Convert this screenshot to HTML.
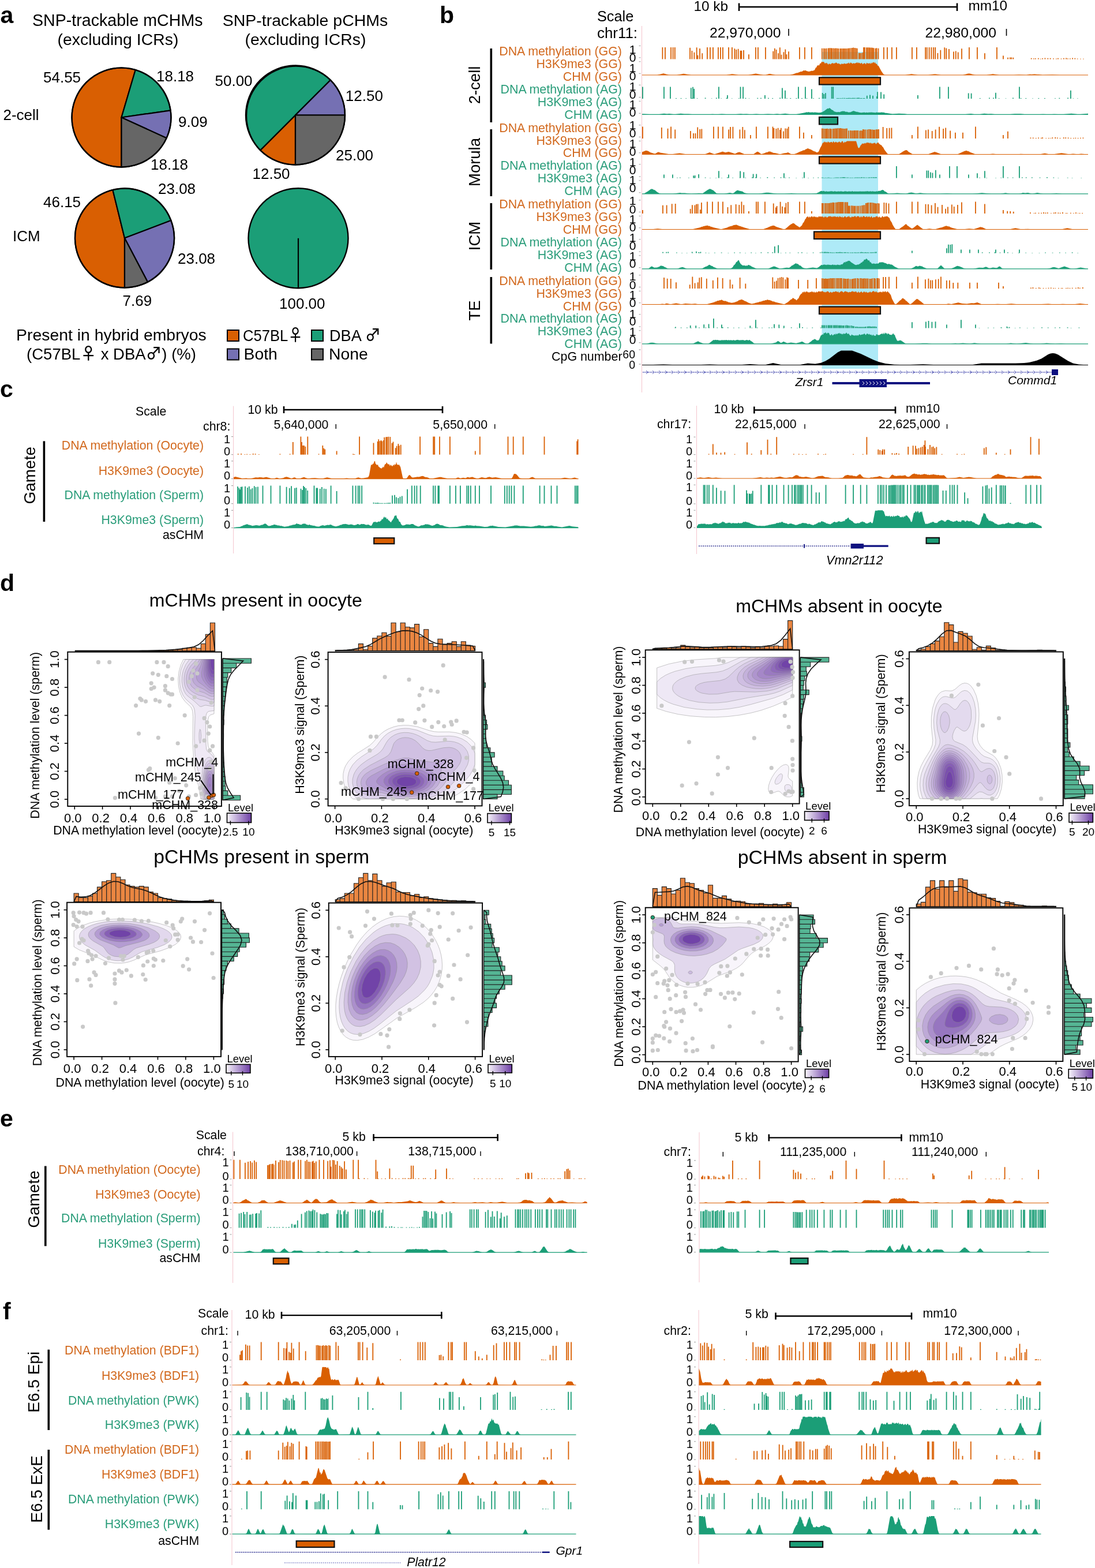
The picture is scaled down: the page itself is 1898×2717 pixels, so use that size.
<!DOCTYPE html>
<html><head><meta charset="utf-8"><title>Figure</title>
<style>html,body{margin:0;padding:0;background:#fff;}svg{display:block;}
text{font-family:"Liberation Sans", "DejaVu Sans", sans-serif;}</style></head>
<body><svg width="1898" height="2717" viewBox="0 0 1898 2717">
<rect width="1898" height="2717" fill="#fff"/>
<text x="0.5" y="39.5" font-size="41" font-weight="bold">a</text>
<text x="762" y="39.5" font-size="41" font-weight="bold">b</text>
<text x="0" y="688" font-size="41" font-weight="bold">c</text>
<text x="0" y="1023.5" font-size="41" font-weight="bold">d</text>
<text x="0" y="1952.4" font-size="41" font-weight="bold">e</text>
<text x="5" y="2285.8" font-size="41" font-weight="bold">f</text>
<path d="M210.5 203.5L210.5 289.5A86 86 0 1 1 234.8 121Z" fill="#D95F02" stroke="#000" stroke-width="2.2" stroke-linejoin="round"/>
<path d="M210.5 203.5L234.8 121A86 86 0 0 1 295.6 191.3Z" fill="#1B9E77" stroke="#000" stroke-width="2.2" stroke-linejoin="round"/>
<path d="M210.5 203.5L295.6 191.3A86 86 0 0 1 288.7 239.2Z" fill="#7570B3" stroke="#000" stroke-width="2.2" stroke-linejoin="round"/>
<path d="M210.5 203.5L288.7 239.2A86 86 0 0 1 210.5 289.5Z" fill="#666666" stroke="#000" stroke-width="2.2" stroke-linejoin="round"/>
<circle cx="210.5" cy="203.5" r="86" fill="none" stroke="#000" stroke-width="2.4"/>
<path d="M512 199.5L512 285.5A86 86 0 0 1 451.2 260.3Z" fill="#D95F02" stroke="#000" stroke-width="2.2" stroke-linejoin="round"/>
<path d="M512 199.5L451.2 260.3A86 86 0 0 1 572.8 138.7Z" fill="#1B9E77" stroke="#000" stroke-width="2.2" stroke-linejoin="round"/>
<path d="M512 199.5L572.8 138.7A86 86 0 0 1 598 199.5Z" fill="#7570B3" stroke="#000" stroke-width="2.2" stroke-linejoin="round"/>
<path d="M512 199.5L598 199.5A86 86 0 0 1 512 285.5Z" fill="#666666" stroke="#000" stroke-width="2.2" stroke-linejoin="round"/>
<circle cx="512" cy="199.5" r="86" fill="none" stroke="#000" stroke-width="2.4"/>
<path d="M216 412.5L216 498.5A86 86 0 0 1 195.4 329Z" fill="#D95F02" stroke="#000" stroke-width="2.2" stroke-linejoin="round"/>
<path d="M216 412.5L195.4 329A86 86 0 0 1 296.4 382Z" fill="#1B9E77" stroke="#000" stroke-width="2.2" stroke-linejoin="round"/>
<path d="M216 412.5L296.4 382A86 86 0 0 1 256 488.7Z" fill="#7570B3" stroke="#000" stroke-width="2.2" stroke-linejoin="round"/>
<path d="M216 412.5L256 488.7A86 86 0 0 1 216 498.5Z" fill="#666666" stroke="#000" stroke-width="2.2" stroke-linejoin="round"/>
<circle cx="216" cy="412.5" r="86" fill="none" stroke="#000" stroke-width="2.4"/>
<circle cx="517" cy="412.8" r="86.5" fill="#1B9E77"/>
<circle cx="517" cy="412.8" r="86.5" fill="none" stroke="#000" stroke-width="2.4"/>
<line x1="517" y1="412.8" x2="517" y2="499" stroke="#000" stroke-width="2.2"/>
<text x="56" y="44.5" font-size="28.6">SNP-trackable mCHMs</text>
<text x="99.5" y="77.5" font-size="28.4">(excluding ICRs)</text>
<text x="385.7" y="44.5" font-size="28.5">SNP-trackable pCHMs</text>
<text x="424.5" y="77.5" font-size="28.4">(excluding ICRs)</text>
<text x="75" y="143" font-size="26">54.55</text>
<text x="271" y="140.5" font-size="26">18.18</text>
<text x="309" y="220" font-size="26">9.09</text>
<text x="261" y="293.8" font-size="26">18.18</text>
<text x="5.5" y="208" font-size="26">2-cell</text>
<text x="372.5" y="148.8" font-size="26">50.00</text>
<text x="598.8" y="175" font-size="26">12.50</text>
<text x="582" y="278" font-size="26">25.00</text>
<text x="437.5" y="310" font-size="26">12.50</text>
<text x="75" y="358.8" font-size="26">46.15</text>
<text x="274" y="335.8" font-size="26">23.08</text>
<text x="308" y="457" font-size="26">23.08</text>
<text x="212.5" y="529.5" font-size="26">7.69</text>
<text x="22" y="417.5" font-size="26">ICM</text>
<text x="484" y="535" font-size="26">100.00</text>
<text x="28" y="590" font-size="28.4">Present in hybrid embryos</text>
<text x="46" y="622.5" font-size="28.4" textLength="294" lengthAdjust="spacingAndGlyphs">(C57BL<tspan font-family="&quot;Noto Sans CJK JP&quot;, &quot;DejaVu Sans&quot;, sans-serif" font-weight="500">♀</tspan> x DBA<tspan font-family="&quot;Noto Sans CJK JP&quot;, &quot;DejaVu Sans&quot;, sans-serif" font-weight="500">♂</tspan>) (%)</text>
<rect x="394" y="572" width="20" height="19" fill="#D95F02" stroke="#000" stroke-width="2"/>
<rect x="540" y="572" width="20" height="19" fill="#1B9E77" stroke="#000" stroke-width="2"/>
<rect x="394" y="604.5" width="20" height="19" fill="#7570B3" stroke="#000" stroke-width="2"/>
<rect x="540" y="604.5" width="20" height="19" fill="#666666" stroke="#000" stroke-width="2"/>
<text x="421" y="590.8" font-size="28.4" textLength="104" lengthAdjust="spacingAndGlyphs">C57BL<tspan font-family="&quot;Noto Sans CJK JP&quot;, &quot;DejaVu Sans&quot;, sans-serif" font-weight="500">♀</tspan></text>
<text x="571" y="590.8" font-size="28.4" textLength="89" lengthAdjust="spacingAndGlyphs">DBA <tspan font-family="&quot;Noto Sans CJK JP&quot;, &quot;DejaVu Sans&quot;, sans-serif" font-weight="500">♂</tspan></text>
<text x="422.5" y="622.5" font-size="28.4">Both</text>
<text x="570" y="622.5" font-size="28.4">None</text>
<rect x="1424.5" y="90" width="97.5" height="549" fill="#AEEAF7"/>
<line x1="1112.5" y1="45" x2="1112.5" y2="680" stroke="#F4C4CD" stroke-width="1"/>
<text x="1035" y="37" font-size="25.3">Scale</text>
<text x="1035" y="65.5" font-size="25.3" textLength="70" lengthAdjust="spacingAndGlyphs">chr11:</text>
<text x="1202.5" y="19" font-size="24.3">10 kb</text>
<text x="1678.5" y="17.5" font-size="24.3">mm10</text>
<line x1="1280" y1="12" x2="1660" y2="12" stroke="#000" stroke-width="2.6"/>
<line x1="1281" y1="5.5" x2="1281" y2="19" stroke="#000" stroke-width="2.6"/>
<line x1="1659" y1="5.5" x2="1659" y2="19" stroke="#000" stroke-width="2.6"/>
<text x="1230" y="65" font-size="24.7">22,970,000</text>
<line x1="1367" y1="50" x2="1367" y2="62" stroke="#000" stroke-width="1.6"/>
<text x="1603.5" y="65" font-size="24.7">22,980,000</text>
<line x1="1744.5" y1="50" x2="1744.5" y2="62" stroke="#000" stroke-width="1.6"/>
<text x="1078" y="96.2" font-size="21.4" text-anchor="end" fill="#D2691E">DNA methylation (GG)</text>
<text x="1078" y="118.1" font-size="21.4" text-anchor="end" fill="#D2691E">H3K9me3 (GG)</text>
<text x="1078" y="139.9" font-size="21.4" text-anchor="end" fill="#D2691E">CHM (GG)</text>
<text x="1078" y="161.8" font-size="21.4" text-anchor="end" fill="#2A9D7A">DNA methylation (AG)</text>
<text x="1078" y="183.7" font-size="21.4" text-anchor="end" fill="#2A9D7A">H3K9me3 (AG)</text>
<text x="1078" y="205.5" font-size="21.4" text-anchor="end" fill="#2A9D7A">CHM (AG)</text>
<text x="1078" y="228.8" font-size="21.4" text-anchor="end" fill="#D2691E">DNA methylation (GG)</text>
<text x="1078" y="250.6" font-size="21.4" text-anchor="end" fill="#D2691E">H3K9me3 (GG)</text>
<text x="1078" y="272.4" font-size="21.4" text-anchor="end" fill="#D2691E">CHM (GG)</text>
<text x="1078" y="294.3" font-size="21.4" text-anchor="end" fill="#2A9D7A">DNA methylation (AG)</text>
<text x="1078" y="316.1" font-size="21.4" text-anchor="end" fill="#2A9D7A">H3K9me3 (AG)</text>
<text x="1078" y="338" font-size="21.4" text-anchor="end" fill="#2A9D7A">CHM (AG)</text>
<text x="1078" y="361.2" font-size="21.4" text-anchor="end" fill="#D2691E">DNA methylation (GG)</text>
<text x="1078" y="383.1" font-size="21.4" text-anchor="end" fill="#D2691E">H3K9me3 (GG)</text>
<text x="1078" y="404.9" font-size="21.4" text-anchor="end" fill="#D2691E">CHM (GG)</text>
<text x="1078" y="426.8" font-size="21.4" text-anchor="end" fill="#2A9D7A">DNA methylation (AG)</text>
<text x="1078" y="448.6" font-size="21.4" text-anchor="end" fill="#2A9D7A">H3K9me3 (AG)</text>
<text x="1078" y="470.5" font-size="21.4" text-anchor="end" fill="#2A9D7A">CHM (AG)</text>
<text x="1078" y="493.8" font-size="21.4" text-anchor="end" fill="#D2691E">DNA methylation (GG)</text>
<text x="1078" y="515.6" font-size="21.4" text-anchor="end" fill="#D2691E">H3K9me3 (GG)</text>
<text x="1078" y="537.5" font-size="21.4" text-anchor="end" fill="#D2691E">CHM (GG)</text>
<text x="1078" y="559.3" font-size="21.4" text-anchor="end" fill="#2A9D7A">DNA methylation (AG)</text>
<text x="1078" y="581.1" font-size="21.4" text-anchor="end" fill="#2A9D7A">H3K9me3 (AG)</text>
<text x="1078" y="603" font-size="21.4" text-anchor="end" fill="#2A9D7A">CHM (AG)</text>
<text x="832" y="147.5" font-size="27.5" text-anchor="middle" transform="rotate(-90 832 147.5)">2-cell</text>
<rect x="849.5" y="84" width="3.6" height="128" fill="#000"/>
<text x="832" y="281" font-size="27.5" text-anchor="middle" transform="rotate(-90 832 281)">Morula</text>
<rect x="849.5" y="224" width="3.6" height="116" fill="#000"/>
<text x="832" y="409" font-size="27.5" text-anchor="middle" transform="rotate(-90 832 409)">ICM</text>
<rect x="849.5" y="352" width="3.6" height="115" fill="#000"/>
<text x="832" y="538" font-size="27.5" text-anchor="middle" transform="rotate(-90 832 538)">TE</text>
<rect x="849.5" y="480" width="3.6" height="115.5" fill="#000"/>
<text x="1078.5" y="625" font-size="21.4" text-anchor="end">CpG number</text>
<text x="1101" y="620.5" font-size="19.5" text-anchor="end">60</text>
<text x="1101" y="639" font-size="19.5" text-anchor="end">0</text>
<line x1="1107.5" y1="606" x2="1110.5" y2="606" stroke="#9a9a9a" stroke-width="1"/>
<line x1="1107.5" y1="631" x2="1110.5" y2="631" stroke="#9a9a9a" stroke-width="1"/>
<line x1="1107.5" y1="79.3" x2="1110.5" y2="79.3" stroke="#9a9a9a" stroke-width="1"/>
<line x1="1107.5" y1="99.9" x2="1110.5" y2="99.9" stroke="#9a9a9a" stroke-width="1"/>
<line x1="1107.5" y1="106.8" x2="1110.5" y2="106.8" stroke="#9a9a9a" stroke-width="1"/>
<line x1="1107.5" y1="127.3" x2="1110.5" y2="127.3" stroke="#9a9a9a" stroke-width="1"/>
<line x1="1107.5" y1="147.3" x2="1110.5" y2="147.3" stroke="#9a9a9a" stroke-width="1"/>
<line x1="1107.5" y1="168.5" x2="1110.5" y2="168.5" stroke="#9a9a9a" stroke-width="1"/>
<line x1="1107.5" y1="175.3" x2="1110.5" y2="175.3" stroke="#9a9a9a" stroke-width="1"/>
<line x1="1107.5" y1="196.3" x2="1110.5" y2="196.3" stroke="#9a9a9a" stroke-width="1"/>
<text x="1102.5" y="92.7" font-size="21" text-anchor="end">1</text>
<text x="1102.5" y="107.2" font-size="21" text-anchor="end">0</text>
<text x="1102.5" y="124.8" font-size="21" text-anchor="end">1</text>
<text x="1102.5" y="138.5" font-size="21" text-anchor="end">0</text>
<text x="1102.5" y="156.9" font-size="21" text-anchor="end">1</text>
<text x="1102.5" y="170.6" font-size="21" text-anchor="end">0</text>
<text x="1102.5" y="188.2" font-size="21" text-anchor="end">1</text>
<text x="1102.5" y="202" font-size="21" text-anchor="end">0</text>
<line x1="1107.5" y1="216.8" x2="1110.5" y2="216.8" stroke="#9a9a9a" stroke-width="1"/>
<line x1="1107.5" y1="237.4" x2="1110.5" y2="237.4" stroke="#9a9a9a" stroke-width="1"/>
<line x1="1107.5" y1="244.3" x2="1110.5" y2="244.3" stroke="#9a9a9a" stroke-width="1"/>
<line x1="1107.5" y1="264.8" x2="1110.5" y2="264.8" stroke="#9a9a9a" stroke-width="1"/>
<line x1="1107.5" y1="284.8" x2="1110.5" y2="284.8" stroke="#9a9a9a" stroke-width="1"/>
<line x1="1107.5" y1="306" x2="1110.5" y2="306" stroke="#9a9a9a" stroke-width="1"/>
<line x1="1107.5" y1="312.8" x2="1110.5" y2="312.8" stroke="#9a9a9a" stroke-width="1"/>
<line x1="1107.5" y1="333.8" x2="1110.5" y2="333.8" stroke="#9a9a9a" stroke-width="1"/>
<text x="1102.5" y="223.9" font-size="21" text-anchor="end">1</text>
<text x="1102.5" y="238.4" font-size="21" text-anchor="end">0</text>
<text x="1102.5" y="256" font-size="21" text-anchor="end">1</text>
<text x="1102.5" y="269.7" font-size="21" text-anchor="end">0</text>
<text x="1102.5" y="288.1" font-size="21" text-anchor="end">1</text>
<text x="1102.5" y="301.8" font-size="21" text-anchor="end">0</text>
<text x="1102.5" y="319.4" font-size="21" text-anchor="end">1</text>
<text x="1102.5" y="333.2" font-size="21" text-anchor="end">0</text>
<line x1="1107.5" y1="346.8" x2="1110.5" y2="346.8" stroke="#9a9a9a" stroke-width="1"/>
<line x1="1107.5" y1="367.4" x2="1110.5" y2="367.4" stroke="#9a9a9a" stroke-width="1"/>
<line x1="1107.5" y1="374.3" x2="1110.5" y2="374.3" stroke="#9a9a9a" stroke-width="1"/>
<line x1="1107.5" y1="394.8" x2="1110.5" y2="394.8" stroke="#9a9a9a" stroke-width="1"/>
<line x1="1107.5" y1="414.8" x2="1110.5" y2="414.8" stroke="#9a9a9a" stroke-width="1"/>
<line x1="1107.5" y1="436" x2="1110.5" y2="436" stroke="#9a9a9a" stroke-width="1"/>
<line x1="1107.5" y1="442.8" x2="1110.5" y2="442.8" stroke="#9a9a9a" stroke-width="1"/>
<line x1="1107.5" y1="463.8" x2="1110.5" y2="463.8" stroke="#9a9a9a" stroke-width="1"/>
<text x="1102.5" y="355.1" font-size="21" text-anchor="end">1</text>
<text x="1102.5" y="369.6" font-size="21" text-anchor="end">0</text>
<text x="1102.5" y="387.2" font-size="21" text-anchor="end">1</text>
<text x="1102.5" y="400.9" font-size="21" text-anchor="end">0</text>
<text x="1102.5" y="419.3" font-size="21" text-anchor="end">1</text>
<text x="1102.5" y="433" font-size="21" text-anchor="end">0</text>
<text x="1102.5" y="450.6" font-size="21" text-anchor="end">1</text>
<text x="1102.5" y="464.4" font-size="21" text-anchor="end">0</text>
<line x1="1107.5" y1="476.8" x2="1110.5" y2="476.8" stroke="#9a9a9a" stroke-width="1"/>
<line x1="1107.5" y1="497.4" x2="1110.5" y2="497.4" stroke="#9a9a9a" stroke-width="1"/>
<line x1="1107.5" y1="504.3" x2="1110.5" y2="504.3" stroke="#9a9a9a" stroke-width="1"/>
<line x1="1107.5" y1="524.8" x2="1110.5" y2="524.8" stroke="#9a9a9a" stroke-width="1"/>
<line x1="1107.5" y1="544.8" x2="1110.5" y2="544.8" stroke="#9a9a9a" stroke-width="1"/>
<line x1="1107.5" y1="566" x2="1110.5" y2="566" stroke="#9a9a9a" stroke-width="1"/>
<line x1="1107.5" y1="572.8" x2="1110.5" y2="572.8" stroke="#9a9a9a" stroke-width="1"/>
<line x1="1107.5" y1="593.8" x2="1110.5" y2="593.8" stroke="#9a9a9a" stroke-width="1"/>
<text x="1102.5" y="486.3" font-size="21" text-anchor="end">1</text>
<text x="1102.5" y="500.8" font-size="21" text-anchor="end">0</text>
<text x="1102.5" y="518.4" font-size="21" text-anchor="end">1</text>
<text x="1102.5" y="532.1" font-size="21" text-anchor="end">0</text>
<text x="1102.5" y="550.5" font-size="21" text-anchor="end">1</text>
<text x="1102.5" y="564.2" font-size="21" text-anchor="end">0</text>
<text x="1102.5" y="581.8" font-size="21" text-anchor="end">1</text>
<text x="1102.5" y="595.6" font-size="21" text-anchor="end">0</text>
<path d="M1147.5 102.5v-20.5h1.8v20.5zM1152 102.5v-20.5h1.8v20.5zM1162.1 102.5v-20.5h1.8v20.5zM1165.7 102.5v-20.5h1.8v20.5zM1168.9 102.5v-20.5h1.8v20.5zM1195.1 102.5v-19.7h1.8v19.7zM1198.5 102.5v-14.4h1.8v14.4zM1202.5 102.5v-11.8h1.8v11.8zM1206.7 102.5v-20.2h1.8v20.2zM1208.6 102.5v-6.8h1.8v6.8zM1212.1 102.5v-18.5h1.8v18.5zM1216.3 102.5v-10.3h1.8v10.3zM1225 102.5v-20.5h1.8v20.5zM1230 102.5v-20.5h1.8v20.5zM1235 102.5v-20.5h1.8v20.5zM1244 102.5v-20.5h1.8v20.5zM1248 102.5v-20.5h1.8v20.5zM1252 102.5v-20.5h1.8v20.5zM1262 102.5v-20.5h1.8v20.5zM1268 102.5v-20.5h1.8v20.5zM1272.4 102.5v-18.3h1.8v18.3zM1275.3 102.5v-16.6h1.8v16.6zM1278.7 102.5v-17.7h1.8v17.7zM1282.6 102.5v-14.7h1.8v14.7zM1284.4 102.5v-14.7h1.8v14.7zM1288.1 102.5v-15.6h1.8v15.6zM1297 102.5v-8.2h1.8v8.2zM1309 102.5v-20.5h1.8v20.5zM1313 102.5v-20.5h1.8v20.5zM1326 102.5v-20.5h1.8v20.5zM1339.3 102.5v-13.7h1.8v13.7zM1341.9 102.5v-18.7h1.8v18.7zM1344.7 102.5v-16.6h1.8v16.6zM1348.2 102.5v-10.3h1.8v10.3zM1350.9 102.5v-20.2h1.8v20.2zM1353.6 102.5v-7.8h1.8v7.8zM1357.5 102.5v-12.2h1.8v12.2zM1360.4 102.5v-17h1.8v17zM1362.5 102.5v-8.3h1.8v8.3zM1366.1 102.5v-13.2h1.8v13.2zM1385 102.5v-20.5h1.8v20.5zM1394 102.5v-20.5h1.8v20.5zM1406 102.5v-20.5h1.8v20.5zM1424 102.5v-18.7h1.8v18.7zM1427 102.5v-18.8h1.8v18.8zM1429.4 102.5v-18.6h1.8v18.6zM1431.8 102.5v-18.7h1.8v18.7zM1434.8 102.5v-19h1.8v19zM1436.8 102.5v-19.3h1.8v19.3zM1439.2 102.5v-19.3h1.8v19.3zM1441.2 102.5v-18.9h1.8v18.9zM1443.6 102.5v-19h1.8v19zM1445.8 102.5v-18.8h1.8v18.8zM1448 102.5v-19.1h1.8v19.1zM1450.4 102.5v-18.7h1.8v18.7zM1452.6 102.5v-18.6h1.8v18.6zM1455.6 102.5v-18.4h1.8v18.4zM1457.6 102.5v-18.4h1.8v18.4zM1460 102.5v-18.4h1.8v18.4zM1462.2 102.5v-18.4h1.8v18.4zM1464.4 102.5v-18.4h1.8v18.4zM1466.6 102.5v-18.4h1.8v18.4zM1469 102.5v-18.8h1.8v18.8zM1471.2 102.5v-19.1h1.8v19.1zM1473.6 102.5v-19.3h1.8v19.3zM1476 102.5v-19.5h1.8v19.5zM1478.2 102.5v-19.9h1.8v19.9zM1480.4 102.5v-19.5h1.8v19.5zM1482.6 102.5v-19.3h1.8v19.3zM1484.8 102.5v-18.8h1.8v18.8zM1488 102.5v-10.7h1.8v10.7zM1490.2 102.5v-10.5h1.8v10.5zM1492.6 102.5v-10.7h1.8v10.7zM1495 102.5v-11.4h1v11.4zM1496 102.5v-20.5h1.8v20.5zM1498 102.5v-20.4h1.8v20.4zM1501 102.5v-20.3h1.8v20.3zM1503.2 102.5v-20.2h1.8v20.2zM1505.4 102.5v-20.3h1.8v20.3zM1507.4 102.5v-20h1.8v20zM1509.6 102.5v-19.9h1.8v19.9zM1511.6 102.5v-19.7h1.8v19.7zM1513.6 102.5v-19.2h1.8v19.2zM1516.6 102.5v-18.8h1.8v18.8zM1518.6 102.5v-19.3h1.8v19.3zM1521.6 102.5v-18.7h1.8v18.7zM1531 102.5v-20.5h1.8v20.5zM1537 102.5v-20.5h1.8v20.5zM1545 102.5v-20.5h1.8v20.5zM1553 102.5v-20.5h1.8v20.5zM1580 102.5v-20.5h1.8v20.5zM1588 102.5v-20.5h1.8v20.5zM1603.2 102.5v-20.5h1.8v20.5zM1605.8 102.5v-20.5h1.8v20.5zM1609.7 102.5v-20.5h1.8v20.5zM1613.5 102.5v-20.5h1.8v20.5zM1617.1 102.5v-20.5h1.8v20.5zM1620.2 102.5v-20.5h1.8v20.5zM1624.5 102.5v-10.5h1.8v10.5zM1629.4 102.5v-15.7h1.8v15.7zM1636.3 102.5v-20.3h1.8v20.3zM1639.3 102.5v-19.1h1.8v19.1zM1644 102.5v-17.4h1.8v17.4zM1652 102.5v-12.9h1.8v12.9zM1655.8 102.5v-14h1.8v14zM1659.8 102.5v-12h1.8v12zM1666.1 102.5v-18.2h1.8v18.2zM1679 102.5v-20.5h1.8v20.5zM1693 102.5v-20.5h1.8v20.5zM1706 102.5v-10.2h1.8v10.2zM1727 102.5v-20.5h1.8v20.5zM1738 102.5v-6.1h1.8v6.1zM1746.1 102.5v-2.8h1.8v2.8zM1749.9 102.5v-3.1h1.8v3.1zM1752.3 102.5v-2.9h1.8v2.9zM1755.4 102.5v-2.8h1.8v2.8zM1786.8 102.5v-1.8h1.8v1.8zM1790.9 102.5v-1.3h1.8v1.3zM1793.9 102.5v-1.6h1.8v1.6zM1798.9 102.5v-1.8h1.8v1.8zM1802.8 102.5v-0.7h1.8v0.7zM1806.2 102.5v-1.6h1.8v1.6zM1810.5 102.5v-1.9h1.8v1.9zM1815.4 102.5v-1.7h1.8v1.7zM1819.7 102.5v-1.7h1.8v1.7zM1825.1 102.5v-1.3h1.8v1.3zM1830 102.5v-0.9h1.8v0.9zM1833 102.5v-1.7h1.8v1.7zM1838.6 102.5v-1.1h1.8v1.1zM1843 102.5v-1.8h1.8v1.8zM1847.2 102.5v-2h1.8v2zM1849.9 102.5v-1.2h1.8v1.2zM1853.9 102.5v-1.2h1.8v1.2zM1858.2 102.5v-2h1.8v2zM1862.4 102.5v-1.7h1.8v1.7zM1866.7 102.5v-0.9h1.8v0.9zM1872 102.5v-0.8h1.8v0.8zM1877 102.5v-0.8h1.8v0.8z" fill="#D95F02"/>
<path d="M1113 171v-20.5h1.8v20.5zM1150 171v-20.5h1.8v20.5zM1161 171v-20.5h1.8v20.5zM1196.9 171v-18.7h1.8v18.7zM1200.1 171v-20.3h1.8v20.3zM1202.3 171v-17h1.8v17zM1245 171v-20.5h1.8v20.5zM1260 171v-6.1h1.8v6.1zM1282.6 171v-20.5h1.8v20.5zM1287.1 171v-20.5h1.8v20.5zM1325 171v-6.1h1.8v6.1zM1355 171v-18.4h1.8v18.4zM1360 171v-14.3h1.8v14.3zM1383 171v-20.5h1.8v20.5zM1395 171v-20.5h1.8v20.5zM1406 171v-16.4h1.8v16.4zM1424.8 171v-10h1.8v10zM1427.3 171v-7.9h1.8v7.9zM1430 171v-9.7h1.8v9.7zM1440.8 171v-20.5h1.8v20.5zM1443.3 171v-20.5h1.8v20.5zM1450 171v-1.1h1.8v1.1zM1452.4 171v-1.1h1.8v1.1zM1454.6 171v-0.8h1.8v0.8zM1457 171v-1.1h1.8v1.1zM1460 171v-1.2h1.8v1.2zM1463 171v-1.2h1.8v1.2zM1466 171v-1h1.8v1zM1468.2 171v-1h1.8v1zM1470.2 171v-1.2h1.8v1.2zM1472.4 171v-1.3h1.8v1.3zM1474.6 171v-1.1h1.8v1.1zM1476.8 171v-1.2h1.8v1.2zM1478.8 171v-1.2h1.8v1.2zM1481.2 171v-1.3h1.8v1.3zM1484.2 171v-1.3h1.8v1.3zM1486.2 171v-1.5h1.8v1.5zM1488.2 171v-1.4h1.8v1.4zM1490.6 171v-1.1h1.8v1.1zM1492.6 171v-1.1h1.8v1.1zM1495.6 171v-0.9h1.8v0.9zM1497.6 171v-0.9h1.8v0.9zM1501.9 171v-5.2h1.8v5.2zM1507.1 171v-6.4h1.8v6.4zM1512.1 171v-5.2h1.8v5.2zM1519.1 171v-4.1h1.8v4.1zM1520.1 171v-11.8h1.8v11.8zM1526.1 171v-11.6h1.8v11.6zM1531.3 171v-7.4h1.8v7.4zM1590 171v-6.1h1.8v6.1zM1628 171v-20.5h1.8v20.5zM1643 171v-20.5h1.8v20.5zM1677.8 171v-9.4h1.8v9.4zM1682.7 171v-9.2h1.8v9.2zM1725 171v-10.2h1.8v10.2zM1766 171v-20.5h1.8v20.5zM1855 171v-14.3h1.8v14.3zM1171 171v-0.9h1.8v0.9zM1179.6 171v-1.1h1.8v1.1zM1188.3 171v-0.8h1.8v0.8zM1198.8 171v-0.9h1.8v0.9zM1207.7 171v-0.7h1.8v0.7zM1221.7 171v-1.4h1.8v1.4zM1232.6 171v-0.6h1.8v0.6zM1240.9 171v-1.4h1.8v1.4zM1249.2 171v-0.6h1.8v0.6zM1258.5 171v-1.3h1.8v1.3zM1267.8 171v-0.6h1.8v0.6zM1279.8 171v-0.7h1.8v0.7zM1291.5 171v-1.3h1.8v1.3zM1297.6 171v-0.6h1.8v0.6zM1312.3 171v-1.2h1.8v1.2zM1318 171v-1.3h1.8v1.3zM1331 171v-1.3h1.8v1.3zM1338.3 171v-1.1h1.8v1.1zM1351.2 171v-1.4h1.8v1.4zM1363 171v-0.8h1.8v0.8zM1369.4 171v-1h1.8v1zM1379.5 171v-0.9h1.8v0.9zM1389.1 171v-0.9h1.8v0.9zM1397.6 171v-0.7h1.8v0.7zM1409.2 171v-0.7h1.8v0.7zM1419 171v-1.2h1.8v1.2zM1697.8 171v-1.1h1.8v1.1zM1714 171v-1.4h1.8v1.4zM1721.1 171v-1.4h1.8v1.4zM1730.7 171v-0.7h1.8v0.7zM1742.5 171v-0.6h1.8v0.6zM1755 171v-1.4h1.8v1.4zM1768.7 171v-1.1h1.8v1.1zM1777.4 171v-1h1.8v1zM1789.1 171v-0.6h1.8v0.6zM1799.4 171v-0.9h1.8v0.9zM1810 171v-1.1h1.8v1.1zM1828 171v-0.7h1.8v0.7zM1835.4 171v-1.2h1.8v1.2zM1850.2 171v-1.4h1.8v1.4zM1859.5 171v-0.6h1.8v0.6zM1866.9 171v-0.6h1.8v0.6z" fill="#1B9E77"/>
<line x1="1113" y1="130" x2="1886" y2="130" stroke="#D95F02" stroke-width="1.2"/>
<path d="M1113 130L1139 130L1150 127.3L1159 129.7L1162 130L1173 129.9L1185 127.8L1198 130L1259 130L1269 128.2L1280 129.9L1297 130L1310 127.4L1323 130L1327 129.9L1333 128.1L1335 128L1344 130L1369 130L1375 128.5L1381 126.2L1382 126.4L1388 124.1L1390 124L1393 122.1L1395 122.6L1396 121.8L1398 123L1402 124.1L1406 123.1L1407 122.4L1409 123.1L1410 122L1411 122L1412 121.2L1414 116.9L1415 117.3L1416 114.4L1418 112.8L1419 113.5L1420 113.2L1421 110.4L1422 109.4L1423 109.9L1424 107L1426 107.5L1428 107L1430 110.6L1431 108.4L1432 109.9L1433 108.6L1435 111.3L1436 112L1437 109.6L1438 111.3L1439 110.6L1440 111.9L1441 109.4L1442 110.3L1443 108.7L1445 110.5L1446 109.4L1448 109.6L1449 108L1452 110.4L1454 109.5L1455 111.6L1456 110.2L1457 112.2L1459 110L1460 110.7L1462 111.1L1463 109.6L1464 110.5L1465 109.9L1466 110.8L1467 110.8L1468 109.5L1469 110.1L1470 109.8L1471 108.1L1472 110L1473 110.6L1474 107.8L1475 109.6L1476 108.5L1477 110.4L1478 110.4L1479 109L1480 109.9L1481 109.6L1482 110.2L1483 108.9L1484 109.3L1486 107.8L1487 110.3L1488 107.7L1489 109.6L1490 109L1492 110.5L1493 109.1L1494 108.8L1495 111.6L1497 109.9L1499 109.2L1501 111.7L1502 108.9L1503 108.8L1504 109.9L1505 110L1506 109.9L1507 108.7L1508 110.4L1509 110.6L1510 107.9L1511 110.8L1512 108.4L1513 108.6L1515 107.6L1516 110.1L1517 107.6L1518 110.5L1520 110.8L1521 113.8L1522 113.5L1523 114.6L1528 123.8L1531 128.1L1533 129.7L1535 130L1569 130L1580 128.3L1591 130L1609 130L1619 128.4L1622 128.4L1631 130L1669 130L1678 127.6L1681 127.4L1689 129.7L1692 130L1710 129.9L1721 128.3L1732 130L1757 130L1766 129.5L1779 130L1785 128.7L1788 128.9L1793 128.5L1798 129.1L1800 128.9L1807 130L1824 129.5L1837 130L1886 130z" fill="#D95F02"/>
<line x1="1113" y1="198.3" x2="1886" y2="198.3" stroke="#1B9E77" stroke-width="1.2"/>
<path d="M1113 198.3L1113 197.5L1116 197.4L1130 198.3L1141 198.3L1151 196.7L1156 197.4L1160 197L1169 198.3L1180 196.8L1186 197.6L1193 197.5L1203 198.3L1228 198.3L1235 197.8L1242 198.2L1251 197.6L1262 198.3L1273 198.3L1284 197.3L1288 197.7L1294 197.4L1301 198.3L1311 197.6L1319 198.2L1331 197.4L1341 198L1347 197.2L1352 198L1361 196.8L1370 198.3L1379 198.3L1396 195.1L1398 194.2L1400 194.7L1401 194.1L1404 194.8L1409 194.4L1410 195.1L1412 194.6L1419 195.2L1423 195.1L1424 194.3L1425 194.6L1427 192.9L1428 192.8L1434 188.2L1435 187.8L1436 188.5L1437 187.4L1438 187L1442 190.5L1444 191.1L1445 192.8L1446 192.7L1447 193.8L1448 193.4L1449 194.2L1450 193.9L1451 194.4L1452 193.9L1456 194.2L1457 193.5L1461 192.5L1462 193.1L1463 192.5L1464 192.7L1465 193.8L1466 193.5L1467 194.1L1468 193.6L1470 194.6L1471 194.8L1472 194.3L1473 194.7L1479 192.2L1480 192.2L1485 194.1L1486 193.6L1487 194.5L1488 194.2L1490 194.9L1494 195.2L1496 194.8L1497 195.1L1498 194.5L1500 195.2L1502 194.8L1505 195.2L1506 194.6L1508 195.1L1509 194.5L1518 195.2L1519 194.5L1522 195.1L1523 194.7L1526 195.1L1527 194.6L1533 195.1L1534 195.8L1536 195.7L1547 197.6L1558 196.8L1568 197.3L1574 198.3L1671 198.3L1683 197.1L1690 198.2L1697 198.3L1706 196.8L1713 197.6L1718 197.2L1726 198.3L1748 198.3L1759 197.3L1769 197.2L1778 198.3L1796 198.3L1808 197.7L1819 198.2L1827 197.7L1841 198.3L1857 196.8L1870 198.3L1886 196.8L1886 198.3z" fill="#1B9E77"/>
<path d="M1113 240v-20.5h1.8v20.5zM1145.9 240v-18.9h1.8v18.9zM1156.6 240v-17.2h1.8v17.2zM1162.1 240v-20.4h1.8v20.4zM1169.3 240v-15.5h1.8v15.5zM1196 240v-12.9h1.8v12.9zM1201 240v-9h1.8v9zM1204.5 240v-9.1h1.8v9.1zM1208.3 240v-19.5h1.8v19.5zM1212.3 240v-15.9h1.8v15.9zM1215.4 240v-16.5h1.8v16.5zM1236 240v-20.5h1.8v20.5zM1244 240v-20.5h1.8v20.5zM1252 240v-20.5h1.8v20.5zM1262.2 240v-15.6h1.8v15.6zM1265.1 240v-20.1h1.8v20.1zM1269.5 240v-20.3h1.8v20.3zM1281.5 240v-15.4h1.8v15.4zM1286.4 240v-20.1h1.8v20.1zM1289.9 240v-14.8h1.8v14.8zM1300 240v-6.1h1.8v6.1zM1310 240v-20.5h1.8v20.5zM1330 240v-20.5h1.8v20.5zM1338.6 240v-20.5h1.8v20.5zM1340.5 240v-18h1.8v18zM1344.5 240v-16.9h1.8v16.9zM1347.7 240v-18.2h1.8v18.2zM1351 240v-15.1h1.8v15.1zM1352.9 240v-18.3h1.8v18.3zM1357 240v-12.6h1.8v12.6zM1360.4 240v-17.5h1.8v17.5zM1363.4 240v-17.3h1.8v17.3zM1365.8 240v-20.3h1.8v20.3zM1385 240v-20.5h1.8v20.5zM1392 240v-10.2h1.8v10.2zM1406 240v-6.1h1.8v6.1zM1424 240v-17.4h1.8v17.4zM1426.4 240v-17.3h1.8v17.3zM1428.8 240v-17h1.8v17zM1431 240v-17h1.8v17zM1433 240v-17.2h1.8v17.2zM1435.4 240v-16.7h1.8v16.7zM1437.8 240v-17.2h1.8v17.2zM1439.8 240v-16.7h1.8v16.7zM1442.8 240v-17.1h1.8v17.1zM1445 240v-17.2h1.8v17.2zM1447.4 240v-17.4h1.8v17.4zM1449.4 240v-17.5h1.8v17.5zM1451.6 240v-18.1h1.8v18.1zM1454 240v-17.8h1.8v17.8zM1456 240v-17.9h1.8v17.9zM1458.2 240v-17.5h1.8v17.5zM1460.4 240v-17.3h1.8v17.3zM1462.6 240v-17h1.8v17zM1464.8 240v-17.3h1.8v17.3zM1467 240v-17.4h1.8v17.4zM1470 240v-13.8h1.8v13.8zM1473 240v-14.1h1.8v14.1zM1475.4 240v-13.8h1.8v13.8zM1477.6 240v-13.8h1.8v13.8zM1479.8 240v-14h1.8v14zM1481.8 240v-14.1h1.8v14.1zM1484.2 240v-14h1.8v14zM1486.4 240v-13.9h1.8v13.9zM1489.4 240v-13.4h1.8v13.4zM1491.6 240v-13.9h1.8v13.9zM1493.8 240v-13.6h1.2v13.6zM1495 240v-16.1h1.8v16.1zM1497 240v-15.6h1.8v15.6zM1499.4 240v-15.5h1.8v15.5zM1502.4 240v-15.5h1.8v15.5zM1504.8 240v-16h1.8v16zM1507.2 240v-15.9h1.8v15.9zM1509.2 240v-15.4h1.8v15.4zM1511.6 240v-15.6h1.8v15.6zM1513.6 240v-14.9h1.8v14.9zM1515.6 240v-15.2h1.8v15.2zM1518 240v-15.7h1.8v15.7zM1520 240v-15.7h1.8v15.7zM1522.2 240v-16.1h1.8v16.1zM1529.7 240v-19.9h1.8v19.9zM1536.3 240v-17.9h1.8v17.9zM1540.7 240v-18.3h1.8v18.3zM1544.5 240v-18.6h1.8v18.6zM1580 240v-6.1h1.8v6.1zM1590 240v-20.5h1.8v20.5zM1604 240v-14.4h1.8v14.4zM1608 240v-15.4h1.8v15.4zM1614.8 240v-13h1.8v13zM1620.7 240v-15.4h1.8v15.4zM1627.2 240v-20.2h1.8v20.2zM1634.2 240v-17h1.8v17zM1638.3 240v-18.4h1.8v18.4zM1646.2 240v-13.6h1.8v13.6zM1655 240v-10.2h1.8v10.2zM1668 240v-10.2h1.8v10.2zM1690 240v-20.5h1.8v20.5zM1738 240v-6.1h1.8v6.1zM1746 240v-12.3h1.8v12.3zM1785.5 240v-1.5h1.8v1.5zM1789.8 240v-1.6h1.8v1.6zM1794.8 240v-0.9h1.8v0.9zM1799.2 240v-1.6h1.8v1.6zM1803.9 240v-1.3h1.8v1.3zM1806.2 240v-1.7h1.8v1.7zM1812.3 240v-0.8h1.8v0.8zM1817 240v-0.9h1.8v0.9zM1820.4 240v-0.7h1.8v0.7zM1823.4 240v-1.7h1.8v1.7zM1828.3 240v-1.9h1.8v1.9zM1831.9 240v-1.6h1.8v1.6zM1836.6 240v-1.1h1.8v1.1zM1842.8 240v-1.8h1.8v1.8zM1846.3 240v-1.7h1.8v1.7zM1850.7 240v-1.4h1.8v1.4zM1855.3 240v-1h1.8v1zM1859.9 240v-1h1.8v1zM1863.4 240v-1.2h1.8v1.2zM1867.7 240v-1.1h1.8v1.1zM1872 240v-1.2h1.8v1.2zM1876.5 240v-1.5h1.8v1.5z" fill="#D95F02"/>
<path d="M1150 308.5v-6.1h1.8v6.1zM1165 308.5v-6.1h1.8v6.1zM1201.3 308.5v-4.2h1.8v4.2zM1203.7 308.5v-4.5h1.8v4.5zM1210.2 308.5v-6.6h1.8v6.6zM1245 308.5v-12.3h1.8v12.3zM1262 308.5v-6.1h1.8v6.1zM1282.2 308.5v-12.1h1.8v12.1zM1288.3 308.5v-10.3h1.8v10.3zM1304.7 308.5v-7h1.8v7zM1310.3 308.5v-7.1h1.8v7.1zM1358 308.5v-8.2h1.8v8.2zM1393 308.5v-10.2h1.8v10.2zM1424 308.5v-1h1.8v1zM1426 308.5v-0.7h1.8v0.7zM1428.2 308.5v-0.6h1.8v0.6zM1430.4 308.5v-0.7h1.8v0.7zM1432.6 308.5v-0.6h1.8v0.6zM1434.6 308.5v-0.9h1.8v0.9zM1436.6 308.5v-0.7h1.8v0.7zM1438.6 308.5v-0.6h1.8v0.6zM1440.6 308.5v-0.6h1.8v0.6zM1443.6 308.5v-0.6h1.8v0.6zM1445.8 308.5v-0.8h1.8v0.8zM1448.2 308.5v-1h1.8v1zM1450.4 308.5v-1.1h1.8v1.1zM1452.4 308.5v-1h1.8v1zM1455.4 308.5v-1.1h1.8v1.1zM1457.6 308.5v-1.2h1.8v1.2zM1460 308.5v-1.4h1.8v1.4zM1462 308.5v-1.4h1.8v1.4zM1464 308.5v-1.2h1.8v1.2zM1467 308.5v-1h1.8v1zM1469.4 308.5v-0.9h1.8v0.9zM1472.4 308.5v-0.7h1.8v0.7zM1474.6 308.5v-0.7h1.8v0.7zM1477 308.5v-0.7h1.8v0.7zM1480 308.5v-0.8h1.8v0.8zM1482.2 308.5v-0.9h1.8v0.9zM1484.4 308.5v-1.1h1.8v1.1zM1486.4 308.5v-1.1h1.8v1.1zM1488.6 308.5v-1.1h1.8v1.1zM1490.8 308.5v-1.1h1.8v1.1zM1493 308.5v-1.4h1.8v1.4zM1496 308.5v-1.3h1.8v1.3zM1498.4 308.5v-1h1.8v1zM1501.4 308.5v-0.9h1.8v0.9zM1504.4 308.5v-1.1h1.8v1.1zM1506.4 308.5v-1.2h1.8v1.2zM1509.4 308.5v-1.4h1.8v1.4zM1512.4 308.5v-1.4h1.8v1.4zM1514.6 308.5v-1.3h1.8v1.3zM1516.8 308.5v-1.4h1.8v1.4zM1519 308.5v-1.4h1v1.4zM1553 308.5v-20.5h1.8v20.5zM1580 308.5v-6.1h1.8v6.1zM1605.4 308.5v-12.9h1.8v12.9zM1608.3 308.5v-13h1.8v13zM1612 308.5v-10h1.8v10zM1615.5 308.5v-9.1h1.8v9.1zM1620.9 308.5v-13.7h1.8v13.7zM1628 308.5v-6.1h1.8v6.1zM1645 308.5v-20.5h1.8v20.5zM1658 308.5v-20.5h1.8v20.5zM1678 308.5v-6.1h1.8v6.1zM1693 308.5v-8.2h1.8v8.2zM1706 308.5v-12.3h1.8v12.3zM1738 308.5v-20.5h1.8v20.5zM1766 308.5v-20.5h1.8v20.5zM1173 308.5v-0.8h1.8v0.8zM1177.9 308.5v-0.9h1.8v0.9zM1192.9 308.5v-0.7h1.8v0.7zM1201.8 308.5v-1.3h1.8v1.3zM1210.3 308.5v-0.7h1.8v0.7zM1221.7 308.5v-0.9h1.8v0.9zM1230 308.5v-0.6h1.8v0.6zM1240.2 308.5v-0.6h1.8v0.6zM1250.2 308.5v-0.6h1.8v0.6zM1259.9 308.5v-1.2h1.8v1.2zM1269.3 308.5v-0.7h1.8v0.7zM1281.7 308.5v-1h1.8v1zM1291.3 308.5v-0.8h1.8v0.8zM1302.9 308.5v-1.2h1.8v1.2zM1308.9 308.5v-1.3h1.8v1.3zM1317.3 308.5v-0.7h1.8v0.7zM1329.4 308.5v-1.4h1.8v1.4zM1341.3 308.5v-0.9h1.8v0.9zM1352.6 308.5v-1.3h1.8v1.3zM1360.5 308.5v-0.8h1.8v0.8zM1367.1 308.5v-0.9h1.8v0.9zM1379.3 308.5v-0.6h1.8v0.6zM1390.2 308.5v-0.7h1.8v0.7zM1400.2 308.5v-0.6h1.8v0.6zM1409.1 308.5v-0.7h1.8v0.7zM1417.4 308.5v-1h1.8v1zM1697.2 308.5v-0.8h1.8v0.8zM1709.3 308.5v-0.6h1.8v0.6zM1725.2 308.5v-0.6h1.8v0.6zM1734.4 308.5v-0.8h1.8v0.8zM1745.9 308.5v-1.1h1.8v1.1zM1754.7 308.5v-0.9h1.8v0.9zM1770.9 308.5v-1.3h1.8v1.3zM1777.8 308.5v-1.3h1.8v1.3zM1787.9 308.5v-1.3h1.8v1.3zM1801.6 308.5v-1.1h1.8v1.1zM1814 308.5v-1.4h1.8v1.4zM1825.4 308.5v-1.1h1.8v1.1zM1833.5 308.5v-0.6h1.8v0.6zM1849.7 308.5v-0.7h1.8v0.7zM1857.6 308.5v-0.6h1.8v0.6zM1873.4 308.5v-0.6h1.8v0.6z" fill="#1B9E77"/>
<line x1="1113" y1="267.5" x2="1886" y2="267.5" stroke="#D95F02" stroke-width="1.2"/>
<path d="M1113 267.5L1113 263.6L1119 261.1L1121 261.1L1124 262L1127 263.9L1134 266.3L1136 266.3L1140 263.7L1142 263.4L1144 264.5L1162 267.5L1178 265.5L1191 267.4L1220 267.5L1224 266.5L1230 264.1L1237 266.7L1239 267L1253 262.6L1254 263.5L1255 263.2L1257 264.3L1263 263.1L1274 266.4L1279 264.1L1282 263.5L1290 267L1293 267.5L1306 267.2L1312 262.9L1313 262.7L1315 263.5L1319 266.8L1320 267.1L1325 265.6L1328 264.1L1330 263.9L1332 262.5L1333 262.9L1334 262.2L1341 265L1344 265.2L1351 266.9L1353 267L1359 265.4L1363 265.1L1366 264L1371 267L1375 267.5L1380 265.9L1386 262.9L1387 263L1388 262L1389 262.1L1391 261.3L1392 260.2L1393 260.5L1395 259.9L1396 258.8L1398 258.2L1399 257.4L1401 257.1L1402 258.2L1403 258.1L1404 258.8L1405 258.7L1410 261.8L1414 263L1415 263.9L1417 264.1L1419 262.7L1422 255.7L1424 252.5L1426 247.2L1427 247.8L1429 244.7L1430 247.5L1431 245.2L1432 247.1L1433 245.9L1434 247.7L1435 245.1L1436 245.7L1437 247.1L1442 245.8L1443 248L1444 245.5L1445 244.7L1446 246.7L1447 247L1449 245.3L1450 246.6L1452 247.2L1453 245.3L1454 246.9L1455 244.8L1457 247.2L1458 246.9L1459 244.7L1461 244.8L1462 247.9L1463 247.2L1464 245L1465 246.9L1466 245.7L1467 245.5L1468 244.5L1484 244.5L1487 254.7L1488 256.6L1489 256.5L1490 255.5L1492 251.2L1493 251.1L1494 249.1L1495 248.5L1496 249.3L1497 248.5L1498 249L1499 247.5L1500 248.6L1501 248.4L1502 246.6L1503 247.9L1504 246.5L1506 247.9L1507 247L1508 248.9L1509 246.7L1511 249.3L1512 247.7L1513 249.2L1514 247.7L1517 247.4L1518 249.5L1519 249.5L1520 247.3L1521 247.8L1522 246.6L1524 249.3L1527 251.6L1528 251.5L1529 253.4L1531 255.6L1533 259.6L1538 266L1539 267L1541 267.5L1558 267.3L1566 262.1L1569 260.5L1571 260.1L1573 261L1574 262.5L1581 266.8L1584 267.5L1608 267.4L1620 262.9L1621 263.6L1622 263.6L1632 267.4L1658 267.5L1661 266.7L1669 262.9L1670 262.8L1671 262L1675 261.1L1676 261.2L1678 262.3L1679 262.1L1681 263.4L1690 267.1L1692 267.5L1711 267.5L1721 266.4L1731 267.5L1763 267.5L1769 266.8L1784 267.5L1801 267.5L1811 265.7L1820 267.4L1824 267.5L1840 265.3L1853 267.2L1860 266.6L1868 267.3L1874 266.6L1886 267.5z" fill="#D95F02"/>
<line x1="1113" y1="335.8" x2="1886" y2="335.8" stroke="#1B9E77" stroke-width="1.2"/>
<path d="M1113 335.8L1115 335.8L1117 335.1L1123 331.6L1128 327.7L1129 328.1L1130 326.7L1131 328.1L1132 328.1L1133 329.1L1135 329.3L1139 332.8L1143 335.1L1146 335.8L1166 335.8L1179 334L1181 334.5L1187 334.6L1198 335.7L1211 334.7L1218 334.9L1227 328.7L1228 328.6L1230 327L1231 328.1L1232 327.3L1234 329L1236 329.5L1242 335.1L1245 335.8L1255 335.8L1265 334.1L1270 335.1L1272 334.2L1276 330.7L1279 329.6L1280 330.3L1287 331.8L1290 333.9L1297 335.8L1315 335.7L1328 333.7L1332 333.7L1347 335.8L1360 335.8L1372 334.7L1382 335.8L1406 335.8L1415 335L1420 332.8L1421 331.8L1424 330.8L1426 331.4L1427 330.8L1431 332L1432 331.2L1435 332L1436 331.4L1437 332L1438 331.6L1442 331.3L1445 331.9L1446 331.3L1451 332L1452 331.6L1456 331.8L1458 331.3L1459 331.8L1463 331.9L1464 331.3L1470 332L1471 331.3L1472 331.8L1474 331.6L1475 332L1477 331.3L1478 331.3L1479 332L1482 331.6L1483 332L1484 331.4L1486 331.9L1487 331.4L1489 332L1490 331.3L1491 331.8L1493 331.4L1494 331.9L1495 331.4L1497 331.8L1505 331.2L1506 331.9L1508 331.3L1511 331.7L1513 331.3L1515 332L1516 331.5L1517 331.9L1520 331.2L1521 331.8L1523 330.7L1526 330.8L1528 329.5L1530 329.1L1531 329.2L1534 331.9L1535 332.1L1539 335.1L1541 335.7L1555 334.6L1570 335.7L1576 334.1L1580 333.5L1588 335.2L1595 334.3L1607 335.8L1629 335.8L1641 335.1L1652 335.8L1686 335.8L1702 334.3L1718 335.7L1734 335.8L1743 334.2L1751 335.7L1766 335.8L1769 335.3L1773 333.9L1777 334.4L1782 334.1L1789 335.8L1798 334L1808 335.8L1821 335.8L1831 334.8L1841 335.8L1886 335.8z" fill="#1B9E77"/>
<path d="M1113 370v-6.1h1.8v6.1zM1148 370v-14.3h1.8v14.3zM1154.7 370v-14.5h1.8v14.5zM1163.8 370v-16.8h1.8v16.8zM1169.8 370v-17.1h1.8v17.1zM1195.8 370v-8.1h1.8v8.1zM1199 370v-14.7h1.8v14.7zM1203.5 370v-14.4h1.8v14.4zM1206.2 370v-16.2h1.8v16.2zM1208.7 370v-16.6h1.8v16.6zM1212.9 370v-6.8h1.8v6.8zM1215 370v-19h1.8v19zM1225 370v-20.5h1.8v20.5zM1234 370v-20.5h1.8v20.5zM1244 370v-20.5h1.8v20.5zM1252 370v-20.5h1.8v20.5zM1260.5 370v-11h1.8v11zM1266.3 370v-14.8h1.8v14.8zM1274.7 370v-16h1.8v16zM1280.4 370v-14.9h1.8v14.9zM1284.5 370v-20.4h1.8v20.4zM1288.3 370v-14.7h1.8v14.7zM1297 370v-4.1h1.8v4.1zM1310 370v-20.5h1.8v20.5zM1313 370v-20.5h1.8v20.5zM1325 370v-20.5h1.8v20.5zM1339.8 370v-17.5h1.8v17.5zM1343.9 370v-10.4h1.8v10.4zM1345.7 370v-13h1.8v13zM1351.7 370v-20.2h1.8v20.2zM1355.2 370v-12.3h1.8v12.3zM1359.4 370v-10.7h1.8v10.7zM1361.5 370v-18.3h1.8v18.3zM1365 370v-20h1.8v20zM1385 370v-20.5h1.8v20.5zM1394 370v-20.5h1.8v20.5zM1406 370v-4.1h1.8v4.1zM1424 370v-17.9h1.8v17.9zM1426 370v-18.1h1.8v18.1zM1429 370v-17.9h1.8v17.9zM1431.4 370v-18.1h1.8v18.1zM1433.8 370v-18h1.8v18zM1436.2 370v-18h1.8v18zM1438.4 370v-18.5h1.8v18.5zM1440.6 370v-18.8h1.8v18.8zM1442.8 370v-19.2h1.8v19.2zM1444.8 370v-18.9h1.8v18.9zM1447.8 370v-19.3h1.8v19.3zM1450.2 370v-19.6h1.8v19.6zM1452.4 370v-20.1h1.8v20.1zM1454.6 370v-20.1h1.8v20.1zM1456.6 370v-20.1h1.8v20.1zM1458.6 370v-20.1h1.8v20.1zM1460.6 370v-20h1.8v20zM1463.6 370v-19.8h1.8v19.8zM1465.8 370v-19.8h1.8v19.8zM1468.2 370v-19.8h1.8v19.8zM1470 370v-13.6h1.8v13.6zM1472.2 370v-13.6h1.8v13.6zM1475.2 370v-13.7h1.8v13.7zM1477.4 370v-13.4h1.8v13.4zM1479.6 370v-13.3h1.8v13.3zM1481.6 370v-13.3h1.8v13.3zM1484.6 370v-13.3h1.8v13.3zM1487 370v-13.3h1.8v13.3zM1490 370v-13.5h1.8v13.5zM1493 370v-13.9h1.8v13.9zM1495.4 370v-14.4h1.8v14.4zM1497.6 370v-14.8h1.8v14.8zM1500 370v-18h1.8v18zM1502.2 370v-18.6h1.8v18.6zM1504.2 370v-19.1h1.8v19.1zM1507.2 370v-18.9h1.8v18.9zM1509.4 370v-19h1.8v19zM1511.8 370v-18.7h1.8v18.7zM1514 370v-18.2h1.8v18.2zM1516.2 370v-17.8h1.8v17.8zM1518.2 370v-17.6h1.8v17.6zM1520.6 370v-18h1.8v18zM1522.8 370v-17.6h1.8v17.6zM1531.5 370v-19.1h1.8v19.1zM1535.2 370v-18.5h1.8v18.5zM1539.6 370v-17.6h1.8v17.6zM1553 370v-20.5h1.8v20.5zM1580 370v-20.5h1.8v20.5zM1590 370v-20.5h1.8v20.5zM1603.6 370v-16.3h1.8v16.3zM1608 370v-15.9h1.8v15.9zM1613.7 370v-14.6h1.8v14.6zM1620 370v-18.1h1.8v18.1zM1624.6 370v-11.3h1.8v11.3zM1632.1 370v-15h1.8v15zM1638.2 370v-8.2h1.8v8.2zM1642 370v-11.4h1.8v11.4zM1648.9 370v-15.5h1.8v15.5zM1652.8 370v-12h1.8v12zM1659 370v-14.9h1.8v14.9zM1666 370v-19.5h1.8v19.5zM1690 370v-20.5h1.8v20.5zM1706 370v-16.4h1.8v16.4zM1738 370v-6.1h1.8v6.1zM1745.3 370v-4.2h1.8v4.2zM1750.3 370v-4.1h1.8v4.1zM1755.8 370v-3.3h1.8v3.3zM1785 370v-1.8h1.8v1.8zM1791.5 370v-0.7h1.8v0.7zM1794 370v-1.3h1.8v1.3zM1799.6 370v-1.2h1.8v1.2zM1804.2 370v-1.2h1.8v1.2zM1808 370v-2h1.8v2zM1811.4 370v-1.5h1.8v1.5zM1814.8 370v-1.8h1.8v1.8zM1820.9 370v-0.8h1.8v0.8zM1825.8 370v-1.4h1.8v1.4zM1828.7 370v-2h1.8v2zM1833.4 370v-1.6h1.8v1.6zM1836.8 370v-1.2h1.8v1.2zM1841 370v-2h1.8v2zM1846.9 370v-0.9h1.8v0.9zM1849.3 370v-0.7h1.8v0.7zM1854.9 370v-1.2h1.8v1.2zM1860.1 370v-0.8h1.8v0.8zM1864 370v-1.7h1.8v1.7zM1867.6 370v-0.6h1.8v0.6zM1870.6 370v-0.9h1.8v0.9zM1875.2 370v-0.9h1.8v0.9z" fill="#D95F02"/>
<path d="M1148.1 438.5v-1.7h1.8v1.7zM1154.3 438.5v-1.8h1.8v1.8zM1157.4 438.5v-2h1.8v2zM1198.8 438.5v-2h1.8v2zM1206 438.5v-2.8h1.8v2.8zM1210.2 438.5v-1.5h1.8v1.5zM1213.5 438.5v-2h1.8v2zM1341.9 438.5v-11.6h1.8v11.6zM1348.2 438.5v-13.8h1.8v13.8zM1424 438.5v-2h1.8v2zM1427 438.5v-1.7h1.8v1.7zM1429.2 438.5v-2h1.8v2zM1431.4 438.5v-1.8h1.8v1.8zM1433.6 438.5v-1.8h1.8v1.8zM1435.6 438.5v-1.6h1.8v1.6zM1438.6 438.5v-1.4h1.8v1.4zM1441 438.5v-1.1h1.8v1.1zM1443.2 438.5v-1h1.8v1zM1445.6 438.5v-1.1h1.8v1.1zM1448.6 438.5v-1.4h1.8v1.4zM1450.6 438.5v-1.2h1.8v1.2zM1452.8 438.5v-1.5h1.8v1.5zM1455 438.5v-1.7h1.8v1.7zM1457.4 438.5v-1.6h1.8v1.6zM1459.6 438.5v-1.3h1.8v1.3zM1462.6 438.5v-1.4h1.8v1.4zM1464.8 438.5v-1.5h1.8v1.5zM1467.8 438.5v-1.2h1.8v1.2zM1470.2 438.5v-1h1.8v1zM1473.2 438.5v-1.1h1.8v1.1zM1475.6 438.5v-1h1.8v1zM1477.6 438.5v-1h1.8v1zM1480.6 438.5v-1.3h1.8v1.3zM1482.6 438.5v-1.1h1.8v1.1zM1484.8 438.5v-1h1.8v1zM1487 438.5v-1.2h1.8v1.2zM1490 438.5v-1.3h1.8v1.3zM1492.2 438.5v-1.7h1.8v1.7zM1494.4 438.5v-1.4h1.8v1.4zM1496.6 438.5v-1.1h1.8v1.1zM1498.8 438.5v-1.4h1.8v1.4zM1500.8 438.5v-1h1.8v1zM1502.8 438.5v-1.3h1.8v1.3zM1505 438.5v-1h1.8v1zM1508 438.5v-1.2h1.8v1.2zM1510.2 438.5v-1.2h1.8v1.2zM1512.6 438.5v-1.4h1.8v1.4zM1515.6 438.5v-1.7h1.8v1.7zM1517.8 438.5v-1.9h1.8v1.9zM1580 438.5v-4.1h1.8v4.1zM1640 438.5v-8.2h1.8v8.2zM1643 438.5v-14.7h1.8v14.7zM1646.4 438.5v-14.6h1.8v14.6zM1649.4 438.5v-15.3h1.8v15.3zM1665 438.5v-6.1h1.8v6.1zM1680 438.5v-6.1h1.8v6.1zM1695 438.5v-6.1h1.8v6.1zM1725 438.5v-6.1h1.8v6.1zM1740 438.5v-6.1h1.8v6.1zM1766 438.5v-6.1h1.8v6.1zM1172 438.5v-1.1h1.8v1.1zM1181.2 438.5v-0.6h1.8v0.6zM1189.7 438.5v-0.6h1.8v0.6zM1199.5 438.5v-0.6h1.8v0.6zM1212.2 438.5v-0.8h1.8v0.8zM1222.5 438.5v-0.8h1.8v0.8zM1227.8 438.5v-0.6h1.8v0.6zM1238 438.5v-0.8h1.8v0.8zM1249.7 438.5v-1.1h1.8v1.1zM1261.5 438.5v-0.6h1.8v0.6zM1272.2 438.5v-1.1h1.8v1.1zM1281.8 438.5v-0.9h1.8v0.9zM1291.2 438.5v-0.6h1.8v0.6zM1301.3 438.5v-0.9h1.8v0.9zM1308.9 438.5v-0.6h1.8v0.6zM1318.5 438.5v-1.2h1.8v1.2zM1330.3 438.5v-1.3h1.8v1.3zM1338.3 438.5v-1.3h1.8v1.3zM1352.7 438.5v-0.6h1.8v0.6zM1361 438.5v-0.7h1.8v0.7zM1368.4 438.5v-0.7h1.8v0.7zM1382.8 438.5v-1h1.8v1zM1389 438.5v-1.2h1.8v1.2zM1397.9 438.5v-0.6h1.8v0.6zM1408.7 438.5v-0.9h1.8v0.9zM1420.9 438.5v-1.2h1.8v1.2zM1701.8 438.5v-1.3h1.8v1.3zM1714.1 438.5v-1.2h1.8v1.2zM1723.2 438.5v-1.2h1.8v1.2zM1732.6 438.5v-0.9h1.8v0.9zM1745.9 438.5v-1.2h1.8v1.2zM1754 438.5v-0.6h1.8v0.6zM1764.6 438.5v-0.6h1.8v0.6zM1777.3 438.5v-0.8h1.8v0.8zM1788.3 438.5v-0.6h1.8v0.6zM1800.6 438.5v-0.6h1.8v0.6zM1811.1 438.5v-1h1.8v1zM1823.6 438.5v-0.8h1.8v0.8zM1835.9 438.5v-1.1h1.8v1.1zM1846.2 438.5v-0.8h1.8v0.8zM1857.7 438.5v-1.3h1.8v1.3zM1867.3 438.5v-0.6h1.8v0.6z" fill="#1B9E77"/>
<line x1="1113" y1="397.5" x2="1886" y2="397.5" stroke="#D95F02" stroke-width="1.2"/>
<path d="M1113 397.5L1127 397.5L1140 396.3L1153 397.5L1199 397.5L1214 393.9L1215 393.2L1218 392.7L1219 391.9L1221 392.1L1222 391.1L1223 391.5L1226 390.6L1228 391.7L1229 391.3L1233 393.2L1234 392.8L1235 393.7L1250 397.3L1260 394.5L1263 393L1268 391.6L1269 391.8L1270 390.8L1273 389.7L1274 390.1L1275 389.6L1277 389.6L1278 390.3L1280 390.7L1281 391.8L1282 391.6L1286 393.1L1288 393.4L1289 394.1L1301 397.5L1322 397.4L1331 394.3L1333 393L1334 393.1L1335 392.2L1340 390.8L1342 391L1345 392.8L1359 397.4L1361 396.7L1363 395.3L1369 390.1L1372 388.1L1373 388.1L1374 386.4L1377 387.5L1379 389.4L1386 394L1390 390.5L1392 385.9L1393 385.5L1396 379.3L1397 378.7L1398 376L1399 375.9L1400 374.5L1402 377.4L1403 374.5L1404 376.4L1405 376.7L1406 374.5L1407 375.6L1408 374.5L1409 376.8L1411 374.5L1413 376.6L1414 374.7L1415 377.3L1416 375.5L1418 377.1L1419 374.5L1421 375.7L1422 374.5L1423 376.1L1424 374.5L1425 376.3L1426 374.5L1428 377.2L1430 374.5L1431 376.7L1432 374.6L1433 377.2L1437 374.5L1438 375.3L1439 374.5L1440 374.7L1441 376.1L1442 375L1443 376.4L1444 374.5L1445 375.7L1447 374.5L1448 376L1449 375L1450 376.1L1451 376.3L1452 374.6L1454 377L1455 374.5L1459 376.8L1460 374.5L1461 377.2L1465 374.5L1467 377.1L1469 374.9L1470 376L1471 374.6L1472 374.5L1473 377L1474 375.8L1475 377.4L1476 375.5L1477 375L1478 376.3L1479 375.3L1480 376.1L1481 374.5L1483 374.5L1484 377.1L1485 375.3L1486 374.5L1488 374.9L1489 374.5L1490 376.8L1491 376.8L1492 374.9L1493 374.8L1494 377L1496 374.5L1498 374.5L1499 376L1500 375.7L1501 376.2L1502 374.5L1503 374.9L1504 376.9L1505 374.8L1506 376L1507 374.5L1508 376.4L1509 376.7L1510 375L1511 374.5L1512 377.2L1513 377.4L1514 375.4L1515 376.6L1516 375.9L1517 376.7L1518 374.9L1519 374.7L1520 375L1521 374.5L1522 376.9L1523 376.6L1524 374.5L1525 376.6L1526 377L1527 376.4L1528 377.3L1529 374.5L1530 374.5L1531 376.1L1532 376.4L1534 374.5L1535 376.1L1536 374.5L1537 374.9L1538 374.7L1542 378.1L1543 381.6L1546 385.9L1547 389L1550 394.1L1552 396.8L1554 397.5L1557 397.5L1559 396.7L1562 394.2L1565 392.5L1570 388.3L1571 388.5L1573 390.9L1575 391.9L1576 393.1L1580 395.7L1581 395.9L1583 395.1L1590 389.5L1599 396.6L1602 397.5L1611 396.3L1620 397.4L1630 394.5L1632 394.3L1640 391.3L1644 392.5L1645 392.3L1648 394L1651 394.9L1661 397.5L1667 397.5L1680 396.2L1688 396.9L1696 394.6L1699 393.2L1703 394.1L1709 397L1712 397.5L1749 397.5L1760 395.3L1770 397.3L1781 396.8L1795 397.5L1839 397.5L1850 395.2L1861 397.5L1886 397.5z" fill="#D95F02"/>
<line x1="1113" y1="465.8" x2="1886" y2="465.8" stroke="#1B9E77" stroke-width="1.2"/>
<path d="M1113 465.8L1124 465.5L1129 461.4L1131 461.9L1134 463.7L1139 463.6L1143 462L1145 460.5L1146 460.3L1148 461.1L1149 460.7L1152 462.8L1153 462.9L1158 465.5L1160 465.8L1174 465.7L1179 463.7L1183 462.8L1191 465.8L1215 465.8L1217 465.3L1223 462.1L1224 462.1L1226 460.7L1227 460.7L1228 459.3L1230 458.8L1233 460.7L1235 461.1L1236 462.2L1244 465.6L1265 465.8L1268 464.5L1270 462.9L1272 459.5L1273 459.1L1275 456.5L1276 454L1277 454L1280 450.4L1281 451.4L1282 454.3L1284 457.4L1287 459.7L1288 460.2L1289 459.8L1291 459.9L1292 460.8L1294 460.1L1295 460.8L1297 459L1299 459.2L1300 460.4L1301 460.2L1303 462L1312 465.7L1331 465.7L1341 461.5L1343 461.8L1352 465.6L1363 463.8L1368 464L1371 461.8L1372 460.4L1374 459.8L1378 456.9L1380 456.1L1381 457.5L1382 456.9L1384 458.1L1385 459.4L1388 460.4L1390 462.7L1392 463.9L1395 464.8L1398 465L1409 463.4L1416 464.5L1420 462.2L1421 461.1L1422 460.8L1423 459.2L1424 458.9L1425 459.6L1428 458.6L1430 458.5L1431 459.3L1432 458.4L1433 459.4L1434 458.5L1441 459.2L1444 458.2L1445 459.4L1447 458.6L1448 459.4L1449 459L1450 459.5L1451 458.5L1452 458.5L1453 459.2L1454 458.8L1456 459.4L1458 458L1460 458.2L1463 454.6L1464 454L1465 455.2L1466 452.9L1467 453.7L1469 452.8L1470 451.7L1471 452.2L1472 451.7L1473 452.3L1475 454.3L1482 458.7L1484 459.2L1486 458.4L1489 458.3L1490 456.8L1491 457.3L1492 455.4L1493 454.8L1494 455.3L1495 453L1496 453.3L1497 452.1L1498 449.4L1499 450.1L1500 449.9L1501 448.6L1502 448.3L1503 449L1505 451.8L1506 450.8L1507 451.7L1508 454.8L1509 453.7L1510 455.5L1512 457.4L1513 456.3L1514 456.9L1515 456.2L1516 456.9L1518 457.3L1519 456.4L1520 456.9L1521 456.2L1522 457.2L1524 454.8L1530 454.2L1531 455.1L1532 454.6L1533 456L1534 455.4L1539 457.9L1540 456.9L1541 457.5L1542 457.4L1543 458.3L1546 458.5L1551 462.3L1558 465.5L1560 465.8L1578 465.7L1583 463.7L1586 462.1L1587 461L1588 460.7L1591 461.8L1594 460.6L1599 461.8L1600 462.7L1607 465.6L1623 465.8L1625 465.2L1631 459.5L1637 465.2L1639 465.8L1648 465.6L1653 463.8L1659 460.8L1661 461L1662 461.6L1663 461.2L1664 462.3L1665 462.2L1671 465.1L1674 465.8L1687 465.7L1697 463.7L1704 464L1709 462.3L1714 464.5L1717 464.5L1721 463.6L1727 464.3L1729 463.8L1731 462L1733 461.4L1737 464.9L1740 465.8L1815 465.8L1821 464.6L1825 463.1L1828 462.9L1835 464.9L1845 461.5L1857 465.7L1862 465.7L1873 463.4L1886 465.8z" fill="#1B9E77"/>
<path d="M1150.1 500v-18.9h1.8v18.9zM1155.8 500v-17.2h1.8v17.2zM1161.8 500v-17h1.8v17zM1171 500v-10.8h1.8v10.8zM1194.8 500v-6.7h1.8v6.7zM1199.4 500v-20.5h1.8v20.5zM1203.6 500v-9.4h1.8v9.4zM1208.7 500v-10.7h1.8v10.7zM1211.4 500v-18.8h1.8v18.8zM1214.9 500v-19.8h1.8v19.8zM1223.9 500v-17.2h1.8v17.2zM1234.9 500v-14.3h1.8v14.3zM1243 500v-19.2h1.8v19.2zM1251.7 500v-17.9h1.8v17.9zM1264.6 500v-15.4h1.8v15.4zM1268.7 500v-6.9h1.8v6.9zM1281.7 500v-18.9h1.8v18.9zM1291.4 500v-8.6h1.8v8.6zM1338.4 500v-19.4h1.8v19.4zM1341.7 500v-12h1.8v12zM1345 500v-13.5h1.8v13.5zM1347.7 500v-18.2h1.8v18.2zM1350.9 500v-19h1.8v19zM1353.7 500v-20h1.8v20zM1356.5 500v-19.2h1.8v19.2zM1360.4 500v-15.8h1.8v15.8zM1363.3 500v-19.6h1.8v19.6zM1365.2 500v-18.4h1.8v18.4zM1383.1 500v-15.1h1.8v15.1zM1399.3 500v-15h1.8v15zM1414 500v-17.9h1.8v17.9zM1424 500v-17.8h1.8v17.8zM1426.4 500v-17.4h1.8v17.4zM1428.4 500v-16.9h1.8v16.9zM1430.4 500v-17.4h1.8v17.4zM1432.4 500v-17.1h1.8v17.1zM1434.4 500v-17.2h1.8v17.2zM1436.6 500v-17.6h1.8v17.6zM1438.8 500v-18h1.8v18zM1441 500v-17.8h1.8v17.8zM1443.2 500v-18h1.8v18zM1445.6 500v-18h1.8v18zM1448.6 500v-18h1.8v18zM1451 500v-18h1.8v18zM1453.4 500v-18h1.8v18zM1455.8 500v-18h1.8v18zM1457.8 500v-18h1.8v18zM1460.8 500v-17.4h1.8v17.4zM1463 500v-17.3h1.8v17.3zM1465.2 500v-16.9h1.8v16.9zM1467.6 500v-17h1.8v17zM1469.6 500v-17.2h1.8v17.2zM1472.6 500v-16.5h1.8v16.5zM1475.6 500v-16.6h1.8v16.6zM1477.6 500v-16.9h1.8v16.9zM1479.8 500v-17.6h1.8v17.6zM1482 500v-17.7h1.8v17.7zM1485 500v-18h1.8v18zM1487.4 500v-17.5h1.8v17.5zM1490.4 500v-17.9h1.8v17.9zM1492.6 500v-17.7h1.8v17.7zM1494.8 500v-17.2h1.8v17.2zM1496.8 500v-17.8h1.8v17.8zM1499 500v-17.6h1.8v17.6zM1501.4 500v-17.6h1.8v17.6zM1503.6 500v-17.6h1.8v17.6zM1506.6 500v-16.9h1.8v16.9zM1508.8 500v-17.1h1.8v17.1zM1511 500v-17.8h1.8v17.8zM1514 500v-18h1.8v18zM1516.2 500v-17.6h1.8v17.6zM1519.2 500v-18h1.8v18zM1521.2 500v-18h1.8v18zM1523.6 500v-17.4h1.4v17.4zM1530.2 500v-20.1h1.8v20.1zM1534.2 500v-20.1h1.8v20.1zM1540 500v-20.3h1.8v20.3zM1553 500v-20.5h1.8v20.5zM1580 500v-10.2h1.8v10.2zM1590 500v-20.5h1.8v20.5zM1603 500v-15.8h1.8v15.8zM1608.5 500v-17.2h1.8v17.2zM1612 500v-14.4h1.8v14.4zM1615.3 500v-14.6h1.8v14.6zM1620.9 500v-15.7h1.8v15.7zM1625.8 500v-16.5h1.8v16.5zM1630 500v-20.5h1.8v20.5zM1639.9 500v-14.1h1.8v14.1zM1645 500v-14.3h1.8v14.3zM1651.4 500v-10.1h1.8v10.1zM1659.4 500v-10.3h1.8v10.3zM1680 500v-10.2h1.8v10.2zM1693 500v-10.2h1.8v10.2zM1730 500v-10.2h1.8v10.2zM1738 500v-4.1h1.8v4.1zM1786 500v-1.5h1.8v1.5zM1789.5 500v-2h1.8v2zM1794.8 500v-1.1h1.8v1.1zM1799.9 500v-1.7h1.8v1.7zM1802.4 500v-1h1.8v1zM1807.6 500v-0.9h1.8v0.9zM1812.3 500v-0.8h1.8v0.8zM1816.6 500v-1.2h1.8v1.2zM1820.8 500v-1.5h1.8v1.5zM1825.1 500v-1.1h1.8v1.1zM1828.3 500v-0.8h1.8v0.8zM1834 500v-0.9h1.8v0.9zM1838.5 500v-0.7h1.8v0.7zM1840.6 500v-0.9h1.8v0.9zM1847.1 500v-1.1h1.8v1.1zM1850.1 500v-1.3h1.8v1.3zM1853.5 500v-0.9h1.8v0.9zM1857.8 500v-1.3h1.8v1.3zM1863.9 500v-1.2h1.8v1.2zM1867.9 500v-2h1.8v2zM1870.8 500v-1.3h1.8v1.3zM1875.9 500v-2h1.8v2z" fill="#D95F02"/>
<path d="M1170 568.5v-2.1h1.8v2.1zM1195.8 568.5v-4.6h1.8v4.6zM1205.3 568.5v-4.3h1.8v4.3zM1219.3 568.5v-6.3h1.8v6.3zM1227.6 568.5v-7.1h1.8v7.1zM1236 568.5v-16.4h1.8v16.4zM1250 568.5v-6.1h1.8v6.1zM1299.4 568.5v-3.9h1.8v3.9zM1309.1 568.5v-3.8h1.8v3.8zM1309 568.5v-14.3h1.8v14.3zM1341.1 568.5v-6.8h1.8v6.8zM1349.4 568.5v-5.9h1.8v5.9zM1357.9 568.5v-4.1h1.8v4.1zM1385 568.5v-8.2h1.8v8.2zM1424 568.5v-4.9h1.8v4.9zM1426.4 568.5v-5h1.8v5zM1428.6 568.5v-5.1h1.8v5.1zM1431.6 568.5v-4.9h1.8v4.9zM1434.6 568.5v-5.1h1.8v5.1zM1436.6 568.5v-5.1h1.8v5.1zM1438.8 568.5v-5.1h1.8v5.1zM1441 568.5v-5.1h1.8v5.1zM1444 568.5v-5.1h1.8v5.1zM1446.2 568.5v-4.9h1.8v4.9zM1448.4 568.5v-5h1.8v5zM1450.6 568.5v-5.1h1.8v5.1zM1453 568.5v-4.7h1.8v4.7zM1455 568.5v-4.8h1.8v4.8zM1457.2 568.5v-4.7h1.8v4.7zM1459.6 568.5v-4.6h1.8v4.6zM1461.6 568.5v-4.4h1.8v4.4zM1464.6 568.5v-4.7h1.8v4.7zM1467 568.5v-4.9h1.8v4.9zM1469.2 568.5v-4.4h1.8v4.4zM1471.6 568.5v-4.3h1.8v4.3zM1474.6 568.5v-4.4h1.8v4.4zM1477 568.5v-3.8h1.8v3.8zM1479.2 568.5v-3.2h1.8v3.2zM1482.2 568.5v-2.6h1.8v2.6zM1484.6 568.5v-2.4h1.8v2.4zM1486.8 568.5v-2.1h1.8v2.1zM1489 568.5v-2.1h1.8v2.1zM1491.2 568.5v-2.1h1.8v2.1zM1493.4 568.5v-2.1h1.8v2.1zM1495.6 568.5v-2.1h1.8v2.1zM1497.8 568.5v-2.1h1.8v2.1zM1499.8 568.5v-2.6h1.8v2.6zM1502.8 568.5v-2.7h1.8v2.7zM1504.8 568.5v-3h1.8v3zM1507 568.5v-2.9h1.8v2.9zM1509.2 568.5v-2.4h1.8v2.4zM1511.4 568.5v-2.8h1.8v2.8zM1513.6 568.5v-2.7h1.8v2.7zM1515.8 568.5v-2.8h1.8v2.8zM1518.2 568.5v-2.2h1.8v2.2zM1580 568.5v-10.2h1.8v10.2zM1604 568.5v-11.1h1.8v11.1zM1608.6 568.5v-12.6h1.8v12.6zM1614.5 568.5v-10.8h1.8v10.8zM1620.6 568.5v-11.3h1.8v11.3zM1640 568.5v-6.1h1.8v6.1zM1665 568.5v-14.3h1.8v14.3zM1690 568.5v-6.1h1.8v6.1zM1734.4 568.5v-1.3h1.8v1.3zM1744.5 568.5v-2.8h1.8v2.8zM1748.6 568.5v-1.7h1.8v1.7zM1169.5 568.5v-0.9h1.8v0.9zM1179.7 568.5v-0.9h1.8v0.9zM1189.9 568.5v-1.1h1.8v1.1zM1197.1 568.5v-0.6h1.8v0.6zM1211 568.5v-1.1h1.8v1.1zM1222.4 568.5v-0.9h1.8v0.9zM1228 568.5v-1.4h1.8v1.4zM1242.4 568.5v-1.1h1.8v1.1zM1251.8 568.5v-1.4h1.8v1.4zM1260.8 568.5v-1.3h1.8v1.3zM1270.9 568.5v-0.8h1.8v0.8zM1279.7 568.5v-1.1h1.8v1.1zM1290.7 568.5v-0.6h1.8v0.6zM1302.4 568.5v-0.8h1.8v0.8zM1311.7 568.5v-1.1h1.8v1.1zM1320.3 568.5v-0.8h1.8v0.8zM1332.3 568.5v-0.9h1.8v0.9zM1337.1 568.5v-1h1.8v1zM1349.6 568.5v-1.4h1.8v1.4zM1357.1 568.5v-0.6h1.8v0.6zM1370.8 568.5v-1.3h1.8v1.3zM1381 568.5v-0.6h1.8v0.6zM1390.1 568.5v-1.4h1.8v1.4zM1397.9 568.5v-0.6h1.8v0.6zM1407.3 568.5v-1.1h1.8v1.1zM1421.7 568.5v-1h1.8v1zM1696.6 568.5v-0.6h1.8v0.6zM1711.9 568.5v-0.8h1.8v0.8zM1721.5 568.5v-0.7h1.8v0.7zM1735 568.5v-0.9h1.8v0.9zM1745.7 568.5v-1.1h1.8v1.1zM1758.7 568.5v-0.6h1.8v0.6zM1766.9 568.5v-1h1.8v1zM1779.8 568.5v-0.6h1.8v0.6zM1791 568.5v-0.8h1.8v0.8zM1805.1 568.5v-1.3h1.8v1.3zM1815.8 568.5v-1h1.8v1zM1828 568.5v-0.9h1.8v0.9zM1835.9 568.5v-1.3h1.8v1.3zM1849.6 568.5v-1.2h1.8v1.2zM1855.6 568.5v-0.6h1.8v0.6zM1869.5 568.5v-0.9h1.8v0.9z" fill="#1B9E77"/>
<line x1="1113" y1="527.5" x2="1886" y2="527.5" stroke="#D95F02" stroke-width="1.2"/>
<path d="M1113 527.5L1141 527.5L1148 526.6L1152 526.9L1155 525.8L1157 525.9L1162 527.3L1172 525.6L1181 527.2L1188 525.9L1199 526.8L1205 526.3L1212 527.4L1224 527.5L1235 524.5L1239 523.2L1240 522.3L1241 522.7L1243 521.3L1246 520.9L1247 520.2L1249 520.2L1251 519.2L1253 520.7L1255 521.4L1258 521.6L1260 522.8L1261 522.6L1262 523.6L1268 524.7L1273 524.1L1279 521.7L1280 520.4L1281 520.5L1282 519.8L1285 519.2L1286 518.5L1287 519.8L1289 520.3L1290 521.3L1293 522.2L1298 525.1L1303 526.5L1309 525.3L1310 524.6L1312 524.5L1313 523.8L1314 523.9L1317 522.8L1319 522.7L1320 521.9L1321 522.2L1322 521.3L1324 520.9L1325 521.1L1327 519.8L1328 520.5L1330 519.1L1332 520L1333 519.7L1337 521L1339 522.3L1342 522.5L1343 523.2L1358 527L1360 527.1L1366 523.2L1371 518.8L1373 518.2L1374 516.1L1376 517L1377 518.2L1379 518.5L1380 520.2L1381 520.3L1383 517.5L1384 517.2L1386 512.4L1389 508.4L1390 509L1391 505.4L1392 506.7L1393 506.6L1394 504.5L1395 506.5L1396 506.8L1397 504.5L1398 506L1399 504.5L1400 506.8L1401 505.9L1402 506.8L1403 506.9L1404 505.5L1406 506.6L1407 504.5L1410 507L1411 504.6L1412 507.1L1413 506.6L1414 506.9L1415 504.5L1416 507.1L1419 504.5L1421 505.4L1422 504.5L1423 505.9L1424 504.5L1426 504.5L1429 506.7L1430 504.9L1431 507L1434 504.5L1435 505.2L1436 505.1L1437 506.9L1438 507.3L1440 505.3L1441 507.2L1442 506.4L1443 507L1444 505.2L1446 506.1L1449 504.5L1450 505.5L1451 505.5L1452 506.4L1453 504.5L1454 507.3L1456 506.3L1457 505L1459 504.5L1460 504.9L1462 507.1L1464 505.1L1466 504.5L1467 505.9L1468 504.8L1469 506.5L1470 506.1L1471 507.3L1472 505.5L1473 506.2L1475 505.9L1477 504.5L1478 504.5L1479 506.3L1480 504.6L1481 506.2L1483 504.9L1484 504.8L1485 506.7L1486 507L1487 506.7L1488 504.5L1489 507.2L1492 505.9L1493 504.5L1494 506.4L1495 506.9L1496 506.9L1497 505.2L1498 504.9L1500 507.2L1501 505L1503 507.3L1504 506.8L1505 507.2L1506 505.9L1507 506.9L1508 504.7L1510 507L1513 504.5L1515 504.5L1517 506.7L1518 504.7L1519 504.8L1520 507L1521 506.3L1523 507.3L1524 504.9L1525 506.7L1526 505.4L1527 505.4L1529 507.1L1530 504.9L1531 504.5L1532 506.6L1534 504.7L1535 504.5L1536 507L1537 505.4L1538 505.6L1539 504.5L1540 507.2L1541 506.6L1542 508.8L1544 511L1546 517.4L1550 525.1L1551 526.7L1552 527.3L1554 526.5L1560 520.6L1562 519.5L1563 517.7L1565 516.5L1566 517.6L1567 517.8L1568 518.9L1569 519.3L1570 521.2L1571 521.3L1577 527.1L1578 527.1L1580 525.9L1589 517.8L1590 518.4L1591 518.1L1592 519.4L1597 522.9L1600 525.8L1602 527.2L1604 527.5L1638 527.5L1644 526.3L1649 526.9L1661 524.2L1668 526.1L1676 526.6L1684 525.3L1688 525.6L1694 524L1701 527L1704 527.5L1716 527.5L1729 526.7L1741 527.3L1753 526.2L1767 527.5L1794 527.5L1817 526.6L1829 527.4L1842 526.7L1859 527.5L1872 526L1886 527.5z" fill="#D95F02"/>
<line x1="1113" y1="595.8" x2="1886" y2="595.8" stroke="#1B9E77" stroke-width="1.2"/>
<path d="M1113 595.8L1120 595.7L1128 593.8L1132 593.8L1141 595.8L1199 595.8L1201 595.4L1210 591.2L1213 592.9L1220 595.6L1227 595.7L1230 594.3L1237 588.8L1238 589.6L1240 588.8L1242 589.2L1245 588.9L1246 589.9L1248 589.4L1250 589.9L1251 588.8L1253 589.7L1255 589.1L1256 589.5L1259 588.9L1262 589.7L1263 588.8L1264 589.8L1266 589.2L1270 589.8L1272 588.9L1273 589.8L1274 590L1276 589.2L1279 588.8L1280 589.4L1281 589L1282 589.9L1283 589L1284 589.5L1287 589L1288 589.5L1289 589L1290 589.9L1291 590L1294 589L1296 589.2L1297 589.9L1299 588.8L1302 591.2L1303 591.4L1307 594.9L1310 595.8L1335 595.8L1345 593.4L1348 591.1L1350 591.5L1353 594.1L1355 593.8L1358 591.8L1363 594.1L1365 594.6L1371 593.5L1380 594.7L1387 593.1L1389 592L1391 591.9L1395 594.4L1399 595.7L1401 595L1406 591.5L1409 588.8L1410 588.8L1411 588.2L1412 586.9L1413 588.2L1414 588L1415 589.4L1416 589.8L1418 589.8L1419 589.4L1420 588L1423 580.7L1424 581.2L1425 579.1L1426 579.9L1427 579.8L1428 576.6L1429 577.5L1430 577.3L1431 575.6L1433 578.5L1435 576.2L1436 577.3L1437 577.1L1438 579.9L1439 580.9L1440 580.9L1441 579L1442 579.2L1443 581.5L1447 578.6L1448 580.6L1449 577.4L1450 579L1451 579.2L1452 577.7L1454 577.7L1455 576.6L1456 578.7L1457 577.5L1459 579.4L1460 577.9L1461 580.1L1462 577.6L1464 578.7L1466 577.7L1467 576.1L1469 579.1L1471 577.7L1472 579.8L1474 581.7L1475 582L1476 579.4L1479 581.3L1480 581L1481 581.8L1482 581.5L1483 580.3L1484 582.2L1485 580.8L1486 580.6L1487 581.9L1490 578.7L1491 580.7L1494 579.5L1496 579.4L1497 579L1498 577.7L1499 578.4L1500 580.2L1501 580.5L1502 578.4L1504 578L1505 579.5L1506 579.5L1507 578.3L1508 580.3L1509 580.3L1510 579.4L1512 582L1513 579.8L1514 579.9L1515 582.2L1516 580.9L1517 582L1518 581.9L1519 579L1521 579.7L1522 580.9L1523 580.2L1525 580.4L1526 578.9L1527 578.9L1528 577.7L1530 579.3L1531 576.1L1532 579.1L1533 578.8L1534 575.9L1536 578.6L1537 576.3L1538 580.1L1539 577.8L1541 578.5L1542 579.9L1544 580.1L1545 580.7L1546 579.5L1547 579.5L1548 577.2L1550 580.3L1551 580.3L1552 583.7L1555 590.2L1557 590.8L1559 589.7L1560 590L1561 589.4L1569 595L1571 595.8L1586 595.8L1599 594.8L1607 594.7L1615 595.8L1648 595.8L1656 594.8L1660 595.2L1669 594.5L1681 595.5L1689 594.2L1700 595.8L1744 595.8L1752 594.5L1762 595.8L1778 594L1791 595.8L1803 595.7L1814 594.5L1829 595.8L1839 594.9L1847 595.8L1886 595.8z" fill="#1B9E77"/>
<rect x="1420" y="134.3" width="106" height="12.2" fill="#D95F02" stroke="#111" stroke-width="2.2"/>
<rect x="1420" y="203" width="32" height="12.4" fill="#1B9E77" stroke="#111" stroke-width="2.2"/>
<rect x="1420" y="271.5" width="106" height="12" fill="#D95F02" stroke="#111" stroke-width="2.2"/>
<rect x="1411" y="401.5" width="115" height="12.5" fill="#D95F02" stroke="#111" stroke-width="2.2"/>
<rect x="1420" y="531.5" width="106" height="12.5" fill="#D95F02" stroke="#111" stroke-width="2.2"/>
<line x1="1113" y1="632.5" x2="1886" y2="632.5" stroke="#000" stroke-width="1.2"/>
<path d="M1113 632.5L1150 631.5L1181 632.5L1200 632.5L1230 631.5L1260 632.5L1279 632.5L1300 631.1L1323 632.5L1326 632.2L1340 628.9L1356 632.4L1387 632L1400 629.6L1413 630.5L1423 628.7L1431 625.6L1438 621.2L1452 610.5L1458 607.5L1477 607.6L1492 613.1L1514 623.6L1523 627.1L1535 630.1L1550 631.7L1570 632.3L1600 631.3L1630 632.5L1683 632.5L1701 629.5L1760 629.5L1775 629.1L1784 628L1797 624.8L1805 621.4L1817 614L1821 612.5L1825 612L1829 612.5L1834 614.4L1851 625.3L1860 629.4L1870 631.6L1886 632.5z" fill="#000"/>
<line x1="1114" y1="645" x2="1823" y2="645" stroke="#5B5FB8" stroke-width="1.3" stroke-dasharray="2 1"/>
<path d="M1120 642l3 3l-3 3M1131 642l3 3l-3 3M1142 642l3 3l-3 3M1153 642l3 3l-3 3M1164 642l3 3l-3 3M1175 642l3 3l-3 3M1186 642l3 3l-3 3M1197 642l3 3l-3 3M1208 642l3 3l-3 3M1219 642l3 3l-3 3M1230 642l3 3l-3 3M1241 642l3 3l-3 3M1252 642l3 3l-3 3M1263 642l3 3l-3 3M1274 642l3 3l-3 3M1285 642l3 3l-3 3M1296 642l3 3l-3 3M1307 642l3 3l-3 3M1318 642l3 3l-3 3M1329 642l3 3l-3 3M1340 642l3 3l-3 3M1351 642l3 3l-3 3M1362 642l3 3l-3 3M1373 642l3 3l-3 3M1384 642l3 3l-3 3M1395 642l3 3l-3 3M1406 642l3 3l-3 3M1417 642l3 3l-3 3M1428 642l3 3l-3 3M1439 642l3 3l-3 3M1450 642l3 3l-3 3M1461 642l3 3l-3 3M1472 642l3 3l-3 3M1483 642l3 3l-3 3M1494 642l3 3l-3 3M1505 642l3 3l-3 3M1516 642l3 3l-3 3M1527 642l3 3l-3 3M1538 642l3 3l-3 3M1549 642l3 3l-3 3M1560 642l3 3l-3 3M1571 642l3 3l-3 3M1582 642l3 3l-3 3M1593 642l3 3l-3 3M1604 642l3 3l-3 3M1615 642l3 3l-3 3M1626 642l3 3l-3 3M1637 642l3 3l-3 3M1648 642l3 3l-3 3M1659 642l3 3l-3 3M1670 642l3 3l-3 3M1681 642l3 3l-3 3M1692 642l3 3l-3 3M1703 642l3 3l-3 3M1714 642l3 3l-3 3M1725 642l3 3l-3 3M1736 642l3 3l-3 3M1747 642l3 3l-3 3M1758 642l3 3l-3 3M1769 642l3 3l-3 3M1780 642l3 3l-3 3M1791 642l3 3l-3 3M1802 642l3 3l-3 3M1813 642l3 3l-3 3" fill="none" stroke="#5B5FB8" stroke-width="1"/>
<rect x="1823" y="640" width="11" height="10" fill="#0E1180"/>
<line x1="1442.5" y1="664" x2="1612" y2="664" stroke="#0E1180" stroke-width="4"/>
<rect x="1489.5" y="657" width="47.5" height="14" fill="#0E1180"/>
<path d="M1495 661l3 3l-3 3M1501 661l3 3l-3 3M1507 661l3 3l-3 3M1513 661l3 3l-3 3M1519 661l3 3l-3 3M1525 661l3 3l-3 3M1531 661l3 3l-3 3" fill="none" stroke="#fff" stroke-width="1"/>
<text x="1378.5" y="669" font-size="21" font-style="italic">Zrsr1</text>
<text x="1747" y="666" font-size="21" font-style="italic">Commd1</text>
<text x="235" y="719.8" font-size="21.3">Scale</text>
<text x="352" y="745.7" font-size="21.3">chr8:</text>
<text x="429.5" y="716.7" font-size="21.3">10 kb</text>
<text x="474.6" y="742.6" font-size="21.3">5,640,000</text>
<text x="750.3" y="742.6" font-size="21.3">5,650,000</text>
<line x1="491" y1="710" x2="768" y2="710" stroke="#000" stroke-width="2.4"/>
<line x1="492" y1="704" x2="492" y2="716" stroke="#000" stroke-width="2.6"/>
<line x1="767" y1="704" x2="767" y2="716" stroke="#000" stroke-width="2.6"/>
<line x1="582.3" y1="735" x2="582.3" y2="743" stroke="#000" stroke-width="1.4"/>
<line x1="857.7" y1="735" x2="857.7" y2="743" stroke="#000" stroke-width="1.4"/>
<text x="353" y="779.4" font-size="21.3" text-anchor="end" fill="#D2691E">DNA methylation (Oocyte)</text>
<text x="353" y="823" font-size="21.3" text-anchor="end" fill="#D2691E">H3K9me3 (Oocyte)</text>
<text x="353" y="865" font-size="21.3" text-anchor="end" fill="#2A9D7A">DNA methylation (Sperm)</text>
<text x="353" y="908.4" font-size="21.3" text-anchor="end" fill="#2A9D7A">H3K9me3 (Sperm)</text>
<text x="353" y="933.7" font-size="21.3" text-anchor="end">asCHM</text>
<text x="61" y="823.7" font-size="28" text-anchor="middle" transform="rotate(-90 61 823.7)">Gamete</text>
<rect x="74.6" y="764.4" width="3.6" height="139.6" fill="#000"/>
<line x1="404.6" y1="703.6" x2="404.6" y2="959" stroke="#F4C4CD" stroke-width="1"/>
<text x="399" y="767.6" font-size="20" text-anchor="end">1</text>
<text x="399" y="789.4" font-size="20" text-anchor="end">0</text>
<line x1="401" y1="756.6" x2="404" y2="756.6" stroke="#9a9a9a" stroke-width="1"/>
<line x1="401" y1="787.7" x2="404" y2="787.7" stroke="#9a9a9a" stroke-width="1"/>
<text x="399" y="809.9" font-size="20" text-anchor="end">1</text>
<text x="399" y="831.3" font-size="20" text-anchor="end">0</text>
<line x1="401" y1="798.9" x2="404" y2="798.9" stroke="#9a9a9a" stroke-width="1"/>
<line x1="401" y1="829.6" x2="404" y2="829.6" stroke="#9a9a9a" stroke-width="1"/>
<text x="399" y="852.6" font-size="20" text-anchor="end">1</text>
<text x="399" y="874.4" font-size="20" text-anchor="end">0</text>
<line x1="401" y1="841.6" x2="404" y2="841.6" stroke="#9a9a9a" stroke-width="1"/>
<line x1="401" y1="872.7" x2="404" y2="872.7" stroke="#9a9a9a" stroke-width="1"/>
<text x="399" y="895.3" font-size="20" text-anchor="end">1</text>
<text x="399" y="916.3" font-size="20" text-anchor="end">0</text>
<line x1="401" y1="884.3" x2="404" y2="884.3" stroke="#9a9a9a" stroke-width="1"/>
<line x1="401" y1="914.6" x2="404" y2="914.6" stroke="#9a9a9a" stroke-width="1"/>
<path d="M411.8 787.7v-1.4h1.8v1.4zM417.2 787.7v-1.6h1.8v1.6zM423.5 787.7v-0.7h1.8v0.7zM427.2 787.7v-1h1.8v1zM432.5 787.7v-0.7h1.8v0.7zM437.8 787.7v-1.6h1.8v1.6zM441.7 787.7v-1.5h1.8v1.5zM447.9 787.7v-0.7h1.8v0.7zM484.5 787.7v-1.2h1.8v1.2zM501.7 787.7v-1.2h1.8v1.2zM506.9 787.7v-21.8h1.8v21.8zM520.5 787.7v-31.1h1.8v31.1zM522.1 787.7v-21.8h1.8v21.8zM524.1 787.7v-15.6h1.8v15.6zM526 787.7v-15.6h1.8v15.6zM528.4 787.7v-14h1.8v14zM532.4 787.7v-31.1h1.8v31.1zM551.6 787.7v-1.2h1.8v1.2zM558.4 787.7v-15.6h1.8v15.6zM560.4 787.7v-10.9h1.8v10.9zM562.4 787.7v-9.3h1.8v9.3zM582.7 787.7v-6.2h1.8v6.2zM611.1 787.7v-1.2h1.8v1.2zM612.4 787.7v-0.8h1.8v0.8zM613.6 787.7v-0.6h1.8v0.6zM622.2 787.7v-31.1h1.8v31.1zM646.6 787.7v-20.2h1.8v20.2zM653.8 787.7v-22.8h1.8v22.8zM655.3 787.7v-26.5h1.8v26.5zM657.5 787.7v-23.5h1.8v23.5zM659.6 787.7v-24.6h1.8v24.6zM661.5 787.7v-23.3h1.8v23.3zM664.1 787.7v-24.8h1.8v24.8zM665.3 787.7v-30h1.8v30zM668.3 787.7v-30.5h1.8v30.5zM670.3 787.7v-30.7h1.8v30.7zM672.7 787.7v-30.9h1.8v30.9zM675.7 787.7v-30.7h1.6v30.7zM678.6 787.7v-20h1.8v20zM680.6 787.7v-22.3h1.8v22.3zM684.7 787.7v-11.5h1.8v11.5zM686.7 787.7v-15h1.8v15zM689.5 787.7v-18.6h1.8v18.6zM690.9 787.7v-15.5h1.8v15.5zM693.8 787.7v-17h1.8v17zM727.2 787.7v-31.1h1.8v31.1zM750.3 787.7v-31.1h1.8v31.1zM752.3 787.7v-31.1h1.8v31.1zM761.1 787.7v-31.1h1.8v31.1zM779 787.7v-31.1h1.8v31.1zM822.9 787.7v-6.2h1.8v6.2zM830.9 787.7v-31.1h1.8v31.1zM879.6 787.7v-31.1h1.8v31.1zM888.8 787.7v-31.1h1.8v31.1zM905.9 787.7v-31.1h1.8v31.1zM942.6 787.7v-31.1h1.8v31.1zM999.3 787.7v-23.3h1.8v23.3zM1000.7 787.7v-26.4h1.8v26.4z" fill="#D95F02"/>
<line x1="405" y1="829.6" x2="1002.5" y2="829.6" stroke="#D95F02" stroke-width="1.2"/>
<path d="M405 829.6L405 827.1L408 826.1L420 829.1L427 828.4L432 829.5L438 828.6L443 827.3L447 827.6L450 827.1L454 827.2L456 827.8L460 827.1L461 826.6L472 829.5L475 829.4L479 827.8L481 827.9L484 829L486 829.1L491 828.3L494 826.8L497 826.3L505 828.9L507 828.6L509 827.5L511 827.3L514 829L517 829.6L519 829.4L526 827L528 827L529 827.8L534 829.2L540 828.4L546 828.3L558 829.4L567 827.2L577 829.6L591 829.6L601 828.4L609 829.5L614 829.6L621 827.2L626 828.7L630 828.5L637 827.3L638 826.9L639 825.5L640 822.9L643 805.8L644 805.1L645 805.9L646 803.2L647 804.3L649 798.9L650 798.9L651 803.7L652 804.2L653 806.1L655 805.1L656 808.6L657 808.7L659 810.9L660 810.9L661 811.9L663 810.2L664 808.3L665 810.6L667 804.8L669 803.8L670 801L672 804L673 804.8L674 804.3L675 805.1L676 808.1L677 804.9L680 808.3L682 804.8L683 807.5L684 803.7L685 805.5L686 805.1L687 800.2L688 804.5L689 805.6L690 805.1L691 806L692 804.8L693 807.8L694 808.6L698 827.3L699 829.1L700 829.6L704 829.3L706 827.4L708 824.2L710 822.8L714 827.2L716 827.6L724 826.3L726 826.6L732 824.7L735 825.5L736 826.4L741 827.2L745 829.1L748 829.6L763 826.6L764 826.9L765 826.6L766 827.3L778 829.5L786 829.6L789 829.2L794 827.2L798 828.8L803 827.7L807 828.4L811 826.5L813 827.5L814 827.5L818 826.5L820 826.7L821 827.5L827 829.3L829 829.1L835 826.9L841 828.2L843 827.9L846 826.7L847 826.8L848 826.2L853 827.8L859 827.1L872 829.5L885 829.6L886 829.4L888 827.6L891 821.1L894 821.3L896 822.7L900 827.8L901 828.4L908 829.5L916 829.5L921 826.9L923 826.4L928 829L931 829.6L969 829.6L979 827.8L989 829.3L996 827.4L1002.5 829.6z" fill="#D95F02"/>
<path d="M411.1 872.7v-29.6h1.8v29.6zM413.4 872.7v-27.3h1.8v27.3zM415 872.7v-24.5h1.8v24.5zM416.7 872.7v-28.9h1.8v28.9zM418.7 872.7v-29.5h1.8v29.5zM424.1 872.7v-30h1.8v30zM428 872.7v-27.8h1.8v27.8zM430.9 872.7v-30h1.8v30zM433.7 872.7v-24.9h1.8v24.9zM436.5 872.7v-26.8h1.8v26.8zM439.9 872.7v-30.5h1.8v30.5zM442.7 872.7v-28.6h1.8v28.6zM446 872.7v-29.2h1.8v29.2zM454.6 872.7v-31.1h1.8v31.1zM468.6 872.7v-31.1h1.8v31.1zM484.5 872.7v-31.1h1.8v31.1zM495.7 872.7v-29h1.8v29zM500.9 872.7v-26.9h1.8v26.9zM504.2 872.7v-30.5h1.8v30.5zM510.2 872.7v-26.9h1.8v26.9zM512.9 872.7v-27.6h1.8v27.6zM520.6 872.7v-26h1.8v26zM523.2 872.7v-23.8h1.8v23.8zM525.2 872.7v-30.8h1.8v30.8zM526.9 872.7v-28.6h1.8v28.6zM529.4 872.7v-26.6h1.8v26.6zM532.3 872.7v-22.6h1.8v22.6zM543.6 872.7v-31.1h1.8v31.1zM547.5 872.7v-27.2h1.8v27.2zM549.2 872.7v-27.3h1.8v27.3zM553.9 872.7v-25.8h1.8v25.8zM557 872.7v-28.6h1.8v28.6zM560.8 872.7v-26h1.8v26zM564 872.7v-25.4h1.8v25.4zM572.7 872.7v-31.1h1.8v31.1zM582.7 872.7v-21.8h1.8v21.8zM610.5 872.7v-31.1h1.8v31.1zM615.7 872.7v-31.1h1.8v31.1zM619.8 872.7v-31.1h1.8v31.1zM622.5 872.7v-31.1h1.8v31.1zM626.3 872.7v-31.1h1.8v31.1zM646.6 872.7v-2h1.8v2zM649.6 872.7v-1.5h1.8v1.5zM651.6 872.7v-1.3h1.8v1.3zM653.6 872.7v-1.7h1.8v1.7zM655.6 872.7v-1.2h1.8v1.2zM657.8 872.7v-0.9h1.8v0.9zM660 872.7v-0.9h1.8v0.9zM662.2 872.7v-0.9h1.8v0.9zM665.2 872.7v-0.9h1.8v0.9zM667.4 872.7v-0.9h1.8v0.9zM669.8 872.7v-1.3h1.8v1.3zM672.2 872.7v-1.5h1.8v1.5zM674.4 872.7v-1.5h1.8v1.5zM676.4 872.7v-1.7h0.9v1.7zM679.1 872.7v-14.2h1.8v14.2zM683.1 872.7v-15h1.8v15zM686 872.7v-11.1h1.8v11.1zM689.5 872.7v-9.6h1.8v9.6zM692.6 872.7v-11.9h1.8v11.9zM695.9 872.7v-13.1h1.8v13.1zM705.2 872.7v-24.9h1.8v24.9zM713 872.7v-31.1h1.8v31.1zM717.6 872.7v-31.1h1.8v31.1zM721.5 872.7v-31.1h1.8v31.1zM727.8 872.7v-31.1h1.8v31.1zM750.1 872.7v-31.1h1.8v31.1zM753.5 872.7v-31.1h1.8v31.1zM758.5 872.7v-31.1h1.8v31.1zM760.1 872.7v-31.1h1.8v31.1zM779 872.7v-31.1h1.8v31.1zM789 872.7v-31.1h1.8v31.1zM797 872.7v-31.1h1.8v31.1zM808.4 872.7v-31.1h1.8v31.1zM811.2 872.7v-31.1h1.8v31.1zM814.9 872.7v-31.1h1.8v31.1zM822.9 872.7v-31.1h1.8v31.1zM830.1 872.7v-31.1h1.8v31.1zM850.1 872.7v-31.1h1.8v31.1zM873.9 872.7v-31.1h1.8v31.1zM877.9 872.7v-31.1h1.8v31.1zM881.8 872.7v-31.1h1.8v31.1zM885.6 872.7v-31.1h1.8v31.1zM890.5 872.7v-31.1h1.8v31.1zM905.9 872.7v-31.1h1.8v31.1zM934.7 872.7v-31.1h1.8v31.1zM942.6 872.7v-31.1h1.8v31.1zM954.6 872.7v-31.1h1.8v31.1zM964.6 872.7v-31.1h1.8v31.1zM995.9 872.7v-31.1h1.8v31.1zM998.5 872.7v-31.1h1.8v31.1zM1000.7 872.7v-31.1h1.8v31.1z" fill="#1B9E77"/>
<line x1="405" y1="914.6" x2="1002.5" y2="914.6" stroke="#1B9E77" stroke-width="1.2"/>
<path d="M405 914.6L409 913.4L416 913.1L419 911.4L420 911.4L422 910L423 910.2L424 909.4L427 908.8L428 908L431 909.6L432 909.5L436 910.5L437 911.3L444 910.1L448 910.4L449 911L450 910.5L451 910.7L452 909.7L455 909.4L459 907.2L461 907.8L464 910.6L466 911.5L470 910.7L471 909.9L473 910L475 908.7L479 909.8L480 909.7L481 910.4L484 910.6L486 911.4L487 911.1L493 912.7L500 911.7L503 910.4L504 910.8L505 909.9L506 910.3L508 908.9L509 909.6L513 908.2L514 906.8L516 907.9L518 908L520 909.3L521 908.7L522 909.4L525 907.4L528 907.6L529 907.2L531 909.1L532 908.8L533 909.5L535 909.7L536 909L537 909.1L538 910.1L539 909.9L540 910.5L541 910.1L542 911L544 910.8L549 912.2L553 912.5L556 911L560 909.9L562 910.9L563 910.8L568 909.5L570 909.9L571 909.2L572 909.6L573 908.7L577 911L582 912.2L588 910.8L590 909.3L591 909.9L593 908.4L594 908.7L595 907.9L597 908.3L598 907.7L602 908.4L604 909.3L607 909.1L608 908.3L609 909.1L610 908.4L611 909.4L612 909.2L613 909.9L614 909.9L618 909.2L619 908.3L621 908.1L623 909.6L627 907.7L628 908.3L631 908.1L634 909.4L635 909.1L636 909.9L637 908.8L640 909.5L641 910.4L643 910.9L644 910.7L647 905.1L649 903.9L650 905.1L651 903.6L652 905L654 905L655 903.9L657 903.4L658 904.5L659 903L661 901.7L662 898.7L663 900.6L666 894.7L667 897.3L669 895.9L670 899.2L671 899.4L672 898.3L673 901.4L674 901.6L677 904.7L678 905L679 902.5L680 901.7L681 899.7L682 899L684 893.5L685 893.7L687 892.7L688 897L689 899.1L690 899.1L692 903.9L693 903.9L694 904.9L695 908L697 910.3L699 910.5L702 909.8L703 909L704 909.1L705 908.3L706 908.8L709 908.7L710 909.2L713 908L716 908L719 910.2L725 912.6L727 912.1L730 910.3L733 910.2L734 909.4L735 909.7L738 908L739 908.8L741 908.3L742 909L743 908.4L744 909.4L745 909.3L747 910.6L750 911.1L752 909.9L753 909.9L756 907.8L757 908L758 907.2L759 908.1L760 908L763 910L765 909.9L768 910.5L769 911.2L773 912.4L779 913.4L792 913.1L801 911.2L806 911.1L810 909.8L811 910.4L815 910.3L822 911.2L824 910.6L826 911.3L831 911.5L840 913.1L845 912.7L850 911L851 911.3L854 910.8L856 911.6L857 911.5L864 913.1L876 913.5L891 911.1L893 910.3L894 910.7L896 910.3L898 911.1L900 910.9L901 911.5L908 911.4L920 912.8L925 912.2L928 911.2L929 911.5L935 910L936 910.8L937 910.4L939 911.2L942 911L943 911.7L945 912L956 910.5L961 911.8L964 911.8L967 912.6L974 913.4L987 911L992 912.3L1002 913.3L1002.5 914.6z" fill="#1B9E77"/>
<rect x="648.2" y="932.2" width="35.1" height="10" fill="#D95F02" stroke="#111" stroke-width="2.2"/>
<text x="1237.6" y="715.9" font-size="21.3">10 kb</text>
<text x="1570" y="715" font-size="21.3">mm10</text>
<text x="1138.9" y="741.5" font-size="21.3">chr17:</text>
<text x="1274" y="741.5" font-size="21.3">22,615,000</text>
<text x="1523" y="741.5" font-size="21.3">22,625,000</text>
<line x1="1306.3" y1="710.5" x2="1553" y2="710.5" stroke="#000" stroke-width="2.4"/>
<line x1="1307.3" y1="704.5" x2="1307.3" y2="716.5" stroke="#000" stroke-width="2.6"/>
<line x1="1552" y1="704.5" x2="1552" y2="716.5" stroke="#000" stroke-width="2.6"/>
<line x1="1395" y1="735" x2="1395" y2="743" stroke="#000" stroke-width="1.4"/>
<line x1="1641.5" y1="735" x2="1641.5" y2="743" stroke="#000" stroke-width="1.4"/>
<line x1="1207.5" y1="703" x2="1207.5" y2="960" stroke="#F4C4CD" stroke-width="1"/>
<text x="1200" y="768.2" font-size="20" text-anchor="end">1</text>
<text x="1200" y="789.4" font-size="20" text-anchor="end">0</text>
<line x1="1202.5" y1="757.2" x2="1205.5" y2="757.2" stroke="#9a9a9a" stroke-width="1"/>
<line x1="1202.5" y1="787.7" x2="1205.5" y2="787.7" stroke="#9a9a9a" stroke-width="1"/>
<text x="1200" y="810" font-size="20" text-anchor="end">1</text>
<text x="1200" y="830.7" font-size="20" text-anchor="end">0</text>
<line x1="1202.5" y1="799" x2="1205.5" y2="799" stroke="#9a9a9a" stroke-width="1"/>
<line x1="1202.5" y1="829" x2="1205.5" y2="829" stroke="#9a9a9a" stroke-width="1"/>
<text x="1200" y="851.2" font-size="20" text-anchor="end">1</text>
<text x="1200" y="874.7" font-size="20" text-anchor="end">0</text>
<line x1="1202.5" y1="840.2" x2="1205.5" y2="840.2" stroke="#9a9a9a" stroke-width="1"/>
<line x1="1202.5" y1="873" x2="1205.5" y2="873" stroke="#9a9a9a" stroke-width="1"/>
<text x="1200" y="895.2" font-size="20" text-anchor="end">1</text>
<text x="1200" y="916" font-size="20" text-anchor="end">0</text>
<line x1="1202.5" y1="884.2" x2="1205.5" y2="884.2" stroke="#9a9a9a" stroke-width="1"/>
<line x1="1202.5" y1="914.3" x2="1205.5" y2="914.3" stroke="#9a9a9a" stroke-width="1"/>
<path d="M1227.7 787.7v-1.2h1.8v1.2zM1234.9 787.7v-18.3h1.8v18.3zM1241.1 787.7v-3.5h1.8v3.5zM1248.6 787.7v-3.1h1.8v3.1zM1255.3 787.7v-4.2h1.8v4.2zM1272.6 787.7v-0.9h1.8v0.9zM1294.1 787.7v-21.3h1.8v21.3zM1301.8 787.7v-1.5h1.8v1.5zM1318.4 787.7v-7.6h1.8v7.6zM1329.6 787.7v-25.9h1.8v25.9zM1335.4 787.7v-1.5h1.8v1.5zM1345.3 787.7v-30.5h1.8v30.5zM1374.9 787.7v-1.1h1.8v1.1zM1383.8 787.7v-1.2h1.8v1.2zM1390.1 787.7v-0.7h1.8v0.7zM1396.4 787.7v-1h1.8v1zM1417.1 787.7v-1.4h1.8v1.4zM1426.8 787.7v-0.7h1.8v0.7zM1430.2 787.7v-1.2h1.8v1.2zM1478.2 787.7v-0.9h1.8v0.9zM1494.8 787.7v-0.9h1.8v0.9zM1501.5 787.7v-30.5h1.8v30.5zM1521.4 787.7v-8.9h1.8v8.9zM1524.4 787.7v-7.7h1.8v7.7zM1527.9 787.7v-6.4h1.8v6.4zM1529.3 787.7v-9.1h1.8v9.1zM1532.2 787.7v-9h1.8v9zM1545.5 787.7v-2.5h1.8v2.5zM1550 787.7v-1.8h1.8v1.8zM1553.1 787.7v-2.6h1.8v2.6zM1557.2 787.7v-1.6h1.8v1.6zM1573.3 787.7v-13.7h1.8v13.7zM1581.7 787.7v-15.5h1.8v15.5zM1586 787.7v-15.3h1.8v15.3zM1588.3 787.7v-10.2h1.8v10.2zM1591.5 787.7v-11.3h1.8v11.3zM1594.9 787.7v-12.5h1.8v12.5zM1597.8 787.7v-13.8h1.8v13.8zM1600.7 787.7v-16.6h1.8v16.6zM1603.2 787.7v-13.7h1.8v13.7zM1607.6 787.7v-9.4h1.8v9.4zM1611.1 787.7v-16.7h1.8v16.7zM1614.3 787.7v-13.1h1.8v13.1zM1616.8 787.7v-13.9h1.8v13.9zM1619.3 787.7v-11.2h1.8v11.2zM1622.4 787.7v-13.1h1.8v13.1zM1602.5 787.7v-24.4h1.8v24.4zM1631.7 787.7v-0.9h1.8v0.9zM1658.1 787.7v-1.1h1.8v1.1zM1666.4 787.7v-0.8h1.8v0.8zM1670.5 787.7v-1.2h1.8v1.2zM1704.9 787.7v-11.2h1.8v11.2zM1708.4 787.7v-13h1.8v13zM1725.9 787.7v-3.1h1.8v3.1zM1740.7 787.7v-0.9h1.8v0.9zM1750.6 787.7v-9.2h1.8v9.2zM1785.6 787.7v-30.5h1.8v30.5zM1800 787.7v-27.4h1.8v27.4z" fill="#D95F02"/>
<line x1="1208" y1="829" x2="1805.8" y2="829" stroke="#D95F02" stroke-width="1.2"/>
<path d="M1208 829L1208 828.6L1214 827.3L1220 828.2L1228 827L1235 828.3L1241 827.4L1252 829L1304 829L1318 827.1L1324 828.2L1329 827.5L1334 828L1337 827.4L1341 827.9L1352 825.8L1359 827.7L1363 828L1369 827.1L1373 827.2L1379 823.6L1381 823.2L1384 824.3L1385 825.7L1387 825.8L1389 826.6L1393 826.8L1397 826L1408 828.5L1412 827.8L1418 825.2L1426 824.5L1430 826.7L1436 827.2L1442 828.9L1453 829L1461 827.7L1465 823.8L1466 823.9L1468 822.9L1471 823L1472 823.9L1473 823.4L1474 824.1L1477 823.8L1479 824.8L1482 824.8L1484 825.4L1488 823.3L1489 822L1490 822.2L1491 821.6L1494 824.9L1497 827.4L1498 827.6L1506 828.4L1510 827.2L1512 827.4L1517 826.4L1519 826.5L1523 825.4L1524 824.7L1528 826.1L1530 827.2L1540 828.4L1542 827.6L1545 823.5L1547 822.2L1551 824.8L1552 824.5L1555 824.9L1556 824.1L1557 824.5L1560 824.1L1564 824.5L1565 823.8L1566 824.5L1567 823.5L1570 823.8L1571 825.2L1572 825.7L1575 826.3L1577 825.3L1581 821.9L1583 821.1L1584 821.3L1585 820L1586 821.6L1587 821.1L1588 822.1L1589 821.1L1591 822.7L1592 822.1L1594 822.1L1595 823L1597 822.2L1598 822.6L1602 821.3L1603 821.3L1604 822.1L1605 821.5L1608 823L1609 822.3L1611 823.2L1612 822.7L1617 822.2L1618 821.7L1619 821.9L1620 822.8L1621 822.2L1622 823L1623 822.4L1624 823.5L1626 822.8L1630 824L1631 823.1L1632 824.1L1635 823.3L1637 824.1L1641 828.3L1643 828.9L1658 827.8L1663 826.4L1670 828.1L1679 826.5L1682 826.7L1693 829L1716 828.9L1718 827.9L1721 824.9L1723 824.6L1724 823.3L1727 822.4L1728 822.5L1729 820.9L1730 821.4L1731 820.9L1732 822.4L1734 822.6L1735 823.3L1736 822.7L1737 823.3L1741 824.2L1743 826L1745 826.7L1746 826.1L1750 825.8L1752 826.4L1753 826L1754 826.6L1760 826.7L1764 828.1L1770 828.8L1777 824.2L1778 824.7L1779 824.3L1780 824.8L1781 824.4L1782 824.8L1785 824.2L1786 824.6L1787 824.1L1788 824.6L1789 824.1L1791 824.1L1792 824.9L1795 824.2L1796 824.7L1797 824.3L1799 824.9L1803 825.1L1805 827.2L1805.8 829z" fill="#D95F02"/>
<path d="M1218.7 873v-32.8h1.8v32.8zM1220.9 873v-32.8h1.8v32.8zM1224.8 873v-32.8h1.8v32.8zM1228 873v-32.8h1.8v32.8zM1234.9 873v-32.8h1.8v32.8zM1241 873v-27.8h1.8v27.8zM1248.7 873v-22.8h1.8v22.8zM1255.6 873v-22.6h1.8v22.6zM1271.7 873v-32.8h1.8v32.8zM1293.1 873v-23.4h1.8v23.4zM1294.4 873v-18.1h1.8v18.1zM1297.8 873v-17.7h1.8v17.7zM1299.3 873v-17.1h1.8v17.1zM1301.6 873v-17.7h1.8v17.7zM1303.8 873v-22.5h1.8v22.5zM1318.4 873v-32.8h1.8v32.8zM1331.2 873v-32.8h1.8v32.8zM1332.7 873v-32.8h1.8v32.8zM1337.6 873v-32.8h1.8v32.8zM1345.3 873v-32.8h1.8v32.8zM1357.6 873v-32.8h1.8v32.8zM1365.7 873v-32.8h1.8v32.8zM1372.1 873v-32.8h1.8v32.8zM1376.1 873v-32.8h1.8v32.8zM1378.4 873v-32.8h1.8v32.8zM1381.6 873v-32.8h1.8v32.8zM1384 873v-32.8h1.8v32.8zM1386.5 873v-32.8h1.8v32.8zM1388.4 873v-32.8h1.8v32.8zM1390.9 873v-32.8h1.8v32.8zM1398.6 873v-32.8h1.8v32.8zM1405.7 873v-32.8h1.8v32.8zM1413.7 873v-19.7h1.8v19.7zM1419.2 873v-19.7h1.8v19.7zM1430.6 873v-32.8h1.8v32.8zM1464.7 873v-32.8h1.8v32.8zM1478.2 873v-32.8h1.8v32.8zM1490.8 873v-32.8h1.8v32.8zM1501.5 873v-32.8h1.8v32.8zM1521 873v-32.8h1.8v32.8zM1525 873v-32.8h1.8v32.8zM1527.7 873v-32.8h1.8v32.8zM1530.9 873v-32.8h1.8v32.8zM1535.1 873v-32.8h1.8v32.8zM1539.7 873v-31.9h1.8v31.9zM1541.9 873v-32.2h1.8v32.2zM1544.3 873v-32.5h1.8v32.5zM1546.3 873v-32.5h1.8v32.5zM1548.3 873v-32.8h1.8v32.8zM1550.3 873v-32.8h1.8v32.8zM1552.5 873v-32.8h1.8v32.8zM1555.5 873v-32.7h1.8v32.7zM1558.5 873v-32.6h1.8v32.6zM1560.7 873v-32.7h1.8v32.7zM1563.7 873v-32.7h1.8v32.7zM1565.9 873v-32.8h1.8v32.8zM1572 873v-32.8h1.8v32.8zM1577.7 873v-32.8h1.8v32.8zM1583.6 873v-32.8h1.8v32.8zM1585.9 873v-32.8h1.8v32.8zM1589 873v-32.4h1.8v32.4zM1591.2 873v-32.6h1.8v32.6zM1593.2 873v-32.4h1.8v32.4zM1596.2 873v-32.6h1.8v32.6zM1598.4 873v-32.8h1.8v32.8zM1601.4 873v-32.8h1.8v32.8zM1603.6 873v-32.5h1.1v32.5zM1607 873v-32.7h1.8v32.7zM1609.4 873v-32.8h1.8v32.8zM1611.6 873v-32.8h1.8v32.8zM1613.6 873v-32.8h1.8v32.8zM1616.6 873v-32.4h1.8v32.4zM1618.8 873v-32.7h1.8v32.7zM1621.2 873v-32.8h1.8v32.8zM1623.4 873v-32.8h1.8v32.8zM1625.6 873v-32.6h1.6v32.6zM1633.6 873v-23h1.8v23zM1638.9 873v-23h1.8v23zM1645.6 873v-32.8h1.8v32.8zM1649.7 873v-32.8h1.8v32.8zM1653.1 873v-32.8h1.8v32.8zM1658.6 873v-32.8h1.8v32.8zM1671.2 873v-19.7h1.8v19.7zM1676.6 873v-9.8h1.8v9.8zM1702.5 873v-30.3h1.8v30.3zM1707.5 873v-31.8h1.8v31.8zM1710.1 873v-32.4h1.8v32.4zM1713.5 873v-26.5h1.8v26.5zM1717.8 873v-28.5h1.8v28.5zM1725.9 873v-32.8h1.8v32.8zM1732.7 873v-31.9h1.8v31.9zM1735.1 873v-32.1h1.8v32.1zM1738.1 873v-31.9h1.8v31.9zM1741.1 873v-31.8h1.8v31.8zM1743.3 873v-31.8h0.6v31.8zM1750.6 873v-1.6h1.8v1.6zM1777.5 873v-32.8h1.8v32.8zM1785.6 873v-32.8h1.8v32.8zM1796.2 873v-32.8h1.8v32.8zM1803.1 873v-32.8h1.8v32.8z" fill="#1B9E77"/>
<line x1="1208" y1="914.3" x2="1805.8" y2="914.3" stroke="#1B9E77" stroke-width="1.2"/>
<path d="M1208 914.3L1208 912L1211 908.1L1212 908L1213 908.5L1214 907.7L1217 907.4L1218 907.9L1219 907.2L1220 907.7L1222 907.3L1224 908.8L1225 908.2L1228 908.3L1229 908.9L1230 908L1233 908.5L1235 907.8L1236 906.3L1237 906.7L1238 906.4L1239 905.5L1240 906.7L1241 905.6L1242 907.1L1243 906.8L1245 907.7L1246 907.5L1248 906.2L1249 906.5L1250 905.9L1251 904.4L1252 904.7L1253 903.2L1254 905L1255 904.6L1256 905L1257 906.7L1259 906.2L1260 907.1L1262 905.4L1263 906L1265 905.4L1268 907.4L1269 906.1L1270 906.8L1271 906L1273 906.8L1276 906.6L1278 907L1280 905.4L1281 906.6L1283 906.8L1284 906L1285 906.9L1286 906L1287 906L1288 904.5L1289 904.1L1290 905.1L1292 903.5L1293 904.7L1294 904.2L1295 905.2L1296 904.7L1297 905.8L1298 905.2L1301 907.2L1305 908.5L1306 909.3L1308 909.2L1309 910.3L1310 910L1311 910.8L1314 911.3L1318 911.1L1319 911.4L1320 911.1L1321 911.5L1323 911L1324 911.4L1329 910.4L1330 910.6L1332 910.1L1333 909.3L1335 909.6L1337 908.6L1338 908.7L1340 908.1L1341 908.5L1342 907.4L1344 908.1L1345 906.6L1346 906.8L1347 905.8L1348 906.6L1349 905.9L1350 906.2L1351 904.9L1352 905.6L1353 905.5L1354 905.1L1355 903.7L1356 904.5L1357 904.5L1358 905.9L1361 906.3L1362 907.3L1363 906.5L1366 908.6L1368 907.5L1371 907L1375 908.6L1376 908.4L1379 910L1380 909.3L1381 910L1382 908.9L1383 909.2L1384 908.2L1385 908.3L1386 907.4L1387 907.8L1389 907.2L1390 906.1L1392 906.2L1393 905.9L1394 906.4L1397 906.5L1401 908.4L1402 907.2L1406 909L1410 909.9L1412 908.4L1413 908.7L1414 908.3L1415 907.2L1416 907.6L1418 905.4L1421 905.1L1422 905.8L1423 903.7L1425 903L1426 904.1L1427 904.3L1428 903.9L1429 905.2L1431 905.4L1432 907L1434 907L1436 908L1437 907.6L1438 908.5L1440 908.2L1442 906.4L1443 906.8L1444 904.8L1445 905.2L1446 904.1L1447 903.9L1449 905.6L1450 904.4L1451 905.2L1453 902.9L1454 904.1L1455 902.4L1456 904.6L1457 903.9L1459 904.3L1460 903.4L1462 903.2L1463 902.1L1464 903.4L1465 900.2L1466 899.7L1467 899.8L1470 897.1L1471 896.8L1472 900.2L1474 900.7L1476 902.8L1477 902.6L1480 906L1481 906.2L1482 907.1L1485 906.9L1487 906.1L1488 907L1489 905.9L1490 906.5L1492 904.2L1493 904.7L1495 903.3L1496 904.4L1498 904.5L1501 907L1504 907L1506 905.4L1507 906L1508 904.1L1509 904.4L1511 906.5L1512 906.7L1513 905.1L1517 884.5L1518 885.2L1519 884.2L1520 885.6L1521 884.2L1530 884.2L1531 886.2L1532 885.6L1533 889.8L1535 895.1L1536 893.8L1539 894.5L1541 894.3L1542 893.3L1543 896.1L1545 894.1L1546 894.4L1547 895.7L1548 895.1L1549 892.9L1550 895.7L1551 894.4L1553 894L1554 894.4L1555 893L1556 893L1557 893.8L1559 894L1560 896.8L1561 895.8L1563 896.4L1564 894.7L1566 897.1L1567 893.7L1568 895.5L1569 894.7L1570 892.8L1571 893.4L1572 893.1L1576 898.3L1577 899L1579 904.2L1580 904.6L1581 902.9L1584 888.8L1586 888.2L1587 885.8L1588 885.9L1589 888.4L1591 884.7L1593 889.6L1594 887.8L1596 886.4L1597 888.3L1598 885.1L1599 891L1602 902.4L1604 908.1L1606 907.6L1608 907.8L1610 906.7L1611 906.8L1613 905.3L1614 906.1L1615 904.6L1616 905L1617 903.8L1621 906.4L1622 905.8L1624 906.6L1627 903.6L1631 901.7L1632 900.6L1633 902.1L1634 901.3L1635 902.4L1636 902.4L1637 904.3L1638 903.4L1639 903.9L1641 901.2L1642 900.8L1643 901.1L1644 900.4L1645 901.5L1646 901.1L1647 902.8L1649 902.7L1650 903.5L1653 904.3L1655 903L1656 903.7L1657 902.2L1658 902.1L1660 902.7L1661 904.2L1663 903.5L1665 904.4L1666 903.9L1667 901.5L1668 901L1669 902.2L1670 901.4L1671 901.3L1672 903.2L1674 904.3L1675 902.5L1677 901.8L1678 903.4L1680 902.7L1681 903.9L1682 902.2L1683 903L1684 902.8L1686 905L1687 904.5L1688 905.5L1689 905.5L1691 907.8L1692 907.5L1696 909.8L1698 908.8L1699 906.6L1701 900.7L1702 896L1703 895.2L1705 888.7L1706 889.2L1707 890.7L1708 890.1L1710 896.6L1711 898.2L1712 898.5L1714 902.1L1715 902.7L1716 902.1L1717 902.2L1718 904.1L1719 902.8L1721 904.4L1723 905.2L1724 906.8L1728 908L1729 909.2L1730 908.8L1731 909.7L1732 908.8L1734 909.1L1736 908.1L1737 908.6L1738 907.6L1739 907.5L1740 908.4L1744 906.8L1746 906.5L1748 904.9L1750 906.7L1752 906.7L1754 908L1756 907.5L1757 908.5L1760 906L1764 904.9L1765 904.2L1768 906.2L1769 905.3L1770 906.7L1771 906.5L1772 907.1L1773 906.8L1774 907.9L1776 907.6L1778 908.5L1779 907.7L1780 908L1781 907.1L1782 907.4L1783 906.8L1784 905.4L1786 905.2L1787 906.1L1788 904.7L1790 904.6L1791 906.1L1792 906.1L1793 905.4L1797 908.3L1798 907.9L1800 909.8L1801 909.6L1802 910.5L1805 911.4L1805.8 914.3z" fill="#1B9E77"/>
<rect x="1605.6" y="931.8" width="22.4" height="9.9" fill="#1B9E77" stroke="#111" stroke-width="2.2"/>
<line x1="1211" y1="946.2" x2="1474" y2="946.2" stroke="#0E1180" stroke-width="1.2" stroke-dasharray="2 1.5"/>
<line x1="1497" y1="946.2" x2="1539.7" y2="946.2" stroke="#0E1180" stroke-width="3.2"/>
<rect x="1474.6" y="942" width="22.4" height="8.5" fill="#0E1180"/>
<rect x="1393" y="943" width="2" height="6.5" fill="#0E1180"/>
<text x="1432" y="977.6" font-size="21.7" font-style="italic">Vmn2r112</text>
<text x="339.7" y="1973.5" font-size="21.3">Scale</text>
<text x="342" y="2001.7" font-size="21.3">chr4:</text>
<text x="593.5" y="1976.7" font-size="21.3">5 kb</text>
<text x="494.5" y="2001.9" font-size="21.3">138,710,000</text>
<text x="707.2" y="2001.9" font-size="21.3">138,715,000</text>
<line x1="646.6" y1="1971.1" x2="863.6" y2="1971.1" stroke="#000" stroke-width="2.4"/>
<line x1="647.6" y1="1965.1" x2="647.6" y2="1977.1" stroke="#000" stroke-width="2.6"/>
<line x1="862.6" y1="1965.1" x2="862.6" y2="1977.1" stroke="#000" stroke-width="2.6"/>
<line x1="618.6" y1="1995" x2="618.6" y2="2003" stroke="#000" stroke-width="1.4"/>
<line x1="833" y1="1995" x2="833" y2="2003" stroke="#000" stroke-width="1.4"/>
<line x1="406" y1="1995" x2="406" y2="2003" stroke="#000" stroke-width="1.4"/>
<text x="347.5" y="2033.5" font-size="21.3" text-anchor="end" fill="#D2691E">DNA methylation (Oocyte)</text>
<text x="347.5" y="2076.6" font-size="21.3" text-anchor="end" fill="#D2691E">H3K9me3 (Oocyte)</text>
<text x="347.5" y="2118.4" font-size="21.3" text-anchor="end" fill="#2A9D7A">DNA methylation (Sperm)</text>
<text x="347.5" y="2161.5" font-size="21.3" text-anchor="end" fill="#2A9D7A">H3K9me3 (Sperm)</text>
<text x="347.5" y="2187.4" font-size="21.3" text-anchor="end">asCHM</text>
<text x="67.5" y="2078" font-size="28" text-anchor="middle" transform="rotate(-90 67.5 2078)">Gamete</text>
<rect x="77" y="2020.5" width="3.6" height="138.7" fill="#000"/>
<line x1="403.6" y1="1961.5" x2="403.6" y2="2223" stroke="#F4C4CD" stroke-width="1"/>
<text x="396.5" y="2020.8" font-size="20" text-anchor="end">1</text>
<text x="396.5" y="2044.7" font-size="20" text-anchor="end">0</text>
<line x1="398.5" y1="2009.8" x2="401.5" y2="2009.8" stroke="#9a9a9a" stroke-width="1"/>
<line x1="398.5" y1="2043" x2="401.5" y2="2043" stroke="#9a9a9a" stroke-width="1"/>
<text x="396.5" y="2064.5" font-size="20" text-anchor="end">1</text>
<text x="396.5" y="2086.2" font-size="20" text-anchor="end">0</text>
<line x1="398.5" y1="2053.5" x2="401.5" y2="2053.5" stroke="#9a9a9a" stroke-width="1"/>
<line x1="398.5" y1="2084.5" x2="401.5" y2="2084.5" stroke="#9a9a9a" stroke-width="1"/>
<text x="396.5" y="2106.6" font-size="20" text-anchor="end">1</text>
<text x="396.5" y="2129.2" font-size="20" text-anchor="end">0</text>
<line x1="398.5" y1="2095.6" x2="401.5" y2="2095.6" stroke="#9a9a9a" stroke-width="1"/>
<line x1="398.5" y1="2127.5" x2="401.5" y2="2127.5" stroke="#9a9a9a" stroke-width="1"/>
<text x="396.5" y="2150" font-size="20" text-anchor="end">1</text>
<text x="396.5" y="2171.9" font-size="20" text-anchor="end">0</text>
<line x1="398.5" y1="2139" x2="401.5" y2="2139" stroke="#9a9a9a" stroke-width="1"/>
<line x1="398.5" y1="2170.2" x2="401.5" y2="2170.2" stroke="#9a9a9a" stroke-width="1"/>
<path d="M404.5 2043v-33.2h1.8v33.2zM415 2043v-33.2h1.8v33.2zM424 2043v-28.2h1.8v28.2zM429.2 2043v-30.1h1.8v30.1zM433.1 2043v-31.1h1.8v31.1zM436.2 2043v-28.6h1.8v28.6zM440 2043v-32.2h1.8v32.2zM443.2 2043v-29.4h1.8v29.4zM463 2043v-24h1.8v24zM465.2 2043v-24.4h1.8v24.4zM467.2 2043v-26h1.8v26zM470.2 2043v-25.9h1.8v25.9zM472.2 2043v-26.5h1.8v26.5zM474.6 2043v-24.8h1.2v24.8zM477 2043v-32.1h1.8v32.1zM482.2 2043v-29.3h1.8v29.3zM484.8 2043v-33h1.8v33zM488.5 2043v-32.7h1.8v32.7zM491.6 2043v-32h1.8v32zM495.5 2043v-32h1.8v32zM498.4 2043v-31.1h1.8v31.1zM501.6 2043v-31.9h1.8v31.9zM506.9 2043v-28.8h1.8v28.8zM509.1 2043v-30.6h1.8v30.6zM516.2 2043v-33.2h1.8v33.2zM520.4 2043v-33.2h1.8v33.2zM528.3 2043v-31.3h1.8v31.3zM531 2043v-33.2h1.8v33.2zM533.8 2043v-29.9h1.8v29.9zM536.5 2043v-29.8h1.8v29.8zM540.2 2043v-30.2h1.8v30.2zM541.9 2043v-31.5h1.8v31.5zM544.1 2043v-28h1.8v28zM546.9 2043v-30.6h1.8v30.6zM552.6 2043v-33.2h1.8v33.2zM560.1 2043v-33.2h1.8v33.2zM567.3 2043v-31.2h1.8v31.2zM571.1 2043v-32.4h1.8v32.4zM572.9 2043v-21.4h1.8v21.4zM576.2 2043v-33h1.8v33zM578.5 2043v-32.4h1.8v32.4zM581 2043v-25h1.8v25zM583.8 2043v-30.9h1.8v30.9zM587.9 2043v-23.1h1.8v23.1zM590.7 2043v-20.8h1.8v20.8zM592.8 2043v-18.2h1.8v18.2zM596.2 2043v-30.7h1.8v30.7zM599 2043v-16.5h1.8v16.5zM611.4 2043v-33.2h1.8v33.2zM620.2 2043v-33.2h1.8v33.2zM621.9 2043v-1.1h1.8v1.1zM630.5 2043v-1.5h1.8v1.5zM636.4 2043v-0.7h1.8v0.7zM650.6 2043v-33.2h1.8v33.2zM653.3 2043v-13.3h1.8v13.3zM654.5 2043v-0.8h1.8v0.8zM660.6 2043v-0.7h1.8v0.7zM667 2043v-1h1.8v1zM674.5 2043v-18.3h1.8v18.3zM678.7 2043v-1.4h1.8v1.4zM685 2043v-1.1h1.8v1.1zM690.5 2043v-0.9h1.8v0.9zM697.6 2043v-1.5h1.8v1.5zM701.3 2043v-1.5h1.8v1.5zM706.9 2043v-1.5h1.8v1.5zM709.8 2043v-1.3h1.8v1.3zM711.9 2043v-23.2h1.8v23.2zM715.4 2043v-23.2h1.8v23.2zM719.3 2043v-0.7h1.8v0.7zM724.7 2043v-1.3h1.8v1.3zM733 2043v-1.3h1.8v1.3zM736.5 2043v-1.5h1.8v1.5zM745.4 2043v-1.2h1.8v1.2zM752.8 2043v-0.9h1.8v0.9zM754.3 2043v-16.6h1.8v16.6zM773.1 2043v-18.3h1.8v18.3zM778.8 2043v-1.3h1.8v1.3zM784.1 2043v-0.8h1.8v0.8zM821.3 2043v-1h1.8v1zM828.1 2043v-0.9h1.8v0.9zM834.7 2043v-1h1.8v1zM843.2 2043v-0.8h1.8v0.8zM848.8 2043v-0.8h1.8v0.8zM858.6 2043v-0.8h1.8v0.8zM864.6 2043v-0.9h1.8v0.9zM869.3 2043v-1.1h1.8v1.1zM894.9 2043v-1.1h1.8v1.1zM897.7 2043v-1.2h1.8v1.2zM910.1 2043v-10.1h1.8v10.1zM913.9 2043v-11.2h1.8v11.2zM915.9 2043v-10.3h1.8v10.3zM920.6 2043v-11.1h1.8v11.1zM931.9 2043v-1h1.8v1zM938.7 2043v-1h1.8v1zM942.9 2043v-1.3h1.8v1.3zM947.4 2043v-0.7h1.8v0.7zM954 2043v-1.1h1.8v1.1zM959.1 2043v-1h1.8v1zM966.5 2043v-1.2h1.8v1.2zM969.9 2043v-1.3h1.8v1.3zM978.3 2043v-13.6h1.8v13.6zM981.5 2043v-17.3h1.8v17.3zM983.9 2043v-18.1h1.8v18.1zM986.6 2043v-15h1.8v15zM993.8 2043v-0.7h1.8v0.7zM1003.1 2043v-1.2h1.8v1.2zM1006.3 2043v-1.2h1.8v1.2zM1012.8 2043v-1h1.8v1z" fill="#D95F02"/>
<line x1="404.5" y1="2084.5" x2="1017.7" y2="2084.5" stroke="#D95F02" stroke-width="1.2"/>
<path d="M404.5 2084.5L404.5 2083.8L407.5 2083.3L413.5 2084.1L415.5 2083.8L417.5 2082.8L421.5 2079.8L422.5 2080L423.5 2078.8L424.5 2078.9L425.5 2077.6L427.5 2078.3L429.5 2080.2L430.5 2080.2L435.5 2083.6L439.5 2084.5L446.5 2084L450.5 2082.5L453.5 2080.1L458.5 2079.7L462.5 2082.7L465.5 2084.2L467.5 2084.5L474.5 2084.1L485.5 2080L487.5 2080.8L488.5 2080.7L492.5 2082.6L498.5 2084.4L522.5 2084.5L525.5 2083.1L528.5 2080.5L529.5 2080.4L531.5 2078.8L533.5 2079.5L535.5 2081.5L539.5 2083.9L541.5 2082.6L544.5 2079.2L547.5 2077.2L550.5 2078.3L553.5 2081.9L556.5 2083.8L565.5 2083.2L567.5 2082.3L570.5 2080L574.5 2078.2L576.5 2078.5L578.5 2080.4L579.5 2080.5L584.5 2083.9L587.5 2084.5L598.5 2084.4L610.5 2082.6L621.5 2084.4L630.5 2084.5L636.5 2082.6L639.5 2080.6L640.5 2080.5L642.5 2078.6L643.5 2079.2L645.5 2079.2L646.5 2080.3L647.5 2080.3L648.5 2081.3L655.5 2084.1L658.5 2084.5L663.5 2084.3L671.5 2082.8L673.5 2083.3L677.5 2083.2L682.5 2084L690.5 2082.9L695.5 2083.1L706.5 2081.5L710.5 2079.9L717.5 2082.4L720.5 2083L723.5 2082.6L726.5 2081L728.5 2081.3L733.5 2083.7L736.5 2084.5L756.5 2084.4L762.5 2081.6L763.5 2080.5L764.5 2080.8L765.5 2080L769.5 2082.6L772.5 2084L774.5 2084.5L780.5 2084.3L786.5 2083.1L789.5 2083.7L814.5 2084.5L823.5 2082.9L827.5 2083.8L836.5 2083.2L844.5 2084.3L850.5 2083.1L855.5 2083.7L861.5 2083.7L870.5 2082.3L881.5 2084.4L892.5 2084.5L901.5 2083.6L904.5 2082L905.5 2080.7L907.5 2079.6L910.5 2078.9L913.5 2079.2L914.5 2079.9L918.5 2079.8L919.5 2080.6L922.5 2081L925.5 2083.5L927.5 2084.4L937.5 2084.5L944.5 2083.3L946.5 2081.5L949.5 2077.5L951.5 2075.8L952.5 2073.9L953.5 2075.6L954.5 2075.9L956.5 2078.2L959.5 2082.6L961.5 2083.8L964.5 2083.2L968.5 2080.9L975.5 2079.9L977.5 2081.5L978.5 2081.4L984.5 2083.8L991.5 2083.4L1007.5 2084.5L1011.5 2083.1L1013.5 2081.7L1015.5 2082L1017.5 2082.9L1017.7 2084.5z" fill="#D95F02"/>
<path d="M413.7 2127.5v-24.8h1.8v24.8zM417.2 2127.5v-25.7h1.8v25.7zM421.3 2127.5v-27.5h1.8v27.5zM423.6 2127.5v-23.4h1.8v23.4zM427.3 2127.5v-27.4h1.8v27.4zM431.7 2127.5v-22.8h1.8v22.8zM434 2127.5v-23.1h1.8v23.1zM437.2 2127.5v-24.3h1.8v24.3zM442.3 2127.5v-24.6h1.8v24.6zM444.2 2127.5v-25.6h1.8v25.6zM448.2 2127.5v-25.1h1.8v25.1zM451.4 2127.5v-30.3h1.8v30.3zM463.5 2127.5v-1.4h1.8v1.4zM468.2 2127.5v-1.2h1.8v1.2zM474.3 2127.5v-1.5h1.8v1.5zM479.3 2127.5v-0.9h1.8v0.9zM483.4 2127.5v-1.3h1.8v1.3zM489.6 2127.5v-1.6h1.8v1.6zM495.2 2127.5v-1.1h1.8v1.1zM499.8 2127.5v-1.5h1.8v1.5zM505 2127.5v-6.8h1.8v6.8zM509.1 2127.5v-5.2h1.8v5.2zM511.3 2127.5v-5.8h1.8v5.8zM514.9 2127.5v-12.8h1.8v12.8zM521.7 2127.5v-23.9h1.8v23.9zM528 2127.5v-26.8h1.8v26.8zM530.8 2127.5v-29h1.8v29zM534.5 2127.5v-30h1.8v30zM536.9 2127.5v-28.8h1.8v28.8zM539.6 2127.5v-29.1h1.8v29.1zM541.5 2127.5v-31.7h1.8v31.7zM544.5 2127.5v-30.5h1.8v30.5zM548.4 2127.5v-27h1.8v27zM554.4 2127.5v-24.3h1.8v24.3zM556.6 2127.5v-23.3h1.8v23.3zM558.8 2127.5v-23h1.8v23zM560.8 2127.5v-23.9h1.8v23.9zM563 2127.5v-23.5h1.8v23.5zM565.4 2127.5v-25.4h1.8v25.4zM567.6 2127.5v-25.3h1.8v25.3zM583.1 2127.5v-23.9h1.8v23.9zM585.1 2127.5v-30.9h1.8v30.9zM588.7 2127.5v-30.6h1.8v30.6zM590.8 2127.5v-23.3h1.8v23.3zM594.9 2127.5v-28.6h1.8v28.6zM597 2127.5v-31h1.8v31zM599.8 2127.5v-24h1.8v24zM602.3 2127.5v-27.9h1.8v27.9zM615.1 2127.5v-31.9h1.8v31.9zM618.8 2127.5v-31.9h1.8v31.9zM623 2127.5v-31.9h1.8v31.9zM625.7 2127.5v-31.9h1.8v31.9zM627.9 2127.5v-31.9h1.8v31.9zM631.3 2127.5v-31.9h1.8v31.9zM641 2127.5v-30.6h1.8v30.6zM645 2127.5v-28h1.8v28zM648.5 2127.5v-26.3h1.8v26.3zM650.1 2127.5v-29.8h1.8v29.8zM654.7 2127.5v-29.6h1.8v29.6zM656.8 2127.5v-30.8h1.8v30.8zM660.4 2127.5v-26.2h1.8v26.2zM662.7 2127.5v-31.8h1.8v31.8zM668.2 2127.5v-2.1h1.8v2.1zM674.4 2127.5v-2.2h1.8v2.2zM678 2127.5v-2.8h1.8v2.8zM682.6 2127.5v-1.4h1.8v1.4zM689.1 2127.5v-1.1h1.8v1.1zM694.2 2127.5v-1h1.8v1zM696.6 2127.5v-1.1h1.8v1.1zM703.6 2127.5v-1.1h1.8v1.1zM708.9 2127.5v-0.9h1.8v0.9zM712.8 2127.5v-1.2h1.8v1.2zM716.4 2127.5v-0.7h1.8v0.7zM722.3 2127.5v-0.9h1.8v0.9zM726 2127.5v-1.5h1.8v1.5zM731.6 2127.5v-19.3h1.8v19.3zM734.2 2127.5v-29.5h1.8v29.5zM736.6 2127.5v-29.5h1.8v29.5zM738.7 2127.5v-29.2h1.8v29.2zM741.4 2127.5v-27.6h1.8v27.6zM744.6 2127.5v-16.6h1.8v16.6zM747.2 2127.5v-28.4h1.8v28.4zM749.4 2127.5v-15.9h1.8v15.9zM753.1 2127.5v-28h1.8v28zM755.5 2127.5v-24.9h1.8v24.9zM765.6 2127.5v-23.5h1.8v23.5zM772.8 2127.5v-27.1h1.8v27.1zM779.2 2127.5v-28.6h1.8v28.6zM781.7 2127.5v-25.4h1.8v25.4zM813.8 2127.5v-31.9h1.8v31.9zM816.8 2127.5v-31.9h1.8v31.9zM820.7 2127.5v-31.9h1.8v31.9zM825 2127.5v-31.9h1.8v31.9zM827.9 2127.5v-31.9h1.8v31.9zM840.7 2127.5v-27.4h1.8v27.4zM845 2127.5v-30.9h1.8v30.9zM849.9 2127.5v-19h1.8v19zM852.6 2127.5v-28.7h1.8v28.7zM855.9 2127.5v-19.6h1.8v19.6zM860.9 2127.5v-29h1.8v29zM865.8 2127.5v-16.2h1.8v16.2zM867.8 2127.5v-26.3h1.8v26.3zM873.1 2127.5v-19.2h1.8v19.2zM877.9 2127.5v-21.3h1.8v21.3zM892.6 2127.5v-31.9h1.8v31.9zM896.3 2127.5v-31.9h1.8v31.9zM898.5 2127.5v-31.9h1.8v31.9zM901.4 2127.5v-31.9h1.8v31.9zM905.1 2127.5v-31.9h1.8v31.9zM909.1 2127.5v-31.9h1.8v31.9zM912.2 2127.5v-31.9h1.8v31.9zM915.5 2127.5v-31.9h1.8v31.9zM919.4 2127.5v-31.9h1.8v31.9zM927 2127.5v-31.9h1.8v31.9zM931.1 2127.5v-31.9h1.8v31.9zM934.6 2127.5v-31.9h1.8v31.9zM938.7 2127.5v-31.9h1.8v31.9zM946.1 2127.5v-31.9h1.8v31.9zM948.4 2127.5v-31.9h1.8v31.9zM954.6 2127.5v-31.9h1.8v31.9zM961.1 2127.5v-31.9h1.8v31.9zM964 2127.5v-31.9h1.8v31.9zM968.2 2127.5v-31.9h1.8v31.9zM971.8 2127.5v-31.9h1.8v31.9zM975.5 2127.5v-31.9h1.8v31.9zM981.7 2127.5v-31.9h1.8v31.9zM985.5 2127.5v-31.9h1.8v31.9zM988.7 2127.5v-31.9h1.8v31.9zM993.3 2127.5v-31.9h1.8v31.9zM996.5 2127.5v-31.9h1.8v31.9z" fill="#1B9E77"/>
<line x1="404.5" y1="2170.2" x2="1017.7" y2="2170.2" stroke="#1B9E77" stroke-width="1.2"/>
<path d="M404.5 2170.2L421.5 2170.1L432.5 2167.2L441.5 2170L450.5 2170.1L452.5 2169.1L455.5 2165L456.5 2164.7L459.5 2164.2L460.5 2164.9L462.5 2164.6L463.5 2165.1L465.5 2164.4L466.5 2164.8L467.5 2164.4L468.5 2164.8L470.5 2164.7L471.5 2164.2L473.5 2164.6L476.5 2168.5L478.5 2170L483.5 2170.2L485.5 2169.5L490.5 2164.7L493.5 2163L494.5 2164.5L500.5 2169.6L502.5 2170.2L504.5 2170L507.5 2167.7L510.5 2166.8L513.5 2167.3L522.5 2167L526.5 2169.9L528.5 2170.2L545.5 2170.2L547.5 2169.7L550.5 2168.2L552.5 2168.1L556.5 2170L561.5 2170.2L566.5 2168.1L571.5 2170.1L585.5 2170.2L591.5 2167.9L597.5 2170.2L608.5 2170.2L611.5 2169.4L617.5 2165.9L619.5 2166.7L624.5 2169.9L626.5 2170.2L634.5 2170L639.5 2168L643.5 2169.8L645.5 2170.2L699.5 2170.2L701.5 2169.5L705.5 2164.8L707.5 2165.1L710.5 2164.5L711.5 2165L712.5 2164.4L713.5 2165.1L716.5 2164.3L717.5 2165L720.5 2164.1L724.5 2164.8L726.5 2164.3L727.5 2165.1L729.5 2164.3L731.5 2164.7L732.5 2164.1L733.5 2165.1L739.5 2164.2L741.5 2165.2L743.5 2167.3L744.5 2167.5L748.5 2166.1L751.5 2166.2L752.5 2165.5L753.5 2166.3L754.5 2165.4L755.5 2166L756.5 2165.4L757.5 2166.3L758.5 2165.5L760.5 2166.1L765.5 2166.2L770.5 2165.6L773.5 2166.5L775.5 2168.6L777.5 2169.9L779.5 2170.2L817.5 2170.2L820.5 2169.6L825.5 2167.5L829.5 2167.9L835.5 2170.1L840.5 2170.2L843.5 2169.3L847.5 2166.5L850.5 2165.3L851.5 2165.3L854.5 2166.7L856.5 2168.4L859.5 2169.9L861.5 2170.2L889.5 2170.2L892.5 2169.6L896.5 2167.9L899.5 2167.4L906.5 2170L909.5 2170.2L921.5 2170L925.5 2167.9L927.5 2167.5L929.5 2169L932.5 2170.2L933.5 2170.1L935.5 2169L939.5 2163.6L941.5 2160.1L942.5 2160.5L943.5 2159.8L948.5 2167.5L950.5 2169.6L951.5 2170.1L976.5 2170.1L979.5 2169.1L983.5 2166.6L984.5 2166.5L987.5 2164.2L988.5 2164.1L989.5 2165L991.5 2165.6L992.5 2166.5L1000.5 2170.1L1006.5 2170.1L1010.5 2169.1L1014.5 2170.1L1017.7 2170.2z" fill="#1B9E77"/>
<rect x="473.8" y="2180.2" width="26.7" height="10" fill="#D95F02" stroke="#111" stroke-width="2.2"/>
<text x="1273.5" y="1978.2" font-size="21.3">5 kb</text>
<text x="1575.6" y="1978" font-size="21.3">mm10</text>
<text x="1150.5" y="2002.8" font-size="21.3">chr7:</text>
<text x="1352" y="2002.8" font-size="21.3">111,235,000</text>
<text x="1580" y="2002.8" font-size="21.3">111,240,000</text>
<line x1="1331.8" y1="1971.4" x2="1563.4" y2="1971.4" stroke="#000" stroke-width="2.4"/>
<line x1="1332.8" y1="1965.4" x2="1332.8" y2="1977.4" stroke="#000" stroke-width="2.6"/>
<line x1="1562.4" y1="1965.4" x2="1562.4" y2="1977.4" stroke="#000" stroke-width="2.6"/>
<line x1="1253.3" y1="1996" x2="1253.3" y2="2004" stroke="#000" stroke-width="1.4"/>
<line x1="1481.3" y1="1996" x2="1481.3" y2="2004" stroke="#000" stroke-width="1.4"/>
<line x1="1709.3" y1="1996" x2="1709.3" y2="2004" stroke="#000" stroke-width="1.4"/>
<line x1="1212" y1="1962" x2="1212" y2="2222" stroke="#F4C4CD" stroke-width="1"/>
<text x="1200.8" y="2021.9" font-size="20" text-anchor="end">1</text>
<text x="1200.8" y="2044.9" font-size="20" text-anchor="end">0</text>
<line x1="1203" y1="2010.9" x2="1206" y2="2010.9" stroke="#9a9a9a" stroke-width="1"/>
<line x1="1203" y1="2043.2" x2="1206" y2="2043.2" stroke="#9a9a9a" stroke-width="1"/>
<text x="1200.8" y="2064.5" font-size="20" text-anchor="end">1</text>
<text x="1200.8" y="2086.2" font-size="20" text-anchor="end">0</text>
<line x1="1203" y1="2053.5" x2="1206" y2="2053.5" stroke="#9a9a9a" stroke-width="1"/>
<line x1="1203" y1="2084.5" x2="1206" y2="2084.5" stroke="#9a9a9a" stroke-width="1"/>
<text x="1200.8" y="2107.2" font-size="20" text-anchor="end">1</text>
<text x="1200.8" y="2129.3" font-size="20" text-anchor="end">0</text>
<line x1="1203" y1="2096.2" x2="1206" y2="2096.2" stroke="#9a9a9a" stroke-width="1"/>
<line x1="1203" y1="2127.6" x2="1206" y2="2127.6" stroke="#9a9a9a" stroke-width="1"/>
<text x="1200.8" y="2150" font-size="20" text-anchor="end">1</text>
<text x="1200.8" y="2171.5" font-size="20" text-anchor="end">0</text>
<line x1="1203" y1="2139" x2="1206" y2="2139" stroke="#9a9a9a" stroke-width="1"/>
<line x1="1203" y1="2169.8" x2="1206" y2="2169.8" stroke="#9a9a9a" stroke-width="1"/>
<path d="M1215.3 2043.2v-4.3h1.8v4.3zM1217.1 2043.2v-6.1h1.8v6.1zM1220.5 2043.2v-4.7h1.8v4.7zM1226.4 2043.2v-6h1.8v6zM1228.2 2043.2v-4.9h1.8v4.9zM1231.8 2043.2v-1.2h1.8v1.2zM1236.6 2043.2v-5.8h1.8v5.8zM1239.6 2043.2v-4.2h1.8v4.2zM1244.5 2043.2v-2.7h1.8v2.7zM1246.7 2043.2v-2h1.8v2zM1252 2043.2v-5.6h1.8v5.6zM1254.3 2043.2v-4.2h1.8v4.2zM1262.7 2043.2v-8.1h1.8v8.1zM1269 2043.2v-32.3h1.8v32.3zM1278.9 2043.2v-1.2h1.8v1.2zM1284.9 2043.2v-1.3h1.8v1.3zM1292.4 2043.2v-1.2h1.8v1.2zM1315.7 2043.2v-32.3h1.8v32.3zM1374.5 2043.2v-16.1h1.8v16.1zM1378.1 2043.2v-11.3h1.8v11.3zM1382.6 2043.2v-12.9h1.8v12.9zM1387.1 2043.2v-9.7h1.8v9.7zM1397.3 2043.2v-1.2h1.8v1.2zM1406.9 2043.2v-1.3h1.8v1.3zM1411 2043.2v-1.1h1.8v1.1zM1438.7 2043.2v-6.5h1.8v6.5zM1442.3 2043.2v-14.5h1.8v14.5zM1465.6 2043.2v-32.3h1.8v32.3zM1483.6 2043.2v-17.8h1.8v17.8zM1531.6 2043.2v-32.3h1.8v32.3zM1540.2 2043.2v-1h1.8v1zM1551.3 2043.2v-0.7h1.8v0.7zM1558.4 2043.2v-1.2h1.8v1.2zM1564 2043.2v-1h1.8v1zM1571.2 2043.2v-1h1.8v1zM1616 2043.2v-9.7h1.8v9.7zM1618.2 2043.2v-6.5h1.8v6.5zM1678.8 2043.2v-6.5h1.8v6.5zM1683.3 2043.2v-14.5h1.8v14.5zM1707.5 2043.2v-0.8h1.8v0.8zM1716.8 2043.2v-1h1.8v1zM1726.1 2043.2v-1h1.8v1zM1731.3 2043.2v-0.9h1.8v0.9zM1739.7 2043.2v-1.1h1.8v1.1zM1748.8 2043.2v-1h1.8v1zM1740.7 2043.2v-21h1.8v21zM1770.8 2043.2v-1h1.8v1zM1799.1 2043.2v-16.1h1.8v16.1z" fill="#D95F02"/>
<line x1="1212.5" y1="2084.5" x2="1818" y2="2084.5" stroke="#D95F02" stroke-width="1.2"/>
<path d="M1212.5 2084.5L1217.5 2084.4L1223.5 2083.3L1229.5 2084.5L1254.5 2084.4L1255.5 2084.2L1259.5 2081.4L1266.5 2081.1L1272.5 2081.5L1276.5 2084.3L1280.5 2084.5L1282.5 2084.1L1285.5 2081.7L1287.5 2080.7L1290.5 2081.1L1291.5 2080.4L1293.5 2081.1L1296.5 2080.5L1298.5 2081L1300.5 2081.9L1302.5 2083.7L1304.5 2084.5L1325.5 2084.5L1327.5 2084.2L1332.5 2081.9L1333.5 2082.3L1337.5 2081.9L1343.5 2082.2L1346.5 2081.8L1348.5 2082.2L1357.5 2082L1362.5 2084.5L1370.5 2084.5L1372.5 2083.8L1375.5 2080.4L1376.5 2080.5L1378.5 2079.7L1379.5 2080.2L1381.5 2079.5L1383.5 2080L1384.5 2079.5L1386.5 2080.1L1388.5 2080.2L1389.5 2079.5L1393.5 2079.8L1397.5 2084L1399.5 2084.5L1418.5 2084.5L1425.5 2082.5L1430.5 2084.3L1432.5 2084.5L1476.5 2084.5L1483.5 2083.1L1490.5 2084.5L1493.5 2083.5L1497.5 2079.7L1501.5 2079.6L1502.5 2080L1503.5 2079.4L1512.5 2080.3L1513.5 2079.5L1515.5 2080.3L1522.5 2080L1524.5 2080.4L1527.5 2083.4L1529.5 2084.4L1537.5 2084.5L1539.5 2084L1540.5 2083L1542.5 2079.6L1544.5 2077.7L1546.5 2077L1548.5 2077.4L1549.5 2076L1550.5 2076.3L1551.5 2077.3L1553.5 2076.3L1555.5 2077.4L1557.5 2076.9L1558.5 2076.1L1560.5 2076.8L1561.5 2076.5L1562.5 2077.4L1563.5 2076.5L1564.5 2076.3L1567.5 2077.2L1573.5 2081.4L1576.5 2081.3L1577.5 2081.7L1578.5 2081.1L1581.5 2081.6L1583.5 2081.1L1587.5 2081.6L1589.5 2081.2L1591.5 2081.8L1594.5 2084.2L1595.5 2084.3L1608.5 2083.6L1616.5 2084L1622.5 2083.1L1631.5 2084.5L1643.5 2083.7L1653.5 2084.5L1662.5 2084.5L1664.5 2083.6L1667.5 2080.3L1669.5 2080.2L1670.5 2079.5L1671.5 2080.3L1673.5 2080.2L1674.5 2079.5L1675.5 2079.8L1676.5 2079.5L1678.5 2080L1680.5 2079.6L1681.5 2080.1L1682.5 2079.6L1684.5 2080.3L1686.5 2079.8L1687.5 2080.2L1688.5 2079.5L1689.5 2079.8L1693.5 2083.9L1694.5 2084.4L1705.5 2084.4L1706.5 2084.1L1711.5 2079.4L1713.5 2076.1L1716.5 2077.1L1718.5 2078.6L1720.5 2077.2L1721.5 2078L1722.5 2077.3L1723.5 2078.4L1724.5 2077.9L1727.5 2078.9L1731.5 2077.9L1733.5 2078.5L1735.5 2078L1737.5 2078.8L1738.5 2078.5L1742.5 2083.4L1744.5 2084.4L1753.5 2084.4L1754.5 2084.1L1758.5 2080.6L1761.5 2080.5L1763.5 2081.1L1766.5 2080.5L1769.5 2080.9L1773.5 2084L1775.5 2084.5L1810.5 2084.5L1816.5 2083.3L1818 2084.5z" fill="#D95F02"/>
<path d="M1214.1 2127.6v-28.9h1.8v28.9zM1217.4 2127.6v-28.7h1.8v28.7zM1219.4 2127.6v-29.1h1.8v29.1zM1221.9 2127.6v-31.3h1.8v31.3zM1224.4 2127.6v-31.2h1.8v31.2zM1227.4 2127.6v-29h1.8v29zM1230 2127.6v-28.4h1.8v28.4zM1233.5 2127.6v-29.8h1.8v29.8zM1235.6 2127.6v-30.1h1.8v30.1zM1238.8 2127.6v-28.6h1.8v28.6zM1240.8 2127.6v-29.6h1.8v29.6zM1243.2 2127.6v-30.7h1.8v30.7zM1246.3 2127.6v-28.3h1.8v28.3zM1249.1 2127.6v-30.5h1.8v30.5zM1252.6 2127.6v-30.4h1.8v30.4zM1254.2 2127.6v-30.7h1.8v30.7zM1262.7 2127.6v-26.9h1.8v26.9zM1266.5 2127.6v-27.5h1.8v27.5zM1270.4 2127.6v-27.1h1.8v27.1zM1276.8 2127.6v-28.3h1.8v28.3zM1279.4 2127.6v-28.3h1.8v28.3zM1290.6 2127.6v-31.4h1.8v31.4zM1315.7 2127.6v-31.4h1.8v31.4zM1324.2 2127.6v-31.4h1.8v31.4zM1374.5 2127.6v-27.6h1.8v27.6zM1377.5 2127.6v-27.6h1.8v27.6zM1379.9 2127.6v-27.3h1.8v27.3zM1382.1 2127.6v-27h1.8v27zM1384.5 2127.6v-27.2h1.8v27.2zM1386.5 2127.6v-27.2h1.8v27.2zM1389.5 2127.6v-27.4h1.8v27.4zM1396.8 2127.6v-31.4h1.8v31.4zM1402.9 2127.6v-31.4h1.8v31.4zM1406.5 2127.6v-31.4h1.8v31.4zM1410.4 2127.6v-31.4h1.8v31.4zM1416 2127.6v-31.4h1.8v31.4zM1427.5 2127.6v-31.4h1.8v31.4zM1438.4 2127.6v-31.4h1.8v31.4zM1441.7 2127.6v-31.4h1.8v31.4zM1455.7 2127.6v-31.4h1.8v31.4zM1465.6 2127.6v-31.4h1.8v31.4zM1483.6 2127.6v-31.4h1.8v31.4zM1530.3 2127.6v-31.4h1.8v31.4zM1533.9 2127.6v-31.4h1.8v31.4zM1537.3 2127.6v-31.4h1.8v31.4zM1540.3 2127.6v-31.4h1.8v31.4zM1545.6 2127.6v-31.4h1.8v31.4zM1553.3 2127.6v-31.4h1.8v31.4zM1560.1 2127.6v-31.4h1.8v31.4zM1563.5 2127.6v-31.4h1.8v31.4zM1613.6 2127.6v-31.4h1.8v31.4zM1617.1 2127.6v-31.4h1.8v31.4zM1620.2 2127.6v-31.4h1.8v31.4zM1623.1 2127.6v-31.4h1.8v31.4zM1649.6 2127.6v-31.4h1.8v31.4zM1676.5 2127.6v-31.4h1.8v31.4zM1678.2 2127.6v-31.4h1.8v31.4zM1680.9 2127.6v-31.4h1.8v31.4zM1683.7 2127.6v-31.4h1.8v31.4zM1699 2127.6v-31.4h1.8v31.4zM1707.7 2127.6v-31.4h1.8v31.4zM1710.6 2127.6v-31.4h1.8v31.4zM1713.3 2127.6v-31.4h1.8v31.4zM1716.3 2127.6v-31.4h1.8v31.4zM1719.4 2127.6v-31.4h1.8v31.4zM1721.9 2127.6v-31.4h1.8v31.4zM1728 2127.6v-31.4h1.8v31.4zM1730.3 2127.6v-31.4h1.8v31.4zM1733 2127.6v-31.4h1.8v31.4zM1734.7 2127.6v-31.4h1.8v31.4zM1739.5 2127.6v-31.4h1.8v31.4zM1742.8 2127.6v-31.4h1.8v31.4zM1745.7 2127.6v-31.4h1.8v31.4zM1750.9 2127.6v-31.4h1.8v31.4zM1754.8 2127.6v-31.4h1.8v31.4zM1769.3 2127.6v-31.4h1.8v31.4zM1773 2127.6v-31.4h1.8v31.4zM1775.1 2127.6v-31.4h1.8v31.4zM1783.9 2127.6v-31.4h1.8v31.4zM1786.2 2127.6v-31.4h1.8v31.4zM1789 2127.6v-31.4h1.8v31.4zM1790.7 2127.6v-31.4h1.8v31.4zM1793.2 2127.6v-31.4h1.8v31.4zM1795.5 2127.6v-31.4h1.8v31.4zM1798.8 2127.6v-31.4h1.8v31.4zM1801.5 2127.6v-31.4h1.8v31.4zM1803.6 2127.6v-31.4h1.8v31.4zM1805.6 2127.6v-31.4h1.8v31.4zM1807.4 2127.6v-31.4h1.8v31.4zM1810.7 2127.6v-31.4h1.8v31.4z" fill="#1B9E77"/>
<line x1="1212.5" y1="2169.8" x2="1818" y2="2169.8" stroke="#1B9E77" stroke-width="1.2"/>
<path d="M1212.5 2169.8L1212.5 2164.6L1213.5 2164.2L1215.5 2164L1216.5 2164.6L1217.5 2164.2L1219.5 2164.6L1221.5 2163.9L1224.5 2164.6L1229.5 2164.6L1234.5 2163.8L1236.5 2164.7L1239.5 2164L1241.5 2164.7L1244.5 2162.7L1247.5 2162.1L1249.5 2159.7L1250.5 2160.5L1251.5 2159.4L1253.5 2160.1L1256.5 2162.7L1258.5 2162.6L1259.5 2163.7L1260.5 2163.5L1263.5 2164.3L1265.5 2163.9L1267.5 2164.6L1268.5 2163.8L1272.5 2164.7L1274.5 2163.9L1276.5 2164.3L1277.5 2164.8L1281.5 2169.2L1283.5 2169.8L1307.5 2169.8L1309.5 2169.2L1312.5 2167.4L1314.5 2167.1L1319.5 2169.6L1326.5 2169.8L1328.5 2169.1L1331.5 2166.9L1344.5 2166.4L1345.5 2166.9L1348.5 2166.9L1351.5 2169.3L1353.5 2169.8L1362.5 2169.7L1366.5 2168L1368.5 2167.8L1370.5 2168.9L1373.5 2169.8L1409.5 2169.8L1411.5 2169.2L1414.5 2166.7L1425.5 2166.5L1427.5 2167L1429.5 2166.5L1430.5 2167L1433.5 2166.9L1436.5 2169.1L1438.5 2169.8L1440.5 2169.3L1443.5 2167L1447.5 2166.5L1449.5 2166.9L1459.5 2166.4L1460.5 2167L1461.5 2166.6L1464.5 2167L1465.5 2166.5L1468.5 2166.8L1470.5 2167.3L1472.5 2169.2L1474.5 2169.8L1496.5 2169.8L1498.5 2169.4L1501.5 2166.7L1505.5 2166L1506.5 2166.3L1511.5 2165.8L1512.5 2166.4L1514.5 2165.9L1516.5 2166.5L1519.5 2165.8L1520.5 2166.4L1523.5 2166.4L1525.5 2165.8L1527.5 2166.3L1528.5 2165.8L1530.5 2166.4L1531.5 2165.9L1534.5 2167.6L1535.5 2167.5L1537.5 2165.5L1539.5 2161.6L1542.5 2158.3L1543.5 2159.5L1545.5 2164.2L1549.5 2169.1L1551.5 2168.2L1554.5 2164.9L1555.5 2164.6L1557.5 2165.8L1559.5 2165.2L1561.5 2161.8L1562.5 2158.2L1563.5 2157.5L1564.5 2155.1L1565.5 2156.5L1566.5 2160.4L1569.5 2165.8L1570.5 2165.9L1571.5 2164.5L1573.5 2160.9L1574.5 2158L1576.5 2158.6L1580.5 2167L1581.5 2168.5L1583.5 2169.8L1587.5 2169.3L1589.5 2167.8L1592.5 2164.5L1593.5 2164.1L1595.5 2165.2L1596.5 2166.7L1599.5 2169.2L1602.5 2169.7L1604.5 2168.6L1607.5 2164.3L1609.5 2163.1L1610.5 2163.7L1612.5 2166.9L1614.5 2169L1615.5 2169.1L1618.5 2165.6L1624.5 2164.9L1626.5 2165.6L1627.5 2165.1L1628.5 2165.5L1631.5 2165L1632.5 2165.7L1633.5 2165.6L1636.5 2169L1638.5 2169.8L1660.5 2169.8L1662.5 2169.3L1664.5 2167.7L1668.5 2163.7L1669.5 2163.4L1670.5 2161.6L1672.5 2162.1L1673.5 2161.5L1674.5 2163.5L1676.5 2164.6L1677.5 2166L1681.5 2169.2L1683.5 2169.8L1690.5 2169.8L1692.5 2169.4L1695.5 2166.7L1697.5 2163.6L1698.5 2163.9L1699.5 2163.1L1704.5 2168.8L1705.5 2169.4L1707.5 2169.8L1775.5 2169.8L1782.5 2167.6L1788.5 2169.8L1818 2169.8z" fill="#1B9E77"/>
<rect x="1370.4" y="2180.1" width="30.1" height="9.9" fill="#1B9E77" stroke="#111" stroke-width="2.2"/>
<text x="343" y="2282.5" font-size="21.3">Scale</text>
<text x="424.6" y="2284.5" font-size="21.3">10 kb</text>
<text x="348.5" y="2312.7" font-size="21.3">chr1:</text>
<text x="570.7" y="2312.6" font-size="21.3">63,205,000</text>
<text x="850.9" y="2312.6" font-size="21.3">63,215,000</text>
<line x1="487" y1="2279.1" x2="766.3" y2="2279.1" stroke="#000" stroke-width="2.4"/>
<line x1="488" y1="2273.1" x2="488" y2="2285.1" stroke="#000" stroke-width="2.6"/>
<line x1="765.3" y1="2273.1" x2="765.3" y2="2285.1" stroke="#000" stroke-width="2.6"/>
<line x1="688.5" y1="2306" x2="688.5" y2="2314" stroke="#000" stroke-width="1.4"/>
<line x1="965.4" y1="2306" x2="965.4" y2="2314" stroke="#000" stroke-width="1.4"/>
<line x1="412" y1="2306" x2="412" y2="2314" stroke="#000" stroke-width="1.4"/>
<text x="345.2" y="2347.3" font-size="21.3" text-anchor="end" fill="#D2691E">DNA methylation (BDF1)</text>
<text x="345.2" y="2390.5" font-size="21.3" text-anchor="end" fill="#D2691E">H3K9me3 (BDF1)</text>
<text x="345.2" y="2433.6" font-size="21.3" text-anchor="end" fill="#2A9D7A">DNA methylation (PWK)</text>
<text x="345.2" y="2476.4" font-size="21.3" text-anchor="end" fill="#2A9D7A">H3K9me3 (PWK)</text>
<text x="345.2" y="2519.1" font-size="21.3" text-anchor="end" fill="#D2691E">DNA methylation (BDF1)</text>
<text x="345.2" y="2562.3" font-size="21.3" text-anchor="end" fill="#D2691E">H3K9me3 (BDF1)</text>
<text x="345.2" y="2605.4" font-size="21.3" text-anchor="end" fill="#2A9D7A">DNA methylation (PWK)</text>
<text x="345.2" y="2648.2" font-size="21.3" text-anchor="end" fill="#2A9D7A">H3K9me3 (PWK)</text>
<text x="345.2" y="2677.3" font-size="21.3" text-anchor="end">asCHM</text>
<text x="68" y="2394.8" font-size="28" text-anchor="middle" transform="rotate(-90 68 2394.8)">E6.5 Epi</text>
<text x="73" y="2580.4" font-size="28" text-anchor="middle" transform="rotate(-90 73 2580.4)">E6.5 ExE</text>
<rect x="82.5" y="2338.6" width="3.6" height="139.4" fill="#000"/>
<rect x="82.5" y="2512" width="3.6" height="138.7" fill="#000"/>
<line x1="402" y1="2270" x2="402" y2="2712" stroke="#F4C4CD" stroke-width="1"/>
<text x="396" y="2336.6" font-size="20" text-anchor="end">1</text>
<text x="396" y="2358.6" font-size="20" text-anchor="end">0</text>
<line x1="398" y1="2325.6" x2="401" y2="2325.6" stroke="#9a9a9a" stroke-width="1"/>
<line x1="398" y1="2356.9" x2="401" y2="2356.9" stroke="#9a9a9a" stroke-width="1"/>
<text x="396" y="2379.7" font-size="20" text-anchor="end">1</text>
<text x="396" y="2401.7" font-size="20" text-anchor="end">0</text>
<line x1="398" y1="2368.7" x2="401" y2="2368.7" stroke="#9a9a9a" stroke-width="1"/>
<line x1="398" y1="2400" x2="401" y2="2400" stroke="#9a9a9a" stroke-width="1"/>
<text x="396" y="2422.7" font-size="20" text-anchor="end">1</text>
<text x="396" y="2444.7" font-size="20" text-anchor="end">0</text>
<line x1="398" y1="2411.7" x2="401" y2="2411.7" stroke="#9a9a9a" stroke-width="1"/>
<line x1="398" y1="2443" x2="401" y2="2443" stroke="#9a9a9a" stroke-width="1"/>
<text x="396" y="2465.8" font-size="20" text-anchor="end">1</text>
<text x="396" y="2487.8" font-size="20" text-anchor="end">0</text>
<line x1="398" y1="2454.8" x2="401" y2="2454.8" stroke="#9a9a9a" stroke-width="1"/>
<line x1="398" y1="2486.1" x2="401" y2="2486.1" stroke="#9a9a9a" stroke-width="1"/>
<text x="396" y="2508.8" font-size="20" text-anchor="end">1</text>
<text x="396" y="2530.8" font-size="20" text-anchor="end">0</text>
<line x1="398" y1="2497.8" x2="401" y2="2497.8" stroke="#9a9a9a" stroke-width="1"/>
<line x1="398" y1="2529.1" x2="401" y2="2529.1" stroke="#9a9a9a" stroke-width="1"/>
<text x="396" y="2551.8" font-size="20" text-anchor="end">1</text>
<text x="396" y="2573.8" font-size="20" text-anchor="end">0</text>
<line x1="398" y1="2540.8" x2="401" y2="2540.8" stroke="#9a9a9a" stroke-width="1"/>
<line x1="398" y1="2572.2" x2="401" y2="2572.2" stroke="#9a9a9a" stroke-width="1"/>
<text x="396" y="2594.9" font-size="20" text-anchor="end">1</text>
<text x="396" y="2616.9" font-size="20" text-anchor="end">0</text>
<line x1="398" y1="2583.9" x2="401" y2="2583.9" stroke="#9a9a9a" stroke-width="1"/>
<line x1="398" y1="2615.2" x2="401" y2="2615.2" stroke="#9a9a9a" stroke-width="1"/>
<text x="396" y="2637.9" font-size="20" text-anchor="end">1</text>
<text x="396" y="2659.9" font-size="20" text-anchor="end">0</text>
<line x1="398" y1="2626.9" x2="401" y2="2626.9" stroke="#9a9a9a" stroke-width="1"/>
<line x1="398" y1="2658.2" x2="401" y2="2658.2" stroke="#9a9a9a" stroke-width="1"/>
<path d="M415.1 2356.9v-9.4h1.8v9.4zM417.1 2356.9v-15.7h1.8v15.7zM419.1 2356.9v-17.2h1.8v17.2zM425 2356.9v-27.2h1.8v27.2zM428.2 2356.9v-25.5h1.8v25.5zM431.7 2356.9v-25.4h1.8v25.4zM451.8 2356.9v-31.3h1.8v31.3zM481.8 2356.9v-31.3h1.8v31.3zM491.3 2356.9v-20.9h1.8v20.9zM494.8 2356.9v-20.3h1.8v20.3zM496.5 2356.9v-31.2h1.8v31.2zM500.1 2356.9v-14.3h1.8v14.3zM502.6 2356.9v-12.9h1.8v12.9zM504.5 2356.9v-30.2h1.8v30.2zM507.8 2356.9v-20.1h1.8v20.1zM517.7 2356.9v-31.3h1.8v31.3zM528.8 2356.9v-15.7h1.8v15.7zM547.6 2356.9v-25.9h1.8v25.9zM550 2356.9v-26.1h1.8v26.1zM552.2 2356.9v-25.4h1.8v25.4zM554.4 2356.9v-25.2h1.8v25.2zM557.4 2356.9v-25h1.8v25zM559.4 2356.9v-25.8h1.8v25.8zM561.8 2356.9v-25h1.8v25zM564 2356.9v-25.8h1.8v25.8zM566.2 2356.9v-25h1.8v25zM569.2 2356.9v-25.9h1.8v25.9zM571.4 2356.9v-25.2h1.8v25.2zM581.5 2356.9v-31.3h1.8v31.3zM585.5 2356.9v-25h1.8v25zM620 2356.9v-31.3h1.8v31.3zM622.7 2356.9v-31.3h1.8v31.3zM627.7 2356.9v-31.3h1.8v31.3zM635.4 2356.9v-21.9h1.8v21.9zM645.4 2356.9v-29.7h1.8v29.7zM693.2 2356.9v-1.3h1.8v1.3zM723.6 2356.9v-31.3h1.8v31.3zM727.5 2356.9v-31.3h1.8v31.3zM731.8 2356.9v-31.3h1.8v31.3zM735.9 2356.9v-31.3h1.8v31.3zM760.7 2356.9v-8.8h1.8v8.8zM763.5 2356.9v-9.4h1.8v9.4zM767.3 2356.9v-6.7h1.8v6.7zM776.5 2356.9v-31.3h1.8v31.3zM780.8 2356.9v-31.3h1.8v31.3zM783.2 2356.9v-31.3h1.8v31.3zM804 2356.9v-31.3h1.8v31.3zM807.3 2356.9v-31.3h1.8v31.3zM822.9 2356.9v-15.7h1.8v15.7zM828.9 2356.9v-6.3h1.8v6.3zM834.9 2356.9v-3.1h1.8v3.1zM842.9 2356.9v-9.4h1.8v9.4zM854.8 2356.9v-26.1h1.8v26.1zM859.6 2356.9v-29.3h1.8v29.3zM873 2356.9v-31.3h1.8v31.3zM877.1 2356.9v-31.3h1.8v31.3zM882.6 2356.9v-31.3h1.8v31.3zM891.2 2356.9v-31.3h1.8v31.3zM893.9 2356.9v-31.3h1.8v31.3zM899.7 2356.9v-31.3h1.8v31.3zM938.3 2356.9v-1.5h1.8v1.5zM941.4 2356.9v-1h1.8v1zM944.8 2356.9v-1h1.8v1zM952.6 2356.9v-9.4h1.8v9.4zM957.7 2356.9v-25h1.8v25zM963.1 2356.9v-25h1.8v25zM981.2 2356.9v-31.3h1.8v31.3zM984 2356.9v-31.3h1.8v31.3zM989.2 2356.9v-31.3h1.8v31.3z" fill="#D95F02"/>
<line x1="402.5" y1="2400" x2="998.5" y2="2400" stroke="#D95F02" stroke-width="1.2"/>
<path d="M402.5 2400L419.5 2399.6L422.5 2396.9L424.5 2393.6L425.5 2393.9L426.5 2393.3L431.5 2399.2L433.5 2399.9L460.5 2399.9L461.5 2399.5L464.5 2395.6L465.5 2395.1L466.5 2395.3L470.5 2399.7L475.5 2399.9L477.5 2398.7L480.5 2393.7L482.5 2393.1L485.5 2394.1L486.5 2393.4L490.5 2399.2L491.5 2399.2L492.5 2397.6L495.5 2387.9L496.5 2381.9L498.5 2374.4L499.5 2378.4L500.5 2378.8L503.5 2393L505.5 2397.8L508.5 2394.2L512.5 2393.4L513.5 2393.9L514.5 2393.4L515.5 2394.2L517.5 2394.6L519.5 2398.5L520.5 2399.6L521.5 2399.7L522.5 2398.6L525.5 2391.8L526.5 2393L528.5 2398.1L529.5 2399.4L531.5 2400L540.5 2399.9L541.5 2399.5L543.5 2397.6L547.5 2391.8L548.5 2391.4L550.5 2387.5L552.5 2386.4L553.5 2386.5L554.5 2385.4L555.5 2386.8L556.5 2384.2L558.5 2369L559.5 2368.7L565.5 2368.9L566.5 2371L568.5 2368.7L569.5 2371.7L570.5 2371.8L571.5 2380.3L573.5 2389.3L574.5 2391.5L575.5 2390.1L576.5 2390.1L577.5 2391.4L579.5 2390.6L580.5 2389.6L581.5 2391.2L582.5 2391.4L583.5 2390.9L584.5 2391.4L585.5 2390.7L586.5 2390.8L587.5 2392.4L589.5 2398.4L590.5 2399.7L591.5 2400L613.5 2399.7L614.5 2398.4L615.5 2395.8L618.5 2385.7L619.5 2386.4L622.5 2398L623.5 2399.3L624.5 2398.9L627.5 2395.2L628.5 2395.7L629.5 2397.8L631.5 2399.8L649.5 2399.9L650.5 2399.4L651.5 2397.5L653.5 2389.2L655.5 2384.3L659.5 2398L660.5 2398.3L662.5 2395.4L663.5 2395.4L666.5 2399.2L668.5 2399.9L749.5 2399.9L751.5 2399L754.5 2394.9L756.5 2396.1L758.5 2398.8L760.5 2399.9L768.5 2399.6L772.5 2395.3L773.5 2395L776.5 2398.8L778.5 2399.9L796.5 2399.9L798.5 2398.3L800.5 2393.7L801.5 2389.9L803.5 2388L806.5 2396.4L808.5 2399.5L809.5 2399.9L811.5 2399.5L814.5 2396.6L816.5 2397.5L817.5 2398.8L819.5 2399.9L841.5 2399.9L843.5 2398.6L845.5 2395.8L846.5 2395L847.5 2394.9L850.5 2398.9L852.5 2399.9L853.5 2399.8L854.5 2398.6L855.5 2396.3L857.5 2387.2L858.5 2385L859.5 2385.7L860.5 2388.4L862.5 2397.2L863.5 2399.2L864.5 2399.8L886.5 2399.9L888.5 2398.1L891.5 2391.5L892.5 2391.1L895.5 2398.1L896.5 2399.4L897.5 2399.9L978.5 2400L980.5 2399L982.5 2394.8L985.5 2393.2L987.5 2393.9L989.5 2393.5L992.5 2394.7L993.5 2397.3L995.5 2399.8L998.5 2400z" fill="#D95F02"/>
<path d="M416.7 2443v-21.9h1.8v21.9zM426.3 2443v-30h1.8v30zM429 2443v-29.3h1.8v29.3zM431.6 2443v-22.6h1.8v22.6zM451.8 2443v-31.3h1.8v31.3zM461.8 2443v-31.3h1.8v31.3zM490.4 2443v-17.9h1.8v17.9zM492.8 2443v-16.6h1.8v16.6zM495.1 2443v-20.8h1.8v20.8zM497.7 2443v-19.4h1.8v19.4zM500.5 2443v-16.3h1.8v16.3zM504.5 2443v-19.4h1.8v19.4zM507.4 2443v-25.9h1.8v25.9zM509.4 2443v-16.5h1.8v16.5zM528.4 2443v-31.3h1.8v31.3zM555.6 2443v-19.8h1.8v19.8zM557.8 2443v-20.5h1.8v20.5zM560.2 2443v-18.5h1.8v18.5zM562.4 2443v-18.1h1.8v18.1zM564.8 2443v-19.8h1.8v19.8zM566.8 2443v-18.9h1.8v18.9zM569 2443v-20.6h0.6v20.6zM575.5 2443v-25h1.8v25zM620.6 2443v-21.9h1.8v21.9zM636.6 2443v-31.3h1.8v31.3zM645.4 2443v-3.1h1.8v3.1zM694 2443v-31.3h1.8v31.3zM761 2443v-20.5h1.8v20.5zM768.1 2443v-19.7h1.8v19.7zM777.9 2443v-31.3h1.8v31.3zM780.3 2443v-31.3h1.8v31.3zM783.9 2443v-31.3h1.8v31.3zM795 2443v-21.9h1.8v21.9zM803 2443v-6.3h1.8v6.3zM832.1 2443v-21.9h1.8v21.9zM854.3 2443v-26.3h1.8v26.3zM857 2443v-27.2h1.8v27.2zM861.3 2443v-30h1.8v30zM883.6 2443v-31.3h1.8v31.3zM888.3 2443v-22.6h1.8v22.6zM892 2443v-23.3h1.8v23.3zM937.7 2443v-1h1.8v1zM946.8 2443v-1.5h1.8v1.5zM955.2 2443v-0.9h1.8v0.9zM959.6 2443v-1.5h1.8v1.5zM984.2 2443v-31.3h1.8v31.3zM988.9 2443v-31.3h1.8v31.3z" fill="#1B9E77"/>
<line x1="402.5" y1="2486.1" x2="998.5" y2="2486.1" stroke="#1B9E77" stroke-width="1.2"/>
<path d="M402.5 2486.1L407.5 2485.9L408.5 2485.3L412.5 2478.6L413.5 2479L416.5 2484.8L417.5 2485.7L423.5 2485.9L424.5 2485.1L427.5 2477.4L429.5 2474.1L430.5 2475.2L433.5 2483.6L435.5 2485.9L449.5 2486L451.5 2484.3L454.5 2479.2L455.5 2478.9L458.5 2484.3L459.5 2485.6L460.5 2486L474.5 2485.9L475.5 2485.4L479.5 2479L481.5 2480.3L483.5 2484.9L484.5 2485.7L489.5 2486.1L490.5 2485.9L491.5 2485L493.5 2479.6L495.5 2471.7L496.5 2469.8L500.5 2481.4L501.5 2480.8L503.5 2475.3L504.5 2473.9L506.5 2478L508.5 2479.5L509.5 2477.4L511.5 2475.3L514.5 2484L516.5 2486L548.5 2486L549.5 2485.8L550.5 2484.7L553.5 2478.4L554.5 2477.4L555.5 2476.8L556.5 2477.4L557.5 2477.5L558.5 2476L559.5 2477L561.5 2475.5L562.5 2475.9L564.5 2470.2L566.5 2460.1L567.5 2456.9L568.5 2455.8L570.5 2461.4L572.5 2470.9L574.5 2475.3L576.5 2476.5L577.5 2476.4L578.5 2477.6L579.5 2477.5L580.5 2476.5L581.5 2476.9L582.5 2476.1L586.5 2484.5L587.5 2485.7L588.5 2486L605.5 2485.8L606.5 2484.6L610.5 2472L612.5 2476.4L614.5 2484L615.5 2485.5L616.5 2485.1L617.5 2482.8L620.5 2472.8L621.5 2473.8L625.5 2485.2L627.5 2486.1L650.5 2485.8L651.5 2485.2L654.5 2479.9L655.5 2479.4L659.5 2485.4L661.5 2486.1L744.5 2486L746.5 2485.1L749.5 2480.3L750.5 2480L751.5 2480.3L753.5 2484.2L755.5 2486L762.5 2486.1L763.5 2485.9L764.5 2484.9L765.5 2482.6L768.5 2471.8L770.5 2466.4L772.5 2469.4L773.5 2473.7L774.5 2475.5L776.5 2482.3L777.5 2484.8L778.5 2485.8L790.5 2485.9L792.5 2483.8L796.5 2476.8L797.5 2477.8L798.5 2478L801.5 2483.6L803.5 2485.9L827.5 2486L828.5 2485.5L829.5 2484.2L831.5 2479.7L832.5 2479L833.5 2479.1L836.5 2484.7L837.5 2485.6L839.5 2486.1L840.5 2485.9L841.5 2485.1L842.5 2482.9L846.5 2466.7L847.5 2466.8L848.5 2465.9L849.5 2462.5L850.5 2463.4L852.5 2457.6L853.5 2461.9L854.5 2460.1L855.5 2460.4L856.5 2464.5L857.5 2465.8L858.5 2466.6L859.5 2466.4L861.5 2467.1L862.5 2466.6L863.5 2469L864.5 2468L868.5 2483.5L869.5 2485.3L870.5 2486L874.5 2486.1L876.5 2485.5L879.5 2480.6L880.5 2479.8L885.5 2485.8L891.5 2486L892.5 2485.5L893.5 2484.3L895.5 2480.6L896.5 2479.7L897.5 2480.1L900.5 2485L902.5 2486L998.5 2486.1z" fill="#1B9E77"/>
<path d="M417.9 2529.1v-1.3h1.8v1.3zM426.1 2529.1v-14.9h1.8v14.9zM428.3 2529.1v-15.6h1.8v15.6zM432.5 2529.1v-15.6h1.8v15.6zM481.8 2529.1v-15.7h1.8v15.7zM489.4 2529.1v-29.3h1.8v29.3zM492.7 2529.1v-22h1.8v22zM495.7 2529.1v-23.9h1.8v23.9zM497.9 2529.1v-30.5h1.8v30.5zM501.6 2529.1v-22.8h1.8v22.8zM504.4 2529.1v-29h1.8v29zM507.3 2529.1v-27.3h1.8v27.3zM517.7 2529.1v-31.3h1.8v31.3zM529.5 2529.1v-23.1h1.8v23.1zM530.8 2529.1v-22h1.8v22zM546.4 2529.1v-31.3h1.8v31.3zM549.3 2529.1v-31.3h1.8v31.3zM551.8 2529.1v-31.3h1.8v31.3zM554.9 2529.1v-31.3h1.8v31.3zM557.6 2529.1v-31.3h1.8v31.3zM559.8 2529.1v-31.3h1.8v31.3zM562.2 2529.1v-31.1h1.8v31.1zM564.4 2529.1v-31.3h1.8v31.3zM566.6 2529.1v-31.1h1.8v31.1zM569 2529.1v-31.2h1.8v31.2zM571.2 2529.1v-31.3h1.8v31.3zM621.4 2529.1v-1.3h1.8v1.3zM636.6 2529.1v-12.5h1.8v12.5zM646.2 2529.1v-31.3h1.8v31.3zM693.2 2529.1v-31.3h1.8v31.3zM724.7 2529.1v-31.3h1.8v31.3zM728.9 2529.1v-31.3h1.8v31.3zM732.3 2529.1v-31.3h1.8v31.3zM735.3 2529.1v-31.3h1.8v31.3zM760.5 2529.1v-21.1h1.8v21.1zM765.2 2529.1v-23.2h1.8v23.2zM769.5 2529.1v-26h1.8v26zM776.2 2529.1v-28.9h1.8v28.9zM781.5 2529.1v-19.4h1.8v19.4zM805 2529.1v-31.3h1.8v31.3zM828.9 2529.1v-6.3h1.8v6.3zM842.9 2529.1v-31.3h1.8v31.3zM856.9 2529.1v-9.4h1.8v9.4zM860.8 2529.1v-31.3h1.8v31.3zM873.6 2529.1v-28.9h1.8v28.9zM877.1 2529.1v-13.5h1.8v13.5zM884.7 2529.1v-19.8h1.8v19.8zM887.9 2529.1v-29.7h1.8v29.7zM894.7 2529.1v-15.8h1.8v15.8zM902.2 2529.1v-21.1h1.8v21.1zM941.8 2529.1v-4h1.8v4zM947.9 2529.1v-4.2h1.8v4.2zM954.6 2529.1v-18.4h1.8v18.4zM984.5 2529.1v-31.3h1.8v31.3z" fill="#D95F02"/>
<line x1="402.5" y1="2572.2" x2="998.5" y2="2572.2" stroke="#D95F02" stroke-width="1.2"/>
<path d="M402.5 2572.2L407.5 2572.1L408.5 2571.5L412.5 2565.8L413.5 2566.2L416.5 2571.2L417.5 2571.9L425.5 2571.9L427.5 2570L430.5 2565.2L432.5 2564.5L433.5 2565L436.5 2570.3L438.5 2572L456.5 2572.1L457.5 2571.6L458.5 2570.4L461.5 2565.5L462.5 2565.8L465.5 2571L467.5 2572.1L487.5 2572.1L489.5 2570.8L493.5 2563.8L494.5 2564.1L498.5 2571.4L499.5 2571.5L503.5 2565.5L504.5 2566L507.5 2571.1L508.5 2571.9L510.5 2572.2L519.5 2572.1L520.5 2571.8L521.5 2570.7L523.5 2566.8L527.5 2565.9L531.5 2566.4L532.5 2565.6L536.5 2571.5L537.5 2572.1L539.5 2572.1L540.5 2571.7L541.5 2570.5L544.5 2563L545.5 2562.6L546.5 2560.8L547.5 2560.7L551.5 2544.2L552.5 2543.4L554.5 2551.9L555.5 2551.1L556.5 2555.6L557.5 2553.4L558.5 2552.5L560.5 2545.7L562.5 2547L567.5 2561.7L569.5 2563.5L571.5 2562.9L572.5 2563.9L575.5 2571L576.5 2571.9L577.5 2572.1L612.5 2572L613.5 2571.3L615.5 2568.4L616.5 2566.2L617.5 2565.9L618.5 2566.6L621.5 2571.4L622.5 2572L625.5 2572L627.5 2570.4L629.5 2566.2L630.5 2565.4L634.5 2571.3L636.5 2572.1L648.5 2571.9L650.5 2569.9L651.5 2567.6L653.5 2565.7L654.5 2566.3L657.5 2571.5L658.5 2572L659.5 2571.8L660.5 2570.8L663.5 2566.5L664.5 2566.3L665.5 2567.1L668.5 2571.7L670.5 2572.2L791.5 2572.2L793.5 2571.3L796.5 2564.2L798.5 2562.2L799.5 2561.9L800.5 2559.3L801.5 2558.2L802.5 2553.8L803.5 2552.3L804.5 2552.2L805.5 2552.3L806.5 2553.1L808.5 2557.1L810.5 2563.3L813.5 2569.5L814.5 2571.2L815.5 2571.4L818.5 2568L819.5 2568.1L822.5 2571.6L823.5 2572.1L853.5 2572.1L855.5 2570.6L858.5 2565.5L860.5 2567.2L862.5 2570.9L864.5 2572.1L903.5 2572.1L904.5 2571.5L907.5 2567.2L909.5 2566L912.5 2571.2L913.5 2571.9L929.5 2572.1L930.5 2572L931.5 2571.1L933.5 2567.8L934.5 2564.9L935.5 2564.6L937.5 2565.1L938.5 2564L939.5 2563.9L940.5 2564.5L941.5 2563.7L942.5 2565.1L943.5 2563.7L944.5 2564.9L946.5 2565.4L949.5 2570.7L950.5 2571.7L951.5 2571.5L952.5 2570.5L955.5 2565.9L956.5 2565.8L959.5 2571L961.5 2572.1L998.5 2572.2z" fill="#D95F02"/>
<path d="M417.9 2615.2v-1.3h1.8v1.3zM427.1 2615.2v-31.3h1.8v31.3zM451.8 2615.2v-31.3h1.8v31.3zM493.4 2615.2v-14.7h1.8v14.7zM496.7 2615.2v-23.7h1.8v23.7zM501 2615.2v-13.6h1.8v13.6zM505.2 2615.2v-12.5h1.8v12.5zM506.9 2615.2v-28h1.8v28zM512.1 2615.2v-23.7h1.8v23.7zM529.8 2615.2v-15.7h1.8v15.7zM531.6 2615.2v-15.7h1.8v15.7zM545.4 2615.2v-12.8h1.8v12.8zM548.6 2615.2v-12.6h1.8v12.6zM552.1 2615.2v-14h1.8v14zM554.9 2615.2v-27.5h1.8v27.5zM558.8 2615.2v-25.6h1.8v25.6zM561.2 2615.2v-26.6h1.8v26.6zM568.3 2615.2v-15.7h1.8v15.7zM584.3 2615.2v-31.3h1.8v31.3zM620.6 2615.2v-31.3h1.8v31.3zM636.6 2615.2v-31.3h1.8v31.3zM645.4 2615.2v-12.5h1.8v12.5zM693 2615.2v-7.3h1.8v7.3zM696.6 2615.2v-6.9h1.8v6.9zM725.2 2615.2v-31.3h1.8v31.3zM758.6 2615.2v-26h1.8v26zM762.9 2615.2v-29.4h1.8v29.4zM766.8 2615.2v-23.6h1.8v23.6zM777 2615.2v-31.3h1.8v31.3zM794.3 2615.2v-31.3h1.8v31.3zM799 2615.2v-31.3h1.8v31.3zM827.8 2615.2v-23.4h1.8v23.4zM832.4 2615.2v-18.9h1.8v18.9zM837.9 2615.2v-13.2h1.8v13.2zM851.3 2615.2v-31.3h1.8v31.3zM856.9 2615.2v-31.3h1.8v31.3zM881.6 2615.2v-31.3h1.8v31.3zM889.7 2615.2v-31.3h1.8v31.3zM893.4 2615.2v-31.3h1.8v31.3zM899.4 2615.2v-31.3h1.8v31.3zM940.1 2615.2v-1.2h1.8v1.2zM945.3 2615.2v-0.9h1.8v0.9zM948.9 2615.2v-0.8h1.8v0.8zM959.4 2615.2v-31.3h1.8v31.3zM984.5 2615.2v-31.3h1.8v31.3zM988.5 2615.2v-12.5h1.8v12.5z" fill="#1B9E77"/>
<line x1="402.5" y1="2658.2" x2="998.5" y2="2658.2" stroke="#1B9E77" stroke-width="1.2"/>
<path d="M402.5 2658.2L425.5 2658.2L427.5 2656.6L430.5 2649.3L431.5 2649.6L434.5 2656.3L436.5 2658.2L441.5 2658.2L442.5 2657.6L443.5 2656.4L446.5 2649.6L447.5 2649.5L450.5 2656.1L451.5 2657L452.5 2655.9L454.5 2650.9L456.5 2649.7L459.5 2656.7L461.5 2658.2L483.5 2658.1L484.5 2657.3L485.5 2655.4L490.5 2641.3L491.5 2643.6L492.5 2643.7L497.5 2657.4L499.5 2658.2L501.5 2658.1L502.5 2657.5L503.5 2656.2L505.5 2650.9L506.5 2649.8L507.5 2650.1L508.5 2651.3L510.5 2656.6L512.5 2658.2L546.5 2658.1L547.5 2657.2L550.5 2650.5L551.5 2649.3L553.5 2652.3L555.5 2657.1L556.5 2657.7L557.5 2656.8L558.5 2654.3L560.5 2645.1L562.5 2641.4L566.5 2654.4L567.5 2657.1L568.5 2658.1L605.5 2658.1L607.5 2655.7L609.5 2650.4L610.5 2649L614.5 2656.9L615.5 2658L616.5 2658.2L647.5 2658.2L648.5 2658.1L649.5 2657.3L650.5 2655.2L652.5 2644.5L653.5 2640.9L654.5 2640.4L658.5 2656.8L659.5 2658L660.5 2658.2L771.5 2658.2L773.5 2657.5L777.5 2650.4L778.5 2650.3L781.5 2656.5L782.5 2657.8L783.5 2658.2L904.5 2658.2L906.5 2657.4L909.5 2651.3L910.5 2650.2L911.5 2650.4L914.5 2656.7L915.5 2657.9L916.5 2658.2L998.5 2658.2z" fill="#1B9E77"/>
<rect x="513.7" y="2670.2" width="65.8" height="10.8" fill="#D95F02" stroke="#111" stroke-width="2.2"/>
<line x1="408" y1="2689.7" x2="952.6" y2="2689.7" stroke="#0E1180" stroke-width="1.3" stroke-dasharray="2 1.2"/>
<line x1="940" y1="2689.7" x2="952.6" y2="2689.7" stroke="#0E1180" stroke-width="2.5"/>
<text x="963.4" y="2693.7" font-size="21" font-style="italic">Gpr1</text>
<line x1="493" y1="2708" x2="695.2" y2="2708" stroke="#5B5FB8" stroke-width="1.2" stroke-dasharray="2 1.5"/>
<text x="705.2" y="2713.7" font-size="21.3" font-style="italic">Platr12</text>
<text x="1291.5" y="2283.7" font-size="21.3">5 kb</text>
<text x="1599.4" y="2283" font-size="21.3">mm10</text>
<text x="1150.5" y="2312.8" font-size="21.3">chr2:</text>
<text x="1399.2" y="2312.8" font-size="21.3">172,295,000</text>
<text x="1636.2" y="2312.8" font-size="21.3">172,300,000</text>
<line x1="1343.5" y1="2280.5" x2="1581" y2="2280.5" stroke="#000" stroke-width="2.4"/>
<line x1="1344.5" y1="2274.5" x2="1344.5" y2="2286.5" stroke="#000" stroke-width="2.6"/>
<line x1="1580" y1="2274.5" x2="1580" y2="2286.5" stroke="#000" stroke-width="2.6"/>
<line x1="1293.7" y1="2306" x2="1293.7" y2="2314" stroke="#000" stroke-width="1.4"/>
<line x1="1528.4" y1="2306" x2="1528.4" y2="2314" stroke="#000" stroke-width="1.4"/>
<line x1="1765" y1="2306" x2="1765" y2="2314" stroke="#000" stroke-width="1.4"/>
<line x1="1211.1" y1="2270" x2="1211.1" y2="2710" stroke="#F4C4CD" stroke-width="1"/>
<text x="1200.8" y="2336.6" font-size="20" text-anchor="end">1</text>
<text x="1200.8" y="2358.6" font-size="20" text-anchor="end">0</text>
<line x1="1203" y1="2325.6" x2="1206" y2="2325.6" stroke="#9a9a9a" stroke-width="1"/>
<line x1="1203" y1="2356.9" x2="1206" y2="2356.9" stroke="#9a9a9a" stroke-width="1"/>
<text x="1200.8" y="2379.7" font-size="20" text-anchor="end">1</text>
<text x="1200.8" y="2401.7" font-size="20" text-anchor="end">0</text>
<line x1="1203" y1="2368.7" x2="1206" y2="2368.7" stroke="#9a9a9a" stroke-width="1"/>
<line x1="1203" y1="2400" x2="1206" y2="2400" stroke="#9a9a9a" stroke-width="1"/>
<text x="1200.8" y="2422.7" font-size="20" text-anchor="end">1</text>
<text x="1200.8" y="2444.7" font-size="20" text-anchor="end">0</text>
<line x1="1203" y1="2411.7" x2="1206" y2="2411.7" stroke="#9a9a9a" stroke-width="1"/>
<line x1="1203" y1="2443" x2="1206" y2="2443" stroke="#9a9a9a" stroke-width="1"/>
<text x="1200.8" y="2465.8" font-size="20" text-anchor="end">1</text>
<text x="1200.8" y="2487.8" font-size="20" text-anchor="end">0</text>
<line x1="1203" y1="2454.8" x2="1206" y2="2454.8" stroke="#9a9a9a" stroke-width="1"/>
<line x1="1203" y1="2486.1" x2="1206" y2="2486.1" stroke="#9a9a9a" stroke-width="1"/>
<text x="1200.8" y="2508.8" font-size="20" text-anchor="end">1</text>
<text x="1200.8" y="2530.8" font-size="20" text-anchor="end">0</text>
<line x1="1203" y1="2497.8" x2="1206" y2="2497.8" stroke="#9a9a9a" stroke-width="1"/>
<line x1="1203" y1="2529.1" x2="1206" y2="2529.1" stroke="#9a9a9a" stroke-width="1"/>
<text x="1200.8" y="2551.8" font-size="20" text-anchor="end">1</text>
<text x="1200.8" y="2573.8" font-size="20" text-anchor="end">0</text>
<line x1="1203" y1="2540.8" x2="1206" y2="2540.8" stroke="#9a9a9a" stroke-width="1"/>
<line x1="1203" y1="2572.2" x2="1206" y2="2572.2" stroke="#9a9a9a" stroke-width="1"/>
<text x="1200.8" y="2594.9" font-size="20" text-anchor="end">1</text>
<text x="1200.8" y="2616.9" font-size="20" text-anchor="end">0</text>
<line x1="1203" y1="2583.9" x2="1206" y2="2583.9" stroke="#9a9a9a" stroke-width="1"/>
<line x1="1203" y1="2615.2" x2="1206" y2="2615.2" stroke="#9a9a9a" stroke-width="1"/>
<text x="1200.8" y="2637.9" font-size="20" text-anchor="end">1</text>
<text x="1200.8" y="2659.9" font-size="20" text-anchor="end">0</text>
<line x1="1203" y1="2626.9" x2="1206" y2="2626.9" stroke="#9a9a9a" stroke-width="1"/>
<line x1="1203" y1="2658.2" x2="1206" y2="2658.2" stroke="#9a9a9a" stroke-width="1"/>
<path d="M1213.4 2356.9v-29.3h1.8v29.3zM1216.9 2356.9v-25.3h1.8v25.3zM1220.3 2356.9v-30.6h1.8v30.6zM1224.6 2356.9v-29.8h1.8v29.8zM1227.1 2356.9v-23.4h1.8v23.4zM1230.7 2356.9v-18.8h1.8v18.8zM1232.7 2356.9v-28.2h1.8v28.2zM1236.7 2356.9v-20.4h1.8v20.4zM1254.6 2356.9v-1.3h1.8v1.3zM1292.8 2356.9v-1.3h1.8v1.3zM1304.3 2356.9v-31.1h1.8v31.1zM1309.5 2356.9v-23h1.8v23zM1313.4 2356.9v-23.4h1.8v23.4zM1317.1 2356.9v-22.1h1.8v22.1zM1321 2356.9v-22.4h1.8v22.4zM1323 2356.9v-22.3h1.8v22.3zM1326.4 2356.9v-25.2h1.8v25.2zM1330.1 2356.9v-23.4h1.8v23.4zM1349.8 2356.9v-26h1.8v26zM1355.6 2356.9v-28.4h1.8v28.4zM1357.8 2356.9v-26.1h1.8v26.1zM1363.7 2356.9v-21.7h1.8v21.7zM1367.7 2356.9v-22.9h1.8v22.9zM1371.5 2356.9v-21.8h1.8v21.8zM1378.1 2356.9v-31.3h1.8v31.3zM1384.8 2356.9v-15.7h1.8v15.7zM1391.5 2356.9v-31.3h1.8v31.3zM1402.6 2356.9v-31.3h1.8v31.3zM1407.1 2356.9v-31.3h1.8v31.3zM1409.3 2356.9v-31.3h1.8v31.3zM1412 2356.9v-31.3h1.8v31.3zM1416.2 2356.9v-31.3h1.8v31.3zM1427.7 2356.9v-31.3h1.8v31.3zM1429.7 2356.9v-31.3h1.8v31.3zM1433.1 2356.9v-31.3h1.8v31.3zM1436.3 2356.9v-31.3h1.8v31.3zM1439 2356.9v-31.3h1.8v31.3zM1488.9 2356.9v-31.3h1.8v31.3zM1493.3 2356.9v-31.3h1.8v31.3zM1496.6 2356.9v-31.3h1.8v31.3zM1499.5 2356.9v-31.3h1.8v31.3zM1508.2 2356.9v-28.4h1.8v28.4zM1511.2 2356.9v-27.9h1.8v27.9zM1513.6 2356.9v-28.1h1.8v28.1zM1515.8 2356.9v-28.3h1.4v28.3zM1536.5 2356.9v-31.3h1.8v31.3zM1544.2 2356.9v-31.3h1.8v31.3zM1553.7 2356.9v-31.3h1.8v31.3zM1569 2356.9v-31.3h1.8v31.3zM1574.9 2356.9v-31.3h1.8v31.3zM1607.3 2356.9v-31.3h1.8v31.3zM1610.1 2356.9v-31.3h1.8v31.3zM1615.6 2356.9v-31.3h1.8v31.3zM1618.2 2356.9v-31.3h1.8v31.3zM1624 2356.9v-31.3h1.8v31.3zM1627.2 2356.9v-31.3h1.8v31.3zM1639.7 2356.9v-31.3h1.8v31.3zM1650.8 2356.9v-11.9h1.8v11.9zM1657.1 2356.9v-12.3h1.8v12.3zM1662.4 2356.9v-23.8h1.8v23.8zM1665.8 2356.9v-22.5h1.8v22.5zM1681.9 2356.9v-4.7h1.8v4.7zM1698.1 2356.9v-31.3h1.8v31.3zM1726.8 2356.9v-14.1h1.8v14.1zM1741.6 2356.9v-6.3h1.8v6.3zM1750.7 2356.9v-4.7h1.8v4.7zM1753.6 2356.9v-3.1h1.8v3.1zM1756.8 2356.9v-6.7h1.8v6.7zM1760.9 2356.9v-21.2h1.8v21.2zM1766.6 2356.9v-28.4h1.8v28.4zM1769.6 2356.9v-12.8h1.8v12.8zM1775.8 2356.9v-13.8h1.8v13.8zM1778.5 2356.9v-19.1h1.8v19.1zM1793.7 2356.9v-1.5h1.8v1.5zM1795.6 2356.9v-1.9h1.8v1.9zM1798.7 2356.9v-1.4h1.8v1.4zM1802.5 2356.9v-1.2h1.8v1.2z" fill="#D95F02"/>
<line x1="1211.5" y1="2400" x2="1804.5" y2="2400" stroke="#D95F02" stroke-width="1.2"/>
<path d="M1211.5 2400L1211.5 2371.3L1213.5 2377.1L1215.5 2389L1217.5 2395.6L1219.5 2396L1222.5 2394.9L1224.5 2394.9L1225.5 2395.5L1227.5 2394.8L1228.5 2395.7L1230.5 2395L1232.5 2396.1L1234.5 2399.1L1236.5 2400L1250.5 2400L1252.5 2399.4L1253.5 2398.4L1257.5 2391.3L1259.5 2389L1260.5 2391.3L1261.5 2391.6L1264.5 2398L1266.5 2399.8L1291.5 2399.8L1292.5 2399.2L1295.5 2394.3L1298.5 2393.2L1299.5 2394L1301.5 2393.2L1302.5 2394.2L1303.5 2394.5L1306.5 2399.1L1307.5 2399.8L1308.5 2399.7L1309.5 2398.7L1311.5 2394.2L1312.5 2390.3L1313.5 2390.6L1314.5 2389.4L1316.5 2388.2L1318.5 2389.5L1319.5 2389.6L1320.5 2388.2L1323.5 2390.1L1325.5 2389.2L1327.5 2390L1328.5 2388.9L1329.5 2390.1L1330.5 2388L1331.5 2389.7L1332.5 2388.6L1333.5 2389.8L1334.5 2388.5L1335.5 2388.1L1336.5 2388.4L1341.5 2399L1342.5 2399.8L1371.5 2400L1372.5 2399.8L1373.5 2398.9L1375.5 2395.2L1377.5 2393.9L1382.5 2394.1L1384.5 2393.2L1385.5 2394.4L1386.5 2393.9L1389.5 2399.1L1390.5 2399.8L1392.5 2400L1394.5 2399.1L1398.5 2390.6L1400.5 2391.3L1401.5 2389.6L1403.5 2391.1L1405.5 2390.2L1408.5 2391L1409.5 2390L1410.5 2390.9L1412.5 2391.3L1414.5 2390.1L1415.5 2388.3L1417.5 2389.1L1418.5 2387.2L1419.5 2389.1L1420.5 2387.5L1421.5 2389.5L1422.5 2389.1L1423.5 2389.7L1424.5 2389.6L1425.5 2391.1L1427.5 2389.6L1428.5 2391.5L1429.5 2391.6L1431.5 2394.9L1432.5 2397.8L1434.5 2399.8L1507.5 2400L1509.5 2399.8L1513.5 2393.9L1515.5 2393.3L1516.5 2393.8L1519.5 2393.1L1520.5 2393.8L1522.5 2392.9L1525.5 2396.6L1526.5 2395.8L1530.5 2379.1L1532.5 2378.4L1533.5 2374.2L1534.5 2377.9L1535.5 2376.6L1536.5 2378.6L1537.5 2374.2L1538.5 2375.7L1539.5 2376.3L1540.5 2373.2L1541.5 2374.4L1542.5 2374L1543.5 2370.8L1544.5 2372.2L1545.5 2370.7L1549.5 2378.1L1550.5 2377.3L1551.5 2378L1552.5 2375.4L1553.5 2376.9L1554.5 2375.7L1555.5 2376.8L1557.5 2375.5L1558.5 2377.6L1559.5 2376.2L1560.5 2376.1L1561.5 2378.9L1562.5 2378.5L1563.5 2375.6L1564.5 2379.3L1565.5 2375.4L1566.5 2378.5L1567.5 2376.3L1568.5 2377.2L1570.5 2374L1571.5 2375L1572.5 2377.7L1573.5 2377.2L1575.5 2378.1L1576.5 2376.6L1577.5 2377.1L1578.5 2374.7L1579.5 2376.3L1581.5 2373.3L1582.5 2376.9L1585.5 2374.5L1586.5 2374.5L1587.5 2372.6L1588.5 2375.9L1589.5 2374.1L1590.5 2373.9L1591.5 2377.8L1592.5 2377.6L1593.5 2379.1L1594.5 2377L1595.5 2376.8L1596.5 2374.4L1598.5 2374.4L1599.5 2377.7L1600.5 2374.4L1601.5 2377.9L1603.5 2380L1605.5 2386.5L1606.5 2391.8L1608.5 2395.3L1609.5 2394.7L1610.5 2395.3L1615.5 2395L1618.5 2393.3L1619.5 2394L1620.5 2393.5L1621.5 2394.3L1622.5 2393.8L1623.5 2394.3L1625.5 2393.2L1626.5 2394.1L1627.5 2393.4L1628.5 2393.9L1629.5 2393.2L1630.5 2394L1631.5 2393.5L1634.5 2393.4L1635.5 2393.6L1638.5 2399L1639.5 2399.8L1640.5 2400L1646.5 2399.7L1649.5 2395.1L1650.5 2394.3L1654.5 2393.1L1655.5 2393.6L1657.5 2393.3L1661.5 2399.5L1663.5 2400L1666.5 2399.8L1668.5 2397.4L1669.5 2395.3L1672.5 2393.2L1674.5 2394L1676.5 2393.5L1678.5 2393.7L1679.5 2393.4L1680.5 2394.1L1683.5 2399.2L1685.5 2400L1741.5 2400L1743.5 2399.2L1746.5 2393.9L1747.5 2394.1L1748.5 2393.4L1749.5 2394L1750.5 2393.3L1751.5 2394.4L1752.5 2394.4L1755.5 2399L1756.5 2399L1760.5 2392.3L1761.5 2389.4L1762.5 2389.2L1764.5 2391.5L1767.5 2397.2L1769.5 2399.5L1770.5 2399.9L1794.5 2399.8L1795.5 2398.9L1798.5 2393.9L1799.5 2393.3L1801.5 2393.6L1802.5 2393.2L1803.5 2394.3L1804.5 2394.2L1804.5 2400z" fill="#D95F02"/>
<path d="M1214.7 2443v-24.1h1.8v24.1zM1217.9 2443v-25.5h1.8v25.5zM1220.7 2443v-13.5h1.8v13.5zM1225.3 2443v-30.5h1.8v30.5zM1228.8 2443v-9.5h1.8v9.5zM1233.8 2443v-27.4h1.8v27.4zM1237.1 2443v-26.1h1.8v26.1zM1254.6 2443v-1.3h1.8v1.3zM1306.6 2443v-10.8h1.8v10.8zM1314.1 2443v-10.9h1.8v10.9zM1320.4 2443v-31.1h1.8v31.1zM1323.8 2443v-26.4h1.8v26.4zM1326.7 2443v-29.1h1.8v29.1zM1328.2 2443v-24.2h1.8v24.2zM1330.6 2443v-23.1h1.8v23.1zM1350.9 2443v-31.3h1.8v31.3zM1354.9 2443v-31.3h1.8v31.3zM1358.4 2443v-31.3h1.8v31.3zM1364.2 2443v-1h1.8v1zM1372 2443v-1.5h1.8v1.5zM1378.1 2443v-24.9h1.8v24.9zM1380.3 2443v-23h1.8v23zM1382.5 2443v-24.9h1.8v24.9zM1384.7 2443v-26.9h1.8v26.9zM1386.7 2443v-27h1.8v27zM1388.7 2443v-27.4h1.8v27.4zM1395 2443v-16.5h1.8v16.5zM1400.8 2443v-16.7h1.8v16.7zM1405.7 2443v-17.9h1.8v17.9zM1427.8 2443v-31.3h1.8v31.3zM1431.2 2443v-31.3h1.8v31.3zM1432.8 2443v-31.3h1.8v31.3zM1437.3 2443v-31.3h1.8v31.3zM1438.9 2443v-31.3h1.8v31.3zM1488.4 2443v-31.3h1.8v31.3zM1493.4 2443v-31.3h1.8v31.3zM1496.2 2443v-31.3h1.8v31.3zM1500.4 2443v-31.3h1.8v31.3zM1507.6 2443v-18.2h1.8v18.2zM1512.9 2443v-16.3h1.8v16.3zM1517.3 2443v-16.9h1.8v16.9zM1536.5 2443v-31.3h1.8v31.3zM1548.6 2443v-15.7h1.8v15.7zM1558.7 2443v-31.3h1.8v31.3zM1570.5 2443v-31.3h1.8v31.3zM1577.1 2443v-31.3h1.8v31.3zM1606.4 2443v-16.3h1.8v16.3zM1610.7 2443v-19h1.8v19zM1612.9 2443v-27.4h1.8v27.4zM1617.7 2443v-17.3h1.8v17.3zM1621.5 2443v-19.7h1.8v19.7zM1639.7 2443v-31.3h1.8v31.3zM1651.9 2443v-31.3h1.8v31.3zM1656.4 2443v-25h1.8v25zM1667.6 2443v-31.3h1.8v31.3zM1681.9 2443v-31.3h1.8v31.3zM1699 2443v-1.3h1.8v1.3zM1726.8 2443v-1.6h1.8v1.6zM1741.6 2443v-1.3h1.8v1.3zM1752 2443v-1.2h1.8v1.2zM1758.4 2443v-1.1h1.8v1.1zM1762.6 2443v-27.1h1.8v27.1zM1768.8 2443v-19.2h1.8v19.2zM1773 2443v-24h1.8v24zM1778.9 2443v-21.9h1.8v21.9zM1784.3 2443v-20.7h1.8v20.7zM1793.1 2443v-1.8h1.8v1.8zM1795.6 2443v-1.3h1.8v1.3zM1799.7 2443v-1.9h1.8v1.9zM1801.3 2443v-31.3h1.8v31.3z" fill="#1B9E77"/>
<line x1="1211.5" y1="2486.1" x2="1804.5" y2="2486.1" stroke="#1B9E77" stroke-width="1.2"/>
<path d="M1211.5 2486.1L1211.5 2479.6L1213.5 2477.2L1215.5 2475.9L1217.5 2476.7L1220.5 2476.6L1221.5 2477.3L1223.5 2476.2L1225.5 2472.3L1228.5 2468.5L1229.5 2468.6L1232.5 2465.7L1233.5 2469.1L1234.5 2467.5L1235.5 2468.1L1236.5 2467.7L1237.5 2468.6L1238.5 2466.6L1239.5 2469.5L1241.5 2470.7L1242.5 2473.3L1243.5 2473.3L1244.5 2476.3L1245.5 2477.4L1248.5 2483.8L1249.5 2484.9L1251.5 2486L1326.5 2486.1L1328.5 2485.4L1332.5 2478.8L1333.5 2478.4L1337.5 2485L1338.5 2485.8L1366.5 2486.1L1367.5 2485.9L1368.5 2485L1370.5 2479.6L1373.5 2475.9L1374.5 2476L1375.5 2477.6L1376.5 2476.2L1377.5 2475.9L1378.5 2475.9L1379.5 2477.1L1381.5 2476L1382.5 2477.1L1383.5 2475.8L1384.5 2476.5L1385.5 2474.5L1386.5 2469.6L1388.5 2463.7L1389.5 2458.4L1390.5 2459.7L1391.5 2454.8L1395.5 2454.8L1396.5 2455.7L1397.5 2455.9L1398.5 2454.8L1399.5 2456.1L1400.5 2454.8L1405.5 2454.8L1406.5 2455.6L1407.5 2454.8L1408.5 2456.6L1409.5 2456.7L1410.5 2454.8L1411.5 2455.5L1412.5 2454.8L1414.5 2455.1L1415.5 2454.8L1416.5 2457.3L1417.5 2454.8L1419.5 2454.8L1420.5 2456.1L1421.5 2455.1L1422.5 2456.9L1423.5 2455.2L1424.5 2457.7L1425.5 2454.8L1427.5 2454.8L1428.5 2455.9L1429.5 2454.8L1430.5 2456.2L1433.5 2468.1L1434.5 2470.4L1435.5 2475.6L1438.5 2484.3L1439.5 2485.7L1441.5 2486.1L1483.5 2486L1485.5 2484.8L1491.5 2477.5L1492.5 2478.2L1494.5 2478.4L1496.5 2481.6L1497.5 2482.1L1498.5 2483.8L1500.5 2485.5L1502.5 2486L1508.5 2486L1509.5 2485.9L1510.5 2484.9L1513.5 2476.9L1516.5 2472.6L1520.5 2483.3L1521.5 2483.9L1522.5 2482.7L1527.5 2466.3L1528.5 2467.5L1529.5 2466L1531.5 2468.4L1532.5 2467.3L1533.5 2467.2L1534.5 2468.6L1535.5 2468.1L1536.5 2465.1L1537.5 2465.4L1538.5 2464.9L1539.5 2468.2L1540.5 2467.4L1542.5 2467.9L1543.5 2466.9L1544.5 2467.9L1545.5 2467.6L1546.5 2464.8L1547.5 2465L1548.5 2466.8L1549.5 2464.5L1550.5 2467.2L1551.5 2467.1L1553.5 2465.1L1555.5 2467L1557.5 2464.8L1558.5 2468.7L1559.5 2466.2L1560.5 2467.5L1561.5 2467.2L1562.5 2468L1563.5 2467.9L1564.5 2466.4L1566.5 2469.6L1568.5 2467.6L1569.5 2467.2L1570.5 2469.6L1571.5 2469.1L1572.5 2467.2L1573.5 2467.1L1574.5 2468L1575.5 2470.3L1576.5 2468.5L1577.5 2469.6L1579.5 2474.4L1581.5 2482.8L1582.5 2484.8L1583.5 2485.9L1584.5 2486.1L1594.5 2485.7L1596.5 2482.9L1598.5 2478.8L1600.5 2477.6L1601.5 2478.3L1602.5 2477.9L1605.5 2478.7L1606.5 2477.5L1609.5 2477.9L1610.5 2478.6L1612.5 2477.8L1613.5 2478.8L1614.5 2477.7L1615.5 2477.5L1617.5 2478.7L1618.5 2477.5L1620.5 2478.2L1623.5 2478.1L1624.5 2478.5L1626.5 2477.6L1629.5 2479.1L1631.5 2483.9L1633.5 2485.9L1641.5 2485.9L1643.5 2484L1647.5 2476.2L1649.5 2473.6L1650.5 2469.8L1651.5 2469.8L1653.5 2465.9L1654.5 2466.4L1655.5 2468.4L1656.5 2467.2L1657.5 2469.3L1658.5 2473.5L1659.5 2473.9L1661.5 2478.8L1662.5 2479.4L1663.5 2481.9L1665.5 2484.9L1667.5 2486L1726.5 2486L1727.5 2485.6L1728.5 2484.3L1732.5 2474.6L1733.5 2473.5L1734.5 2473.9L1737.5 2481.8L1739.5 2485.5L1741.5 2486.1L1757.5 2485.9L1758.5 2485.4L1760.5 2482.3L1762.5 2477.7L1763.5 2476.4L1766.5 2469.6L1767.5 2465.8L1768.5 2467L1769.5 2464.8L1770.5 2469.4L1772.5 2474.1L1773.5 2474.2L1775.5 2480L1778.5 2485.2L1780.5 2486.1L1795.5 2486L1796.5 2485.5L1798.5 2481.1L1802.5 2464.3L1803.5 2463.9L1804.5 2458.3L1804.5 2486.1z" fill="#1B9E77"/>
<path d="M1213.4 2529.1v-31.3h1.8v31.3zM1218.2 2529.1v-31.3h1.8v31.3zM1221.9 2529.1v-31.3h1.8v31.3zM1225.3 2529.1v-31.3h1.8v31.3zM1228.8 2529.1v-31.3h1.8v31.3zM1233.6 2529.1v-31.3h1.8v31.3zM1235.8 2529.1v-31.3h1.8v31.3zM1274.8 2529.1v-1.3h1.8v1.3zM1306 2529.1v-14.8h1.8v14.8zM1311.4 2529.1v-14.9h1.8v14.9zM1320.2 2529.1v-15.9h1.8v15.9zM1325.8 2529.1v-16.6h1.8v16.6zM1331 2529.1v-10.2h1.8v10.2zM1349.8 2529.1v-26.4h1.8v26.4zM1355.8 2529.1v-25.4h1.8v25.4zM1360 2529.1v-15.7h1.8v15.7zM1366.3 2529.1v-17.2h1.8v17.2zM1370.1 2529.1v-19.5h1.8v19.5zM1379 2529.1v-31.3h1.8v31.3zM1381.3 2529.1v-31.3h1.8v31.3zM1384.4 2529.1v-31.3h1.8v31.3zM1387.3 2529.1v-31.3h1.8v31.3zM1392.4 2529.1v-31.3h1.8v31.3zM1403 2529.1v-17.3h1.8v17.3zM1407.8 2529.1v-15.9h1.8v15.9zM1412.9 2529.1v-18.3h1.8v18.3zM1415.9 2529.1v-18.3h1.8v18.3zM1427.8 2529.1v-18.8h1.8v18.8zM1430.8 2529.1v-23.6h1.8v23.6zM1433.1 2529.1v-25.3h1.8v25.3zM1436.2 2529.1v-24.1h1.8v24.1zM1439.8 2529.1v-19.5h1.8v19.5zM1492.7 2529.1v-24.7h1.8v24.7zM1501.1 2529.1v-28.3h1.8v28.3zM1507.3 2529.1v-23.2h1.8v23.2zM1513.2 2529.1v-27.3h1.8v27.3zM1516.6 2529.1v-23.3h1.8v23.3zM1529.3 2529.1v-31.3h1.8v31.3zM1537.4 2529.1v-21.9h1.8v21.9zM1550 2529.1v-6.3h1.8v6.3zM1607.1 2529.1v-31.3h1.8v31.3zM1609 2529.1v-31.3h1.8v31.3zM1615.2 2529.1v-31.3h1.8v31.3zM1617.3 2529.1v-31.3h1.8v31.3zM1651.9 2529.1v-31.3h1.8v31.3zM1656.4 2529.1v-31.3h1.8v31.3zM1660.8 2529.1v-18.8h1.8v18.8zM1667.6 2529.1v-6.3h1.8v6.3zM1681.9 2529.1v-31.3h1.8v31.3zM1726.8 2529.1v-7.8h1.8v7.8zM1740.7 2529.1v-1h1.8v1zM1749.4 2529.1v-0.7h1.8v0.7zM1758.2 2529.1v-0.9h1.8v0.9zM1764.6 2529.1v-1.2h1.8v1.2zM1772.1 2529.1v-1.1h1.8v1.1zM1756.4 2529.1v-6.3h1.8v6.3zM1792.9 2529.1v-15.5h1.8v15.5zM1798.8 2529.1v-13.4h1.8v13.4zM1801 2529.1v-13.2h1.8v13.2z" fill="#D95F02"/>
<line x1="1211.5" y1="2572.2" x2="1804.5" y2="2572.2" stroke="#D95F02" stroke-width="1.2"/>
<path d="M1211.5 2572.2L1211.5 2543L1212.5 2548.1L1213.5 2548.3L1216.5 2566.6L1217.5 2570L1218.5 2571.8L1219.5 2571.9L1220.5 2570.8L1223.5 2561.5L1224.5 2561.8L1225.5 2560.5L1226.5 2560.1L1228.5 2561.6L1229.5 2560.5L1230.5 2560.5L1231.5 2561.8L1233.5 2560.2L1234.5 2561.7L1235.5 2561.1L1236.5 2562.2L1238.5 2567.7L1239.5 2567.8L1240.5 2567.5L1242.5 2564.8L1245.5 2565.9L1246.5 2564.9L1248.5 2564.6L1250.5 2565.7L1251.5 2565.2L1253.5 2565.8L1254.5 2565.1L1255.5 2565.5L1258.5 2564.6L1261.5 2565L1262.5 2566L1263.5 2565.5L1266.5 2571.4L1268.5 2572.2L1306.5 2572.2L1307.5 2571.9L1308.5 2571L1309.5 2568.3L1312.5 2564.1L1314.5 2564.3L1315.5 2563.7L1317.5 2565L1318.5 2564.5L1322.5 2571.4L1323.5 2572L1343.5 2572.1L1345.5 2571L1346.5 2569.1L1351.5 2556.6L1352.5 2556.7L1354.5 2555.2L1355.5 2559L1356.5 2560.3L1360.5 2569.9L1361.5 2571.4L1363.5 2572.2L1370.5 2572.2L1372.5 2571.7L1373.5 2570.7L1376.5 2565.2L1377.5 2564.8L1379.5 2565.8L1380.5 2564.9L1382.5 2565.9L1383.5 2564.9L1386.5 2565L1387.5 2565.4L1389.5 2565L1390.5 2565.8L1391.5 2565.1L1393.5 2564.9L1394.5 2565.4L1396.5 2565.4L1400.5 2569.2L1402.5 2567.2L1403.5 2565.2L1404.5 2564.7L1407.5 2565L1409.5 2565.7L1410.5 2564.9L1412.5 2564.8L1413.5 2566.5L1414.5 2567.2L1415.5 2569.4L1416.5 2569.6L1418.5 2566.4L1420.5 2565.7L1421.5 2565.9L1423.5 2564.7L1424.5 2565L1426.5 2564.7L1427.5 2565.4L1428.5 2565.3L1432.5 2571.5L1433.5 2572.1L1489.5 2572.2L1491.5 2571.6L1493.5 2567.9L1494.5 2564.9L1496.5 2562.7L1497.5 2562.6L1498.5 2564L1500.5 2562.8L1501.5 2562.8L1502.5 2564L1504.5 2563.8L1505.5 2562.8L1506.5 2563.9L1507.5 2562.2L1508.5 2562.6L1509.5 2558.8L1510.5 2558.3L1511.5 2559.4L1512.5 2562.8L1514.5 2564.6L1515.5 2564.6L1516.5 2565.9L1518.5 2564.7L1519.5 2564.7L1522.5 2565L1524.5 2565.9L1525.5 2564.6L1526.5 2564.8L1529.5 2556.7L1532.5 2554.3L1533.5 2550.2L1534.5 2548.9L1535.5 2548.8L1536.5 2547.3L1537.5 2549.9L1538.5 2549.3L1539.5 2547.7L1541.5 2552.3L1542.5 2551L1543.5 2553.1L1544.5 2552.4L1545.5 2553.4L1547.5 2554.3L1549.5 2550.2L1551.5 2544.1L1553.5 2541.5L1554.5 2546.8L1555.5 2546.8L1556.5 2547.6L1559.5 2553.8L1561.5 2553.3L1562.5 2551.7L1563.5 2551.1L1564.5 2551.5L1565.5 2549.7L1566.5 2551.2L1567.5 2546.9L1568.5 2549.7L1569.5 2546.7L1571.5 2549.9L1572.5 2550L1573.5 2552.7L1574.5 2551.3L1575.5 2554.1L1576.5 2554.8L1578.5 2551.1L1579.5 2550.2L1580.5 2550.1L1582.5 2546L1585.5 2552.3L1586.5 2552.4L1587.5 2551L1589.5 2554.4L1590.5 2554.6L1592.5 2564.7L1593.5 2568.2L1594.5 2569.5L1598.5 2559.9L1599.5 2559.7L1600.5 2560.4L1601.5 2558.6L1602.5 2560.8L1604.5 2558.8L1605.5 2560.5L1606.5 2558.6L1609.5 2560.3L1610.5 2558.7L1611.5 2559.8L1614.5 2560.4L1615.5 2558.5L1616.5 2560.2L1617.5 2559.8L1618.5 2558.5L1619.5 2560.5L1620.5 2560L1621.5 2564.1L1624.5 2571.3L1626.5 2572.2L1643.5 2572.1L1644.5 2571.6L1645.5 2570.2L1647.5 2565.9L1649.5 2564.7L1650.5 2565.2L1651.5 2564.6L1653.5 2565.8L1655.5 2564.7L1656.5 2566L1657.5 2565.9L1658.5 2566.8L1661.5 2571.6L1662.5 2572.1L1718.5 2572.1L1720.5 2570.6L1722.5 2566L1723.5 2565.1L1724.5 2562.9L1726.5 2563.5L1729.5 2562.6L1731.5 2564L1732.5 2562.7L1734.5 2563.3L1735.5 2562.8L1736.5 2563.7L1737.5 2562.9L1738.5 2564.1L1739.5 2562.5L1740.5 2563.8L1741.5 2562.9L1743.5 2564.1L1747.5 2562.9L1748.5 2563.9L1749.5 2562.9L1751.5 2563.8L1753.5 2562.8L1759.5 2563.6L1762.5 2565.1L1765.5 2571.3L1766.5 2572L1804.5 2572.2z" fill="#D95F02"/>
<path d="M1215.2 2615.2v-25h1.8v25zM1224.9 2615.2v-20.9h1.8v20.9zM1228.3 2615.2v-27.8h1.8v27.8zM1233.5 2615.2v-21.5h1.8v21.5zM1236.5 2615.2v-26.8h1.8v26.8zM1254.6 2615.2v-28.2h1.8v28.2zM1303.3 2615.2v-18.2h1.8v18.2zM1313.5 2615.2v-28.3h1.8v28.3zM1319.8 2615.2v-21.1h1.8v21.1zM1325.8 2615.2v-20.7h1.8v20.7zM1332.1 2615.2v-17.1h1.8v17.1zM1355.6 2615.2v-31.3h1.8v31.3zM1362.4 2615.2v-18.8h1.8v18.8zM1371.3 2615.2v-15.7h1.8v15.7zM1376.9 2615.2v-17.1h1.8v17.1zM1382.9 2615.2v-15.8h1.8v15.8zM1390.6 2615.2v-16.7h1.8v16.7zM1396 2615.2v-18.8h1.8v18.8zM1407.3 2615.2v-31.3h1.8v31.3zM1429.5 2615.2v-31.3h1.8v31.3zM1432.1 2615.2v-31.3h1.8v31.3zM1437.1 2615.2v-31.3h1.8v31.3zM1440.4 2615.2v-31.3h1.8v31.3zM1496.7 2615.2v-14.4h1.8v14.4zM1501.3 2615.2v-22h1.8v22zM1510 2615.2v-14h1.8v14zM1516.1 2615.2v-19.6h1.8v19.6zM1536.5 2615.2v-31.3h1.8v31.3zM1558.2 2615.2v-17.5h1.8v17.5zM1564.2 2615.2v-18.5h1.8v18.5zM1576.9 2615.2v-31.3h1.8v31.3zM1614.5 2615.2v-15.7h1.8v15.7zM1617.5 2615.2v-15.7h1.8v15.7zM1654.1 2615.2v-1.5h1.8v1.5zM1658.7 2615.2v-1h1.8v1zM1662.4 2615.2v-1.1h1.8v1.1zM1681.9 2615.2v-12.5h1.8v12.5zM1698.1 2615.2v-21.9h1.8v21.9zM1726.8 2615.2v-7.8h1.8v7.8zM1756.4 2615.2v-7.8h1.8v7.8zM1768.6 2615.2v-15.7h1.8v15.7zM1777.9 2615.2v-6.6h1.8v6.6zM1782.5 2615.2v-7.9h1.8v7.9zM1793.9 2615.2v-18h1.8v18zM1796.5 2615.2v-16.8h1.8v16.8zM1800.5 2615.2v-16.5h1.8v16.5z" fill="#1B9E77"/>
<line x1="1211.5" y1="2658.2" x2="1804.5" y2="2658.2" stroke="#1B9E77" stroke-width="1.2"/>
<path d="M1211.5 2658.2L1211.5 2626.9L1215.5 2626.9L1216.5 2627.8L1217.5 2626.9L1218.5 2626.9L1219.5 2629.2L1220.5 2627.4L1221.5 2626.9L1222.5 2630.2L1224.5 2644.5L1225.5 2648L1229.5 2647.3L1230.5 2648.3L1231.5 2647.7L1232.5 2648.4L1234.5 2646.4L1235.5 2648L1236.5 2646.7L1239.5 2656.3L1240.5 2657.9L1241.5 2658.2L1290.5 2658.2L1292.5 2657.4L1295.5 2652L1298.5 2648.1L1299.5 2650.7L1301.5 2653.1L1303.5 2657L1305.5 2658.2L1308.5 2658.2L1309.5 2657.8L1310.5 2656.7L1315.5 2642.9L1316.5 2641.8L1317.5 2643.1L1320.5 2653.8L1322.5 2657.5L1323.5 2658.2L1372.5 2658.1L1373.5 2657.3L1374.5 2655.4L1376.5 2649.7L1379.5 2644L1380.5 2642.4L1381.5 2642L1382.5 2637.8L1383.5 2636.5L1385.5 2629L1386.5 2627.1L1387.5 2629.7L1388.5 2628.4L1389.5 2633.3L1390.5 2634.1L1391.5 2639.5L1392.5 2639.9L1393.5 2644L1394.5 2645.4L1395.5 2644.5L1396.5 2645.8L1399.5 2637.6L1400.5 2633.1L1401.5 2632L1402.5 2628.4L1403.5 2628.5L1405.5 2634.4L1406.5 2639.4L1408.5 2642.5L1409.5 2646.3L1413.5 2646.6L1414.5 2645.1L1415.5 2644.5L1416.5 2646L1417.5 2645.8L1419.5 2646.4L1421.5 2645.6L1422.5 2644.2L1424.5 2643.9L1425.5 2644.5L1426.5 2643.1L1427.5 2643.2L1428.5 2641.9L1429.5 2644.8L1430.5 2643.6L1431.5 2644.9L1433.5 2645.3L1434.5 2646.3L1435.5 2645.9L1436.5 2646.6L1438.5 2647L1439.5 2648.4L1442.5 2656.1L1444.5 2658.1L1500.5 2658.1L1501.5 2657.5L1503.5 2654.5L1505.5 2649.6L1506.5 2649L1507.5 2649.9L1508.5 2649.9L1510.5 2654.9L1512.5 2657.6L1513.5 2658.2L1535.5 2658.2L1536.5 2657.9L1537.5 2656.5L1538.5 2652.8L1542.5 2630.6L1543.5 2627.3L1544.5 2627.8L1545.5 2626.9L1546.5 2627.2L1548.5 2630L1551.5 2641.8L1552.5 2640.6L1553.5 2640.7L1554.5 2636.7L1555.5 2637.4L1556.5 2630.3L1557.5 2628.7L1558.5 2632.9L1559.5 2633L1561.5 2642.8L1562.5 2643.8L1564.5 2648.2L1567.5 2649.8L1568.5 2649L1572.5 2657.3L1574.5 2658.2L1579.5 2657.9L1581.5 2655.3L1583.5 2651.2L1585.5 2648.9L1586.5 2649.3L1589.5 2655.6L1591.5 2657.9L1597.5 2658.2L1599.5 2657.6L1600.5 2655.9L1603.5 2642L1604.5 2640.4L1606.5 2628.4L1607.5 2627.9L1609.5 2629.6L1610.5 2626.9L1611.5 2626.9L1612.5 2628.4L1613.5 2626.9L1619.5 2626.9L1620.5 2631.6L1621.5 2630.7L1622.5 2634.4L1625.5 2651L1627.5 2656.9L1628.5 2658.1L1629.5 2658.2L1650.5 2658.2L1651.5 2657.7L1653.5 2655.1L1656.5 2648.7L1657.5 2649.9L1658.5 2649.7L1662.5 2657.3L1664.5 2658.2L1668.5 2658.2L1669.5 2657.7L1671.5 2655.1L1674.5 2648.5L1675.5 2649.9L1676.5 2649.6L1678.5 2654.3L1680.5 2657.4L1682.5 2658.2L1753.5 2658.2L1755.5 2657L1758.5 2650.7L1759.5 2650.3L1760.5 2648.3L1762.5 2651L1764.5 2655.5L1766.5 2657.9L1767.5 2658.1L1768.5 2657.6L1772.5 2650.2L1774.5 2649.1L1779.5 2657.5L1781.5 2658.2L1787.5 2658.2L1789.5 2656.5L1792.5 2650.4L1793.5 2649.2L1794.5 2649L1795.5 2649.7L1799.5 2657.5L1800.5 2658.1L1804.5 2658.2z" fill="#1B9E77"/>
<rect x="1369.1" y="2671" width="57" height="10" fill="#1B9E77" stroke="#111" stroke-width="2.2"/>
<defs><linearGradient id="lvg" x1="0" y1="0" x2="1" y2="0"><stop offset="0" stop-color="#F8F5FB"/><stop offset="1" stop-color="#6E3FA6"/></linearGradient></defs>
<text x="258.8" y="1051.3" font-size="32.1">mCHMs present in oocyte</text>
<text x="1275.2" y="1060.5" font-size="32.1">mCHMs absent in oocyte</text>
<text x="266.3" y="1496.4" font-size="33.8">pCHMs present in sperm</text>
<text x="1278.8" y="1496.6" font-size="33.8">pCHMs absent in sperm</text>
<path d="M349.0 1385.0L371.0 1385.0L371.0 1308.9L368.4 1304.6L363.0 1298.1L361.1 1293.5L360.0 1284.4L359.8 1261.5L360.4 1247.8L361.9 1241.7L364.5 1238.9L371.0 1236.8L371.0 1142.6L317.9 1142.6L313.5 1151.7L310.1 1163.9L308.8 1176.1L309.4 1188.3L311.7 1199.0L315.5 1208.2L320.6 1215.3L330.6 1224.9L332.4 1228.0L333.8 1232.5L334.6 1241.7L334.0 1287.4L335.8 1317.9L339.0 1340.8L343.9 1360.7L348.0 1385.0L349.0 1385.0Z" fill="#F8F5FB" stroke="#8a8a8a" stroke-width="0.6" fill-rule="evenodd" stroke-opacity="0.8"/>
<path d="M350.3 1385.0L371.0 1385.0L371.0 1313.7L367.1 1307.7L359.4 1301.9L357.7 1298.1L356.9 1289.0L356.4 1249.3L357.0 1240.2L358.1 1236.3L359.4 1234.2L362.0 1232.5L371.0 1231.4L371.0 1142.6L321.7 1142.6L316.6 1151.7L313.0 1162.4L311.3 1174.6L311.8 1186.8L313.6 1196.0L317.4 1205.1L321.9 1211.3L333.6 1221.9L336.1 1226.4L337.4 1231.0L338.1 1240.2L336.9 1279.8L338.1 1305.7L340.5 1324.0L345.2 1343.8L348.4 1375.9L349.7 1385.0L350.3 1385.0Z" fill="#EFE9F5" stroke="#8a8a8a" stroke-width="0.6" fill-rule="evenodd" stroke-opacity="0.8"/>
<path d="M352.9 1385.0L371.0 1385.0L371.0 1321.2L367.1 1314.5L363.2 1312.1L359.4 1312.9L355.5 1316.9L352.5 1324.0L351.0 1331.6L349.7 1346.9L349.8 1362.1L351.1 1378.9L352.1 1385.0L352.9 1385.0ZM346.4 1288.0L347.7 1286.9L348.7 1275.2L347.7 1264.8L346.4 1263.6L345.2 1269.7L345.0 1275.2L345.2 1282.0L346.4 1288.0ZM346.4 1224.1L349.0 1224.4L354.2 1222.4L356.8 1222.0L367.1 1223.7L371.0 1223.3L371.0 1142.6L328.4 1142.6L321.9 1151.8L317.4 1162.4L315.6 1171.6L315.3 1180.7L316.6 1189.9L319.1 1197.5L321.7 1202.1L324.5 1205.4L336.0 1214.3L346.4 1224.1Z" fill="#E5DCEF" stroke="#8a8a8a" stroke-width="0.6" fill-rule="evenodd" stroke-opacity="0.8"/>
<path d="M354.2 1385.0L371.0 1385.0L371.0 1327.5L367.1 1320.0L365.8 1318.8L363.2 1317.8L360.7 1318.5L359.4 1319.7L356.6 1324.0L354.5 1330.1L352.5 1340.8L351.6 1353.0L351.7 1365.2L352.5 1375.9L354.2 1385.0ZM367.1 1217.4L371.0 1217.0L371.0 1142.6L334.9 1142.6L329.4 1148.7L325.2 1154.8L322.2 1160.9L320.3 1167.0L319.1 1174.6L319.1 1180.7L320.0 1186.8L321.9 1192.7L324.6 1197.5L328.4 1201.5L341.3 1210.0L346.4 1212.2L355.5 1213.5L367.1 1217.4Z" fill="#DBCFE9" stroke="#8a8a8a" stroke-width="0.6" fill-rule="evenodd" stroke-opacity="0.8"/>
<path d="M356.8 1385.0L371.0 1385.0L371.0 1333.4L369.3 1328.6L367.1 1324.7L365.8 1323.4L363.2 1322.4L360.7 1323.5L357.4 1328.6L355.1 1336.2L353.6 1345.4L352.9 1357.6L353.4 1371.3L355.6 1385.0L356.8 1385.0ZM364.5 1211.5L368.4 1212.2L371.0 1211.8L371.0 1142.6L341.1 1142.6L331.2 1153.3L328.2 1157.8L325.2 1163.9L323.5 1170.0L322.8 1176.1L323.1 1182.2L324.2 1186.8L325.8 1190.4L328.4 1194.3L331.8 1197.5L336.1 1200.5L343.9 1204.4L354.2 1206.9L364.5 1211.5Z" fill="#D2C2E3" stroke="#8a8a8a" stroke-width="0.6" fill-rule="evenodd" stroke-opacity="0.8"/>
<path d="M358.1 1385.0L370.0 1385.0L371.0 1381.2L371.0 1340.3L369.5 1334.7L367.4 1330.1L365.8 1328.2L363.2 1327.2L360.7 1328.7L358.1 1333.3L356.0 1340.8L354.7 1349.9L354.3 1360.6L354.8 1371.3L356.6 1382.0L357.4 1385.0L358.1 1385.0ZM367.1 1206.8L371.0 1206.4L371.0 1142.6L346.2 1142.6L343.9 1146.2L334.0 1157.8L329.8 1165.5L328.4 1170.0L327.7 1174.6L327.9 1179.2L329.0 1183.8L332.6 1189.9L338.7 1194.8L343.9 1197.3L354.2 1200.5L363.2 1205.6L367.1 1206.8Z" fill="#C8B6DD" stroke="#8a8a8a" stroke-width="0.6" fill-rule="evenodd" stroke-opacity="0.8"/>
<path d="M359.4 1385.0L368.1 1385.0L369.7 1380.0L371.0 1373.0L371.0 1348.5L370.2 1343.8L368.6 1337.7L367.1 1334.5L365.8 1332.7L363.2 1331.6L360.7 1333.5L358.6 1337.7L357.0 1343.8L355.8 1353.0L355.6 1362.1L356.2 1371.3L357.4 1378.9L359.4 1385.0ZM367.1 1202.2L371.0 1201.7L371.0 1142.6L349.3 1142.6L346.4 1149.4L338.1 1160.9L335.6 1165.5L333.6 1173.1L334.1 1179.2L336.2 1183.8L341.3 1188.8L352.9 1194.1L363.2 1200.8L367.1 1202.2Z" fill="#BEA9D7" stroke="#8a8a8a" stroke-width="0.6" fill-rule="evenodd" stroke-opacity="0.8"/>
<path d="M363.2 1385.0L365.0 1385.0L365.8 1384.3L368.4 1378.8L370.1 1369.8L370.6 1360.6L370.1 1351.5L368.4 1342.6L365.8 1337.1L364.5 1336.0L363.2 1335.8L362.0 1336.5L360.7 1338.2L358.5 1343.8L357.2 1351.5L356.8 1360.6L357.3 1369.8L358.6 1377.4L360.7 1382.9L362.0 1384.7L363.2 1385.0ZM365.8 1197.6L368.4 1198.1L371.0 1197.5L371.0 1142.6L351.5 1142.6L347.7 1154.9L341.1 1168.5L340.4 1173.1L340.8 1176.1L342.1 1179.2L344.6 1182.2L352.9 1188.0L362.0 1195.6L365.8 1197.6Z" fill="#B49CD2" stroke="#8a8a8a" stroke-width="0.6" fill-rule="evenodd" stroke-opacity="0.8"/>
<path d="M363.2 1380.5L364.5 1380.3L365.8 1379.0L367.3 1375.9L368.6 1369.8L369.2 1360.6L368.6 1351.5L367.2 1345.4L365.8 1342.4L364.5 1341.1L363.2 1340.9L362.0 1341.8L360.8 1343.8L359.4 1348.2L358.2 1360.6L359.4 1372.9L360.8 1377.4L362.0 1379.5L363.2 1380.5ZM365.8 1193.0L368.4 1193.5L371.0 1192.8L371.0 1142.6L353.6 1142.6L349.4 1165.5L349.7 1173.1L352.4 1179.2L356.9 1185.3L362.0 1190.6L365.8 1193.0Z" fill="#AB8FCC" stroke="#8a8a8a" stroke-width="0.6" fill-rule="evenodd" stroke-opacity="0.8"/>
<path d="M363.2 1374.8L364.5 1374.6L366.3 1371.3L367.3 1366.7L367.6 1360.6L367.2 1354.5L366.2 1349.9L364.5 1346.8L363.2 1346.6L362.0 1347.9L360.7 1351.6L359.8 1360.6L360.7 1369.7L362.0 1373.4L363.2 1374.8ZM365.8 1188.5L368.4 1189.1L371.0 1188.4L371.0 1142.6L355.4 1142.6L353.5 1160.9L353.6 1167.0L354.3 1171.6L356.5 1177.7L359.2 1182.2L362.0 1185.7L365.8 1188.5Z" fill="#A182C6" stroke="#8a8a8a" stroke-width="0.6" fill-rule="evenodd" stroke-opacity="0.8"/>
<path d="M363.2 1363.7L364.5 1362.3L364.6 1360.6L364.5 1359.0L363.2 1357.8L363.2 1363.7ZM367.1 1184.1L369.7 1184.1L371.0 1183.5L371.0 1142.6L357.2 1142.6L356.2 1159.4L357.5 1170.0L359.0 1174.6L361.5 1179.2L364.5 1182.7L367.1 1184.1Z" fill="#9776C0" stroke="#8a8a8a" stroke-width="0.6" fill-rule="evenodd" stroke-opacity="0.8"/>
<path d="M368.4 1179.4L371.0 1178.6L371.0 1142.6L358.9 1142.6L358.4 1156.3L359.7 1167.0L361.1 1171.6L363.2 1175.7L365.8 1178.4L368.4 1179.4Z" fill="#8E69BA" stroke="#8a8a8a" stroke-width="0.6" fill-rule="evenodd" stroke-opacity="0.8"/>
<path d="M367.1 1173.8L369.7 1174.1L371.0 1173.4L371.0 1142.6L360.7 1142.6L360.3 1153.3L361.2 1162.4L363.8 1170.0L365.8 1172.9L367.1 1173.8Z" fill="#845CB4" stroke="#8a8a8a" stroke-width="0.6" fill-rule="evenodd" stroke-opacity="0.8"/>
<path d="M368.4 1168.6L371.0 1167.7L371.0 1142.6L362.6 1142.6L362.3 1151.7L363.2 1159.8L365.8 1166.6L368.4 1168.6Z" fill="#7A4FAE" stroke="#8a8a8a" stroke-width="0.6" fill-rule="evenodd" stroke-opacity="0.8"/>
<path d="M368.4 1161.6L369.7 1161.6L371.0 1160.6L371.0 1142.6L364.8 1142.6L364.6 1148.7L365.2 1154.8L366.6 1159.4L368.4 1161.6Z" fill="#7143A8" stroke="#8a8a8a" stroke-width="0.6" fill-rule="evenodd" stroke-opacity="0.8"/>
<path d="M166.8 1147.4a3.6 3.6 0 1 0 7.2 0a3.6 3.6 0 1 0 -7.2 0M186.1 1147.4a3.6 3.6 0 1 0 7.2 0a3.6 3.6 0 1 0 -7.2 0M268.3 1147.4a3.6 3.6 0 1 0 7.2 0a3.6 3.6 0 1 0 -7.2 0M280.4 1147.4a3.6 3.6 0 1 0 7.2 0a3.6 3.6 0 1 0 -7.2 0M287.6 1154.7a3.6 3.6 0 1 0 7.2 0a3.6 3.6 0 1 0 -7.2 0M261.1 1166.8a3.6 3.6 0 1 0 7.2 0a3.6 3.6 0 1 0 -7.2 0M270.7 1169.3a3.6 3.6 0 1 0 7.2 0a3.6 3.6 0 1 0 -7.2 0M285.2 1171.7a3.6 3.6 0 1 0 7.2 0a3.6 3.6 0 1 0 -7.2 0M294.9 1176.5a3.6 3.6 0 1 0 7.2 0a3.6 3.6 0 1 0 -7.2 0M258.6 1183.8a3.6 3.6 0 1 0 7.2 0a3.6 3.6 0 1 0 -7.2 0M282.8 1188.7a3.6 3.6 0 1 0 7.2 0a3.6 3.6 0 1 0 -7.2 0M258.6 1193.5a3.6 3.6 0 1 0 7.2 0a3.6 3.6 0 1 0 -7.2 0M263.5 1191.1a3.6 3.6 0 1 0 7.2 0a3.6 3.6 0 1 0 -7.2 0M282.8 1195.9a3.6 3.6 0 1 0 7.2 0a3.6 3.6 0 1 0 -7.2 0M287.6 1200.8a3.6 3.6 0 1 0 7.2 0a3.6 3.6 0 1 0 -7.2 0M292.5 1203.2a3.6 3.6 0 1 0 7.2 0a3.6 3.6 0 1 0 -7.2 0M294.9 1203.2a3.6 3.6 0 1 0 7.2 0a3.6 3.6 0 1 0 -7.2 0M239.3 1210.5a3.6 3.6 0 1 0 7.2 0a3.6 3.6 0 1 0 -7.2 0M241.7 1212.9a3.6 3.6 0 1 0 7.2 0a3.6 3.6 0 1 0 -7.2 0M249.0 1215.3a3.6 3.6 0 1 0 7.2 0a3.6 3.6 0 1 0 -7.2 0M265.9 1212.9a3.6 3.6 0 1 0 7.2 0a3.6 3.6 0 1 0 -7.2 0M273.1 1215.3a3.6 3.6 0 1 0 7.2 0a3.6 3.6 0 1 0 -7.2 0M232.0 1222.6a3.6 3.6 0 1 0 7.2 0a3.6 3.6 0 1 0 -7.2 0M290.1 1222.6a3.6 3.6 0 1 0 7.2 0a3.6 3.6 0 1 0 -7.2 0M316.6 1239.6a3.6 3.6 0 1 0 7.2 0a3.6 3.6 0 1 0 -7.2 0M236.9 1271.1a3.6 3.6 0 1 0 7.2 0a3.6 3.6 0 1 0 -7.2 0M270.7 1278.3a3.6 3.6 0 1 0 7.2 0a3.6 3.6 0 1 0 -7.2 0M304.6 1288.0a3.6 3.6 0 1 0 7.2 0a3.6 3.6 0 1 0 -7.2 0M336.0 1292.9a3.6 3.6 0 1 0 7.2 0a3.6 3.6 0 1 0 -7.2 0M350.5 1283.2a3.6 3.6 0 1 0 7.2 0a3.6 3.6 0 1 0 -7.2 0M253.8 1334.1a3.6 3.6 0 1 0 7.2 0a3.6 3.6 0 1 0 -7.2 0M256.2 1331.7a3.6 3.6 0 1 0 7.2 0a3.6 3.6 0 1 0 -7.2 0M299.7 1348.6a3.6 3.6 0 1 0 7.2 0a3.6 3.6 0 1 0 -7.2 0M290.1 1355.9a3.6 3.6 0 1 0 7.2 0a3.6 3.6 0 1 0 -7.2 0M195.8 1382.6a3.6 3.6 0 1 0 7.2 0a3.6 3.6 0 1 0 -7.2 0M265.9 1382.6a3.6 3.6 0 1 0 7.2 0a3.6 3.6 0 1 0 -7.2 0M282.8 1380.2a3.6 3.6 0 1 0 7.2 0a3.6 3.6 0 1 0 -7.2 0M294.9 1380.2a3.6 3.6 0 1 0 7.2 0a3.6 3.6 0 1 0 -7.2 0M336.0 1377.7a3.6 3.6 0 1 0 7.2 0a3.6 3.6 0 1 0 -7.2 0M343.2 1365.6a3.6 3.6 0 1 0 7.2 0a3.6 3.6 0 1 0 -7.2 0M348.1 1360.8a3.6 3.6 0 1 0 7.2 0a3.6 3.6 0 1 0 -7.2 0M331.1 1162.0a3.6 3.6 0 1 0 7.2 0a3.6 3.6 0 1 0 -7.2 0M336.0 1149.9a3.6 3.6 0 1 0 7.2 0a3.6 3.6 0 1 0 -7.2 0M338.4 1166.8a3.6 3.6 0 1 0 7.2 0a3.6 3.6 0 1 0 -7.2 0M328.7 1171.7a3.6 3.6 0 1 0 7.2 0a3.6 3.6 0 1 0 -7.2 0M323.9 1181.4a3.6 3.6 0 1 0 7.2 0a3.6 3.6 0 1 0 -7.2 0M338.4 1195.9a3.6 3.6 0 1 0 7.2 0a3.6 3.6 0 1 0 -7.2 0M333.6 1208.0a3.6 3.6 0 1 0 7.2 0a3.6 3.6 0 1 0 -7.2 0M362.6 1217.7a3.6 3.6 0 1 0 7.2 0a3.6 3.6 0 1 0 -7.2 0M360.1 1259.0a3.6 3.6 0 1 0 7.2 0a3.6 3.6 0 1 0 -7.2 0M355.3 1251.7a3.6 3.6 0 1 0 7.2 0a3.6 3.6 0 1 0 -7.2 0M350.5 1244.4a3.6 3.6 0 1 0 7.2 0a3.6 3.6 0 1 0 -7.2 0M357.7 1271.1a3.6 3.6 0 1 0 7.2 0a3.6 3.6 0 1 0 -7.2 0M365.0 1292.9a3.6 3.6 0 1 0 7.2 0a3.6 3.6 0 1 0 -7.2 0M362.6 1319.6a3.6 3.6 0 1 0 7.2 0a3.6 3.6 0 1 0 -7.2 0M360.1 1331.7a3.6 3.6 0 1 0 7.2 0a3.6 3.6 0 1 0 -7.2 0M360.1 1300.2a3.6 3.6 0 1 0 7.2 0a3.6 3.6 0 1 0 -7.2 0M345.6 1375.3a3.6 3.6 0 1 0 7.2 0a3.6 3.6 0 1 0 -7.2 0M355.3 1380.2a3.6 3.6 0 1 0 7.2 0a3.6 3.6 0 1 0 -7.2 0M323.9 1380.2a3.6 3.6 0 1 0 7.2 0a3.6 3.6 0 1 0 -7.2 0M307.0 1370.5a3.6 3.6 0 1 0 7.2 0a3.6 3.6 0 1 0 -7.2 0M319.1 1360.8a3.6 3.6 0 1 0 7.2 0a3.6 3.6 0 1 0 -7.2 0" fill="#C9C9C9"/>
<circle cx="325.6" cy="1383.5" r="3.3" fill="#D95F02" stroke="#3a2a1a" stroke-width="1"/>
<circle cx="362.0" cy="1382.0" r="3.3" fill="#D95F02" stroke="#3a2a1a" stroke-width="1"/>
<circle cx="367.4" cy="1378.4" r="3.3" fill="#D95F02" stroke="#3a2a1a" stroke-width="1"/>
<circle cx="370.4" cy="1377.5" r="3.3" fill="#D95F02" stroke="#3a2a1a" stroke-width="1"/>
<line x1="348" y1="1352" x2="365.6" y2="1377.5" stroke="#000" stroke-width="2"/>
<line x1="369.5" y1="1341.6" x2="369.5" y2="1376" stroke="#000" stroke-width="2"/>
<text x="287.3" y="1328.1" font-size="21.5">mCHM_4</text>
<text x="234" y="1353.6" font-size="21.5">mCHM_245</text>
<text x="204" y="1383.5" font-size="21.5">mCHM_177</text>
<text x="263.3" y="1402.3" font-size="21.5">mCHM_328</text>
<rect x="117.3" y="1129.7" width="266.6" height="267.3" fill="none" stroke="#000" stroke-width="1.9"/>
<line x1="129.3" y1="1397" x2="129.3" y2="1402.5" stroke="#000" stroke-width="1.6"/>
<text x="126.3" y="1424.9" font-size="22" text-anchor="middle">0.0</text>
<line x1="177.6" y1="1397" x2="177.6" y2="1402.5" stroke="#000" stroke-width="1.6"/>
<text x="174.6" y="1424.9" font-size="22" text-anchor="middle">0.2</text>
<line x1="226" y1="1397" x2="226" y2="1402.5" stroke="#000" stroke-width="1.6"/>
<text x="223" y="1424.9" font-size="22" text-anchor="middle">0.4</text>
<line x1="274.3" y1="1397" x2="274.3" y2="1402.5" stroke="#000" stroke-width="1.6"/>
<text x="271.3" y="1424.9" font-size="22" text-anchor="middle">0.6</text>
<line x1="322.7" y1="1397" x2="322.7" y2="1402.5" stroke="#000" stroke-width="1.6"/>
<text x="319.7" y="1424.9" font-size="22" text-anchor="middle">0.8</text>
<line x1="371" y1="1397" x2="371" y2="1402.5" stroke="#000" stroke-width="1.6"/>
<text x="368" y="1424.9" font-size="22" text-anchor="middle">1.0</text>
<line x1="111.8" y1="1385" x2="117.3" y2="1385" stroke="#000" stroke-width="1.6"/>
<text x="101.7" y="1385" font-size="22" text-anchor="middle" transform="rotate(-90 101.7 1385)">0.0</text>
<line x1="111.8" y1="1336.5" x2="117.3" y2="1336.5" stroke="#000" stroke-width="1.6"/>
<text x="101.7" y="1336.5" font-size="22" text-anchor="middle" transform="rotate(-90 101.7 1336.5)">0.2</text>
<line x1="111.8" y1="1288" x2="117.3" y2="1288" stroke="#000" stroke-width="1.6"/>
<text x="101.7" y="1288" font-size="22" text-anchor="middle" transform="rotate(-90 101.7 1288)">0.4</text>
<line x1="111.8" y1="1239.6" x2="117.3" y2="1239.6" stroke="#000" stroke-width="1.6"/>
<text x="101.7" y="1239.6" font-size="22" text-anchor="middle" transform="rotate(-90 101.7 1239.6)">0.6</text>
<line x1="111.8" y1="1191.1" x2="117.3" y2="1191.1" stroke="#000" stroke-width="1.6"/>
<text x="101.7" y="1191.1" font-size="22" text-anchor="middle" transform="rotate(-90 101.7 1191.1)">0.8</text>
<line x1="111.8" y1="1142.6" x2="117.3" y2="1142.6" stroke="#000" stroke-width="1.6"/>
<text x="101.7" y="1142.6" font-size="22" text-anchor="middle" transform="rotate(-90 101.7 1142.6)">1.0</text>
<text x="238.4" y="1446.3" font-size="21.4" text-anchor="middle">DNA methylation level (oocyte)</text>
<text x="68" y="1274.3" font-size="21.4" text-anchor="middle" transform="rotate(-90 68 1274.3)">DNA methylation level (sperm)</text>
<path d="M130.2 1128.2v-0.8h8.1v0.8zM138.3 1128.2v-0.8h8.1v0.8zM146.4 1128.2v-0.8h8.1v0.8zM154.4 1128.2v-0.8h8.1v0.8zM162.5 1128.2v-0.8h8.1v0.8zM170.6 1128.2v-0.8h8.1v0.8zM178.7 1128.2v-0.8h8.1v0.8zM186.7 1128.2v-0.8h8.1v0.8zM194.8 1128.2v-0.8h8.1v0.8zM202.9 1128.2v-0.8h8.1v0.8zM211.0 1128.2v-0.8h8.1v0.8zM219.0 1128.2v-0.8h8.1v0.8zM227.1 1128.2v-0.8h8.1v0.8zM235.2 1128.2v-0.8h8.1v0.8zM243.3 1128.2v-0.8h8.1v0.8zM251.3 1128.2v-0.8h8.1v0.8zM259.4 1128.2v-1.0h8.1v1.0zM267.5 1128.2v-1.0h8.1v1.0zM275.6 1128.2v-1.5h8.1v1.5zM283.7 1128.2v-1.5h8.1v1.5zM291.7 1128.2v-2.0h8.1v2.0zM299.8 1128.2v-2.5h8.1v2.5zM307.9 1128.2v-2.9h8.1v2.9zM316.0 1128.2v-4.9h8.1v4.9zM324.0 1128.2v-5.9h8.1v5.9zM332.1 1128.2v-6.4h8.1v6.4zM340.2 1128.2v-4.9h8.1v4.9zM348.3 1128.2v-12.7h8.1v12.7zM356.3 1128.2v-28.9h8.1v28.9zM364.4 1128.2v-49.0h8.1v49.0z" fill="#EA8641" stroke="#222" stroke-width="1.1"/>
<path d="M130.2 1128.2L134.2 1127.7L142.3 1127.7L150.4 1127.7L158.5 1127.7L166.5 1127.7L174.6 1127.7L182.7 1127.7L190.8 1127.7L198.9 1127.7L206.9 1127.7L215.0 1127.7L223.1 1127.7L231.2 1127.7L239.2 1127.7L247.3 1127.6L255.4 1127.5L263.5 1127.3L271.5 1127.0L279.6 1126.8L287.7 1126.5L295.8 1126.0L303.8 1125.4L311.9 1124.5L320.0 1123.5L328.1 1122.4L336.2 1120.8L344.2 1117.0L352.3 1110.0L360.4 1101.0L368.5 1092.9L372.5 1128.2" fill="none" stroke="#111" stroke-width="1.6"/>
<line x1="130.2" y1="1128.2" x2="372.5" y2="1128.2" stroke="#000" stroke-width="1.2"/>
<path d="M386.0 1378.3h30.6v8.2h-30.6zM386.0 1370.1h8.9v8.2h-8.9zM386.0 1362.0h4.9v8.2h-4.9zM386.0 1353.8h4.0v8.2h-4.0zM386.0 1345.6h4.0v8.2h-4.0zM386.0 1337.4h3.0v8.2h-3.0zM386.0 1329.2h2.5v8.2h-2.5zM386.0 1321.0h2.0v8.2h-2.0zM386.0 1312.8h1.5v8.2h-1.5zM386.0 1304.7h1.5v8.2h-1.5zM386.0 1296.5h1.0v8.2h-1.0zM386.0 1288.3h1.0v8.2h-1.0zM386.0 1280.1h1.0v8.2h-1.0zM386.0 1271.9h1.5v8.2h-1.5zM386.0 1263.8h1.0v8.2h-1.0zM386.0 1255.6h1.0v8.2h-1.0zM386.0 1247.4h2.0v8.2h-2.0zM386.0 1239.2h1.0v8.2h-1.0zM386.0 1231.0h2.0v8.2h-2.0zM386.0 1222.8h2.5v8.2h-2.5zM386.0 1214.7h3.0v8.2h-3.0zM386.0 1206.5h4.0v8.2h-4.0zM386.0 1198.3h4.9v8.2h-4.9zM386.0 1190.1h5.9v8.2h-5.9zM386.0 1181.9h7.4v8.2h-7.4zM386.0 1173.7h7.4v8.2h-7.4zM386.0 1165.5h8.9v8.2h-8.9zM386.0 1157.4h14.8v8.2h-14.8zM386.0 1149.2h23.7v8.2h-23.7zM386.0 1141.0h49.4v8.2h-49.4z" fill="#55B594" stroke="#222" stroke-width="1.1"/>
<path d="M386.0 1386.5L405.1 1382.4L399.7 1374.2L394.8 1366.0L391.7 1357.9L390.2 1349.7L389.4 1341.5L388.8 1333.3L388.2 1325.1L387.8 1316.9L387.5 1308.8L387.3 1300.6L387.2 1292.4L387.2 1284.2L387.3 1276.0L387.3 1267.8L387.4 1259.7L387.6 1251.5L387.8 1243.3L388.2 1235.1L388.7 1226.9L389.5 1218.7L390.4 1210.6L391.4 1202.4L392.5 1194.2L393.8 1186.0L395.7 1177.8L399.3 1169.6L405.6 1161.5L413.7 1153.3L421.6 1145.1L386.0 1141.0" fill="none" stroke="#111" stroke-width="1.6"/>
<line x1="386" y1="1386.5" x2="386" y2="1141" stroke="#000" stroke-width="1.2"/>
<text x="395" y="1405.5" font-size="18.5">Level</text>
<rect x="393.5" y="1409" width="42" height="16.4" fill="url(#lvg)" stroke="#000" stroke-width="1.6"/>
<line x1="399.4" y1="1422.4" x2="399.4" y2="1429.4" stroke="#000" stroke-width="1.4"/>
<text x="399.4" y="1448" font-size="19" text-anchor="middle">2.5</text>
<line x1="430.9" y1="1422.4" x2="430.9" y2="1429.4" stroke="#000" stroke-width="1.4"/>
<text x="430.9" y="1448" font-size="19" text-anchor="middle">10</text>
<path d="M612.3 1384.5L776.2 1384.5L781.7 1382.2L793.5 1376.1L805.8 1367.8L815.6 1358.6L823.0 1349.2L823.0 1287.6L816.3 1281.1L808.3 1275.7L797.9 1271.4L789.1 1269.3L778.8 1268.2L759.6 1268.3L752.3 1267.7L744.3 1265.9L722.8 1259.0L708.1 1256.8L699.2 1256.7L690.4 1257.6L683.0 1259.3L674.2 1262.6L666.8 1266.6L660.9 1271.0L655.2 1276.5L646.2 1286.8L640.3 1292.1L619.6 1305.2L612.3 1310.7L604.1 1319.1L599.1 1326.7L596.6 1332.8L594.9 1340.4L594.7 1348.0L595.9 1357.1L598.2 1364.7L602.7 1373.9L608.5 1381.5L611.6 1384.5L612.3 1384.5Z" fill="#F8F5FB" stroke="#8a8a8a" stroke-width="0.6" fill-rule="evenodd" stroke-opacity="0.8"/>
<path d="M621.1 1384.5L757.6 1384.5L764.1 1382.1L778.8 1375.0L791.8 1366.3L803.9 1355.6L814.2 1343.5L819.6 1334.3L823.0 1324.8L823.0 1305.4L821.5 1300.9L817.1 1293.2L809.8 1285.7L800.9 1280.2L792.1 1277.1L786.2 1275.9L778.8 1275.3L758.2 1275.8L750.8 1275.2L743.4 1273.2L722.8 1265.1L709.5 1262.4L702.2 1262.1L694.8 1262.6L687.4 1264.0L680.1 1266.5L672.7 1270.4L666.8 1275.0L661.2 1281.1L653.4 1291.7L647.6 1297.5L627.0 1310.9L618.4 1317.6L611.4 1325.2L606.8 1332.8L604.5 1338.9L603.0 1346.5L602.9 1354.1L604.2 1361.7L607.0 1369.3L610.7 1375.4L616.3 1381.5L620.3 1384.5L621.1 1384.5Z" fill="#EBE3F3" stroke="#8a8a8a" stroke-width="0.6" fill-rule="evenodd" stroke-opacity="0.8"/>
<path d="M641.7 1384.5L657.9 1384.0L666.8 1384.5L737.0 1384.5L749.3 1380.9L759.6 1376.5L769.4 1370.8L778.8 1363.2L797.9 1343.4L805.4 1334.3L810.4 1325.2L812.4 1317.6L812.4 1310.0L810.2 1302.4L806.2 1296.3L801.3 1291.7L795.0 1288.0L787.6 1285.5L781.7 1284.6L775.8 1284.3L755.2 1286.1L747.8 1285.7L740.5 1283.2L727.2 1275.6L721.3 1272.9L715.4 1270.9L708.1 1269.5L700.7 1269.3L694.8 1269.9L688.9 1271.4L683.8 1273.5L677.1 1277.8L672.7 1282.3L669.4 1287.2L663.8 1297.3L659.7 1302.4L654.0 1306.9L635.8 1317.7L627.0 1324.1L622.6 1328.1L618.5 1332.8L615.5 1337.4L613.3 1341.9L611.2 1349.5L611.0 1357.1L612.7 1364.7L615.7 1370.8L620.9 1376.9L627.0 1381.0L634.4 1383.6L641.7 1384.5Z" fill="#DDD2EB" stroke="#8a8a8a" stroke-width="0.6" fill-rule="evenodd" stroke-opacity="0.8"/>
<path d="M688.9 1383.2L697.7 1383.9L708.1 1384.0L716.9 1383.5L727.2 1382.0L737.5 1379.5L744.9 1377.0L752.3 1373.6L759.2 1369.3L764.7 1364.7L768.8 1360.2L779.8 1343.4L792.1 1330.2L796.5 1324.0L798.6 1319.1L799.5 1313.0L798.7 1308.5L796.5 1303.9L793.5 1300.6L789.1 1297.7L784.7 1296.0L778.8 1295.0L768.5 1295.7L747.8 1300.4L743.4 1300.6L739.0 1299.8L736.1 1298.6L733.1 1296.5L724.5 1287.2L719.8 1283.2L713.9 1280.0L708.1 1278.4L702.2 1277.9L697.7 1278.4L691.8 1280.2L687.7 1282.6L684.5 1285.7L682.4 1288.7L677.7 1302.4L674.7 1306.9L671.3 1310.0L666.8 1312.9L641.7 1325.9L629.9 1333.7L625.5 1338.0L621.7 1343.4L619.2 1349.5L618.3 1355.6L619.1 1361.7L621.8 1367.8L627.0 1373.4L632.9 1376.6L641.7 1378.4L662.4 1378.7L688.9 1383.2Z" fill="#D0C0E2" stroke="#8a8a8a" stroke-width="0.6" fill-rule="evenodd" stroke-opacity="0.8"/>
<path d="M693.3 1380.1L702.2 1380.7L711.0 1380.5L727.2 1378.3L741.1 1373.9L747.2 1370.8L752.3 1367.5L758.3 1361.7L762.0 1355.6L764.1 1348.0L764.9 1334.3L765.6 1329.8L767.9 1325.2L773.4 1319.1L774.1 1317.6L773.9 1316.1L772.9 1315.3L769.9 1315.2L758.2 1319.7L749.3 1320.5L735.7 1319.1L708.1 1313.5L702.2 1313.3L697.7 1313.9L681.5 1318.5L666.8 1323.9L643.2 1334.9L634.4 1340.4L631.0 1343.4L627.7 1348.0L626.4 1351.0L625.5 1355.6L626.0 1360.2L627.1 1363.2L629.2 1366.3L632.7 1369.3L635.8 1370.9L640.3 1372.1L660.9 1373.5L681.5 1378.3L693.3 1380.1Z" fill="#C2AEDA" stroke="#8a8a8a" stroke-width="0.6" fill-rule="evenodd" stroke-opacity="0.8"/>
<path d="M693.3 1377.0L706.6 1377.7L719.8 1376.5L731.6 1373.6L741.9 1369.0L749.4 1363.2L753.6 1357.1L754.6 1354.1L755.0 1349.5L754.0 1345.0L752.6 1341.9L750.4 1338.9L746.4 1335.2L740.5 1331.8L734.6 1329.5L718.4 1325.5L709.5 1324.5L700.7 1324.2L687.4 1325.6L674.2 1329.1L663.8 1333.6L643.2 1344.4L637.3 1349.1L634.6 1354.1L634.7 1358.6L635.8 1360.9L638.2 1363.2L643.2 1365.4L657.9 1367.7L680.1 1374.5L693.3 1377.0Z" fill="#B49CD2" stroke="#8a8a8a" stroke-width="0.6" fill-rule="evenodd" stroke-opacity="0.8"/>
<path d="M691.8 1373.9L702.2 1374.8L713.9 1374.4L725.7 1372.1L734.6 1368.7L741.9 1363.9L746.2 1358.6L747.5 1355.6L747.9 1352.6L747.5 1349.5L746.4 1346.5L741.9 1341.0L734.6 1336.3L725.7 1333.0L713.9 1330.6L702.2 1329.9L691.8 1330.6L680.1 1333.3L671.2 1336.9L662.9 1341.9L655.8 1348.0L652.8 1352.6L652.8 1355.6L653.8 1357.1L657.5 1360.2L669.7 1366.9L680.1 1371.1L691.8 1373.9Z" fill="#A78AC9" stroke="#8a8a8a" stroke-width="0.6" fill-rule="evenodd" stroke-opacity="0.8"/>
<path d="M691.8 1371.0L700.7 1372.1L711.0 1371.9L719.8 1370.6L728.7 1367.7L734.6 1364.4L739.1 1360.2L741.3 1355.6L741.5 1352.6L740.8 1349.5L737.8 1345.0L731.6 1340.4L724.3 1337.3L715.4 1335.2L705.1 1334.2L696.3 1334.5L687.4 1336.0L679.0 1338.9L672.7 1342.4L668.0 1346.5L665.3 1351.0L665.3 1355.6L668.3 1360.2L674.4 1364.7L683.0 1368.7L691.8 1371.0Z" fill="#9978C1" stroke="#8a8a8a" stroke-width="0.6" fill-rule="evenodd" stroke-opacity="0.8"/>
<path d="M700.7 1369.3L708.1 1369.4L715.4 1368.5L721.3 1367.0L727.2 1364.5L731.6 1361.4L734.8 1357.1L735.4 1352.6L734.3 1349.5L730.2 1345.1L725.7 1342.4L718.4 1339.8L711.0 1338.4L702.2 1338.0L694.8 1338.6L687.3 1340.4L680.4 1343.4L676.3 1346.5L673.2 1351.0L673.0 1355.6L674.6 1358.6L678.6 1362.4L684.5 1365.7L691.8 1368.0L700.7 1369.3Z" fill="#8C66B8" stroke="#8a8a8a" stroke-width="0.6" fill-rule="evenodd" stroke-opacity="0.8"/>
<path d="M700.7 1366.4L706.6 1366.5L712.5 1365.9L717.6 1364.7L722.8 1362.5L726.2 1360.2L728.5 1357.1L729.2 1354.1L728.4 1351.0L725.9 1348.0L721.3 1345.1L715.4 1343.0L709.5 1342.0L702.2 1341.7L696.3 1342.3L690.4 1343.8L685.9 1345.7L681.5 1349.3L679.9 1352.6L680.0 1355.6L681.6 1358.6L685.2 1361.7L688.9 1363.6L694.8 1365.4L700.7 1366.4Z" fill="#7E55B0" stroke="#8a8a8a" stroke-width="0.6" fill-rule="evenodd" stroke-opacity="0.8"/>
<path d="M696.3 1361.9L705.1 1363.1L714.2 1361.7L718.4 1359.7L721.1 1357.1L721.8 1355.6L721.5 1352.6L718.4 1349.2L715.4 1347.7L711.0 1346.3L702.2 1345.7L694.8 1347.1L690.1 1349.5L688.5 1351.0L687.3 1354.1L688.3 1357.1L689.7 1358.6L691.9 1360.2L696.3 1361.9Z" fill="#7143A8" stroke="#8a8a8a" stroke-width="0.6" fill-rule="evenodd" stroke-opacity="0.8"/>
<path d="M663.5 1173.2a3.6 3.6 0 1 0 7.2 0a3.6 3.6 0 1 0 -7.2 0M705.4 1177.7a3.6 3.6 0 1 0 7.2 0a3.6 3.6 0 1 0 -7.2 0M764.6 1152.9a3.6 3.6 0 1 0 7.2 0a3.6 3.6 0 1 0 -7.2 0M728.1 1193.0a3.6 3.6 0 1 0 7.2 0a3.6 3.6 0 1 0 -7.2 0M743.1 1196.5a3.6 3.6 0 1 0 7.2 0a3.6 3.6 0 1 0 -7.2 0M755.0 1198.6a3.6 3.6 0 1 0 7.2 0a3.6 3.6 0 1 0 -7.2 0M723.6 1204.6a3.6 3.6 0 1 0 7.2 0a3.6 3.6 0 1 0 -7.2 0M730.2 1222.9a3.6 3.6 0 1 0 7.2 0a3.6 3.6 0 1 0 -7.2 0M722.1 1228.6a3.6 3.6 0 1 0 7.2 0a3.6 3.6 0 1 0 -7.2 0M688.3 1248.0a3.6 3.6 0 1 0 7.2 0a3.6 3.6 0 1 0 -7.2 0M693.7 1248.0a3.6 3.6 0 1 0 7.2 0a3.6 3.6 0 1 0 -7.2 0M716.1 1251.9a3.6 3.6 0 1 0 7.2 0a3.6 3.6 0 1 0 -7.2 0M732.3 1248.3a3.6 3.6 0 1 0 7.2 0a3.6 3.6 0 1 0 -7.2 0M756.2 1251.3a3.6 3.6 0 1 0 7.2 0a3.6 3.6 0 1 0 -7.2 0M778.1 1251.0a3.6 3.6 0 1 0 7.2 0a3.6 3.6 0 1 0 -7.2 0M779.6 1255.5a3.6 3.6 0 1 0 7.2 0a3.6 3.6 0 1 0 -7.2 0M787.6 1248.9a3.6 3.6 0 1 0 7.2 0a3.6 3.6 0 1 0 -7.2 0M745.1 1259.4a3.6 3.6 0 1 0 7.2 0a3.6 3.6 0 1 0 -7.2 0M766.1 1258.5a3.6 3.6 0 1 0 7.2 0a3.6 3.6 0 1 0 -7.2 0M800.5 1268.4a3.6 3.6 0 1 0 7.2 0a3.6 3.6 0 1 0 -7.2 0M805.6 1269.0a3.6 3.6 0 1 0 7.2 0a3.6 3.6 0 1 0 -7.2 0M638.9 1276.4a3.6 3.6 0 1 0 7.2 0a3.6 3.6 0 1 0 -7.2 0M648.8 1276.4a3.6 3.6 0 1 0 7.2 0a3.6 3.6 0 1 0 -7.2 0M767.6 1281.8a3.6 3.6 0 1 0 7.2 0a3.6 3.6 0 1 0 -7.2 0M637.4 1300.4a3.6 3.6 0 1 0 7.2 0a3.6 3.6 0 1 0 -7.2 0M817.0 1295.9a3.6 3.6 0 1 0 7.2 0a3.6 3.6 0 1 0 -7.2 0M818.5 1335.1a3.6 3.6 0 1 0 7.2 0a3.6 3.6 0 1 0 -7.2 0M587.5 1356.6a3.6 3.6 0 1 0 7.2 0a3.6 3.6 0 1 0 -7.2 0M595.5 1365.6a3.6 3.6 0 1 0 7.2 0a3.6 3.6 0 1 0 -7.2 0M805.0 1313.2a3.6 3.6 0 1 0 7.2 0a3.6 3.6 0 1 0 -7.2 0M618.0 1384.5a3.6 3.6 0 1 0 7.2 0a3.6 3.6 0 1 0 -7.2 0M659.9 1384.5a3.6 3.6 0 1 0 7.2 0a3.6 3.6 0 1 0 -7.2 0M677.8 1384.5a3.6 3.6 0 1 0 7.2 0a3.6 3.6 0 1 0 -7.2 0M701.8 1384.5a3.6 3.6 0 1 0 7.2 0a3.6 3.6 0 1 0 -7.2 0M817.0 1367.1a3.6 3.6 0 1 0 7.2 0a3.6 3.6 0 1 0 -7.2 0" fill="#C9C9C9"/>
<circle cx="722.7" cy="1340.2" r="3.3" fill="#D95F02" stroke="#3a2a1a" stroke-width="1"/>
<circle cx="776.6" cy="1363.5" r="3.3" fill="#D95F02" stroke="#3a2a1a" stroke-width="1"/>
<circle cx="795.7" cy="1361.7" r="3.3" fill="#D95F02" stroke="#3a2a1a" stroke-width="1"/>
<circle cx="713.7" cy="1373.1" r="3.3" fill="#D95F02" stroke="#3a2a1a" stroke-width="1"/>
<text x="671.8" y="1331.2" font-size="21.5">mCHM_328</text>
<text x="740.7" y="1352.7" font-size="21.5">mCHM_4</text>
<text x="591" y="1379" font-size="21.5">mCHM_245</text>
<text x="723.3" y="1385.7" font-size="21.5">mCHM_177</text>
<rect x="568.6" y="1130.1" width="266.9" height="266.3" fill="none" stroke="#000" stroke-width="1.9"/>
<line x1="580.6" y1="1396.4" x2="580.6" y2="1401.9" stroke="#000" stroke-width="1.6"/>
<text x="577.6" y="1424.6" font-size="22" text-anchor="middle">0.0</text>
<line x1="661.4" y1="1396.4" x2="661.4" y2="1401.9" stroke="#000" stroke-width="1.6"/>
<text x="658.4" y="1424.6" font-size="22" text-anchor="middle">0.2</text>
<line x1="742.2" y1="1396.4" x2="742.2" y2="1401.9" stroke="#000" stroke-width="1.6"/>
<text x="739.2" y="1424.6" font-size="22" text-anchor="middle">0.4</text>
<line x1="823" y1="1396.4" x2="823" y2="1401.9" stroke="#000" stroke-width="1.6"/>
<text x="820" y="1424.6" font-size="22" text-anchor="middle">0.6</text>
<line x1="563.1" y1="1384.5" x2="568.6" y2="1384.5" stroke="#000" stroke-width="1.6"/>
<text x="554.3" y="1384.5" font-size="22" text-anchor="middle" transform="rotate(-90 554.3 1384.5)">0.0</text>
<line x1="563.1" y1="1303.9" x2="568.6" y2="1303.9" stroke="#000" stroke-width="1.6"/>
<text x="554.3" y="1303.9" font-size="22" text-anchor="middle" transform="rotate(-90 554.3 1303.9)">0.2</text>
<line x1="563.1" y1="1223.3" x2="568.6" y2="1223.3" stroke="#000" stroke-width="1.6"/>
<text x="554.3" y="1223.3" font-size="22" text-anchor="middle" transform="rotate(-90 554.3 1223.3)">0.4</text>
<line x1="563.1" y1="1142.7" x2="568.6" y2="1142.7" stroke="#000" stroke-width="1.6"/>
<text x="554.3" y="1142.7" font-size="22" text-anchor="middle" transform="rotate(-90 554.3 1142.7)">0.6</text>
<text x="700.3" y="1446.4" font-size="21.4" text-anchor="middle">H3K9me3 signal (oocyte)</text>
<text x="527" y="1255.6" font-size="21.4" text-anchor="middle" transform="rotate(-90 527 1255.6)">H3K9me3 signal (Sperm)</text>
<path d="M581.0 1127.7v-1.0h8.1v1.0zM589.1 1127.7v-1.0h8.1v1.0zM597.2 1127.7v-1.0h8.1v1.0zM605.3 1127.7v-1.5h8.1v1.5zM613.3 1127.7v-2.4h8.1v2.4zM621.4 1127.7v-12.1h8.1v12.1zM629.5 1127.7v-2.4h8.1v2.4zM637.6 1127.7v-8.2h8.1v8.2zM645.7 1127.7v-21.8h8.1v21.8zM653.8 1127.7v-25.7h8.1v25.7zM661.9 1127.7v-31.5h8.1v31.5zM670.0 1127.7v-25.2h8.1v25.2zM678.0 1127.7v-48.5h8.1v48.5zM686.1 1127.7v-33.0h8.1v33.0zM694.2 1127.7v-48.5h8.1v48.5zM702.3 1127.7v-41.2h8.1v41.2zM710.4 1127.7v-39.8h8.1v39.8zM718.5 1127.7v-46.1h8.1v46.1zM726.6 1127.7v-24.2h8.1v24.2zM734.6 1127.7v-36.9h8.1v36.9zM742.7 1127.7v-13.1h8.1v13.1zM750.8 1127.7v-7.3h8.1v7.3zM758.9 1127.7v-20.4h8.1v20.4zM767.0 1127.7v-10.7h8.1v10.7zM775.1 1127.7v-13.1h8.1v13.1zM783.2 1127.7v-16.0h8.1v16.0zM791.3 1127.7v-7.3h8.1v7.3zM799.3 1127.7v-16.0h8.1v16.0zM807.4 1127.7v-9.7h8.1v9.7zM815.5 1127.7v-8.2h8.1v8.2z" fill="#EA8641" stroke="#222" stroke-width="1.1"/>
<path d="M581.0 1127.7L585.0 1126.9L593.1 1126.7L601.2 1126.4L609.3 1125.5L617.4 1124.0L625.5 1122.4L633.6 1120.5L641.6 1117.1L649.7 1112.2L657.8 1107.4L665.9 1103.5L674.0 1100.0L682.1 1096.7L690.2 1094.2L698.3 1092.9L706.3 1092.8L714.4 1093.9L722.5 1096.5L730.6 1100.6L738.7 1105.8L746.8 1111.0L754.9 1114.5L763.0 1115.9L771.0 1116.3L779.1 1116.6L787.2 1117.0L795.3 1117.5L803.4 1118.0L811.5 1118.6L819.6 1119.3L823.6 1127.7" fill="none" stroke="#111" stroke-width="1.6"/>
<line x1="581" y1="1127.7" x2="823.6" y2="1127.7" stroke="#000" stroke-width="1.2"/>
<path d="M837.6 1376.4h24.4v8.1h-24.4zM837.6 1368.4h48.8v8.1h-48.8zM837.6 1360.3h48.8v8.1h-48.8zM837.6 1352.3h43.9v8.1h-43.9zM837.6 1344.2h36.6v8.1h-36.6zM837.6 1336.1h34.2v8.1h-34.2zM837.6 1328.1h24.4v8.1h-24.4zM837.6 1320.0h14.6v8.1h-14.6zM837.6 1312.0h14.6v8.1h-14.6zM837.6 1303.9h19.5v8.1h-19.5zM837.6 1295.8h12.2v8.1h-12.2zM837.6 1287.8h5.9v8.1h-5.9zM837.6 1279.7h4.9v8.1h-4.9zM837.6 1271.7h3.9v8.1h-3.9zM837.6 1263.6h3.9v8.1h-3.9zM837.6 1255.5h7.3v8.1h-7.3zM837.6 1247.5h5.9v8.1h-5.9zM837.6 1239.4h3.9v8.1h-3.9zM837.6 1231.4h1.5v8.1h-1.5zM837.6 1223.3h1.0v8.1h-1.0zM837.6 1215.2h1.0v8.1h-1.0zM837.6 1207.2h1.0v8.1h-1.0zM837.6 1199.1h1.0v8.1h-1.0zM837.6 1191.1h1.0v8.1h-1.0zM837.6 1183.0h3.9v8.1h-3.9zM837.6 1174.9h1.0v8.1h-1.0zM837.6 1166.9h1.0v8.1h-1.0zM837.6 1158.8h1.0v8.1h-1.0zM837.6 1150.8h1.0v8.1h-1.0zM837.6 1142.7h1.0v8.1h-1.0z" fill="#55B594" stroke="#222" stroke-width="1.1"/>
<path d="M837.6 1384.5L868.2 1380.5L871.3 1372.4L872.7 1364.3L871.4 1356.3L867.9 1348.2L863.1 1340.2L858.0 1332.1L853.8 1324.0L851.3 1316.0L849.5 1307.9L847.2 1299.9L844.5 1291.8L842.5 1283.8L841.7 1275.7L841.7 1267.6L841.9 1259.6L841.6 1251.5L840.6 1243.5L839.6 1235.4L838.9 1227.3L838.5 1219.3L838.5 1211.2L838.6 1203.2L838.9 1195.1L839.1 1187.0L838.9 1179.0L838.6 1170.9L838.5 1162.8L838.4 1154.8L838.4 1146.7L837.6 1142.7" fill="none" stroke="#111" stroke-width="1.6"/>
<line x1="837.6" y1="1384.5" x2="837.6" y2="1142.7" stroke="#000" stroke-width="1.2"/>
<text x="846.5" y="1406.1" font-size="18.5">Level</text>
<rect x="845" y="1409.6" width="41.4" height="15.9" fill="url(#lvg)" stroke="#000" stroke-width="1.6"/>
<line x1="852" y1="1422.5" x2="852" y2="1429.5" stroke="#000" stroke-width="1.4"/>
<text x="852" y="1448.5" font-size="19" text-anchor="middle">5</text>
<line x1="883.5" y1="1422.5" x2="883.5" y2="1429.5" stroke="#000" stroke-width="1.4"/>
<text x="883.5" y="1448.5" font-size="19" text-anchor="middle">15</text>
<path d="M1364.8 1380.9L1369.4 1380.9L1373.7 1378.8L1373.7 1353.8L1369.1 1350.5L1366.6 1347.4L1366.0 1344.4L1367.3 1333.8L1367.0 1329.2L1366.3 1327.3L1364.8 1325.5L1361.9 1324.6L1357.4 1325.8L1353.0 1328.6L1347.5 1333.8L1342.6 1339.8L1337.8 1347.4L1334.3 1355.0L1332.4 1361.1L1331.7 1367.2L1332.7 1371.8L1335.3 1374.0L1339.7 1374.0L1347.1 1371.3L1350.0 1371.0L1353.0 1372.7L1358.9 1378.7L1361.9 1380.4L1364.8 1380.9ZM1221.4 1242.5L1240.6 1242.7L1261.3 1241.6L1282.0 1239.1L1301.2 1235.5L1319.0 1230.9L1339.7 1223.8L1358.9 1215.6L1373.7 1207.7L1373.7 1139.1L1253.0 1139.1L1240.6 1140.8L1203.6 1143.1L1182.9 1145.7L1159.3 1150.5L1138.6 1157.2L1138.6 1227.4L1154.8 1232.8L1175.5 1237.7L1196.2 1240.7L1221.4 1242.5Z" fill="#F8F5FB" stroke="#8a8a8a" stroke-width="0.6" fill-rule="evenodd" stroke-opacity="0.8"/>
<path d="M1363.3 1372.0L1364.8 1372.7L1367.8 1372.8L1370.7 1370.7L1371.8 1368.7L1372.2 1365.7L1371.2 1362.7L1370.0 1361.1L1367.8 1359.7L1363.3 1359.5L1360.9 1361.1L1360.1 1362.7L1360.1 1367.2L1361.5 1370.3L1363.3 1372.0ZM1344.1 1358.5L1345.6 1359.1L1349.1 1358.1L1351.5 1356.5L1354.0 1353.5L1355.7 1349.0L1356.3 1344.4L1356.0 1342.3L1354.5 1340.8L1353.0 1340.9L1350.0 1342.8L1345.6 1348.4L1343.9 1352.0L1343.2 1355.0L1343.2 1356.6L1344.1 1358.5ZM1208.1 1228.8L1225.8 1230.0L1245.0 1229.8L1264.3 1228.2L1282.0 1225.3L1301.2 1220.7L1341.2 1209.6L1357.4 1203.6L1372.2 1196.3L1373.7 1195.5L1373.7 1139.1L1283.5 1139.1L1261.3 1148.3L1251.0 1151.4L1239.1 1153.3L1205.1 1156.0L1188.9 1158.5L1169.6 1163.4L1160.8 1166.7L1153.4 1170.1L1144.8 1175.6L1138.6 1181.7L1138.6 1202.9L1139.9 1204.5L1144.9 1209.1L1150.4 1212.8L1157.8 1216.7L1166.7 1220.2L1185.9 1225.5L1208.1 1228.8Z" fill="#EEE8F5" stroke="#8a8a8a" stroke-width="0.6" fill-rule="evenodd" stroke-opacity="0.8"/>
<path d="M1230.3 1218.2L1245.0 1217.8L1259.8 1216.3L1296.7 1209.1L1332.3 1203.4L1342.6 1200.9L1351.5 1197.9L1373.7 1187.9L1373.7 1139.1L1301.4 1139.1L1285.0 1145.9L1261.3 1159.1L1252.4 1162.7L1242.1 1164.8L1215.5 1167.2L1202.2 1169.2L1189.3 1172.6L1178.4 1177.1L1173.4 1180.2L1169.9 1183.2L1167.4 1186.2L1166.0 1189.3L1165.7 1193.8L1166.6 1196.9L1168.6 1199.9L1171.6 1203.0L1175.8 1206.0L1181.6 1209.1L1194.8 1213.6L1211.0 1216.8L1230.3 1218.2Z" fill="#E3DAEE" stroke="#8a8a8a" stroke-width="0.6" fill-rule="evenodd" stroke-opacity="0.8"/>
<path d="M1228.8 1203.0L1243.6 1202.7L1265.7 1199.0L1273.1 1198.2L1308.6 1199.1L1327.9 1197.7L1336.7 1196.1L1347.1 1193.3L1373.7 1182.4L1373.7 1139.1L1314.9 1139.1L1298.3 1146.0L1289.4 1150.4L1281.0 1155.8L1275.5 1160.4L1262.8 1172.6L1256.9 1176.6L1248.0 1179.3L1227.3 1181.4L1219.9 1182.6L1213.0 1184.7L1207.6 1187.8L1206.1 1189.3L1205.0 1192.3L1206.2 1195.4L1207.7 1196.9L1212.5 1199.6L1216.9 1201.1L1228.8 1203.0Z" fill="#D9CCE8" stroke="#8a8a8a" stroke-width="0.6" fill-rule="evenodd" stroke-opacity="0.8"/>
<path d="M1302.7 1192.3L1310.1 1193.2L1319.0 1193.4L1326.4 1193.0L1335.3 1191.6L1347.1 1188.4L1373.7 1178.5L1373.7 1139.1L1323.8 1139.1L1299.8 1150.4L1290.8 1155.8L1285.5 1160.4L1280.7 1166.5L1278.2 1172.6L1277.9 1175.6L1278.2 1178.6L1280.7 1183.2L1286.5 1187.4L1293.8 1190.4L1302.7 1192.3Z" fill="#CFBEE2" stroke="#8a8a8a" stroke-width="0.6" fill-rule="evenodd" stroke-opacity="0.8"/>
<path d="M1308.6 1188.0L1321.9 1189.0L1335.3 1187.5L1344.1 1185.2L1373.7 1175.4L1373.7 1139.1L1330.4 1139.1L1320.5 1144.8L1304.4 1152.8L1297.2 1157.3L1292.2 1161.9L1289.2 1166.5L1287.9 1171.0L1288.4 1175.6L1291.3 1180.2L1295.1 1183.2L1301.2 1186.0L1308.6 1188.0Z" fill="#C4B1DB" stroke="#8a8a8a" stroke-width="0.6" fill-rule="evenodd" stroke-opacity="0.8"/>
<path d="M1319.0 1184.8L1327.9 1184.6L1336.7 1183.3L1373.7 1172.7L1373.7 1139.1L1335.8 1139.1L1303.1 1158.9L1298.5 1163.4L1296.2 1168.0L1296.1 1172.6L1297.4 1175.6L1300.1 1178.6L1305.7 1181.9L1311.6 1183.7L1319.0 1184.8Z" fill="#BAA3D5" stroke="#8a8a8a" stroke-width="0.6" fill-rule="evenodd" stroke-opacity="0.8"/>
<path d="M1317.5 1180.2L1324.9 1180.7L1333.8 1180.0L1373.7 1170.3L1373.7 1139.1L1340.7 1139.1L1324.9 1150.0L1310.9 1158.9L1307.4 1161.9L1305.0 1165.0L1303.8 1168.0L1303.8 1171.0L1305.3 1174.1L1308.6 1177.0L1311.9 1178.6L1317.5 1180.2Z" fill="#AF95CE" stroke="#8a8a8a" stroke-width="0.6" fill-rule="evenodd" stroke-opacity="0.8"/>
<path d="M1321.9 1175.7L1327.9 1176.2L1335.3 1175.5L1373.7 1168.1L1373.7 1139.1L1345.3 1139.1L1340.6 1142.1L1317.4 1160.4L1313.3 1165.0L1312.4 1168.0L1313.2 1171.0L1316.8 1174.1L1321.9 1175.7Z" fill="#A587C8" stroke="#8a8a8a" stroke-width="0.6" fill-rule="evenodd" stroke-opacity="0.8"/>
<path d="M1327.9 1169.7L1333.8 1170.5L1342.6 1170.2L1361.9 1168.2L1373.7 1166.0L1373.7 1139.1L1349.9 1139.1L1344.8 1142.1L1336.1 1149.7L1325.4 1161.9L1324.0 1165.0L1324.0 1166.5L1324.9 1168.1L1327.9 1169.7Z" fill="#9A7AC1" stroke="#8a8a8a" stroke-width="0.6" fill-rule="evenodd" stroke-opacity="0.8"/>
<path d="M1341.2 1165.1L1347.1 1166.0L1356.0 1166.2L1364.8 1165.5L1373.7 1163.9L1373.7 1139.1L1355.0 1139.1L1346.9 1143.7L1340.7 1149.7L1337.7 1154.3L1336.3 1157.3L1335.9 1160.4L1336.3 1161.9L1337.5 1163.4L1341.2 1165.1Z" fill="#906CBB" stroke="#8a8a8a" stroke-width="0.6" fill-rule="evenodd" stroke-opacity="0.8"/>
<path d="M1357.4 1163.4L1366.3 1163.1L1373.7 1161.7L1373.7 1139.1L1361.6 1139.1L1357.4 1140.4L1350.0 1144.6L1345.1 1149.7L1343.5 1152.8L1342.9 1155.8L1344.1 1159.3L1345.6 1160.7L1348.6 1162.1L1357.4 1163.4Z" fill="#865EB5" stroke="#8a8a8a" stroke-width="0.6" fill-rule="evenodd" stroke-opacity="0.8"/>
<path d="M1357.4 1160.5L1366.3 1160.7L1373.7 1159.4L1373.7 1140.5L1366.3 1140.4L1360.4 1141.7L1354.5 1144.7L1350.6 1148.2L1348.5 1152.8L1348.9 1155.8L1350.0 1157.3L1352.1 1158.9L1357.4 1160.5Z" fill="#7B50AE" stroke="#8a8a8a" stroke-width="0.6" fill-rule="evenodd" stroke-opacity="0.8"/>
<path d="M1360.4 1157.6L1367.8 1157.9L1373.7 1156.7L1373.7 1143.1L1369.3 1142.7L1363.3 1143.5L1359.2 1145.2L1355.5 1148.2L1354.0 1151.3L1354.5 1154.3L1356.0 1155.9L1360.4 1157.6Z" fill="#7143A8" stroke="#8a8a8a" stroke-width="0.6" fill-rule="evenodd" stroke-opacity="0.8"/>
<path d="M1183.1 1147.2a3.6 3.6 0 1 0 7.2 0a3.6 3.6 0 1 0 -7.2 0M1195.9 1146.3a3.6 3.6 0 1 0 7.2 0a3.6 3.6 0 1 0 -7.2 0M1242.9 1143.9a3.6 3.6 0 1 0 7.2 0a3.6 3.6 0 1 0 -7.2 0M1250.4 1146.0a3.6 3.6 0 1 0 7.2 0a3.6 3.6 0 1 0 -7.2 0M1366.5 1146.6a3.6 3.6 0 1 0 7.2 0a3.6 3.6 0 1 0 -7.2 0M1369.5 1155.6a3.6 3.6 0 1 0 7.2 0a3.6 3.6 0 1 0 -7.2 0M1371.0 1164.6a3.6 3.6 0 1 0 7.2 0a3.6 3.6 0 1 0 -7.2 0M1370.4 1174.4a3.6 3.6 0 1 0 7.2 0a3.6 3.6 0 1 0 -7.2 0M1370.1 1205.9a3.6 3.6 0 1 0 7.2 0a3.6 3.6 0 1 0 -7.2 0M1143.3 1222.9a3.6 3.6 0 1 0 7.2 0a3.6 3.6 0 1 0 -7.2 0M1357.5 1218.4a3.6 3.6 0 1 0 7.2 0a3.6 3.6 0 1 0 -7.2 0M1356.6 1240.3a3.6 3.6 0 1 0 7.2 0a3.6 3.6 0 1 0 -7.2 0M1363.5 1259.7a3.6 3.6 0 1 0 7.2 0a3.6 3.6 0 1 0 -7.2 0M1303.7 1278.9a3.6 3.6 0 1 0 7.2 0a3.6 3.6 0 1 0 -7.2 0M1369.8 1283.7a3.6 3.6 0 1 0 7.2 0a3.6 3.6 0 1 0 -7.2 0M1190.8 1285.8a3.6 3.6 0 1 0 7.2 0a3.6 3.6 0 1 0 -7.2 0M1240.8 1312.1a3.6 3.6 0 1 0 7.2 0a3.6 3.6 0 1 0 -7.2 0M1370.1 1315.1a3.6 3.6 0 1 0 7.2 0a3.6 3.6 0 1 0 -7.2 0M1257.9 1330.6a3.6 3.6 0 1 0 7.2 0a3.6 3.6 0 1 0 -7.2 0M1333.6 1330.6a3.6 3.6 0 1 0 7.2 0a3.6 3.6 0 1 0 -7.2 0M1370.4 1325.6a3.6 3.6 0 1 0 7.2 0a3.6 3.6 0 1 0 -7.2 0M1370.4 1335.1a3.6 3.6 0 1 0 7.2 0a3.6 3.6 0 1 0 -7.2 0M1240.8 1342.0a3.6 3.6 0 1 0 7.2 0a3.6 3.6 0 1 0 -7.2 0M1178.6 1361.2a3.6 3.6 0 1 0 7.2 0a3.6 3.6 0 1 0 -7.2 0M1203.4 1357.6a3.6 3.6 0 1 0 7.2 0a3.6 3.6 0 1 0 -7.2 0M1230.6 1374.9a3.6 3.6 0 1 0 7.2 0a3.6 3.6 0 1 0 -7.2 0M1333.0 1372.5a3.6 3.6 0 1 0 7.2 0a3.6 3.6 0 1 0 -7.2 0M1357.5 1375.5a3.6 3.6 0 1 0 7.2 0a3.6 3.6 0 1 0 -7.2 0M1363.5 1371.0a3.6 3.6 0 1 0 7.2 0a3.6 3.6 0 1 0 -7.2 0M1368.0 1372.5a3.6 3.6 0 1 0 7.2 0a3.6 3.6 0 1 0 -7.2 0M1370.4 1371.9a3.6 3.6 0 1 0 7.2 0a3.6 3.6 0 1 0 -7.2 0" fill="#C9C9C9"/>
<rect x="1118.7" y="1126.3" width="266.9" height="266.3" fill="none" stroke="#000" stroke-width="1.9"/>
<line x1="1131.3" y1="1392.6" x2="1131.3" y2="1398.1" stroke="#000" stroke-width="1.6"/>
<text x="1128.3" y="1421.4" font-size="22" text-anchor="middle">0.0</text>
<line x1="1179.8" y1="1392.6" x2="1179.8" y2="1398.1" stroke="#000" stroke-width="1.6"/>
<text x="1176.8" y="1421.4" font-size="22" text-anchor="middle">0.2</text>
<line x1="1228.3" y1="1392.6" x2="1228.3" y2="1398.1" stroke="#000" stroke-width="1.6"/>
<text x="1225.3" y="1421.4" font-size="22" text-anchor="middle">0.4</text>
<line x1="1276.7" y1="1392.6" x2="1276.7" y2="1398.1" stroke="#000" stroke-width="1.6"/>
<text x="1273.7" y="1421.4" font-size="22" text-anchor="middle">0.6</text>
<line x1="1325.2" y1="1392.6" x2="1325.2" y2="1398.1" stroke="#000" stroke-width="1.6"/>
<text x="1322.2" y="1421.4" font-size="22" text-anchor="middle">0.8</text>
<line x1="1373.7" y1="1392.6" x2="1373.7" y2="1398.1" stroke="#000" stroke-width="1.6"/>
<text x="1370.7" y="1421.4" font-size="22" text-anchor="middle">1.0</text>
<line x1="1113.2" y1="1380.9" x2="1118.7" y2="1380.9" stroke="#000" stroke-width="1.6"/>
<text x="1109.8" y="1380.9" font-size="22" text-anchor="middle" transform="rotate(-90 1109.8 1380.9)">0.0</text>
<line x1="1113.2" y1="1332.5" x2="1118.7" y2="1332.5" stroke="#000" stroke-width="1.6"/>
<text x="1109.8" y="1332.5" font-size="22" text-anchor="middle" transform="rotate(-90 1109.8 1332.5)">0.2</text>
<line x1="1113.2" y1="1284.2" x2="1118.7" y2="1284.2" stroke="#000" stroke-width="1.6"/>
<text x="1109.8" y="1284.2" font-size="22" text-anchor="middle" transform="rotate(-90 1109.8 1284.2)">0.4</text>
<line x1="1113.2" y1="1235.8" x2="1118.7" y2="1235.8" stroke="#000" stroke-width="1.6"/>
<text x="1109.8" y="1235.8" font-size="22" text-anchor="middle" transform="rotate(-90 1109.8 1235.8)">0.6</text>
<line x1="1113.2" y1="1187.5" x2="1118.7" y2="1187.5" stroke="#000" stroke-width="1.6"/>
<text x="1109.8" y="1187.5" font-size="22" text-anchor="middle" transform="rotate(-90 1109.8 1187.5)">0.8</text>
<line x1="1113.2" y1="1139.1" x2="1118.7" y2="1139.1" stroke="#000" stroke-width="1.6"/>
<text x="1109.8" y="1139.1" font-size="22" text-anchor="middle" transform="rotate(-90 1109.8 1139.1)">1.0</text>
<text x="1248" y="1448.8" font-size="21.4" text-anchor="middle">DNA methylation level (oocyte)</text>
<text x="1079" y="1264" font-size="21.4" text-anchor="middle" transform="rotate(-90 1079 1264)">DNA methylation level (sperm)</text>
<path d="M1131.3 1125.0v-1.0h8.1v1.0zM1139.4 1125.0v-1.5h8.1v1.5zM1147.5 1125.0v-2.0h8.1v2.0zM1155.5 1125.0v-2.5h8.1v2.5zM1163.6 1125.0v-2.0h8.1v2.0zM1171.7 1125.0v-2.5h8.1v2.5zM1179.8 1125.0v-6.9h8.1v6.9zM1187.9 1125.0v-4.0h8.1v4.0zM1195.9 1125.0v-3.0h8.1v3.0zM1204.0 1125.0v-4.0h8.1v4.0zM1212.1 1125.0v-2.5h8.1v2.5zM1220.2 1125.0v-2.5h8.1v2.5zM1228.3 1125.0v-2.5h8.1v2.5zM1236.3 1125.0v-3.5h8.1v3.5zM1244.4 1125.0v-4.0h8.1v4.0zM1252.5 1125.0v-3.0h8.1v3.0zM1260.6 1125.0v-5.0h8.1v5.0zM1268.7 1125.0v-4.0h8.1v4.0zM1276.7 1125.0v-3.0h8.1v3.0zM1284.8 1125.0v-5.0h8.1v5.0zM1292.9 1125.0v-4.0h8.1v4.0zM1301.0 1125.0v-2.5h8.1v2.5zM1309.1 1125.0v-4.0h8.1v4.0zM1317.1 1125.0v-3.0h8.1v3.0zM1325.2 1125.0v-5.0h8.1v5.0zM1333.3 1125.0v-5.0h8.1v5.0zM1341.4 1125.0v-6.0h8.1v6.0zM1349.5 1125.0v-5.0h8.1v5.0zM1357.5 1125.0v-17.4h8.1v17.4zM1365.6 1125.0v-49.6h8.1v49.6z" fill="#EA8641" stroke="#222" stroke-width="1.1"/>
<path d="M1131.3 1125.0L1135.3 1123.3L1143.4 1123.0L1151.5 1122.6L1159.6 1122.2L1167.7 1121.6L1175.7 1120.7L1183.8 1119.9L1191.9 1119.9L1200.0 1120.4L1208.1 1120.9L1216.1 1121.4L1224.2 1121.6L1232.3 1121.4L1240.4 1121.0L1248.5 1120.7L1256.5 1120.4L1264.6 1120.2L1272.7 1120.1L1280.8 1120.2L1288.9 1120.2L1296.9 1120.4L1305.0 1120.6L1313.1 1120.6L1321.2 1120.2L1329.3 1119.4L1337.3 1118.2L1345.4 1115.5L1353.5 1109.3L1361.6 1099.7L1369.7 1089.3L1373.7 1125.0" fill="none" stroke="#111" stroke-width="1.6"/>
<line x1="1131.3" y1="1125" x2="1373.7" y2="1125" stroke="#000" stroke-width="1.2"/>
<path d="M1387.4 1372.8h5.9v8.1h-5.9zM1387.4 1364.8h5.9v8.1h-5.9zM1387.4 1356.7h2.0v8.1h-2.0zM1387.4 1348.7h1.0v8.1h-1.0zM1387.4 1340.6h1.0v8.1h-1.0zM1387.4 1332.5h1.0v8.1h-1.0zM1387.4 1324.5h1.0v8.1h-1.0zM1387.4 1316.4h1.0v8.1h-1.0zM1387.4 1308.4h1.0v8.1h-1.0zM1387.4 1300.3h1.0v8.1h-1.0zM1387.4 1292.2h1.0v8.1h-1.0zM1387.4 1284.2h1.0v8.1h-1.0zM1387.4 1276.1h2.5v8.1h-2.5zM1387.4 1268.1h1.0v8.1h-1.0zM1387.4 1260.0h1.0v8.1h-1.0zM1387.4 1251.9h1.0v8.1h-1.0zM1387.4 1243.9h1.0v8.1h-1.0zM1387.4 1235.8h1.0v8.1h-1.0zM1387.4 1227.8h2.5v8.1h-2.5zM1387.4 1219.7h4.0v8.1h-4.0zM1387.4 1211.6h4.9v8.1h-4.9zM1387.4 1203.6h5.9v8.1h-5.9zM1387.4 1195.5h14.8v8.1h-14.8zM1387.4 1187.5h4.9v8.1h-4.9zM1387.4 1179.4h5.9v8.1h-5.9zM1387.4 1171.3h7.4v8.1h-7.4zM1387.4 1163.3h10.9v8.1h-10.9zM1387.4 1155.2h9.9v8.1h-9.9zM1387.4 1147.2h17.3v8.1h-17.3zM1387.4 1139.1h49.4v8.1h-49.4z" fill="#55B594" stroke="#222" stroke-width="1.1"/>
<path d="M1387.4 1380.9L1393.4 1376.9L1392.3 1368.8L1390.9 1360.8L1389.6 1352.7L1388.9 1344.6L1388.6 1336.6L1388.6 1328.5L1388.6 1320.5L1388.6 1312.4L1388.6 1304.3L1388.8 1296.3L1389.0 1288.2L1389.1 1280.2L1389.0 1272.1L1388.8 1264.0L1388.7 1256.0L1388.9 1247.9L1389.5 1239.8L1390.6 1231.8L1392.1 1223.7L1394.0 1215.7L1396.0 1207.6L1397.1 1199.5L1396.8 1191.5L1396.5 1183.4L1397.5 1175.4L1400.4 1167.3L1405.9 1159.2L1414.0 1151.2L1423.0 1143.1L1387.4 1139.1" fill="none" stroke="#111" stroke-width="1.6"/>
<line x1="1387.4" y1="1380.9" x2="1387.4" y2="1139.1" stroke="#000" stroke-width="1.2"/>
<text x="1396.1" y="1402.5" font-size="18.5">Level</text>
<rect x="1394.6" y="1406" width="42.4" height="15.3" fill="url(#lvg)" stroke="#000" stroke-width="1.6"/>
<line x1="1407.3" y1="1418.3" x2="1407.3" y2="1425.3" stroke="#000" stroke-width="1.4"/>
<text x="1407.3" y="1445.8" font-size="19" text-anchor="middle">2</text>
<line x1="1428.5" y1="1418.3" x2="1428.5" y2="1425.3" stroke="#000" stroke-width="1.4"/>
<text x="1428.5" y="1445.8" font-size="19" text-anchor="middle">6</text>
<path d="M1594.3 1383.9L1729.0 1383.9L1732.3 1377.8L1735.7 1367.1L1737.3 1354.9L1737.0 1342.7L1734.7 1330.5L1730.4 1319.9L1725.4 1312.6L1720.8 1308.6L1708.6 1301.8L1704.3 1298.5L1699.1 1292.4L1695.9 1286.3L1694.6 1281.8L1694.1 1275.7L1696.6 1249.7L1697.0 1237.5L1696.6 1228.4L1695.2 1217.7L1692.2 1205.5L1687.5 1194.9L1682.7 1188.3L1679.6 1185.8L1676.6 1184.2L1672.0 1183.6L1667.4 1184.8L1662.9 1187.8L1655.3 1194.5L1650.7 1196.8L1647.6 1197.2L1638.5 1196.7L1632.4 1198.5L1629.3 1200.6L1626.3 1203.8L1623.2 1208.3L1620.8 1213.2L1616.5 1226.9L1614.4 1242.1L1614.3 1258.9L1616.8 1283.3L1616.0 1290.9L1612.6 1299.5L1601.1 1318.3L1596.4 1327.5L1593.0 1336.6L1590.7 1347.3L1589.9 1356.5L1590.2 1367.1L1592.0 1377.8L1594.3 1383.9Z" fill="#F8F5FB" stroke="#8a8a8a" stroke-width="0.6" fill-rule="evenodd" stroke-opacity="0.8"/>
<path d="M1600.4 1383.9L1697.8 1383.9L1701.0 1383.4L1704.9 1383.9L1721.4 1383.9L1726.2 1379.3L1730.3 1371.7L1733.1 1361.0L1733.8 1348.8L1732.2 1336.6L1730.4 1330.5L1728.4 1325.9L1725.4 1321.1L1720.8 1316.6L1716.2 1314.1L1706.1 1310.7L1701.0 1307.2L1691.8 1297.0L1688.8 1292.4L1686.6 1287.9L1685.6 1283.3L1685.6 1278.7L1690.8 1249.7L1691.4 1239.1L1690.8 1228.4L1689.0 1217.7L1685.7 1208.2L1681.2 1200.9L1676.6 1197.3L1672.0 1196.4L1667.4 1197.9L1664.4 1200.1L1656.8 1207.4L1653.7 1209.2L1649.2 1209.3L1640.0 1206.9L1637.0 1207.0L1633.9 1207.9L1630.9 1209.9L1627.9 1213.2L1623.6 1220.8L1621.5 1226.9L1619.8 1234.5L1618.4 1248.2L1619.0 1261.9L1622.0 1281.8L1621.7 1289.7L1618.4 1298.5L1605.4 1321.4L1600.8 1330.5L1597.4 1339.7L1595.4 1348.8L1594.6 1359.5L1595.3 1368.7L1597.9 1379.3L1599.7 1383.9L1600.4 1383.9Z" fill="#EEE8F5" stroke="#8a8a8a" stroke-width="0.6" fill-rule="evenodd" stroke-opacity="0.8"/>
<path d="M1608.0 1383.9L1681.4 1383.9L1693.3 1374.4L1697.9 1372.0L1702.5 1372.5L1711.6 1377.2L1714.7 1377.8L1717.7 1377.5L1722.3 1374.7L1724.7 1371.7L1727.0 1367.1L1728.4 1362.6L1729.5 1356.5L1729.5 1345.8L1727.1 1335.1L1724.9 1330.5L1722.3 1326.9L1719.3 1324.4L1716.2 1322.9L1713.2 1322.3L1705.5 1322.2L1701.0 1320.6L1697.9 1318.0L1682.7 1301.5L1675.1 1294.4L1669.0 1290.3L1655.4 1284.8L1653.4 1283.3L1651.4 1280.2L1650.9 1275.7L1651.9 1271.1L1653.7 1266.2L1656.8 1261.0L1658.3 1260.0L1659.8 1260.0L1667.4 1265.5L1670.5 1266.8L1672.0 1266.9L1675.1 1265.7L1676.6 1264.3L1679.2 1260.4L1681.2 1256.0L1682.8 1249.7L1683.6 1243.6L1683.4 1231.4L1682.1 1225.3L1680.5 1220.8L1678.1 1216.7L1675.1 1214.1L1672.0 1213.5L1669.0 1214.6L1667.4 1215.8L1664.4 1219.2L1659.8 1226.0L1656.8 1229.1L1655.3 1229.4L1653.7 1229.0L1644.6 1221.4L1641.5 1219.7L1638.5 1219.0L1635.4 1219.4L1632.4 1221.3L1629.3 1225.1L1627.0 1229.9L1624.3 1240.6L1623.6 1252.8L1624.9 1265.0L1629.3 1281.8L1629.1 1287.9L1626.8 1294.0L1616.2 1312.2L1607.0 1330.5L1602.8 1341.2L1600.4 1351.9L1600.0 1361.0L1601.1 1370.2L1604.3 1379.3L1607.0 1383.9L1608.0 1383.9Z" fill="#E3DAEE" stroke="#8a8a8a" stroke-width="0.6" fill-rule="evenodd" stroke-opacity="0.8"/>
<path d="M1615.6 1383.9L1672.1 1383.9L1681.7 1374.8L1694.9 1358.7L1697.9 1356.2L1699.4 1356.1L1701.0 1356.9L1708.2 1365.6L1711.6 1368.4L1714.7 1369.5L1717.7 1369.2L1720.7 1367.1L1722.3 1365.0L1724.9 1358.0L1725.5 1348.8L1724.9 1344.3L1723.6 1339.7L1722.1 1336.6L1719.3 1333.2L1717.7 1332.2L1714.7 1331.4L1710.1 1332.3L1702.5 1336.8L1701.0 1337.1L1699.4 1336.5L1696.4 1332.9L1690.4 1322.9L1684.7 1315.3L1677.5 1307.7L1670.5 1301.6L1661.3 1296.1L1650.7 1291.8L1643.1 1290.0L1638.5 1290.9L1635.4 1292.8L1630.9 1297.4L1625.3 1304.6L1621.5 1310.7L1616.8 1319.9L1611.6 1332.1L1606.4 1347.3L1605.0 1358.0L1606.1 1368.7L1607.6 1373.2L1609.8 1377.8L1613.3 1382.4L1614.8 1383.9L1615.6 1383.9ZM1635.4 1268.7L1637.0 1269.5L1638.5 1269.4L1641.5 1267.0L1644.6 1260.5L1646.1 1252.8L1646.1 1246.7L1644.6 1240.1L1641.5 1234.9L1638.5 1233.0L1635.4 1233.7L1632.4 1237.3L1630.6 1242.1L1629.7 1248.2L1629.8 1254.3L1630.9 1260.5L1632.6 1265.0L1635.4 1268.7Z" fill="#D9CCE8" stroke="#8a8a8a" stroke-width="0.6" fill-rule="evenodd" stroke-opacity="0.8"/>
<path d="M1623.2 1383.9L1665.9 1383.9L1670.8 1379.3L1677.0 1371.7L1682.0 1364.1L1686.3 1354.9L1688.2 1347.3L1688.2 1339.7L1686.2 1332.1L1682.5 1324.4L1676.1 1315.3L1669.1 1307.7L1661.3 1301.8L1653.7 1298.2L1647.6 1296.6L1643.1 1296.5L1638.5 1297.7L1633.9 1300.6L1629.3 1305.2L1624.4 1312.2L1620.6 1319.9L1616.5 1330.5L1610.8 1348.8L1609.8 1356.5L1609.9 1362.6L1611.2 1368.7L1614.1 1375.2L1618.6 1380.9L1622.2 1383.9L1623.2 1383.9ZM1714.7 1358.2L1716.2 1358.3L1718.4 1356.5L1719.5 1353.4L1719.7 1350.4L1719.3 1347.2L1717.7 1344.3L1716.2 1343.2L1714.7 1343.0L1713.2 1343.9L1711.8 1345.8L1710.9 1350.4L1711.8 1354.9L1713.2 1357.1L1714.7 1358.2Z" fill="#CFBEE2" stroke="#8a8a8a" stroke-width="0.6" fill-rule="evenodd" stroke-opacity="0.8"/>
<path d="M1629.3 1383.9L1660.7 1383.9L1666.0 1379.3L1671.9 1371.7L1676.0 1364.1L1679.4 1354.9L1680.8 1347.3L1680.7 1339.7L1679.0 1332.1L1675.7 1324.4L1669.9 1315.3L1664.4 1309.2L1658.3 1304.6L1650.7 1301.4L1644.6 1300.8L1640.0 1301.7L1635.4 1304.1L1630.2 1309.2L1626.1 1315.3L1622.6 1322.9L1616.5 1342.7L1614.8 1350.4L1614.1 1356.5L1614.4 1362.6L1615.3 1367.1L1618.0 1373.2L1621.3 1377.8L1626.3 1382.4L1628.5 1383.9L1629.3 1383.9Z" fill="#C4B1DB" stroke="#8a8a8a" stroke-width="0.6" fill-rule="evenodd" stroke-opacity="0.8"/>
<path d="M1635.4 1383.9L1655.2 1383.9L1659.8 1381.0L1664.7 1376.3L1669.7 1368.7L1672.7 1361.0L1674.6 1353.4L1675.3 1345.8L1674.8 1338.2L1673.1 1330.5L1670.0 1322.9L1666.3 1316.8L1660.8 1310.7L1655.3 1306.9L1649.2 1304.8L1643.1 1304.7L1638.5 1306.3L1633.9 1309.6L1630.3 1313.8L1626.8 1319.9L1624.4 1326.0L1618.8 1348.8L1618.0 1354.9L1618.1 1361.0L1618.9 1365.6L1620.6 1370.2L1623.3 1374.8L1627.5 1379.3L1632.4 1382.8L1635.4 1383.9Z" fill="#BAA3D5" stroke="#8a8a8a" stroke-width="0.6" fill-rule="evenodd" stroke-opacity="0.8"/>
<path d="M1638.5 1382.6L1643.1 1383.6L1649.2 1383.3L1655.3 1380.9L1659.5 1377.8L1663.6 1373.2L1667.0 1367.1L1669.1 1361.0L1670.6 1353.4L1671.0 1345.8L1670.2 1336.6L1668.4 1329.0L1665.9 1322.9L1662.1 1316.8L1658.3 1312.9L1653.7 1309.8L1647.6 1307.9L1643.1 1308.1L1638.5 1309.9L1633.9 1313.7L1630.6 1318.3L1627.7 1324.4L1625.8 1330.5L1621.6 1351.9L1621.5 1361.0L1622.4 1365.6L1624.2 1370.2L1627.1 1374.8L1630.1 1377.8L1633.9 1380.6L1638.5 1382.6Z" fill="#AF95CE" stroke="#8a8a8a" stroke-width="0.6" fill-rule="evenodd" stroke-opacity="0.8"/>
<path d="M1643.1 1381.1L1647.6 1381.0L1652.2 1379.7L1656.8 1376.9L1659.8 1373.8L1663.3 1368.7L1665.2 1364.1L1666.7 1358.0L1667.4 1351.9L1667.3 1342.7L1666.4 1335.1L1664.9 1329.0L1662.3 1322.9L1659.3 1318.3L1655.3 1314.4L1650.7 1311.9L1646.1 1311.1L1641.5 1311.9L1638.5 1313.5L1634.9 1316.8L1631.9 1321.4L1629.3 1327.5L1627.7 1333.6L1625.4 1345.8L1624.3 1354.9L1625.1 1364.1L1626.7 1368.7L1628.4 1371.7L1630.9 1374.8L1635.4 1378.5L1638.5 1379.9L1643.1 1381.1Z" fill="#A587C8" stroke="#8a8a8a" stroke-width="0.6" fill-rule="evenodd" stroke-opacity="0.8"/>
<path d="M1641.5 1378.2L1646.1 1378.6L1649.2 1378.1L1653.7 1376.0L1657.0 1373.2L1659.4 1370.2L1661.8 1365.6L1663.3 1361.0L1664.2 1354.9L1663.8 1339.7L1662.9 1333.6L1661.1 1327.5L1658.8 1322.9L1655.3 1318.5L1652.2 1316.2L1647.6 1314.6L1643.1 1314.9L1640.0 1316.2L1637.0 1318.8L1634.0 1322.9L1632.0 1327.5L1630.3 1333.6L1627.3 1351.9L1627.3 1361.0L1629.7 1368.7L1631.7 1371.7L1634.6 1374.8L1638.5 1377.2L1641.5 1378.2Z" fill="#9A7AC1" stroke="#8a8a8a" stroke-width="0.6" fill-rule="evenodd" stroke-opacity="0.8"/>
<path d="M1640.0 1375.0L1643.1 1375.8L1647.6 1375.7L1650.7 1374.7L1653.7 1372.8L1656.3 1370.2L1658.3 1367.1L1660.2 1362.6L1661.2 1358.0L1661.6 1351.9L1661.3 1344.3L1660.4 1336.6L1658.9 1330.5L1656.8 1325.6L1653.7 1321.5L1650.7 1319.2L1647.6 1318.2L1644.6 1318.2L1641.5 1319.2L1638.5 1321.7L1636.4 1324.4L1634.3 1329.0L1633.0 1333.6L1630.3 1348.8L1629.7 1358.0L1631.3 1365.6L1632.8 1368.7L1635.2 1371.7L1640.0 1375.0Z" fill="#906CBB" stroke="#8a8a8a" stroke-width="0.6" fill-rule="evenodd" stroke-opacity="0.8"/>
<path d="M1640.0 1371.8L1643.1 1372.9L1646.1 1373.1L1649.2 1372.3L1652.2 1370.5L1656.1 1365.6L1658.4 1358.0L1658.6 1347.3L1656.5 1333.6L1654.8 1329.0L1652.9 1326.0L1650.7 1323.8L1647.6 1322.3L1643.1 1322.8L1640.0 1325.2L1638.3 1327.5L1635.5 1335.1L1633.2 1347.3L1632.4 1356.5L1633.1 1362.6L1635.4 1367.7L1637.6 1370.2L1640.0 1371.8Z" fill="#865EB5" stroke="#8a8a8a" stroke-width="0.6" fill-rule="evenodd" stroke-opacity="0.8"/>
<path d="M1641.5 1369.0L1646.1 1369.8L1650.7 1367.7L1652.6 1365.6L1654.3 1362.6L1655.7 1356.5L1655.3 1345.8L1653.1 1335.1L1650.7 1330.2L1649.2 1328.6L1646.1 1327.5L1643.1 1328.5L1640.0 1332.6L1637.8 1339.7L1635.5 1351.9L1635.3 1358.0L1636.2 1362.6L1638.5 1366.6L1641.5 1369.0Z" fill="#7B50AE" stroke="#8a8a8a" stroke-width="0.6" fill-rule="evenodd" stroke-opacity="0.8"/>
<path d="M1643.1 1365.0L1646.1 1365.4L1649.2 1363.8L1651.0 1361.0L1652.2 1356.5L1652.0 1350.4L1650.7 1343.9L1649.1 1339.7L1647.6 1337.7L1646.1 1336.9L1644.6 1337.4L1643.1 1339.2L1641.5 1342.5L1638.8 1353.4L1638.8 1358.0L1639.6 1361.0L1641.5 1364.0L1643.1 1365.0Z" fill="#7143A8" stroke="#8a8a8a" stroke-width="0.6" fill-rule="evenodd" stroke-opacity="0.8"/>
<path d="M1692.2 1186.3a3.6 3.6 0 1 0 7.2 0a3.6 3.6 0 1 0 -7.2 0M1645.8 1205.4a3.6 3.6 0 1 0 7.2 0a3.6 3.6 0 1 0 -7.2 0M1727.9 1244.5a3.6 3.6 0 1 0 7.2 0a3.6 3.6 0 1 0 -7.2 0M1699.8 1257.2a3.6 3.6 0 1 0 7.2 0a3.6 3.6 0 1 0 -7.2 0M1720.1 1301.5a3.6 3.6 0 1 0 7.2 0a3.6 3.6 0 1 0 -7.2 0M1740.4 1312.2a3.6 3.6 0 1 0 7.2 0a3.6 3.6 0 1 0 -7.2 0M1746.1 1340.9a3.6 3.6 0 1 0 7.2 0a3.6 3.6 0 1 0 -7.2 0M1800.9 1383.9a3.6 3.6 0 1 0 7.2 0a3.6 3.6 0 1 0 -7.2 0M1611.9 1383.9a3.6 3.6 0 1 0 7.2 0a3.6 3.6 0 1 0 -7.2 0M1627.6 1383.9a3.6 3.6 0 1 0 7.2 0a3.6 3.6 0 1 0 -7.2 0M1638.0 1383.9a3.6 3.6 0 1 0 7.2 0a3.6 3.6 0 1 0 -7.2 0M1653.6 1383.9a3.6 3.6 0 1 0 7.2 0a3.6 3.6 0 1 0 -7.2 0M1660.1 1383.9a3.6 3.6 0 1 0 7.2 0a3.6 3.6 0 1 0 -7.2 0M1716.2 1383.9a3.6 3.6 0 1 0 7.2 0a3.6 3.6 0 1 0 -7.2 0" fill="#C9C9C9"/>
<rect x="1575.9" y="1129.5" width="266.9" height="266.6" fill="none" stroke="#000" stroke-width="1.9"/>
<line x1="1588.2" y1="1396.1" x2="1588.2" y2="1401.6" stroke="#000" stroke-width="1.6"/>
<text x="1585.2" y="1423.2" font-size="22" text-anchor="middle">0.0</text>
<line x1="1669" y1="1396.1" x2="1669" y2="1401.6" stroke="#000" stroke-width="1.6"/>
<text x="1666" y="1423.2" font-size="22" text-anchor="middle">0.2</text>
<line x1="1749.7" y1="1396.1" x2="1749.7" y2="1401.6" stroke="#000" stroke-width="1.6"/>
<text x="1746.7" y="1423.2" font-size="22" text-anchor="middle">0.4</text>
<line x1="1830.5" y1="1396.1" x2="1830.5" y2="1401.6" stroke="#000" stroke-width="1.6"/>
<text x="1827.5" y="1423.2" font-size="22" text-anchor="middle">0.6</text>
<line x1="1570.4" y1="1383.9" x2="1575.9" y2="1383.9" stroke="#000" stroke-width="1.6"/>
<text x="1566" y="1383.9" font-size="22" text-anchor="middle" transform="rotate(-90 1566 1383.9)">0.0</text>
<line x1="1570.4" y1="1303.1" x2="1575.9" y2="1303.1" stroke="#000" stroke-width="1.6"/>
<text x="1566" y="1303.1" font-size="22" text-anchor="middle" transform="rotate(-90 1566 1303.1)">0.2</text>
<line x1="1570.4" y1="1222.3" x2="1575.9" y2="1222.3" stroke="#000" stroke-width="1.6"/>
<text x="1566" y="1222.3" font-size="22" text-anchor="middle" transform="rotate(-90 1566 1222.3)">0.4</text>
<line x1="1570.4" y1="1141.5" x2="1575.9" y2="1141.5" stroke="#000" stroke-width="1.6"/>
<text x="1566" y="1141.5" font-size="22" text-anchor="middle" transform="rotate(-90 1566 1141.5)">0.6</text>
<text x="1711" y="1444.4" font-size="21.4" text-anchor="middle">H3K9me3 signal (oocyte)</text>
<text x="1534" y="1253.5" font-size="21.4" text-anchor="middle" transform="rotate(-90 1534 1253.5)">H3K9me3 signal (Sperm)</text>
<path d="M1588.2 1127.7v-1.5h8.1v1.5zM1596.3 1127.7v-2.9h8.1v2.9zM1604.4 1127.7v-7.3h8.1v7.3zM1612.4 1127.7v-12.2h8.1v12.2zM1620.5 1127.7v-17.1h8.1v17.1zM1628.6 1127.7v-24.5h8.1v24.5zM1636.7 1127.7v-49.0h8.1v49.0zM1644.7 1127.7v-45.1h8.1v45.1zM1652.8 1127.7v-14.7h8.1v14.7zM1660.9 1127.7v-33.3h8.1v33.3zM1669.0 1127.7v-30.4h8.1v30.4zM1677.0 1127.7v-25.5h8.1v25.5zM1685.1 1127.7v-2.5h8.1v2.5zM1693.2 1127.7v-5.9h8.1v5.9zM1701.3 1127.7v-1.5h8.1v1.5zM1709.3 1127.7v-8.3h8.1v8.3zM1717.4 1127.7v-4.9h8.1v4.9zM1725.5 1127.7v-1.5h8.1v1.5zM1733.6 1127.7v-1.5h8.1v1.5zM1741.7 1127.7v-1.0h8.1v1.0zM1749.7 1127.7v-0.8h8.1v0.8zM1757.8 1127.7v-0.8h8.1v0.8zM1765.9 1127.7v-0.8h8.1v0.8zM1774.0 1127.7v-0.8h8.1v0.8zM1782.0 1127.7v-0.8h8.1v0.8zM1790.1 1127.7v-0.8h8.1v0.8zM1798.2 1127.7v-1.5h8.1v1.5zM1806.3 1127.7v-0.8h8.1v0.8zM1814.3 1127.7v-0.8h8.1v0.8zM1822.4 1127.7v-0.8h8.1v0.8z" fill="#EA8641" stroke="#222" stroke-width="1.1"/>
<path d="M1588.2 1127.7L1592.2 1124.1L1600.3 1122.1L1608.4 1118.9L1616.5 1113.9L1624.5 1106.9L1632.6 1098.7L1640.7 1092.7L1648.8 1092.4L1656.9 1095.7L1664.9 1098.6L1673.0 1101.9L1681.1 1107.9L1689.2 1115.2L1697.2 1120.3L1705.3 1122.3L1713.4 1122.8L1721.5 1123.5L1729.5 1124.8L1737.6 1125.9L1745.7 1126.6L1753.8 1126.9L1761.8 1127.1L1769.9 1127.2L1778.0 1127.2L1786.1 1127.1L1794.2 1127.0L1802.2 1126.9L1810.3 1127.0L1818.4 1127.1L1826.5 1127.2L1830.5 1127.7" fill="none" stroke="#111" stroke-width="1.6"/>
<line x1="1588.2" y1="1127.7" x2="1830.5" y2="1127.7" stroke="#000" stroke-width="1.2"/>
<path d="M1844.9 1375.8h35.1v8.1h-35.1zM1844.9 1367.7h49.5v8.1h-49.5zM1844.9 1359.7h49.5v8.1h-49.5zM1844.9 1351.6h24.8v8.1h-24.8zM1844.9 1343.5h20.8v8.1h-20.8zM1844.9 1335.4h34.6v8.1h-34.6zM1844.9 1327.3h43.1v8.1h-43.1zM1844.9 1319.3h27.2v8.1h-27.2zM1844.9 1311.2h16.3v8.1h-16.3zM1844.9 1303.1h8.4v8.1h-8.4zM1844.9 1295.0h5.9v8.1h-5.9zM1844.9 1286.9h9.9v8.1h-9.9zM1844.9 1278.9h5.0v8.1h-5.0zM1844.9 1270.8h5.9v8.1h-5.9zM1844.9 1262.7h5.9v8.1h-5.9zM1844.9 1254.6h5.0v8.1h-5.0zM1844.9 1246.5h5.9v8.1h-5.9zM1844.9 1238.5h5.9v8.1h-5.9zM1844.9 1230.4h2.5v8.1h-2.5zM1844.9 1222.3h7.4v8.1h-7.4zM1844.9 1214.2h2.0v8.1h-2.0zM1844.9 1206.1h3.0v8.1h-3.0zM1844.9 1198.1h2.0v8.1h-2.0zM1844.9 1190.0h2.5v8.1h-2.5zM1844.9 1181.9h1.5v8.1h-1.5zM1844.9 1173.8h0.8v8.1h-0.8zM1844.9 1165.7h0.8v8.1h-0.8zM1844.9 1157.7h0.8v8.1h-0.8zM1844.9 1149.6h0.8v8.1h-0.8zM1844.9 1141.5h0.8v8.1h-0.8z" fill="#55B594" stroke="#222" stroke-width="1.1"/>
<path d="M1844.9 1383.9L1880.5 1379.9L1880.5 1371.8L1877.9 1363.7L1873.7 1355.6L1871.3 1347.5L1871.7 1339.5L1871.3 1331.4L1867.3 1323.3L1861.1 1315.2L1855.7 1307.1L1852.7 1299.1L1851.3 1291.0L1850.6 1282.9L1850.0 1274.8L1849.8 1266.7L1849.6 1258.7L1849.5 1250.6L1849.2 1242.5L1848.9 1234.4L1848.5 1226.3L1848.0 1218.3L1847.4 1210.2L1846.9 1202.1L1846.5 1194.0L1846.1 1185.9L1845.7 1177.9L1845.5 1169.8L1845.4 1161.7L1845.3 1153.6L1845.3 1145.5L1844.9 1141.5" fill="none" stroke="#111" stroke-width="1.6"/>
<line x1="1844.9" y1="1383.9" x2="1844.9" y2="1141.5" stroke="#000" stroke-width="1.2"/>
<text x="1854.5" y="1405.2" font-size="18.5">Level</text>
<rect x="1853" y="1408.7" width="41.4" height="16.1" fill="url(#lvg)" stroke="#000" stroke-width="1.6"/>
<line x1="1858.4" y1="1421.8" x2="1858.4" y2="1428.8" stroke="#000" stroke-width="1.4"/>
<text x="1858.4" y="1448.3" font-size="19" text-anchor="middle">5</text>
<line x1="1886.5" y1="1421.8" x2="1886.5" y2="1428.8" stroke="#000" stroke-width="1.4"/>
<text x="1886.5" y="1448.3" font-size="19" text-anchor="middle">20</text>
<path d="M198.2 1668.8L210.4 1669.0L218.0 1668.0L224.1 1666.6L231.7 1663.9L251.5 1654.9L279.0 1647.4L294.2 1641.8L304.5 1636.2L310.4 1631.0L312.2 1628.4L313.5 1624.5L313.4 1621.9L312.6 1619.3L309.9 1615.5L305.2 1611.6L298.2 1607.7L289.6 1604.2L277.4 1600.6L266.8 1598.1L251.5 1595.5L237.8 1593.7L224.1 1592.6L210.4 1592.3L196.7 1592.6L184.5 1593.6L164.7 1596.9L155.5 1599.3L144.9 1603.1L135.6 1607.7L128.1 1613.1L128.1 1640.4L137.2 1645.9L160.1 1654.9L179.9 1664.3L187.5 1666.8L198.2 1668.8Z" fill="#F8F5FB" stroke="#8a8a8a" stroke-width="0.6" fill-rule="evenodd" stroke-opacity="0.8"/>
<path d="M204.3 1664.7L213.4 1664.2L222.6 1661.9L230.2 1658.5L240.9 1651.9L246.6 1649.1L272.9 1641.7L285.1 1636.9L292.6 1632.3L296.3 1628.4L297.6 1625.8L298.0 1623.2L297.0 1619.3L293.8 1615.5L289.6 1612.4L283.0 1609.0L274.4 1605.7L254.6 1600.4L230.2 1596.6L208.9 1595.6L187.5 1596.7L178.4 1598.0L167.7 1600.3L158.6 1603.2L152.5 1605.8L146.8 1609.0L143.5 1611.6L140.9 1614.2L138.5 1618.1L137.5 1621.9L137.8 1625.8L139.5 1629.7L141.4 1632.3L147.5 1637.5L164.7 1646.9L176.4 1655.6L182.8 1659.5L192.1 1663.1L198.2 1664.3L204.3 1664.7Z" fill="#E2D8ED" stroke="#8a8a8a" stroke-width="0.6" fill-rule="evenodd" stroke-opacity="0.8"/>
<path d="M198.2 1657.2L207.3 1658.0L211.9 1657.4L216.5 1656.2L222.5 1653.0L231.7 1645.3L236.3 1642.7L259.2 1636.0L266.8 1633.0L272.4 1629.7L275.1 1627.1L276.8 1623.2L275.9 1619.3L273.9 1616.8L268.8 1612.9L257.8 1607.7L242.4 1603.2L225.6 1600.4L207.3 1599.5L190.6 1600.5L175.3 1603.3L163.4 1607.7L157.4 1611.6L154.1 1615.5L153.1 1619.3L153.5 1621.9L154.8 1624.5L157.1 1627.2L161.6 1630.7L178.1 1640.1L180.6 1642.7L186.2 1650.4L189.0 1653.0L193.4 1655.6L198.2 1657.2Z" fill="#CBBADF" stroke="#8a8a8a" stroke-width="0.6" fill-rule="evenodd" stroke-opacity="0.8"/>
<path d="M204.3 1641.8L205.8 1642.4L208.9 1642.1L217.3 1638.8L240.9 1632.8L250.2 1629.7L254.9 1627.1L257.7 1624.5L259.0 1621.9L258.3 1618.1L256.3 1615.5L253.0 1612.9L245.2 1609.0L234.8 1605.8L221.1 1603.5L207.3 1602.8L195.2 1603.5L183.0 1605.5L173.8 1608.5L168.3 1611.6L164.8 1615.5L164.2 1619.3L166.2 1623.2L169.1 1625.8L173.8 1628.6L196.7 1637.5L204.3 1641.8Z" fill="#B49CD2" stroke="#8a8a8a" stroke-width="0.6" fill-rule="evenodd" stroke-opacity="0.8"/>
<path d="M199.7 1631.2L207.3 1631.9L216.5 1631.7L225.6 1630.6L233.2 1628.9L239.3 1626.7L243.9 1624.1L246.5 1620.6L246.4 1618.1L243.4 1614.2L239.2 1611.6L231.7 1608.7L222.6 1606.8L213.4 1605.8L202.8 1605.7L193.6 1606.6L186.0 1608.2L178.4 1611.2L174.4 1614.2L172.9 1616.8L173.0 1619.3L173.6 1620.6L176.9 1623.8L183.0 1627.0L190.6 1629.4L199.7 1631.2Z" fill="#9E7EC4" stroke="#8a8a8a" stroke-width="0.6" fill-rule="evenodd" stroke-opacity="0.8"/>
<path d="M199.7 1627.2L213.4 1627.8L225.6 1626.0L230.3 1624.5L234.8 1621.9L235.9 1620.6L236.5 1618.1L235.1 1615.5L231.5 1612.9L227.2 1611.1L221.1 1609.6L213.4 1608.6L205.8 1608.3L198.2 1608.9L192.1 1610.0L187.2 1611.6L182.7 1614.2L180.9 1616.8L181.2 1619.3L183.6 1621.9L187.5 1624.1L193.6 1626.1L199.7 1627.2Z" fill="#8760B6" stroke="#8a8a8a" stroke-width="0.6" fill-rule="evenodd" stroke-opacity="0.8"/>
<path d="M199.7 1623.5L208.9 1624.3L218.0 1623.4L222.6 1622.0L225.0 1620.6L226.3 1619.3L226.7 1618.1L225.1 1615.5L223.1 1614.2L216.5 1612.1L207.3 1611.3L198.2 1612.2L192.1 1614.3L190.5 1615.5L189.7 1616.8L189.6 1618.1L190.2 1619.3L192.1 1620.8L199.7 1623.5Z" fill="#7143A8" stroke="#8a8a8a" stroke-width="0.6" fill-rule="evenodd" stroke-opacity="0.8"/>
<path d="M123.6 1581.7a3.6 3.6 0 1 0 7.2 0a3.6 3.6 0 1 0 -7.2 0M134.0 1581.1a3.6 3.6 0 1 0 7.2 0a3.6 3.6 0 1 0 -7.2 0M141.5 1581.7a3.6 3.6 0 1 0 7.2 0a3.6 3.6 0 1 0 -7.2 0M146.0 1583.2a3.6 3.6 0 1 0 7.2 0a3.6 3.6 0 1 0 -7.2 0M153.5 1581.7a3.6 3.6 0 1 0 7.2 0a3.6 3.6 0 1 0 -7.2 0M175.9 1581.7a3.6 3.6 0 1 0 7.2 0a3.6 3.6 0 1 0 -7.2 0M124.5 1587.6a3.6 3.6 0 1 0 7.2 0a3.6 3.6 0 1 0 -7.2 0M128.1 1593.6a3.6 3.6 0 1 0 7.2 0a3.6 3.6 0 1 0 -7.2 0M132.5 1596.6a3.6 3.6 0 1 0 7.2 0a3.6 3.6 0 1 0 -7.2 0M123.6 1602.6a3.6 3.6 0 1 0 7.2 0a3.6 3.6 0 1 0 -7.2 0M129.6 1605.6a3.6 3.6 0 1 0 7.2 0a3.6 3.6 0 1 0 -7.2 0M139.4 1605.6a3.6 3.6 0 1 0 7.2 0a3.6 3.6 0 1 0 -7.2 0M183.4 1593.0a3.6 3.6 0 1 0 7.2 0a3.6 3.6 0 1 0 -7.2 0M202.9 1593.6a3.6 3.6 0 1 0 7.2 0a3.6 3.6 0 1 0 -7.2 0M208.8 1593.6a3.6 3.6 0 1 0 7.2 0a3.6 3.6 0 1 0 -7.2 0M229.8 1594.2a3.6 3.6 0 1 0 7.2 0a3.6 3.6 0 1 0 -7.2 0M241.8 1596.0a3.6 3.6 0 1 0 7.2 0a3.6 3.6 0 1 0 -7.2 0M253.7 1595.7a3.6 3.6 0 1 0 7.2 0a3.6 3.6 0 1 0 -7.2 0M285.1 1598.7a3.6 3.6 0 1 0 7.2 0a3.6 3.6 0 1 0 -7.2 0M312.1 1592.1a3.6 3.6 0 1 0 7.2 0a3.6 3.6 0 1 0 -7.2 0M309.7 1596.6a3.6 3.6 0 1 0 7.2 0a3.6 3.6 0 1 0 -7.2 0M333.9 1596.6a3.6 3.6 0 1 0 7.2 0a3.6 3.6 0 1 0 -7.2 0M360.0 1582.6a3.6 3.6 0 1 0 7.2 0a3.6 3.6 0 1 0 -7.2 0M351.0 1611.6a3.6 3.6 0 1 0 7.2 0a3.6 3.6 0 1 0 -7.2 0M295.6 1603.2a3.6 3.6 0 1 0 7.2 0a3.6 3.6 0 1 0 -7.2 0M297.1 1608.6a3.6 3.6 0 1 0 7.2 0a3.6 3.6 0 1 0 -7.2 0M300.1 1619.4a3.6 3.6 0 1 0 7.2 0a3.6 3.6 0 1 0 -7.2 0M304.6 1619.1a3.6 3.6 0 1 0 7.2 0a3.6 3.6 0 1 0 -7.2 0M304.6 1628.6a3.6 3.6 0 1 0 7.2 0a3.6 3.6 0 1 0 -7.2 0M327.0 1625.0a3.6 3.6 0 1 0 7.2 0a3.6 3.6 0 1 0 -7.2 0M330.9 1631.9a3.6 3.6 0 1 0 7.2 0a3.6 3.6 0 1 0 -7.2 0M345.0 1632.5a3.6 3.6 0 1 0 7.2 0a3.6 3.6 0 1 0 -7.2 0M134.0 1634.0a3.6 3.6 0 1 0 7.2 0a3.6 3.6 0 1 0 -7.2 0M141.5 1629.5a3.6 3.6 0 1 0 7.2 0a3.6 3.6 0 1 0 -7.2 0M138.5 1627.1a3.6 3.6 0 1 0 7.2 0a3.6 3.6 0 1 0 -7.2 0M283.7 1629.5a3.6 3.6 0 1 0 7.2 0a3.6 3.6 0 1 0 -7.2 0M291.1 1640.0a3.6 3.6 0 1 0 7.2 0a3.6 3.6 0 1 0 -7.2 0M364.4 1652.0a3.6 3.6 0 1 0 7.2 0a3.6 3.6 0 1 0 -7.2 0M149.0 1647.5a3.6 3.6 0 1 0 7.2 0a3.6 3.6 0 1 0 -7.2 0M150.5 1652.0a3.6 3.6 0 1 0 7.2 0a3.6 3.6 0 1 0 -7.2 0M155.0 1655.0a3.6 3.6 0 1 0 7.2 0a3.6 3.6 0 1 0 -7.2 0M162.5 1656.5a3.6 3.6 0 1 0 7.2 0a3.6 3.6 0 1 0 -7.2 0M184.9 1660.1a3.6 3.6 0 1 0 7.2 0a3.6 3.6 0 1 0 -7.2 0M205.9 1656.5a3.6 3.6 0 1 0 7.2 0a3.6 3.6 0 1 0 -7.2 0M211.8 1656.5a3.6 3.6 0 1 0 7.2 0a3.6 3.6 0 1 0 -7.2 0M235.8 1658.6a3.6 3.6 0 1 0 7.2 0a3.6 3.6 0 1 0 -7.2 0M250.7 1650.8a3.6 3.6 0 1 0 7.2 0a3.6 3.6 0 1 0 -7.2 0M253.7 1649.0a3.6 3.6 0 1 0 7.2 0a3.6 3.6 0 1 0 -7.2 0M262.1 1647.5a3.6 3.6 0 1 0 7.2 0a3.6 3.6 0 1 0 -7.2 0M262.7 1661.0a3.6 3.6 0 1 0 7.2 0a3.6 3.6 0 1 0 -7.2 0M265.7 1663.0a3.6 3.6 0 1 0 7.2 0a3.6 3.6 0 1 0 -7.2 0M279.2 1664.5a3.6 3.6 0 1 0 7.2 0a3.6 3.6 0 1 0 -7.2 0M129.6 1661.8a3.6 3.6 0 1 0 7.2 0a3.6 3.6 0 1 0 -7.2 0M125.1 1669.9a3.6 3.6 0 1 0 7.2 0a3.6 3.6 0 1 0 -7.2 0M148.4 1665.4a3.6 3.6 0 1 0 7.2 0a3.6 3.6 0 1 0 -7.2 0M156.5 1661.8a3.6 3.6 0 1 0 7.2 0a3.6 3.6 0 1 0 -7.2 0M178.9 1669.3a3.6 3.6 0 1 0 7.2 0a3.6 3.6 0 1 0 -7.2 0M209.4 1663.0a3.6 3.6 0 1 0 7.2 0a3.6 3.6 0 1 0 -7.2 0M244.8 1672.9a3.6 3.6 0 1 0 7.2 0a3.6 3.6 0 1 0 -7.2 0M252.2 1666.0a3.6 3.6 0 1 0 7.2 0a3.6 3.6 0 1 0 -7.2 0M262.7 1673.5a3.6 3.6 0 1 0 7.2 0a3.6 3.6 0 1 0 -7.2 0M321.1 1661.8a3.6 3.6 0 1 0 7.2 0a3.6 3.6 0 1 0 -7.2 0M313.6 1673.8a3.6 3.6 0 1 0 7.2 0a3.6 3.6 0 1 0 -7.2 0M324.0 1679.8a3.6 3.6 0 1 0 7.2 0a3.6 3.6 0 1 0 -7.2 0M159.5 1684.9a3.6 3.6 0 1 0 7.2 0a3.6 3.6 0 1 0 -7.2 0M162.5 1689.4a3.6 3.6 0 1 0 7.2 0a3.6 3.6 0 1 0 -7.2 0M195.4 1687.0a3.6 3.6 0 1 0 7.2 0a3.6 3.6 0 1 0 -7.2 0M202.9 1681.9a3.6 3.6 0 1 0 7.2 0a3.6 3.6 0 1 0 -7.2 0M207.4 1684.9a3.6 3.6 0 1 0 7.2 0a3.6 3.6 0 1 0 -7.2 0M215.7 1681.0a3.6 3.6 0 1 0 7.2 0a3.6 3.6 0 1 0 -7.2 0M223.8 1690.9a3.6 3.6 0 1 0 7.2 0a3.6 3.6 0 1 0 -7.2 0M244.2 1688.5a3.6 3.6 0 1 0 7.2 0a3.6 3.6 0 1 0 -7.2 0M130.2 1698.4a3.6 3.6 0 1 0 7.2 0a3.6 3.6 0 1 0 -7.2 0M151.4 1696.9a3.6 3.6 0 1 0 7.2 0a3.6 3.6 0 1 0 -7.2 0M154.1 1707.9a3.6 3.6 0 1 0 7.2 0a3.6 3.6 0 1 0 -7.2 0M195.4 1704.3a3.6 3.6 0 1 0 7.2 0a3.6 3.6 0 1 0 -7.2 0M195.4 1696.9a3.6 3.6 0 1 0 7.2 0a3.6 3.6 0 1 0 -7.2 0M248.6 1697.5a3.6 3.6 0 1 0 7.2 0a3.6 3.6 0 1 0 -7.2 0M366.5 1694.5a3.6 3.6 0 1 0 7.2 0a3.6 3.6 0 1 0 -7.2 0M196.3 1737.9a3.6 3.6 0 1 0 7.2 0a3.6 3.6 0 1 0 -7.2 0M140.0 1779.1a3.6 3.6 0 1 0 7.2 0a3.6 3.6 0 1 0 -7.2 0" fill="#C9C9C9"/>
<rect x="116.1" y="1563.7" width="266.9" height="267.2" fill="none" stroke="#000" stroke-width="1.9"/>
<line x1="128.1" y1="1830.9" x2="128.1" y2="1836.4" stroke="#000" stroke-width="1.6"/>
<text x="125.1" y="1859.4" font-size="22" text-anchor="middle">0.0</text>
<line x1="176.6" y1="1830.9" x2="176.6" y2="1836.4" stroke="#000" stroke-width="1.6"/>
<text x="173.6" y="1859.4" font-size="22" text-anchor="middle">0.2</text>
<line x1="225" y1="1830.9" x2="225" y2="1836.4" stroke="#000" stroke-width="1.6"/>
<text x="222" y="1859.4" font-size="22" text-anchor="middle">0.4</text>
<line x1="273.5" y1="1830.9" x2="273.5" y2="1836.4" stroke="#000" stroke-width="1.6"/>
<text x="270.5" y="1859.4" font-size="22" text-anchor="middle">0.6</text>
<line x1="321.9" y1="1830.9" x2="321.9" y2="1836.4" stroke="#000" stroke-width="1.6"/>
<text x="318.9" y="1859.4" font-size="22" text-anchor="middle">0.8</text>
<line x1="370.4" y1="1830.9" x2="370.4" y2="1836.4" stroke="#000" stroke-width="1.6"/>
<text x="367.4" y="1859.4" font-size="22" text-anchor="middle">1.0</text>
<line x1="110.6" y1="1818.9" x2="116.1" y2="1818.9" stroke="#000" stroke-width="1.6"/>
<text x="103" y="1818.9" font-size="22" text-anchor="middle" transform="rotate(-90 103 1818.9)">0.0</text>
<line x1="110.6" y1="1770.4" x2="116.1" y2="1770.4" stroke="#000" stroke-width="1.6"/>
<text x="103" y="1770.4" font-size="22" text-anchor="middle" transform="rotate(-90 103 1770.4)">0.2</text>
<line x1="110.6" y1="1722" x2="116.1" y2="1722" stroke="#000" stroke-width="1.6"/>
<text x="103" y="1722" font-size="22" text-anchor="middle" transform="rotate(-90 103 1722)">0.4</text>
<line x1="110.6" y1="1673.5" x2="116.1" y2="1673.5" stroke="#000" stroke-width="1.6"/>
<text x="103" y="1673.5" font-size="22" text-anchor="middle" transform="rotate(-90 103 1673.5)">0.6</text>
<line x1="110.6" y1="1625.1" x2="116.1" y2="1625.1" stroke="#000" stroke-width="1.6"/>
<text x="103" y="1625.1" font-size="22" text-anchor="middle" transform="rotate(-90 103 1625.1)">0.8</text>
<line x1="110.6" y1="1576.6" x2="116.1" y2="1576.6" stroke="#000" stroke-width="1.6"/>
<text x="103" y="1576.6" font-size="22" text-anchor="middle" transform="rotate(-90 103 1576.6)">1.0</text>
<text x="242.7" y="1883.3" font-size="21.4" text-anchor="middle">DNA methylation level (oocyte)</text>
<text x="72" y="1702.8" font-size="21.4" text-anchor="middle" transform="rotate(-90 72 1702.8)">DNA methylation level (sperm)</text>
<path d="M128.1 1562.8v-14.8h8.1v14.8zM136.2 1562.8v-7.4h8.1v7.4zM144.3 1562.8v-7.4h8.1v7.4zM152.3 1562.8v-9.9h8.1v9.9zM160.4 1562.8v-14.8h8.1v14.8zM168.5 1562.8v-25.7h8.1v25.7zM176.6 1562.8v-35.1h8.1v35.1zM184.6 1562.8v-37.0h8.1v37.0zM192.7 1562.8v-49.4h8.1v49.4zM200.8 1562.8v-43.0h8.1v43.0zM208.9 1562.8v-38.5h8.1v38.5zM216.9 1562.8v-29.6h8.1v29.6zM225.0 1562.8v-27.2h8.1v27.2zM233.1 1562.8v-25.7h8.1v25.7zM241.2 1562.8v-27.2h8.1v27.2zM249.2 1562.8v-25.7h8.1v25.7zM257.3 1562.8v-17.3h8.1v17.3zM265.4 1562.8v-14.8h8.1v14.8zM273.5 1562.8v-7.4h8.1v7.4zM281.6 1562.8v-5.9h8.1v5.9zM289.6 1562.8v-4.9h8.1v4.9zM297.7 1562.8v-2.5h8.1v2.5zM305.8 1562.8v-2.0h8.1v2.0zM313.9 1562.8v-1.5h8.1v1.5zM321.9 1562.8v-1.5h8.1v1.5zM330.0 1562.8v-1.0h8.1v1.0zM338.1 1562.8v-1.0h8.1v1.0zM346.2 1562.8v-1.0h8.1v1.0zM354.2 1562.8v-2.0h8.1v2.0zM362.3 1562.8v-3.5h8.1v3.5z" fill="#EA8641" stroke="#222" stroke-width="1.1"/>
<path d="M128.1 1562.8L132.1 1553.4L140.2 1554.2L148.3 1553.9L156.4 1551.7L164.4 1547.2L172.5 1541.1L180.6 1534.9L188.7 1529.9L196.8 1527.2L204.8 1527.7L212.9 1530.8L221.0 1534.7L229.1 1537.7L237.1 1539.5L245.2 1541.0L253.3 1543.4L261.4 1546.8L269.4 1550.7L277.5 1554.2L285.6 1556.8L293.7 1558.6L301.7 1559.9L309.8 1560.8L317.9 1561.3L326.0 1561.6L334.1 1561.7L342.1 1561.7L350.2 1561.5L358.3 1561.1L366.4 1560.7L370.4 1562.8" fill="none" stroke="#111" stroke-width="1.6"/>
<line x1="128.1" y1="1562.8" x2="370.4" y2="1562.8" stroke="#000" stroke-width="1.2"/>
<path d="M384.5 1810.8h0.8v8.1h-0.8zM384.5 1802.7h0.8v8.1h-0.8zM384.5 1794.7h0.8v8.1h-0.8zM384.5 1786.6h0.8v8.1h-0.8zM384.5 1778.5h0.8v8.1h-0.8zM384.5 1770.4h0.8v8.1h-0.8zM384.5 1762.4h0.8v8.1h-0.8zM384.5 1754.3h0.8v8.1h-0.8zM384.5 1746.2h0.8v8.1h-0.8zM384.5 1738.1h1.0v8.1h-1.0zM384.5 1730.1h1.0v8.1h-1.0zM384.5 1722.0h1.5v8.1h-1.5zM384.5 1713.9h3.0v8.1h-3.0zM384.5 1705.8h2.5v8.1h-2.5zM384.5 1697.8h4.0v8.1h-4.0zM384.5 1689.7h4.0v8.1h-4.0zM384.5 1681.6h4.9v8.1h-4.9zM384.5 1673.5h7.4v8.1h-7.4zM384.5 1665.4h9.9v8.1h-9.9zM384.5 1657.4h20.7v8.1h-20.7zM384.5 1649.3h27.2v8.1h-27.2zM384.5 1641.2h30.6v8.1h-30.6zM384.5 1633.1h42.0v8.1h-42.0zM384.5 1625.1h47.9v8.1h-47.9zM384.5 1617.0h46.9v8.1h-46.9zM384.5 1608.9h29.6v8.1h-29.6zM384.5 1600.8h15.8v8.1h-15.8zM384.5 1592.8h9.9v8.1h-9.9zM384.5 1584.7h4.9v8.1h-4.9zM384.5 1576.6h3.0v8.1h-3.0z" fill="#55B594" stroke="#222" stroke-width="1.1"/>
<path d="M384.5 1818.9L384.9 1814.9L384.9 1806.8L384.9 1798.7L384.9 1790.6L384.9 1782.6L384.9 1774.5L384.9 1766.4L385.0 1758.3L385.1 1750.2L385.3 1742.2L385.6 1734.1L386.0 1726.0L386.5 1717.9L387.0 1709.9L387.6 1701.8L388.4 1693.7L389.7 1685.6L392.1 1677.6L396.0 1669.5L401.1 1661.4L406.7 1653.3L412.2 1645.3L417.0 1637.2L419.0 1629.1L416.4 1621.0L409.6 1612.9L401.7 1604.9L395.3 1596.8L391.3 1588.7L389.2 1580.6L384.5 1576.6" fill="none" stroke="#111" stroke-width="1.6"/>
<line x1="384.5" y1="1818.9" x2="384.5" y2="1576.6" stroke="#000" stroke-width="1.2"/>
<text x="393.5" y="1840.9" font-size="18.5">Level</text>
<rect x="392" y="1844.4" width="41.9" height="14.9" fill="url(#lvg)" stroke="#000" stroke-width="1.6"/>
<line x1="400.8" y1="1856.3" x2="400.8" y2="1863.3" stroke="#000" stroke-width="1.4"/>
<text x="400.8" y="1885.4" font-size="19" text-anchor="middle">5</text>
<line x1="420.5" y1="1856.3" x2="420.5" y2="1863.3" stroke="#000" stroke-width="1.4"/>
<text x="420.5" y="1885.4" font-size="19" text-anchor="middle">10</text>
<path d="M611.7 1802.3L619.3 1802.7L628.5 1801.2L639.1 1797.1L649.8 1791.2L687.9 1764.2L721.5 1745.1L734.0 1736.8L741.3 1730.7L747.4 1724.4L753.0 1717.1L757.6 1709.5L761.0 1701.9L763.6 1694.2L765.3 1686.6L766.3 1679.0L766.5 1671.4L765.9 1662.3L764.6 1654.7L762.2 1645.6L759.3 1638.0L755.7 1630.4L751.2 1622.8L745.7 1615.2L739.8 1608.4L734.1 1603.0L727.6 1598.1L721.5 1594.4L715.4 1591.5L707.7 1589.1L700.1 1587.8L692.5 1587.4L683.3 1588.3L675.7 1590.0L668.1 1592.6L660.5 1596.2L652.9 1600.8L645.2 1606.5L637.6 1613.3L631.5 1619.7L625.1 1627.4L618.5 1636.5L606.7 1656.2L601.5 1666.9L595.7 1680.6L591.4 1692.7L587.8 1704.9L585.0 1717.1L583.0 1729.2L581.9 1741.4L581.9 1752.0L582.8 1762.7L584.5 1771.8L587.0 1779.4L590.7 1787.0L594.9 1792.8L599.5 1797.0L605.6 1800.5L611.7 1802.3Z" fill="#F8F5FB" stroke="#8a8a8a" stroke-width="0.6" fill-rule="evenodd" stroke-opacity="0.8"/>
<path d="M613.2 1791.9L620.8 1792.6L630.0 1790.9L639.1 1787.2L648.3 1781.9L659.0 1774.0L686.4 1752.1L715.4 1733.2L725.0 1726.2L736.0 1715.5L740.7 1709.5L744.3 1703.5L749.5 1691.2L751.0 1685.1L752.1 1677.5L751.9 1663.8L749.0 1650.2L743.4 1636.5L735.4 1624.3L726.0 1614.5L715.4 1607.1L709.3 1604.2L701.6 1601.8L695.5 1600.7L687.9 1600.3L681.8 1600.7L674.2 1602.2L668.1 1604.0L660.5 1607.3L652.9 1611.7L646.8 1616.1L634.6 1627.3L623.2 1641.0L612.6 1657.8L602.2 1679.0L597.6 1691.2L594.2 1701.9L589.6 1723.1L588.3 1733.8L587.9 1744.4L588.4 1753.5L589.8 1762.7L592.0 1770.3L594.6 1776.3L598.0 1781.7L602.5 1786.6L607.1 1789.7L613.2 1791.9Z" fill="#E5DCEF" stroke="#8a8a8a" stroke-width="0.6" fill-rule="evenodd" stroke-opacity="0.8"/>
<path d="M616.3 1778.1L623.9 1778.8L631.5 1777.4L640.7 1773.3L649.8 1767.2L660.5 1758.0L686.4 1732.4L710.5 1711.0L717.3 1703.4L722.5 1695.8L726.7 1686.6L729.2 1676.0L729.2 1665.4L727.5 1656.2L724.0 1647.1L718.2 1638.0L710.8 1630.4L703.2 1625.1L692.5 1620.5L686.4 1619.1L680.3 1618.6L669.6 1619.5L663.5 1621.2L657.4 1623.7L646.8 1630.3L636.1 1639.8L626.1 1651.7L617.2 1665.4L608.2 1683.6L601.7 1701.9L597.6 1720.1L596.2 1736.8L596.5 1744.4L597.4 1752.0L598.9 1758.1L601.3 1764.2L604.1 1769.0L607.8 1773.3L611.7 1776.1L616.3 1778.1Z" fill="#D2C2E3" stroke="#8a8a8a" stroke-width="0.6" fill-rule="evenodd" stroke-opacity="0.8"/>
<path d="M620.8 1767.3L623.9 1767.7L628.5 1767.4L636.1 1765.2L645.2 1759.8L654.4 1752.2L664.5 1741.4L676.7 1726.2L693.6 1703.4L701.0 1691.2L704.1 1683.6L705.9 1676.0L706.2 1668.4L704.9 1660.8L701.8 1653.2L697.8 1647.1L691.7 1641.0L684.6 1636.5L677.2 1633.8L668.1 1633.2L659.0 1635.1L649.8 1639.5L640.7 1646.4L631.5 1656.0L623.6 1666.9L616.8 1679.0L610.8 1692.7L606.2 1707.9L603.5 1723.1L603.1 1736.8L604.9 1749.0L608.6 1757.9L611.0 1761.1L614.2 1764.2L617.8 1766.3L620.8 1767.3Z" fill="#BEA9D7" stroke="#8a8a8a" stroke-width="0.6" fill-rule="evenodd" stroke-opacity="0.8"/>
<path d="M622.4 1757.1L628.5 1757.9L636.1 1756.1L643.7 1751.8L650.8 1745.9L659.3 1736.8L667.2 1726.2L674.7 1714.0L681.0 1701.9L684.7 1692.7L687.2 1683.6L688.1 1676.0L687.7 1668.4L685.6 1660.8L682.2 1654.7L678.0 1650.2L672.7 1646.9L666.6 1645.2L659.0 1645.6L652.9 1647.6L645.2 1652.1L637.6 1658.6L630.5 1666.9L624.4 1676.0L618.9 1686.6L614.1 1698.8L611.1 1709.5L609.2 1721.6L609.0 1732.3L610.4 1741.4L613.2 1748.8L617.8 1754.5L622.4 1757.1Z" fill="#AB8FCC" stroke="#8a8a8a" stroke-width="0.6" fill-rule="evenodd" stroke-opacity="0.8"/>
<path d="M625.4 1748.0L630.0 1748.8L636.1 1747.6L642.2 1744.4L648.3 1739.6L654.4 1733.1L660.7 1724.7L666.2 1715.5L670.6 1706.4L673.9 1697.3L675.9 1689.7L676.8 1682.1L676.6 1674.5L675.2 1668.4L672.7 1663.3L669.1 1659.3L665.0 1656.9L660.5 1655.8L654.4 1656.4L648.3 1658.9L642.2 1663.1L636.1 1669.0L631.5 1674.6L626.7 1682.1L622.1 1691.2L618.6 1700.3L616.2 1709.5L614.8 1718.6L614.6 1727.7L615.8 1735.3L617.8 1740.7L620.8 1745.0L625.4 1748.0Z" fill="#9776C0" stroke="#8a8a8a" stroke-width="0.6" fill-rule="evenodd" stroke-opacity="0.8"/>
<path d="M628.5 1738.7L633.0 1739.5L637.6 1738.4L642.2 1736.0L646.8 1732.3L651.3 1727.5L655.7 1721.6L659.4 1715.5L663.0 1707.9L665.8 1700.3L667.3 1694.2L668.1 1688.2L668.1 1682.1L667.0 1676.0L665.0 1671.8L662.0 1668.4L659.2 1666.9L655.9 1666.2L651.3 1666.7L646.8 1668.5L642.2 1671.7L637.6 1676.0L633.0 1681.8L629.1 1688.2L626.1 1694.2L623.3 1701.9L621.3 1709.5L620.3 1717.1L620.3 1723.1L621.3 1729.2L623.2 1733.8L625.4 1736.7L628.5 1738.7Z" fill="#845CB4" stroke="#8a8a8a" stroke-width="0.6" fill-rule="evenodd" stroke-opacity="0.8"/>
<path d="M631.5 1728.0L634.6 1729.0L637.6 1728.7L640.7 1727.5L643.7 1725.5L649.8 1719.0L655.5 1709.5L659.1 1698.8L660.0 1689.7L659.4 1685.1L658.2 1682.1L655.9 1679.1L654.4 1678.1L651.3 1677.4L648.3 1677.8L642.2 1681.2L636.1 1687.8L631.4 1695.8L627.8 1706.4L626.7 1715.5L627.9 1723.1L629.6 1726.2L631.5 1728.0Z" fill="#7143A8" stroke="#8a8a8a" stroke-width="0.6" fill-rule="evenodd" stroke-opacity="0.8"/>
<path d="M632.9 1579.3a3.6 3.6 0 1 0 7.2 0a3.6 3.6 0 1 0 -7.2 0M674.8 1583.2a3.6 3.6 0 1 0 7.2 0a3.6 3.6 0 1 0 -7.2 0M713.7 1581.7a3.6 3.6 0 1 0 7.2 0a3.6 3.6 0 1 0 -7.2 0M739.2 1577.2a3.6 3.6 0 1 0 7.2 0a3.6 3.6 0 1 0 -7.2 0M755.6 1582.3a3.6 3.6 0 1 0 7.2 0a3.6 3.6 0 1 0 -7.2 0M781.1 1582.6a3.6 3.6 0 1 0 7.2 0a3.6 3.6 0 1 0 -7.2 0M707.7 1585.5a3.6 3.6 0 1 0 7.2 0a3.6 3.6 0 1 0 -7.2 0M708.6 1592.1a3.6 3.6 0 1 0 7.2 0a3.6 3.6 0 1 0 -7.2 0M644.9 1592.1a3.6 3.6 0 1 0 7.2 0a3.6 3.6 0 1 0 -7.2 0M583.6 1608.0a3.6 3.6 0 1 0 7.2 0a3.6 3.6 0 1 0 -7.2 0M629.9 1604.1a3.6 3.6 0 1 0 7.2 0a3.6 3.6 0 1 0 -7.2 0M676.3 1603.2a3.6 3.6 0 1 0 7.2 0a3.6 3.6 0 1 0 -7.2 0M685.3 1603.5a3.6 3.6 0 1 0 7.2 0a3.6 3.6 0 1 0 -7.2 0M707.7 1601.1a3.6 3.6 0 1 0 7.2 0a3.6 3.6 0 1 0 -7.2 0M728.7 1604.1a3.6 3.6 0 1 0 7.2 0a3.6 3.6 0 1 0 -7.2 0M758.6 1606.2a3.6 3.6 0 1 0 7.2 0a3.6 3.6 0 1 0 -7.2 0M812.5 1607.1a3.6 3.6 0 1 0 7.2 0a3.6 3.6 0 1 0 -7.2 0M603.0 1615.2a3.6 3.6 0 1 0 7.2 0a3.6 3.6 0 1 0 -7.2 0M606.0 1622.7a3.6 3.6 0 1 0 7.2 0a3.6 3.6 0 1 0 -7.2 0M743.7 1611.6a3.6 3.6 0 1 0 7.2 0a3.6 3.6 0 1 0 -7.2 0M742.2 1618.2a3.6 3.6 0 1 0 7.2 0a3.6 3.6 0 1 0 -7.2 0M791.5 1612.5a3.6 3.6 0 1 0 7.2 0a3.6 3.6 0 1 0 -7.2 0M745.1 1629.5a3.6 3.6 0 1 0 7.2 0a3.6 3.6 0 1 0 -7.2 0M773.6 1628.0a3.6 3.6 0 1 0 7.2 0a3.6 3.6 0 1 0 -7.2 0M737.7 1638.5a3.6 3.6 0 1 0 7.2 0a3.6 3.6 0 1 0 -7.2 0M739.2 1636.1a3.6 3.6 0 1 0 7.2 0a3.6 3.6 0 1 0 -7.2 0M807.1 1655.0a3.6 3.6 0 1 0 7.2 0a3.6 3.6 0 1 0 -7.2 0M602.1 1658.6a3.6 3.6 0 1 0 7.2 0a3.6 3.6 0 1 0 -7.2 0M749.6 1665.4a3.6 3.6 0 1 0 7.2 0a3.6 3.6 0 1 0 -7.2 0M783.4 1672.0a3.6 3.6 0 1 0 7.2 0a3.6 3.6 0 1 0 -7.2 0M592.5 1675.9a3.6 3.6 0 1 0 7.2 0a3.6 3.6 0 1 0 -7.2 0M758.6 1684.0a3.6 3.6 0 1 0 7.2 0a3.6 3.6 0 1 0 -7.2 0M755.6 1690.0a3.6 3.6 0 1 0 7.2 0a3.6 3.6 0 1 0 -7.2 0M773.6 1690.9a3.6 3.6 0 1 0 7.2 0a3.6 3.6 0 1 0 -7.2 0M794.5 1696.9a3.6 3.6 0 1 0 7.2 0a3.6 3.6 0 1 0 -7.2 0M758.6 1706.7a3.6 3.6 0 1 0 7.2 0a3.6 3.6 0 1 0 -7.2 0M761.6 1708.8a3.6 3.6 0 1 0 7.2 0a3.6 3.6 0 1 0 -7.2 0M752.6 1724.4a3.6 3.6 0 1 0 7.2 0a3.6 3.6 0 1 0 -7.2 0M781.1 1730.4a3.6 3.6 0 1 0 7.2 0a3.6 3.6 0 1 0 -7.2 0M749.6 1737.9a3.6 3.6 0 1 0 7.2 0a3.6 3.6 0 1 0 -7.2 0M706.3 1749.8a3.6 3.6 0 1 0 7.2 0a3.6 3.6 0 1 0 -7.2 0M689.8 1755.8a3.6 3.6 0 1 0 7.2 0a3.6 3.6 0 1 0 -7.2 0M689.2 1765.7a3.6 3.6 0 1 0 7.2 0a3.6 3.6 0 1 0 -7.2 0M805.9 1771.1a3.6 3.6 0 1 0 7.2 0a3.6 3.6 0 1 0 -7.2 0M749.0 1776.8a3.6 3.6 0 1 0 7.2 0a3.6 3.6 0 1 0 -7.2 0M671.2 1783.6a3.6 3.6 0 1 0 7.2 0a3.6 3.6 0 1 0 -7.2 0M656.3 1791.7a3.6 3.6 0 1 0 7.2 0a3.6 3.6 0 1 0 -7.2 0M667.4 1794.1a3.6 3.6 0 1 0 7.2 0a3.6 3.6 0 1 0 -7.2 0M589.6 1786.0a3.6 3.6 0 1 0 7.2 0a3.6 3.6 0 1 0 -7.2 0M670.0 1814.2a3.6 3.6 0 1 0 7.2 0a3.6 3.6 0 1 0 -7.2 0M620.4 1792.6a3.6 3.6 0 1 0 7.2 0a3.6 3.6 0 1 0 -7.2 0" fill="#C9C9C9"/>
<rect x="569.8" y="1564.6" width="266.3" height="266.3" fill="none" stroke="#000" stroke-width="1.9"/>
<line x1="581.2" y1="1830.9" x2="581.2" y2="1836.4" stroke="#000" stroke-width="1.6"/>
<text x="578.2" y="1859.4" font-size="22" text-anchor="middle">0.0</text>
<line x1="662" y1="1830.9" x2="662" y2="1836.4" stroke="#000" stroke-width="1.6"/>
<text x="659" y="1859.4" font-size="22" text-anchor="middle">0.2</text>
<line x1="742.8" y1="1830.9" x2="742.8" y2="1836.4" stroke="#000" stroke-width="1.6"/>
<text x="739.8" y="1859.4" font-size="22" text-anchor="middle">0.4</text>
<line x1="823.6" y1="1830.9" x2="823.6" y2="1836.4" stroke="#000" stroke-width="1.6"/>
<text x="820.6" y="1859.4" font-size="22" text-anchor="middle">0.6</text>
<line x1="564.3" y1="1818.9" x2="569.8" y2="1818.9" stroke="#000" stroke-width="1.6"/>
<text x="555" y="1818.9" font-size="22" text-anchor="middle" transform="rotate(-90 555 1818.9)">0.0</text>
<line x1="564.3" y1="1738.3" x2="569.8" y2="1738.3" stroke="#000" stroke-width="1.6"/>
<text x="555" y="1738.3" font-size="22" text-anchor="middle" transform="rotate(-90 555 1738.3)">0.2</text>
<line x1="564.3" y1="1657.8" x2="569.8" y2="1657.8" stroke="#000" stroke-width="1.6"/>
<text x="555" y="1657.8" font-size="22" text-anchor="middle" transform="rotate(-90 555 1657.8)">0.4</text>
<line x1="564.3" y1="1577.2" x2="569.8" y2="1577.2" stroke="#000" stroke-width="1.6"/>
<text x="555" y="1577.2" font-size="22" text-anchor="middle" transform="rotate(-90 555 1577.2)">0.6</text>
<text x="700.6" y="1879.4" font-size="21.4" text-anchor="middle">H3K9me3 signal (oocyte)</text>
<text x="528" y="1693" font-size="21.4" text-anchor="middle" transform="rotate(-90 528 1693)">H3K9me3 signal (Sperm)</text>
<path d="M581.2 1562.8v-4.0h8.1v4.0zM589.3 1562.8v-5.9h8.1v5.9zM597.4 1562.8v-14.8h8.1v14.8zM605.4 1562.8v-14.8h8.1v14.8zM613.5 1562.8v-32.1h8.1v32.1zM621.6 1562.8v-42.0h8.1v42.0zM629.7 1562.8v-49.4h8.1v49.4zM637.8 1562.8v-37.0h8.1v37.0zM645.8 1562.8v-48.4h8.1v48.4zM653.9 1562.8v-37.0h8.1v37.0zM662.0 1562.8v-27.2h8.1v27.2zM670.1 1562.8v-33.1h8.1v33.1zM678.2 1562.8v-34.6h8.1v34.6zM686.2 1562.8v-17.3h8.1v17.3zM694.3 1562.8v-16.3h8.1v16.3zM702.4 1562.8v-16.3h8.1v16.3zM710.5 1562.8v-10.9h8.1v10.9zM718.6 1562.8v-13.3h8.1v13.3zM726.6 1562.8v-7.4h8.1v7.4zM734.7 1562.8v-8.9h8.1v8.9zM742.8 1562.8v-5.9h8.1v5.9zM750.9 1562.8v-4.9h8.1v4.9zM759.0 1562.8v-4.0h8.1v4.0zM767.0 1562.8v-3.0h8.1v3.0zM775.1 1562.8v-2.0h8.1v2.0zM783.2 1562.8v-2.5h8.1v2.5zM791.3 1562.8v-1.5h8.1v1.5zM799.4 1562.8v-2.0h8.1v2.0zM807.4 1562.8v-1.0h8.1v1.0zM815.5 1562.8v-1.0h8.1v1.0z" fill="#EA8641" stroke="#222" stroke-width="1.1"/>
<path d="M581.2 1562.8L585.2 1556.8L593.3 1554.5L601.4 1550.6L609.5 1544.8L617.6 1537.7L625.6 1531.4L633.7 1527.8L641.8 1527.2L649.9 1528.7L658.0 1531.5L666.0 1534.4L674.1 1536.9L682.2 1539.8L690.3 1543.8L698.4 1547.4L706.4 1550.0L714.5 1551.8L722.6 1553.4L730.7 1554.8L738.8 1556.2L746.8 1557.4L754.9 1558.5L763.0 1559.4L771.1 1560.1L779.2 1560.6L787.2 1561.0L795.3 1561.2L803.4 1561.5L811.5 1561.7L819.6 1561.8L823.6 1562.8" fill="none" stroke="#111" stroke-width="1.6"/>
<line x1="581.2" y1="1562.8" x2="823.6" y2="1562.8" stroke="#000" stroke-width="1.2"/>
<path d="M838.5 1810.8h0.8v8.1h-0.8zM838.5 1802.8h0.8v8.1h-0.8zM838.5 1794.7h1.0v8.1h-1.0zM838.5 1786.7h1.5v8.1h-1.5zM838.5 1778.6h2.4v8.1h-2.4zM838.5 1770.6h7.3v8.1h-7.3zM838.5 1762.5h7.3v8.1h-7.3zM838.5 1754.4h8.3v8.1h-8.3zM838.5 1746.4h14.6v8.1h-14.6zM838.5 1738.3h22.0v8.1h-22.0zM838.5 1730.3h19.5v8.1h-19.5zM838.5 1722.2h22.0v8.1h-22.0zM838.5 1714.2h26.8v8.1h-26.8zM838.5 1706.1h36.6v8.1h-36.6zM838.5 1698.1h48.8v8.1h-48.8zM838.5 1690.0h48.8v8.1h-48.8zM838.5 1681.9h29.3v8.1h-29.3zM838.5 1673.9h36.6v8.1h-36.6zM838.5 1665.8h31.7v8.1h-31.7zM838.5 1657.8h29.3v8.1h-29.3zM838.5 1649.7h24.4v8.1h-24.4zM838.5 1641.7h26.8v8.1h-26.8zM838.5 1633.6h14.6v8.1h-14.6zM838.5 1625.5h18.1v8.1h-18.1zM838.5 1617.5h15.6v8.1h-15.6zM838.5 1609.4h13.7v8.1h-13.7zM838.5 1601.4h12.2v8.1h-12.2zM838.5 1593.3h3.4v8.1h-3.4zM838.5 1585.3h2.4v8.1h-2.4zM838.5 1577.2h8.8v8.1h-8.8z" fill="#55B594" stroke="#222" stroke-width="1.1"/>
<path d="M838.5 1818.9L839.0 1814.9L839.2 1806.8L839.6 1798.8L840.5 1790.7L841.8 1782.6L843.5 1774.6L845.5 1766.5L848.0 1758.5L851.1 1750.4L854.2 1742.4L856.8 1734.3L859.8 1726.2L864.3 1718.2L869.7 1710.1L873.5 1702.1L873.6 1694.0L871.1 1686.0L868.2 1677.9L865.8 1669.9L863.5 1661.8L860.9 1653.7L858.2 1645.7L855.5 1637.6L853.4 1629.6L851.7 1621.5L849.7 1613.5L847.2 1605.4L844.8 1597.3L843.6 1589.3L843.6 1581.2L838.5 1577.2" fill="none" stroke="#111" stroke-width="1.6"/>
<line x1="838.5" y1="1818.9" x2="838.5" y2="1577.2" stroke="#000" stroke-width="1.2"/>
<text x="847.5" y="1840.9" font-size="18.5">Level</text>
<rect x="846" y="1844.4" width="41.3" height="14.6" fill="url(#lvg)" stroke="#000" stroke-width="1.6"/>
<line x1="854.3" y1="1856" x2="854.3" y2="1863" stroke="#000" stroke-width="1.4"/>
<text x="854.3" y="1883.9" font-size="19" text-anchor="middle">5</text>
<line x1="875.7" y1="1856" x2="875.7" y2="1863" stroke="#000" stroke-width="1.4"/>
<text x="875.7" y="1883.9" font-size="19" text-anchor="middle">10</text>
<path d="M1185.7 1709.7L1193.3 1710.8L1200.8 1710.7L1206.9 1709.9L1214.4 1707.9L1223.9 1703.6L1243.1 1691.7L1265.8 1683.2L1276.4 1677.8L1282.3 1673.7L1287.0 1669.7L1298.7 1655.8L1303.7 1651.3L1311.1 1646.8L1326.3 1638.9L1330.8 1635.9L1335.3 1632.1L1337.9 1628.9L1339.9 1624.4L1340.1 1621.4L1338.7 1616.9L1336.5 1614.0L1333.2 1611.0L1324.7 1606.1L1314.2 1602.5L1300.6 1599.9L1280.9 1598.7L1250.7 1599.9L1240.1 1599.7L1211.4 1596.7L1185.7 1595.9L1181.0 1594.5L1174.3 1590.0L1131.3 1590.0L1131.3 1663.2L1144.8 1673.7L1149.4 1677.9L1152.5 1681.6L1161.1 1694.6L1167.0 1700.6L1175.1 1706.0L1185.7 1709.7Z" fill="#F8F5FB" stroke="#8a8a8a" stroke-width="0.6" fill-rule="evenodd" stroke-opacity="0.8"/>
<path d="M1187.2 1702.3L1193.3 1703.4L1200.8 1703.3L1208.4 1701.6L1214.4 1698.7L1219.0 1695.2L1222.2 1691.6L1225.0 1687.2L1229.5 1677.7L1233.1 1673.7L1238.2 1670.7L1256.7 1662.1L1279.4 1646.6L1285.5 1643.8L1306.6 1636.4L1315.7 1631.9L1319.4 1628.9L1321.7 1625.9L1322.7 1621.4L1321.7 1618.4L1318.7 1615.0L1312.7 1611.4L1305.1 1608.7L1297.5 1607.2L1280.9 1606.1L1255.2 1607.6L1247.7 1607.6L1238.6 1606.6L1220.5 1602.8L1209.9 1601.4L1200.8 1600.9L1181.2 1601.0L1178.2 1600.5L1175.1 1599.0L1164.8 1590.0L1131.3 1590.0L1131.3 1624.0L1131.9 1627.4L1131.5 1634.9L1132.2 1639.4L1133.5 1642.3L1137.3 1647.6L1143.3 1652.8L1149.4 1656.8L1164.0 1664.7L1167.5 1667.7L1169.4 1672.2L1169.3 1681.2L1169.8 1685.7L1172.2 1691.6L1174.4 1694.6L1178.2 1698.0L1182.7 1700.6L1187.2 1702.3Z" fill="#E2D8ED" stroke="#8a8a8a" stroke-width="0.6" fill-rule="evenodd" stroke-opacity="0.8"/>
<path d="M1194.8 1687.4L1196.3 1687.7L1198.9 1687.2L1200.2 1685.7L1200.1 1684.2L1197.8 1682.4L1194.8 1682.7L1193.3 1684.2L1193.1 1685.7L1194.8 1687.4ZM1193.3 1656.0L1203.8 1656.4L1215.9 1655.2L1225.0 1653.3L1235.6 1649.6L1244.6 1644.4L1252.1 1637.9L1258.1 1630.4L1259.0 1627.4L1258.3 1625.9L1253.5 1622.9L1232.6 1612.8L1225.0 1610.0L1214.4 1607.2L1205.4 1606.0L1197.8 1605.7L1190.2 1606.2L1175.1 1608.1L1169.1 1607.8L1167.6 1607.1L1166.1 1605.4L1162.8 1599.0L1160.2 1596.0L1155.5 1593.0L1150.9 1591.6L1144.9 1591.0L1140.4 1591.6L1135.8 1593.2L1131.9 1596.0L1131.3 1596.6L1131.3 1608.9L1134.3 1611.8L1137.3 1613.7L1147.9 1617.9L1150.7 1619.9L1151.5 1622.9L1151.0 1630.4L1151.6 1634.9L1153.7 1639.4L1156.3 1642.3L1162.3 1646.8L1170.6 1650.7L1181.2 1653.9L1193.3 1656.0Z" fill="#CBBADF" stroke="#8a8a8a" stroke-width="0.6" fill-rule="evenodd" stroke-opacity="0.8"/>
<path d="M1187.2 1647.0L1196.3 1648.0L1206.9 1647.8L1215.9 1646.2L1223.5 1643.7L1230.9 1639.4L1235.0 1634.9L1236.6 1630.4L1236.0 1625.9L1233.1 1621.4L1226.5 1616.4L1219.0 1612.9L1209.9 1610.6L1200.8 1609.7L1191.8 1610.0L1182.7 1611.6L1173.6 1614.6L1167.6 1618.4L1164.0 1622.9L1162.8 1625.9L1162.4 1628.9L1163.4 1633.4L1166.6 1637.9L1172.1 1641.9L1178.2 1644.6L1187.2 1647.0ZM1144.9 1605.1L1148.1 1605.0L1149.7 1603.5L1149.6 1602.0L1147.9 1600.7L1146.4 1600.3L1144.9 1600.4L1143.4 1601.2L1142.7 1602.0L1142.8 1603.5L1144.9 1605.1Z" fill="#B49CD2" stroke="#8a8a8a" stroke-width="0.6" fill-rule="evenodd" stroke-opacity="0.8"/>
<path d="M1188.7 1642.4L1196.3 1643.4L1205.4 1643.1L1212.9 1641.6L1219.0 1639.4L1223.7 1636.4L1227.4 1631.9L1228.1 1628.9L1227.2 1624.4L1223.5 1620.1L1219.0 1617.1L1212.9 1614.7L1206.9 1613.4L1200.8 1612.8L1193.3 1613.0L1185.7 1614.4L1179.7 1616.6L1174.2 1619.9L1171.5 1622.9L1170.2 1625.9L1170.2 1630.4L1172.8 1634.9L1176.4 1637.9L1181.2 1640.3L1188.7 1642.4Z" fill="#9E7EC4" stroke="#8a8a8a" stroke-width="0.6" fill-rule="evenodd" stroke-opacity="0.8"/>
<path d="M1196.3 1639.5L1206.9 1638.8L1211.4 1637.5L1215.9 1635.4L1218.6 1633.4L1220.7 1630.4L1221.2 1627.4L1220.3 1624.4L1217.7 1621.4L1214.4 1619.3L1209.9 1617.4L1203.8 1616.1L1197.8 1615.8L1191.8 1616.4L1185.7 1618.0L1181.9 1619.9L1178.3 1622.9L1176.7 1625.9L1176.6 1628.9L1177.9 1631.9L1181.0 1634.9L1185.7 1637.3L1190.2 1638.6L1196.3 1639.5Z" fill="#8760B6" stroke="#8a8a8a" stroke-width="0.6" fill-rule="evenodd" stroke-opacity="0.8"/>
<path d="M1191.8 1635.0L1196.3 1635.8L1200.8 1635.8L1208.4 1634.1L1211.4 1632.5L1213.6 1630.4L1214.4 1628.9L1214.3 1625.9L1212.1 1622.9L1209.9 1621.4L1203.8 1619.5L1196.3 1619.1L1188.7 1620.9L1185.7 1622.6L1183.9 1624.4L1183.2 1625.9L1183.1 1628.9L1185.7 1632.2L1191.8 1635.0Z" fill="#7143A8" stroke="#8a8a8a" stroke-width="0.6" fill-rule="evenodd" stroke-opacity="0.8"/>
<path d="M1274.3 1590.6a3.6 3.6 0 1 0 7.2 0a3.6 3.6 0 1 0 -7.2 0M1319.2 1593.0a3.6 3.6 0 1 0 7.2 0a3.6 3.6 0 1 0 -7.2 0M1337.5 1591.8a3.6 3.6 0 1 0 7.2 0a3.6 3.6 0 1 0 -7.2 0M1356.0 1593.0a3.6 3.6 0 1 0 7.2 0a3.6 3.6 0 1 0 -7.2 0M1366.5 1589.1a3.6 3.6 0 1 0 7.2 0a3.6 3.6 0 1 0 -7.2 0M1368.0 1593.0a3.6 3.6 0 1 0 7.2 0a3.6 3.6 0 1 0 -7.2 0M1294.7 1598.1a3.6 3.6 0 1 0 7.2 0a3.6 3.6 0 1 0 -7.2 0M1312.6 1600.5a3.6 3.6 0 1 0 7.2 0a3.6 3.6 0 1 0 -7.2 0M1350.9 1601.1a3.6 3.6 0 1 0 7.2 0a3.6 3.6 0 1 0 -7.2 0M1334.5 1608.6a3.6 3.6 0 1 0 7.2 0a3.6 3.6 0 1 0 -7.2 0M1345.5 1610.7a3.6 3.6 0 1 0 7.2 0a3.6 3.6 0 1 0 -7.2 0M1360.5 1604.7a3.6 3.6 0 1 0 7.2 0a3.6 3.6 0 1 0 -7.2 0M1323.1 1619.7a3.6 3.6 0 1 0 7.2 0a3.6 3.6 0 1 0 -7.2 0M1336.0 1619.1a3.6 3.6 0 1 0 7.2 0a3.6 3.6 0 1 0 -7.2 0M1309.6 1625.0a3.6 3.6 0 1 0 7.2 0a3.6 3.6 0 1 0 -7.2 0M1356.0 1627.4a3.6 3.6 0 1 0 7.2 0a3.6 3.6 0 1 0 -7.2 0M1127.7 1615.5a3.6 3.6 0 1 0 7.2 0a3.6 3.6 0 1 0 -7.2 0M1130.7 1602.6a3.6 3.6 0 1 0 7.2 0a3.6 3.6 0 1 0 -7.2 0M1136.1 1657.4a3.6 3.6 0 1 0 7.2 0a3.6 3.6 0 1 0 -7.2 0M1303.1 1644.5a3.6 3.6 0 1 0 7.2 0a3.6 3.6 0 1 0 -7.2 0M1315.6 1643.9a3.6 3.6 0 1 0 7.2 0a3.6 3.6 0 1 0 -7.2 0M1327.0 1645.4a3.6 3.6 0 1 0 7.2 0a3.6 3.6 0 1 0 -7.2 0M1290.2 1652.9a3.6 3.6 0 1 0 7.2 0a3.6 3.6 0 1 0 -7.2 0M1315.0 1655.9a3.6 3.6 0 1 0 7.2 0a3.6 3.6 0 1 0 -7.2 0M1327.6 1655.9a3.6 3.6 0 1 0 7.2 0a3.6 3.6 0 1 0 -7.2 0M1270.7 1661.0a3.6 3.6 0 1 0 7.2 0a3.6 3.6 0 1 0 -7.2 0M1257.3 1673.8a3.6 3.6 0 1 0 7.2 0a3.6 3.6 0 1 0 -7.2 0M1246.2 1674.4a3.6 3.6 0 1 0 7.2 0a3.6 3.6 0 1 0 -7.2 0M1133.1 1684.3a3.6 3.6 0 1 0 7.2 0a3.6 3.6 0 1 0 -7.2 0M1127.7 1688.5a3.6 3.6 0 1 0 7.2 0a3.6 3.6 0 1 0 -7.2 0M1151.0 1678.3a3.6 3.6 0 1 0 7.2 0a3.6 3.6 0 1 0 -7.2 0M1161.5 1689.4a3.6 3.6 0 1 0 7.2 0a3.6 3.6 0 1 0 -7.2 0M1261.8 1684.9a3.6 3.6 0 1 0 7.2 0a3.6 3.6 0 1 0 -7.2 0M1282.7 1688.8a3.6 3.6 0 1 0 7.2 0a3.6 3.6 0 1 0 -7.2 0M1256.7 1690.9a3.6 3.6 0 1 0 7.2 0a3.6 3.6 0 1 0 -7.2 0M1243.2 1685.8a3.6 3.6 0 1 0 7.2 0a3.6 3.6 0 1 0 -7.2 0M1136.1 1703.7a3.6 3.6 0 1 0 7.2 0a3.6 3.6 0 1 0 -7.2 0M1146.6 1704.3a3.6 3.6 0 1 0 7.2 0a3.6 3.6 0 1 0 -7.2 0M1156.1 1698.4a3.6 3.6 0 1 0 7.2 0a3.6 3.6 0 1 0 -7.2 0M1148.1 1699.9a3.6 3.6 0 1 0 7.2 0a3.6 3.6 0 1 0 -7.2 0M1153.4 1707.3a3.6 3.6 0 1 0 7.2 0a3.6 3.6 0 1 0 -7.2 0M1169.0 1706.7a3.6 3.6 0 1 0 7.2 0a3.6 3.6 0 1 0 -7.2 0M1188.5 1704.3a3.6 3.6 0 1 0 7.2 0a3.6 3.6 0 1 0 -7.2 0M1205.5 1704.9a3.6 3.6 0 1 0 7.2 0a3.6 3.6 0 1 0 -7.2 0M1218.4 1702.2a3.6 3.6 0 1 0 7.2 0a3.6 3.6 0 1 0 -7.2 0M1154.6 1715.7a3.6 3.6 0 1 0 7.2 0a3.6 3.6 0 1 0 -7.2 0M1184.0 1719.3a3.6 3.6 0 1 0 7.2 0a3.6 3.6 0 1 0 -7.2 0M1222.3 1715.7a3.6 3.6 0 1 0 7.2 0a3.6 3.6 0 1 0 -7.2 0M1227.4 1715.4a3.6 3.6 0 1 0 7.2 0a3.6 3.6 0 1 0 -7.2 0M1219.0 1722.3a3.6 3.6 0 1 0 7.2 0a3.6 3.6 0 1 0 -7.2 0M1245.9 1722.3a3.6 3.6 0 1 0 7.2 0a3.6 3.6 0 1 0 -7.2 0M1258.8 1720.2a3.6 3.6 0 1 0 7.2 0a3.6 3.6 0 1 0 -7.2 0M1266.3 1719.9a3.6 3.6 0 1 0 7.2 0a3.6 3.6 0 1 0 -7.2 0M1277.6 1721.7a3.6 3.6 0 1 0 7.2 0a3.6 3.6 0 1 0 -7.2 0M1346.1 1718.7a3.6 3.6 0 1 0 7.2 0a3.6 3.6 0 1 0 -7.2 0M1133.1 1727.7a3.6 3.6 0 1 0 7.2 0a3.6 3.6 0 1 0 -7.2 0M1157.6 1730.7a3.6 3.6 0 1 0 7.2 0a3.6 3.6 0 1 0 -7.2 0M1168.1 1724.7a3.6 3.6 0 1 0 7.2 0a3.6 3.6 0 1 0 -7.2 0M1184.9 1727.4a3.6 3.6 0 1 0 7.2 0a3.6 3.6 0 1 0 -7.2 0M1252.8 1728.9a3.6 3.6 0 1 0 7.2 0a3.6 3.6 0 1 0 -7.2 0M1270.1 1731.3a3.6 3.6 0 1 0 7.2 0a3.6 3.6 0 1 0 -7.2 0M1201.9 1740.2a3.6 3.6 0 1 0 7.2 0a3.6 3.6 0 1 0 -7.2 0M1148.1 1753.7a3.6 3.6 0 1 0 7.2 0a3.6 3.6 0 1 0 -7.2 0M1159.4 1748.6a3.6 3.6 0 1 0 7.2 0a3.6 3.6 0 1 0 -7.2 0M1168.4 1753.7a3.6 3.6 0 1 0 7.2 0a3.6 3.6 0 1 0 -7.2 0M1175.0 1752.2a3.6 3.6 0 1 0 7.2 0a3.6 3.6 0 1 0 -7.2 0M1180.4 1749.8a3.6 3.6 0 1 0 7.2 0a3.6 3.6 0 1 0 -7.2 0M1181.9 1755.2a3.6 3.6 0 1 0 7.2 0a3.6 3.6 0 1 0 -7.2 0M1210.9 1749.8a3.6 3.6 0 1 0 7.2 0a3.6 3.6 0 1 0 -7.2 0M1302.8 1754.6a3.6 3.6 0 1 0 7.2 0a3.6 3.6 0 1 0 -7.2 0M1344.9 1748.3a3.6 3.6 0 1 0 7.2 0a3.6 3.6 0 1 0 -7.2 0M1350.6 1763.6a3.6 3.6 0 1 0 7.2 0a3.6 3.6 0 1 0 -7.2 0M1151.0 1770.8a3.6 3.6 0 1 0 7.2 0a3.6 3.6 0 1 0 -7.2 0M1178.0 1769.3a3.6 3.6 0 1 0 7.2 0a3.6 3.6 0 1 0 -7.2 0M1147.2 1777.6a3.6 3.6 0 1 0 7.2 0a3.6 3.6 0 1 0 -7.2 0M1148.1 1779.1a3.6 3.6 0 1 0 7.2 0a3.6 3.6 0 1 0 -7.2 0M1157.9 1782.1a3.6 3.6 0 1 0 7.2 0a3.6 3.6 0 1 0 -7.2 0M1261.2 1778.5a3.6 3.6 0 1 0 7.2 0a3.6 3.6 0 1 0 -7.2 0M1168.4 1790.2a3.6 3.6 0 1 0 7.2 0a3.6 3.6 0 1 0 -7.2 0M1133.1 1794.1a3.6 3.6 0 1 0 7.2 0a3.6 3.6 0 1 0 -7.2 0M1139.1 1795.0a3.6 3.6 0 1 0 7.2 0a3.6 3.6 0 1 0 -7.2 0M1147.2 1799.2a3.6 3.6 0 1 0 7.2 0a3.6 3.6 0 1 0 -7.2 0M1127.7 1799.5a3.6 3.6 0 1 0 7.2 0a3.6 3.6 0 1 0 -7.2 0M1127.7 1806.7a3.6 3.6 0 1 0 7.2 0a3.6 3.6 0 1 0 -7.2 0M1157.0 1804.6a3.6 3.6 0 1 0 7.2 0a3.6 3.6 0 1 0 -7.2 0M1184.6 1807.6a3.6 3.6 0 1 0 7.2 0a3.6 3.6 0 1 0 -7.2 0M1196.8 1799.5a3.6 3.6 0 1 0 7.2 0a3.6 3.6 0 1 0 -7.2 0M1318.0 1806.1a3.6 3.6 0 1 0 7.2 0a3.6 3.6 0 1 0 -7.2 0M1231.8 1813.0a3.6 3.6 0 1 0 7.2 0a3.6 3.6 0 1 0 -7.2 0M1231.8 1814.5a3.6 3.6 0 1 0 7.2 0a3.6 3.6 0 1 0 -7.2 0M1127.7 1820.4a3.6 3.6 0 1 0 7.2 0a3.6 3.6 0 1 0 -7.2 0M1136.7 1819.5a3.6 3.6 0 1 0 7.2 0a3.6 3.6 0 1 0 -7.2 0M1185.5 1820.4a3.6 3.6 0 1 0 7.2 0a3.6 3.6 0 1 0 -7.2 0M1197.4 1821.6a3.6 3.6 0 1 0 7.2 0a3.6 3.6 0 1 0 -7.2 0M1204.9 1819.5a3.6 3.6 0 1 0 7.2 0a3.6 3.6 0 1 0 -7.2 0M1368.0 1816.5a3.6 3.6 0 1 0 7.2 0a3.6 3.6 0 1 0 -7.2 0" fill="#C9C9C9"/>
<circle cx="1131.3" cy="1589.7" r="3.3" fill="#1B9E77" stroke="#3a2a1a" stroke-width="1"/>
<text x="1151" y="1595.1" font-size="21.5">pCHM_824</text>
<rect x="1118.7" y="1572.7" width="264.9" height="266.9" fill="none" stroke="#000" stroke-width="1.9"/>
<line x1="1131.3" y1="1839.6" x2="1131.3" y2="1845.1" stroke="#000" stroke-width="1.6"/>
<text x="1128.3" y="1865.4" font-size="22" text-anchor="middle">0.0</text>
<line x1="1179.4" y1="1839.6" x2="1179.4" y2="1845.1" stroke="#000" stroke-width="1.6"/>
<text x="1176.4" y="1865.4" font-size="22" text-anchor="middle">0.2</text>
<line x1="1227.4" y1="1839.6" x2="1227.4" y2="1845.1" stroke="#000" stroke-width="1.6"/>
<text x="1224.4" y="1865.4" font-size="22" text-anchor="middle">0.4</text>
<line x1="1275.5" y1="1839.6" x2="1275.5" y2="1845.1" stroke="#000" stroke-width="1.6"/>
<text x="1272.5" y="1865.4" font-size="22" text-anchor="middle">0.6</text>
<line x1="1323.5" y1="1839.6" x2="1323.5" y2="1845.1" stroke="#000" stroke-width="1.6"/>
<text x="1320.5" y="1865.4" font-size="22" text-anchor="middle">0.8</text>
<line x1="1371.6" y1="1839.6" x2="1371.6" y2="1845.1" stroke="#000" stroke-width="1.6"/>
<text x="1368.6" y="1865.4" font-size="22" text-anchor="middle">1.0</text>
<line x1="1113.2" y1="1827.6" x2="1118.7" y2="1827.6" stroke="#000" stroke-width="1.6"/>
<text x="1109.8" y="1827.6" font-size="22" text-anchor="middle" transform="rotate(-90 1109.8 1827.6)">0.0</text>
<line x1="1113.2" y1="1779.1" x2="1118.7" y2="1779.1" stroke="#000" stroke-width="1.6"/>
<text x="1109.8" y="1779.1" font-size="22" text-anchor="middle" transform="rotate(-90 1109.8 1779.1)">0.2</text>
<line x1="1113.2" y1="1730.6" x2="1118.7" y2="1730.6" stroke="#000" stroke-width="1.6"/>
<text x="1109.8" y="1730.6" font-size="22" text-anchor="middle" transform="rotate(-90 1109.8 1730.6)">0.4</text>
<line x1="1113.2" y1="1682.2" x2="1118.7" y2="1682.2" stroke="#000" stroke-width="1.6"/>
<text x="1109.8" y="1682.2" font-size="22" text-anchor="middle" transform="rotate(-90 1109.8 1682.2)">0.6</text>
<line x1="1113.2" y1="1633.7" x2="1118.7" y2="1633.7" stroke="#000" stroke-width="1.6"/>
<text x="1109.8" y="1633.7" font-size="22" text-anchor="middle" transform="rotate(-90 1109.8 1633.7)">0.8</text>
<line x1="1113.2" y1="1585.2" x2="1118.7" y2="1585.2" stroke="#000" stroke-width="1.6"/>
<text x="1109.8" y="1585.2" font-size="22" text-anchor="middle" transform="rotate(-90 1109.8 1585.2)">1.0</text>
<text x="1251.8" y="1888.4" font-size="21.4" text-anchor="middle">DNA methylation level (oocyte)</text>
<text x="1080" y="1704.4" font-size="21.4" text-anchor="middle" transform="rotate(-90 1080 1704.4)">DNA methylation level (sperm)</text>
<path d="M1131.3 1571.2v-31.6h8.0v31.6zM1139.3 1571.2v-19.8h8.0v19.8zM1147.3 1571.2v-34.6h8.0v34.6zM1155.3 1571.2v-31.6h8.0v31.6zM1163.3 1571.2v-22.2h8.0v22.2zM1171.3 1571.2v-28.7h8.0v28.7zM1179.4 1571.2v-49.4h8.0v49.4zM1187.4 1571.2v-42.0h8.0v42.0zM1195.4 1571.2v-40.5h8.0v40.5zM1203.4 1571.2v-31.6h8.0v31.6zM1211.4 1571.2v-28.7h8.0v28.7zM1219.4 1571.2v-23.7h8.0v23.7zM1227.4 1571.2v-37.5h8.0v37.5zM1235.4 1571.2v-14.8h8.0v14.8zM1243.4 1571.2v-14.8h8.0v14.8zM1251.4 1571.2v-18.8h8.0v18.8zM1259.5 1571.2v-13.3h8.0v13.3zM1267.5 1571.2v-8.9h8.0v8.9zM1275.5 1571.2v-9.9h8.0v9.9zM1283.5 1571.2v-8.9h8.0v8.9zM1291.5 1571.2v-4.9h8.0v4.9zM1299.5 1571.2v-4.9h8.0v4.9zM1307.5 1571.2v-4.9h8.0v4.9zM1315.5 1571.2v-5.9h8.0v5.9zM1323.5 1571.2v-3.5h8.0v3.5zM1331.5 1571.2v-3.5h8.0v3.5zM1339.6 1571.2v-4.9h8.0v4.9zM1347.6 1571.2v-2.5h8.0v2.5zM1355.6 1571.2v-3.5h8.0v3.5zM1363.6 1571.2v-7.4h8.0v7.4z" fill="#EA8641" stroke="#222" stroke-width="1.1"/>
<path d="M1131.3 1571.2L1135.3 1546.2L1143.3 1546.0L1151.3 1545.5L1159.3 1545.1L1167.3 1544.0L1175.4 1540.8L1183.4 1537.0L1191.4 1535.6L1199.4 1537.5L1207.4 1541.0L1215.4 1544.0L1223.4 1546.1L1231.4 1548.5L1239.4 1551.9L1247.4 1555.1L1255.5 1557.3L1263.5 1559.3L1271.5 1561.2L1279.5 1562.8L1287.5 1564.2L1295.5 1565.4L1303.5 1566.2L1311.5 1566.6L1319.5 1567.0L1327.5 1567.3L1335.6 1567.6L1343.6 1567.8L1351.6 1567.7L1359.6 1567.3L1367.6 1566.6L1371.6 1571.2" fill="none" stroke="#111" stroke-width="1.6"/>
<line x1="1131.3" y1="1571.2" x2="1371.6" y2="1571.2" stroke="#000" stroke-width="1.2"/>
<path d="M1385.6 1819.5h3.9v8.1h-3.9zM1385.6 1811.4h1.5v8.1h-1.5zM1385.6 1803.4h2.0v8.1h-2.0zM1385.6 1795.3h1.5v8.1h-1.5zM1385.6 1787.2h2.4v8.1h-2.4zM1385.6 1779.1h5.9v8.1h-5.9zM1385.6 1771.0h1.5v8.1h-1.5zM1385.6 1763.0h2.4v8.1h-2.4zM1385.6 1754.9h2.0v8.1h-2.0zM1385.6 1746.8h2.9v8.1h-2.9zM1385.6 1738.7h2.4v8.1h-2.4zM1385.6 1730.6h3.4v8.1h-3.4zM1385.6 1722.6h2.4v8.1h-2.4zM1385.6 1714.5h3.4v8.1h-3.4zM1385.6 1706.4h3.9v8.1h-3.9zM1385.6 1698.3h3.9v8.1h-3.9zM1385.6 1690.2h3.9v8.1h-3.9zM1385.6 1682.2h4.9v8.1h-4.9zM1385.6 1674.1h5.9v8.1h-5.9zM1385.6 1666.0h13.2v8.1h-13.2zM1385.6 1657.9h17.1v8.1h-17.1zM1385.6 1649.8h18.1v8.1h-18.1zM1385.6 1641.8h33.2v8.1h-33.2zM1385.6 1633.7h41.5v8.1h-41.5zM1385.6 1625.6h48.8v8.1h-48.8zM1385.6 1617.5h29.3v8.1h-29.3zM1385.6 1609.4h18.5v8.1h-18.5zM1385.6 1601.4h19.5v8.1h-19.5zM1385.6 1593.3h26.8v8.1h-26.8zM1385.6 1585.2h24.4v8.1h-24.4z" fill="#55B594" stroke="#222" stroke-width="1.1"/>
<path d="M1385.6 1827.6L1388.2 1823.6L1387.8 1815.5L1387.6 1807.4L1387.9 1799.3L1388.3 1791.2L1388.6 1783.2L1388.4 1775.1L1388.0 1767.0L1388.0 1758.9L1388.1 1750.8L1388.3 1742.8L1388.4 1734.7L1388.6 1726.6L1388.9 1718.5L1389.2 1710.4L1389.5 1702.4L1390.1 1694.3L1391.5 1686.2L1394.0 1678.1L1397.7 1670.0L1402.5 1662.0L1408.5 1653.9L1415.5 1645.8L1420.6 1637.7L1420.7 1629.6L1416.1 1621.6L1410.9 1613.5L1408.5 1605.4L1408.5 1597.3L1409.2 1589.2L1385.6 1585.2" fill="none" stroke="#111" stroke-width="1.6"/>
<line x1="1385.6" y1="1827.6" x2="1385.6" y2="1585.2" stroke="#000" stroke-width="1.2"/>
<text x="1397" y="1849" font-size="18.5">Level</text>
<rect x="1395.5" y="1852.5" width="41.1" height="14.9" fill="url(#lvg)" stroke="#000" stroke-width="1.6"/>
<line x1="1406.2" y1="1864.4" x2="1406.2" y2="1871.4" stroke="#000" stroke-width="1.4"/>
<text x="1406.2" y="1892.8" font-size="19" text-anchor="middle">2</text>
<line x1="1425.5" y1="1864.4" x2="1425.5" y2="1871.4" stroke="#000" stroke-width="1.4"/>
<text x="1425.5" y="1892.8" font-size="19" text-anchor="middle">6</text>
<path d="M1588.2 1827.1L1713.3 1827.1L1733.5 1813.4L1742.7 1808.8L1765.0 1799.2L1772.6 1794.7L1778.7 1790.0L1785.2 1782.9L1789.2 1775.3L1790.7 1767.7L1790.5 1763.1L1789.5 1758.6L1786.7 1752.5L1783.3 1747.8L1778.7 1743.1L1771.1 1737.5L1760.4 1731.8L1734.4 1720.5L1708.6 1704.8L1693.3 1697.9L1684.2 1694.9L1675.1 1692.8L1665.9 1691.6L1656.8 1691.1L1647.6 1691.3L1638.5 1692.3L1629.3 1694.1L1620.2 1696.7L1611.1 1700.4L1603.4 1704.3L1595.8 1709.3L1588.2 1715.5L1588.2 1827.1Z" fill="#F8F5FB" stroke="#8a8a8a" stroke-width="0.6" fill-rule="evenodd" stroke-opacity="0.8"/>
<path d="M1603.4 1827.1L1683.2 1827.1L1693.3 1821.2L1710.7 1808.8L1717.7 1804.8L1725.4 1802.0L1743.6 1797.4L1752.8 1794.5L1760.4 1791.2L1766.5 1787.5L1773.4 1781.4L1776.6 1776.9L1778.0 1773.8L1779.2 1769.2L1779.3 1766.2L1779.0 1763.1L1777.7 1758.6L1775.1 1754.0L1771.2 1749.4L1766.5 1745.6L1760.4 1742.0L1754.3 1739.2L1746.7 1736.6L1724.0 1731.2L1716.2 1728.5L1709.4 1725.1L1691.8 1713.6L1685.7 1710.4L1678.1 1707.5L1665.9 1704.9L1652.2 1704.6L1637.0 1706.7L1621.7 1711.1L1612.6 1715.2L1603.4 1721.1L1595.3 1728.1L1588.2 1736.7L1588.2 1812.7L1595.7 1821.0L1603.4 1827.1Z" fill="#E5DCEF" stroke="#8a8a8a" stroke-width="0.6" fill-rule="evenodd" stroke-opacity="0.8"/>
<path d="M1629.3 1825.8L1638.5 1826.5L1647.6 1825.7L1656.8 1823.6L1665.9 1820.1L1673.0 1816.4L1679.6 1812.2L1699.4 1795.5L1707.1 1791.2L1714.7 1789.6L1731.4 1788.6L1739.1 1787.6L1746.7 1785.7L1752.8 1783.3L1759.9 1778.4L1762.6 1775.3L1764.3 1772.3L1765.6 1766.2L1764.0 1760.1L1760.6 1755.5L1757.4 1752.7L1752.8 1749.9L1746.7 1747.4L1736.0 1745.1L1714.7 1744.0L1710.1 1743.2L1707.1 1742.1L1702.5 1739.1L1691.8 1728.1L1685.7 1723.1L1679.6 1719.4L1672.0 1716.5L1661.3 1715.1L1650.7 1716.2L1638.5 1719.6L1623.2 1725.7L1615.6 1729.9L1608.0 1735.5L1601.9 1741.6L1597.2 1747.9L1593.0 1755.5L1590.2 1763.1L1588.5 1772.3L1588.3 1781.4L1589.4 1789.0L1591.8 1796.6L1595.7 1804.3L1600.4 1810.4L1606.5 1816.1L1612.6 1820.1L1620.2 1823.5L1629.3 1825.8Z" fill="#D2C2E3" stroke="#8a8a8a" stroke-width="0.6" fill-rule="evenodd" stroke-opacity="0.8"/>
<path d="M1626.3 1815.1L1635.4 1816.3L1644.6 1815.5L1655.3 1812.3L1664.4 1807.6L1673.5 1801.0L1682.7 1792.6L1692.4 1781.4L1699.9 1770.8L1701.6 1766.2L1701.5 1763.1L1698.8 1755.5L1694.6 1746.4L1691.3 1740.3L1686.8 1734.2L1682.7 1730.2L1678.1 1726.9L1670.5 1723.7L1662.9 1722.7L1655.3 1723.5L1647.6 1725.9L1634.7 1732.7L1617.9 1743.4L1609.7 1751.0L1604.3 1758.6L1600.5 1767.7L1598.8 1776.9L1599.3 1786.0L1601.4 1793.6L1605.6 1801.2L1611.1 1807.2L1618.7 1812.3L1626.3 1815.1ZM1729.9 1775.4L1737.5 1774.9L1743.6 1772.3L1745.3 1770.8L1746.9 1767.7L1746.7 1764.7L1745.9 1763.1L1743.6 1760.9L1740.6 1759.2L1733.0 1757.7L1725.2 1758.6L1718.2 1761.6L1715.2 1764.7L1714.8 1767.7L1715.6 1769.2L1719.2 1772.3L1722.3 1773.7L1729.9 1775.4Z" fill="#BEA9D7" stroke="#8a8a8a" stroke-width="0.6" fill-rule="evenodd" stroke-opacity="0.8"/>
<path d="M1633.9 1807.3L1640.0 1807.1L1646.1 1805.7L1652.2 1803.3L1659.8 1799.1L1669.0 1792.8L1676.6 1786.5L1682.7 1780.0L1686.9 1773.8L1689.4 1767.7L1690.4 1763.1L1690.5 1757.1L1689.5 1751.0L1687.2 1744.9L1683.5 1738.8L1679.6 1734.6L1675.1 1731.4L1669.0 1728.9L1662.9 1728.2L1656.8 1729.0L1649.2 1731.9L1641.2 1737.3L1620.9 1754.0L1615.6 1759.5L1612.1 1764.7L1608.9 1772.3L1607.9 1779.9L1608.8 1787.5L1611.1 1793.2L1614.5 1798.2L1620.2 1803.1L1626.3 1805.9L1633.9 1807.3Z" fill="#AB8FCC" stroke="#8a8a8a" stroke-width="0.6" fill-rule="evenodd" stroke-opacity="0.8"/>
<path d="M1629.3 1797.0L1633.9 1797.9L1638.5 1797.8L1647.6 1795.1L1669.0 1784.0L1675.1 1779.4L1678.9 1775.3L1681.9 1770.8L1683.9 1766.2L1685.0 1761.6L1685.2 1755.5L1684.0 1749.4L1682.1 1744.9L1679.0 1740.3L1675.8 1737.3L1670.5 1734.3L1664.4 1733.0L1658.3 1733.6L1652.2 1736.0L1647.6 1739.1L1643.1 1743.4L1633.9 1754.4L1622.9 1766.2L1620.0 1770.8L1618.2 1775.3L1617.5 1779.9L1618.0 1784.5L1619.7 1789.0L1621.9 1792.1L1625.5 1795.1L1629.3 1797.0Z" fill="#9776C0" stroke="#8a8a8a" stroke-width="0.6" fill-rule="evenodd" stroke-opacity="0.8"/>
<path d="M1643.1 1780.3L1652.2 1780.8L1661.3 1779.3L1669.0 1776.1L1675.1 1770.8L1677.2 1767.7L1679.2 1763.1L1680.1 1755.5L1679.3 1751.0L1678.2 1747.9L1676.3 1744.9L1673.5 1741.8L1670.5 1739.8L1667.4 1738.7L1661.3 1738.3L1656.8 1739.6L1653.7 1741.3L1648.3 1746.4L1645.2 1751.0L1642.3 1757.1L1639.3 1766.2L1637.9 1772.3L1637.9 1775.3L1638.5 1777.3L1640.0 1779.0L1643.1 1780.3Z" fill="#845CB4" stroke="#8a8a8a" stroke-width="0.6" fill-rule="evenodd" stroke-opacity="0.8"/>
<path d="M1656.8 1771.1L1659.8 1771.6L1662.9 1771.3L1667.4 1769.6L1671.4 1766.2L1674.0 1761.6L1674.9 1755.5L1673.8 1751.0L1670.6 1746.4L1667.4 1744.5L1662.9 1743.8L1658.3 1745.0L1653.7 1748.8L1650.7 1754.0L1649.5 1760.1L1650.2 1764.7L1652.2 1768.3L1653.7 1769.6L1656.8 1771.1Z" fill="#7143A8" stroke="#8a8a8a" stroke-width="0.6" fill-rule="evenodd" stroke-opacity="0.8"/>
<path d="M1718.8 1643.6a3.6 3.6 0 1 0 7.2 0a3.6 3.6 0 1 0 -7.2 0M1675.8 1673.4a3.6 3.6 0 1 0 7.2 0a3.6 3.6 0 1 0 -7.2 0M1654.4 1677.3a3.6 3.6 0 1 0 7.2 0a3.6 3.6 0 1 0 -7.2 0M1697.1 1679.9a3.6 3.6 0 1 0 7.2 0a3.6 3.6 0 1 0 -7.2 0M1725.8 1679.9a3.6 3.6 0 1 0 7.2 0a3.6 3.6 0 1 0 -7.2 0M1627.6 1686.4a3.6 3.6 0 1 0 7.2 0a3.6 3.6 0 1 0 -7.2 0M1724.5 1687.9a3.6 3.6 0 1 0 7.2 0a3.6 3.6 0 1 0 -7.2 0M1733.6 1689.8a3.6 3.6 0 1 0 7.2 0a3.6 3.6 0 1 0 -7.2 0M1743.5 1687.9a3.6 3.6 0 1 0 7.2 0a3.6 3.6 0 1 0 -7.2 0M1609.8 1692.9a3.6 3.6 0 1 0 7.2 0a3.6 3.6 0 1 0 -7.2 0M1755.3 1698.1a3.6 3.6 0 1 0 7.2 0a3.6 3.6 0 1 0 -7.2 0M1753.4 1704.1a3.6 3.6 0 1 0 7.2 0a3.6 3.6 0 1 0 -7.2 0M1745.6 1712.7a3.6 3.6 0 1 0 7.2 0a3.6 3.6 0 1 0 -7.2 0M1774.8 1716.6a3.6 3.6 0 1 0 7.2 0a3.6 3.6 0 1 0 -7.2 0M1786.5 1737.5a3.6 3.6 0 1 0 7.2 0a3.6 3.6 0 1 0 -7.2 0M1755.8 1739.3a3.6 3.6 0 1 0 7.2 0a3.6 3.6 0 1 0 -7.2 0M1813.9 1745.0a3.6 3.6 0 1 0 7.2 0a3.6 3.6 0 1 0 -7.2 0M1813.9 1754.9a3.6 3.6 0 1 0 7.2 0a3.6 3.6 0 1 0 -7.2 0M1777.4 1755.7a3.6 3.6 0 1 0 7.2 0a3.6 3.6 0 1 0 -7.2 0M1776.1 1765.4a3.6 3.6 0 1 0 7.2 0a3.6 3.6 0 1 0 -7.2 0M1745.6 1733.6a3.6 3.6 0 1 0 7.2 0a3.6 3.6 0 1 0 -7.2 0M1752.1 1798.7a3.6 3.6 0 1 0 7.2 0a3.6 3.6 0 1 0 -7.2 0M1773.5 1798.7a3.6 3.6 0 1 0 7.2 0a3.6 3.6 0 1 0 -7.2 0M1750.8 1817.5a3.6 3.6 0 1 0 7.2 0a3.6 3.6 0 1 0 -7.2 0M1689.6 1822.2a3.6 3.6 0 1 0 7.2 0a3.6 3.6 0 1 0 -7.2 0M1697.4 1826.6a3.6 3.6 0 1 0 7.2 0a3.6 3.6 0 1 0 -7.2 0M1704.4 1826.6a3.6 3.6 0 1 0 7.2 0a3.6 3.6 0 1 0 -7.2 0M1706.5 1826.6a3.6 3.6 0 1 0 7.2 0a3.6 3.6 0 1 0 -7.2 0M1716.7 1826.6a3.6 3.6 0 1 0 7.2 0a3.6 3.6 0 1 0 -7.2 0M1598.9 1826.6a3.6 3.6 0 1 0 7.2 0a3.6 3.6 0 1 0 -7.2 0M1588.5 1768.0a3.6 3.6 0 1 0 7.2 0a3.6 3.6 0 1 0 -7.2 0M1588.5 1783.6a3.6 3.6 0 1 0 7.2 0a3.6 3.6 0 1 0 -7.2 0" fill="#C9C9C9"/>
<circle cx="1606.9" cy="1804.4" r="3.3" fill="#1B9E77" stroke="#3a2a1a" stroke-width="1"/>
<text x="1620.7" y="1808.3" font-size="21.5">pCHM_824</text>
<rect x="1576.4" y="1573.3" width="265.9" height="265.8" fill="none" stroke="#000" stroke-width="1.9"/>
<line x1="1588.2" y1="1839.1" x2="1588.2" y2="1844.6" stroke="#000" stroke-width="1.6"/>
<text x="1585.2" y="1864.1" font-size="22" text-anchor="middle">0.0</text>
<line x1="1669" y1="1839.1" x2="1669" y2="1844.6" stroke="#000" stroke-width="1.6"/>
<text x="1666" y="1864.1" font-size="22" text-anchor="middle">0.2</text>
<line x1="1749.7" y1="1839.1" x2="1749.7" y2="1844.6" stroke="#000" stroke-width="1.6"/>
<text x="1746.7" y="1864.1" font-size="22" text-anchor="middle">0.4</text>
<line x1="1830.5" y1="1839.1" x2="1830.5" y2="1844.6" stroke="#000" stroke-width="1.6"/>
<text x="1827.5" y="1864.1" font-size="22" text-anchor="middle">0.6</text>
<line x1="1570.9" y1="1827.1" x2="1576.4" y2="1827.1" stroke="#000" stroke-width="1.6"/>
<text x="1566" y="1827.1" font-size="22" text-anchor="middle" transform="rotate(-90 1566 1827.1)">0.0</text>
<line x1="1570.9" y1="1746.4" x2="1576.4" y2="1746.4" stroke="#000" stroke-width="1.6"/>
<text x="1566" y="1746.4" font-size="22" text-anchor="middle" transform="rotate(-90 1566 1746.4)">0.2</text>
<line x1="1570.9" y1="1665.7" x2="1576.4" y2="1665.7" stroke="#000" stroke-width="1.6"/>
<text x="1566" y="1665.7" font-size="22" text-anchor="middle" transform="rotate(-90 1566 1665.7)">0.4</text>
<line x1="1570.9" y1="1585" x2="1576.4" y2="1585" stroke="#000" stroke-width="1.6"/>
<text x="1566" y="1585" font-size="22" text-anchor="middle" transform="rotate(-90 1566 1585)">0.6</text>
<text x="1715.9" y="1885.8" font-size="21.4" text-anchor="middle">H3K9me3 signal (oocyte)</text>
<text x="1535" y="1700.8" font-size="21.4" text-anchor="middle" transform="rotate(-90 1535 1700.8)">H3K9me3 signal (Sperm)</text>
<path d="M1588.2 1571.2v-4.9h8.1v4.9zM1596.3 1571.2v-7.8h8.1v7.8zM1604.4 1571.2v-34.1h8.1v34.1zM1612.4 1571.2v-45.3h8.1v45.3zM1620.5 1571.2v-30.7h8.1v30.7zM1628.6 1571.2v-45.3h8.1v45.3zM1636.7 1571.2v-34.1h8.1v34.1zM1644.7 1571.2v-45.3h8.1v45.3zM1652.8 1571.2v-26.8h8.1v26.8zM1660.9 1571.2v-48.7h8.1v48.7zM1669.0 1571.2v-46.3h8.1v46.3zM1677.0 1571.2v-25.3h8.1v25.3zM1685.1 1571.2v-24.4h8.1v24.4zM1693.2 1571.2v-21.9h8.1v21.9zM1701.3 1571.2v-21.9h8.1v21.9zM1709.3 1571.2v-15.6h8.1v15.6zM1717.4 1571.2v-14.6h8.1v14.6zM1725.5 1571.2v-9.7h8.1v9.7zM1733.6 1571.2v-0.8h8.1v0.8zM1741.7 1571.2v-8.8h8.1v8.8zM1749.7 1571.2v-7.3h8.1v7.3zM1757.8 1571.2v-2.9h8.1v2.9zM1765.9 1571.2v-2.9h8.1v2.9zM1774.0 1571.2v-1.0h8.1v1.0zM1782.0 1571.2v-0.8h8.1v0.8zM1790.1 1571.2v-0.8h8.1v0.8zM1798.2 1571.2v-0.8h8.1v0.8zM1806.3 1571.2v-1.5h8.1v1.5zM1814.3 1571.2v-0.8h8.1v0.8zM1822.4 1571.2v-0.8h8.1v0.8z" fill="#EA8641" stroke="#222" stroke-width="1.1"/>
<path d="M1588.2 1571.2L1592.2 1560.0L1600.3 1554.0L1608.4 1546.6L1616.5 1540.7L1624.5 1537.8L1632.6 1536.8L1640.7 1536.6L1648.8 1536.8L1656.9 1536.4L1664.9 1536.1L1673.0 1538.2L1681.1 1542.8L1689.2 1547.6L1697.2 1550.9L1705.3 1553.5L1713.4 1556.3L1721.5 1559.5L1729.5 1562.6L1737.6 1564.8L1745.7 1565.7L1753.8 1566.4L1761.8 1567.5L1769.9 1568.7L1778.0 1569.7L1786.1 1570.3L1794.2 1570.6L1802.2 1570.5L1810.3 1570.5L1818.4 1570.5L1826.5 1570.6L1830.5 1571.2" fill="none" stroke="#111" stroke-width="1.6"/>
<line x1="1588.2" y1="1571.2" x2="1830.5" y2="1571.2" stroke="#000" stroke-width="1.2"/>
<path d="M1844.9 1819.0h27.2v8.1h-27.2zM1844.9 1811.0h19.8v8.1h-19.8zM1844.9 1802.9h32.2v8.1h-32.2zM1844.9 1794.8h27.2v8.1h-27.2zM1844.9 1786.8h29.7v8.1h-29.7zM1844.9 1778.7h29.7v8.1h-29.7zM1844.9 1770.6h47.0v8.1h-47.0zM1844.9 1762.5h49.5v8.1h-49.5zM1844.9 1754.5h33.7v8.1h-33.7zM1844.9 1746.4h47.0v8.1h-47.0zM1844.9 1738.3h38.6v8.1h-38.6zM1844.9 1730.3h47.0v8.1h-47.0zM1844.9 1722.2h27.2v8.1h-27.2zM1844.9 1714.1h15.8v8.1h-15.8zM1844.9 1706.0h12.4v8.1h-12.4zM1844.9 1698.0h7.4v8.1h-7.4zM1844.9 1689.9h7.4v8.1h-7.4zM1844.9 1681.8h5.9v8.1h-5.9zM1844.9 1673.8h4.0v8.1h-4.0zM1844.9 1665.7h2.5v8.1h-2.5zM1844.9 1657.6h1.5v8.1h-1.5zM1844.9 1649.6h1.0v8.1h-1.0zM1844.9 1641.5h0.8v8.1h-0.8zM1844.9 1633.4h0.8v8.1h-0.8zM1844.9 1625.3h0.8v8.1h-0.8zM1844.9 1617.3h0.8v8.1h-0.8zM1844.9 1609.2h0.8v8.1h-0.8zM1844.9 1601.1h0.8v8.1h-0.8zM1844.9 1593.1h0.8v8.1h-0.8zM1844.9 1585.0h0.8v8.1h-0.8z" fill="#55B594" stroke="#222" stroke-width="1.1"/>
<path d="M1844.9 1827.1L1866.4 1823.1L1867.0 1815.0L1868.1 1806.9L1869.4 1798.9L1871.5 1790.8L1874.9 1782.7L1878.6 1774.6L1880.5 1766.6L1880.5 1758.5L1880.1 1750.4L1878.9 1742.4L1875.3 1734.3L1869.1 1726.2L1862.2 1718.2L1856.7 1710.1L1853.2 1702.0L1851.2 1693.9L1849.7 1685.9L1848.5 1677.8L1847.3 1669.7L1846.5 1661.7L1845.9 1653.6L1845.6 1645.5L1845.4 1637.5L1845.3 1629.4L1845.3 1621.3L1845.3 1613.2L1845.3 1605.2L1845.3 1597.1L1845.3 1589.0L1844.9 1585.0" fill="none" stroke="#111" stroke-width="1.6"/>
<line x1="1844.9" y1="1827.1" x2="1844.9" y2="1585" stroke="#000" stroke-width="1.2"/>
<text x="1853.7" y="1849.2" font-size="18.5">Level</text>
<rect x="1852.2" y="1852.7" width="42.2" height="15.6" fill="url(#lvg)" stroke="#000" stroke-width="1.6"/>
<line x1="1862.8" y1="1865.3" x2="1862.8" y2="1872.3" stroke="#000" stroke-width="1.4"/>
<text x="1862.8" y="1890.4" font-size="19" text-anchor="middle">5</text>
<line x1="1882.6" y1="1865.3" x2="1882.6" y2="1872.3" stroke="#000" stroke-width="1.4"/>
<text x="1882.6" y="1890.4" font-size="19" text-anchor="middle">10</text>
</svg></body></html>
